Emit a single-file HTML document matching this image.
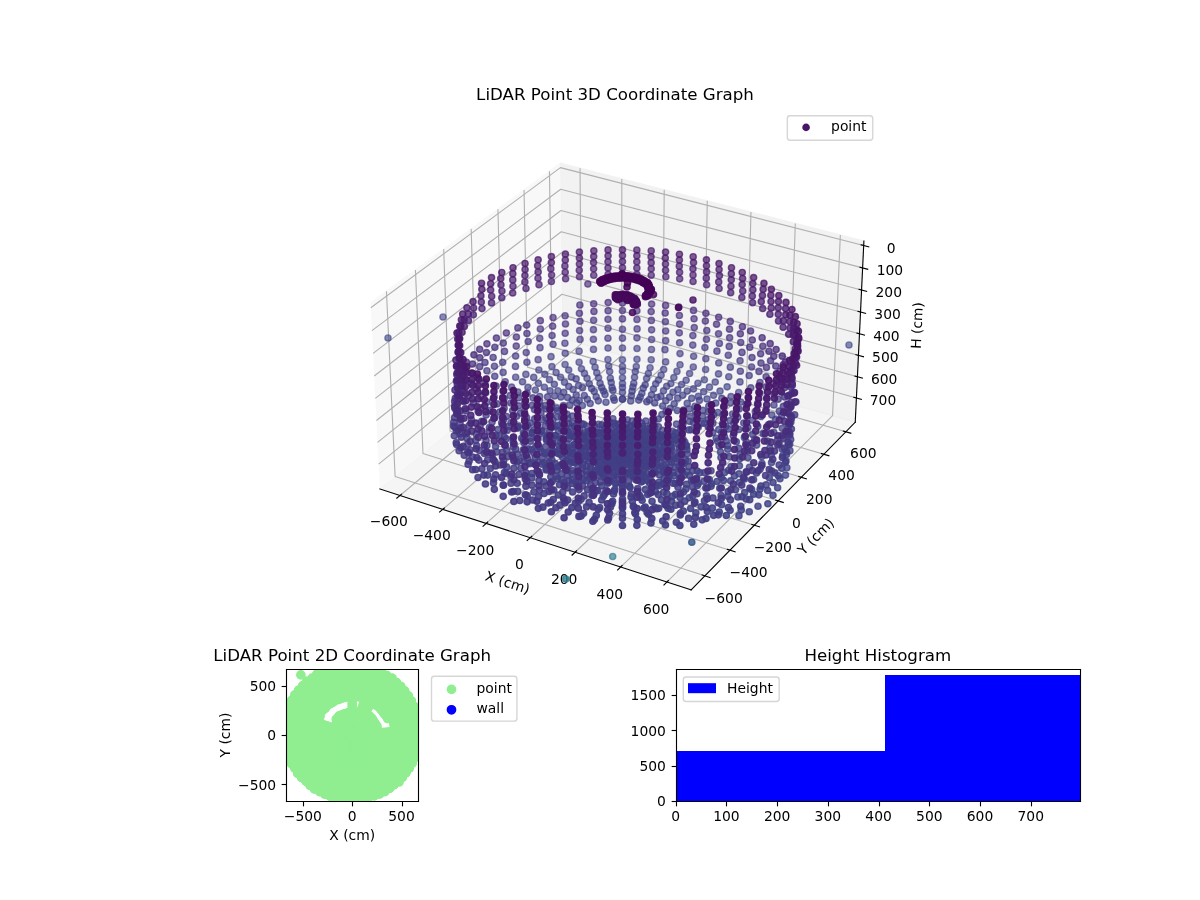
<!DOCTYPE html>
<html><head><meta charset="utf-8"><title>LiDAR Point Graph</title><style>html,body{margin:0;padding:0;background:#fff}svg{display:block}</style></head><body>
<svg width="1200" height="900" viewBox="0 0 864 648">
<defs>
<style type="text/css">#pts3d circle{fill:currentColor;stroke:currentColor;stroke-width:1;fill-opacity:var(--a);stroke-opacity:var(--a)}#pts2d circle{fill:#90ee90;stroke:#90ee90;stroke-width:1}*{stroke-linejoin: round; stroke-linecap: butt}</style>
</defs>
<g id="figure_1">
<g id="patch_1">
<path d="M 0 648 
L 864 648 
L 864 0 
L 0 0 
z
" style="fill: #ffffff"/>
</g>
<g id="patch_2">
<path d="M 252.72 457.92 
L 632.88 457.92 
L 632.88 77.76 
L 252.72 77.76 
z
" style="fill: #ffffff"/>
</g>
<g id="pane3d_1">
<g id="patch_3">
<path d="M 266.785385 218.138618 
L 403.460849 117.524691 
L 404.973247 243.490903 
L 273.518473 352.084876 
" style="fill: #f2f2f2; opacity: 0.5; stroke: #f2f2f2; stroke-linejoin: miter"/>
</g>
</g>
<g id="pane3d_2">
<g id="patch_4">
<path d="M 403.460849 117.524691 
L 622.007247 173.499312 
L 615.78127 303.992982 
L 404.973247 243.490903 
" style="fill: #e6e6e6; opacity: 0.5; stroke: #e6e6e6; stroke-linejoin: miter"/>
</g>
</g>
<g id="pane3d_3">
<g id="patch_5">
<path d="M 273.518473 352.084876 
L 497.572285 424.718985 
L 615.78127 303.992982 
L 404.973247 243.490903 
" style="fill: #ececec; opacity: 0.5; stroke: #ececec; stroke-linejoin: miter"/>
</g>
</g>
<g id="grid3d_1">
<g id="Line3DCollection_1">
<path d="M 287.986749 356.775224 
L 418.647866 247.41553 
L 417.613245 121.149437 
" style="fill: none; stroke: #b0b0b0; stroke-width: 0.8"/>
<path d="M 318.764075 366.752665 
L 447.708462 255.755945 
L 447.700319 128.855409 
" style="fill: none; stroke: #b0b0b0; stroke-width: 0.8"/>
<path d="M 350.024798 376.886814 
L 477.185952 264.21601 
L 478.234485 136.675892 
" style="fill: none; stroke: #b0b0b0; stroke-width: 0.8"/>
<path d="M 381.780398 387.181393 
L 507.08937 272.798316 
L 509.225782 144.613457 
" style="fill: none; stroke: #b0b0b0; stroke-width: 0.8"/>
<path d="M 414.042718 397.640242 
L 537.428016 281.505533 
L 540.684554 152.670752 
" style="fill: none; stroke: #b0b0b0; stroke-width: 0.8"/>
<path d="M 446.823986 408.267323 
L 568.21146 290.340407 
L 572.621458 160.850507 
" style="fill: none; stroke: #b0b0b0; stroke-width: 0.8"/>
<path d="M 480.136824 419.06673 
L 599.449557 299.305767 
L 605.047479 169.155536 
" style="fill: none; stroke: #b0b0b0; stroke-width: 0.8"/>
</g>
</g>
<g id="grid3d_2">
<g id="Line3DCollection_2">
<path d="M 278.232177 209.712038 
L 284.494977 343.017254 
L 507.486584 414.593581 
" style="fill: none; stroke: #b0b0b0; stroke-width: 0.8"/>
<path d="M 299.123406 194.332916 
L 304.543432 326.45535 
L 525.574246 396.12078 
" style="fill: none; stroke: #b0b0b0; stroke-width: 0.8"/>
<path d="M 319.455286 179.365561 
L 324.074401 310.320937 
L 543.169371 378.151002 
" style="fill: none; stroke: #b0b0b0; stroke-width: 0.8"/>
<path d="M 339.249985 164.793652 
L 343.107666 294.597676 
L 560.291808 360.663978 
" style="fill: none; stroke: #b0b0b0; stroke-width: 0.8"/>
<path d="M 358.528515 150.601722 
L 361.66201 279.270047 
L 576.960351 343.640512 
" style="fill: none; stroke: #b0b0b0; stroke-width: 0.8"/>
<path d="M 377.310805 136.775101 
L 379.755285 264.323304 
L 593.192814 327.062413 
" style="fill: none; stroke: #b0b0b0; stroke-width: 0.8"/>
<path d="M 395.615772 123.299861 
L 397.404468 249.743424 
L 609.006087 310.912429 
" style="fill: none; stroke: #b0b0b0; stroke-width: 0.8"/>
</g>
</g>
<g id="grid3d_3">
<g id="Line3DCollection_3">
<path d="M 621.849772 176.799922 
L 403.499034 120.70512 
L 266.955928 221.53136 
" style="fill: none; stroke: #b0b0b0; stroke-width: 0.8"/>
<path d="M 621.081938 192.893377 
L 403.685273 136.21679 
L 267.787301 238.070466 
" style="fill: none; stroke: #b0b0b0; stroke-width: 0.8"/>
<path d="M 620.320854 208.845349 
L 403.869958 151.598986 
L 268.61107 254.458316 
" style="fill: none; stroke: #b0b0b0; stroke-width: 0.8"/>
<path d="M 619.566432 224.657696 
L 404.053107 166.85332 
L 269.42734 270.696975 
" style="fill: none; stroke: #b0b0b0; stroke-width: 0.8"/>
<path d="M 618.818584 240.332243 
L 404.23474 181.981382 
L 270.236213 286.788471 
" style="fill: none; stroke: #b0b0b0; stroke-width: 0.8"/>
<path d="M 618.077226 255.870784 
L 404.414876 196.984732 
L 271.037788 302.734796 
" style="fill: none; stroke: #b0b0b0; stroke-width: 0.8"/>
<path d="M 617.342272 271.275082 
L 404.593533 211.864906 
L 271.832164 318.537906 
" style="fill: none; stroke: #b0b0b0; stroke-width: 0.8"/>
<path d="M 616.613641 286.546868 
L 404.770729 226.623415 
L 272.619438 334.199721 
" style="fill: none; stroke: #b0b0b0; stroke-width: 0.8"/>
</g>
</g>
<g id="axis3d_1">
<g id="line2d_1">
<path d="M 273.518473 352.084876 
L 497.572285 424.718985 
" style="fill: none; stroke: #000000; stroke-width: 0.8; stroke-linecap: square"/>
</g>
<g id="xtick_1">
<g id="line2d_2">
<path d="M 289.128794 355.819365 
L 285.697532 358.691235 
" style="fill: none; stroke: #000000; stroke-width: 0.8; stroke-linecap: square"/>
</g>
<g id="text_1">
<text style="font-size: 10px; font-family: 'DejaVu Sans', sans-serif; text-anchor: middle" x="280.009775" y="378.873636" transform="rotate(-0 280.009775 378.873636)">−600</text>
</g>
</g>
<g id="xtick_2">
<g id="line2d_3">
<path d="M 319.891859 365.781857 
L 316.503406 368.698674 
" style="fill: none; stroke: #000000; stroke-width: 0.8; stroke-linecap: square"/>
</g>
<g id="text_2">
<text style="font-size: 10px; font-family: 'DejaVu Sans', sans-serif; text-anchor: middle" x="310.826093" y="388.997288" transform="rotate(-0 310.826093 388.997288)">−400</text>
</g>
</g>
<g id="xtick_3">
<g id="line2d_4">
<path d="M 351.13773 375.900704 
L 347.793861 378.863531 
" style="fill: none; stroke: #000000; stroke-width: 0.8; stroke-linecap: square"/>
</g>
<g id="text_3">
<text style="font-size: 10px; font-family: 'DejaVu Sans', sans-serif; text-anchor: middle" x="342.128027" y="399.280474" transform="rotate(-0 342.128027 399.280474)">−200</text>
</g>
</g>
<g id="xtick_4">
<g id="line2d_5">
<path d="M 382.877864 386.179617 
L 379.580421 389.18955 
" style="fill: none; stroke: #000000; stroke-width: 0.8; stroke-linecap: square"/>
</g>
<g id="text_4">
<text style="font-size: 10px; font-family: 'DejaVu Sans', sans-serif; text-anchor: middle" x="373.927147" y="409.726992" transform="rotate(-0 373.927147 409.726992)">0</text>
</g>
</g>
<g id="xtick_5">
<g id="line2d_6">
<path d="M 415.124083 396.622422 
L 411.87498 399.680596 
" style="fill: none; stroke: #000000; stroke-width: 0.8; stroke-linecap: square"/>
</g>
<g id="text_5">
<text style="font-size: 10px; font-family: 'DejaVu Sans', sans-serif; text-anchor: middle" x="406.235394" y="420.340768" transform="rotate(-0 406.235394 420.340768)">200</text>
</g>
</g>
<g id="xtick_6">
<g id="line2d_7">
<path d="M 447.888587 407.233073 
L 444.689813 410.340655 
" style="fill: none; stroke: #000000; stroke-width: 0.8; stroke-linecap: square"/>
</g>
<g id="text_6">
<text style="font-size: 10px; font-family: 'DejaVu Sans', sans-serif; text-anchor: middle" x="439.065094" y="431.125848" transform="rotate(-0 439.065094 431.125848)">400</text>
</g>
</g>
<g id="xtick_7">
<g id="line2d_8">
<path d="M 481.183973 418.015647 
L 478.037596 421.173845 
" style="fill: none; stroke: #000000; stroke-width: 0.8; stroke-linecap: square"/>
</g>
<g id="text_7">
<text style="font-size: 10px; font-family: 'DejaVu Sans', sans-serif; text-anchor: middle" x="472.428973" y="442.086415" transform="rotate(-0 472.428973 442.086415)">600</text>
</g>
</g>
<g id="text_8">
<text style="font-size: 10px; font-family: 'DejaVu Sans', sans-serif; text-anchor: middle" x="364.45613" y="422.650536" transform="rotate(-342.038263 364.45613 422.650536)">X (cm)</text>
</g>
</g>
<g id="axis3d_2">
<g id="line2d_9">
<path d="M 615.78127 303.992982 
L 497.572285 424.718985 
" style="fill: none; stroke: #000000; stroke-width: 0.8; stroke-linecap: square"/>
</g>
<g id="xtick_8">
<g id="line2d_10">
<path d="M 505.602702 413.988888 
L 511.259464 415.804608 
" style="fill: none; stroke: #000000; stroke-width: 0.8; stroke-linecap: square"/>
</g>
<g id="text_9">
<text style="font-size: 10px; font-family: 'DejaVu Sans', sans-serif; text-anchor: middle" x="521.048891" y="434.312468" transform="rotate(-0 521.048891 434.312468)">−600</text>
</g>
</g>
<g id="xtick_9">
<g id="line2d_11">
<path d="M 523.708296 395.532661 
L 529.311143 397.29859 
" style="fill: none; stroke: #000000; stroke-width: 0.8; stroke-linecap: square"/>
</g>
<g id="text_10">
<text style="font-size: 10px; font-family: 'DejaVu Sans', sans-serif; text-anchor: middle" x="538.967327" y="415.653645" transform="rotate(-0 538.967327 415.653645)">−400</text>
</g>
</g>
<g id="xtick_10">
<g id="line2d_12">
<path d="M 541.321081 377.578786 
L 546.870832 379.296945 
" style="fill: none; stroke: #000000; stroke-width: 0.8; stroke-linecap: square"/>
</g>
<g id="text_11">
<text style="font-size: 10px; font-family: 'DejaVu Sans', sans-serif; text-anchor: middle" x="556.397352" y="397.503415" transform="rotate(-0 556.397352 397.503415)">−200</text>
</g>
</g>
<g id="xtick_11">
<g id="line2d_13">
<path d="M 558.460909 360.107028 
L 563.958375 361.779329 
" style="fill: none; stroke: #000000; stroke-width: 0.8; stroke-linecap: square"/>
</g>
<g id="text_12">
<text style="font-size: 10px; font-family: 'DejaVu Sans', sans-serif; text-anchor: middle" x="573.358665" y="379.841263" transform="rotate(-0 573.358665 379.841263)">0</text>
</g>
</g>
<g id="xtick_12">
<g id="line2d_14">
<path d="M 575.146577 343.098225 
L 580.592562 344.72648 
" style="fill: none; stroke: #000000; stroke-width: 0.8; stroke-linecap: square"/>
</g>
<g id="text_13">
<text style="font-size: 10px; font-family: 'DejaVu Sans', sans-serif; text-anchor: middle" x="589.869923" y="362.647763" transform="rotate(-0 589.869923 362.647763)">200</text>
</g>
</g>
<g id="xtick_13">
<g id="line2d_15">
<path d="M 591.3959 326.534218 
L 596.791199 328.120144 
" style="fill: none; stroke: #000000; stroke-width: 0.8; stroke-linecap: square"/>
</g>
<g id="text_14">
<text style="font-size: 10px; font-family: 'DejaVu Sans', sans-serif; text-anchor: middle" x="605.948803" y="345.904506" transform="rotate(-0 605.948803 345.904506)">400</text>
</g>
</g>
<g id="xtick_14">
<g id="line2d_16">
<path d="M 607.225774 310.397782 
L 612.571171 311.94301 
" style="fill: none; stroke: #000000; stroke-width: 0.8; stroke-linecap: square"/>
</g>
<g id="text_15">
<text style="font-size: 10px; font-family: 'DejaVu Sans', sans-serif; text-anchor: middle" x="621.612071" y="329.594035" transform="rotate(-0 621.612071 329.594035)">600</text>
</g>
</g>
<g id="text_16">
<text style="font-size: 10px; font-family: 'DejaVu Sans', sans-serif; text-anchor: middle" x="589.874428" y="388.676805" transform="rotate(-45.60355 589.874428 388.676805)">Y (cm)</text>
</g>
</g>
<g id="axis3d_3">
<g id="line2d_17">
<path d="M 615.78127 303.992982 
L 622.007247 173.499312 
" style="fill: none; stroke: #000000; stroke-width: 0.8; stroke-linecap: square"/>
</g>
<g id="xtick_15">
<g id="line2d_18">
<path d="M 620.009936 176.327264 
L 625.53419 177.746458 
" style="fill: none; stroke: #000000; stroke-width: 0.8; stroke-linecap: square"/>
</g>
<g id="text_17">
<text style="font-size: 10px; font-family: 'DejaVu Sans', sans-serif; text-anchor: middle" x="641.612363" y="181.907448" transform="rotate(-0 641.612363 181.907448)">0</text>
</g>
</g>
<g id="xtick_16">
<g id="line2d_19">
<path d="M 619.25055 192.415923 
L 624.749418 193.84951 
" style="fill: none; stroke: #000000; stroke-width: 0.8; stroke-linecap: square"/>
</g>
<g id="text_18">
<text style="font-size: 10px; font-family: 'DejaVu Sans', sans-serif; text-anchor: middle" x="640.759202" y="197.97561" transform="rotate(-0 640.759202 197.97561)">100</text>
</g>
</g>
<g id="xtick_17">
<g id="line2d_20">
<path d="M 618.497837 208.363202 
L 623.971551 209.810875 
" style="fill: none; stroke: #000000; stroke-width: 0.8; stroke-linecap: square"/>
</g>
<g id="text_19">
<text style="font-size: 10px; font-family: 'DejaVu Sans', sans-serif; text-anchor: middle" x="639.913526" y="213.902828" transform="rotate(-0 639.913526 213.902828)">200</text>
</g>
</g>
<g id="xtick_18">
<g id="line2d_21">
<path d="M 617.75171 224.170956 
L 623.200497 225.632415 
" style="fill: none; stroke: #000000; stroke-width: 0.8; stroke-linecap: square"/>
</g>
<g id="text_20">
<text style="font-size: 10px; font-family: 'DejaVu Sans', sans-serif; text-anchor: middle" x="639.075235" y="229.690949" transform="rotate(-0 639.075235 229.690949)">300</text>
</g>
</g>
<g id="xtick_19">
<g id="line2d_22">
<path d="M 617.012082 239.841009 
L 622.43617 241.315958 
" style="fill: none; stroke: #000000; stroke-width: 0.8; stroke-linecap: square"/>
</g>
<g id="text_21">
<text style="font-size: 10px; font-family: 'DejaVu Sans', sans-serif; text-anchor: middle" x="638.244233" y="245.341788" transform="rotate(-0 638.244233 245.341788)">400</text>
</g>
</g>
<g id="xtick_20">
<g id="line2d_23">
<path d="M 616.278869 255.375151 
L 621.678479 256.863302 
" style="fill: none; stroke: #000000; stroke-width: 0.8; stroke-linecap: square"/>
</g>
<g id="text_22">
<text style="font-size: 10px; font-family: 'DejaVu Sans', sans-serif; text-anchor: middle" x="637.420425" y="260.857127" transform="rotate(-0 637.420425 260.857127)">500</text>
</g>
</g>
<g id="xtick_21">
<g id="line2d_24">
<path d="M 615.551988 270.775144 
L 620.92734 272.276214 
" style="fill: none; stroke: #000000; stroke-width: 0.8; stroke-linecap: square"/>
</g>
<g id="text_23">
<text style="font-size: 10px; font-family: 'DejaVu Sans', sans-serif; text-anchor: middle" x="636.60372" y="276.238718" transform="rotate(-0 636.60372 276.238718)">600</text>
</g>
</g>
<g id="xtick_22">
<g id="line2d_25">
<path d="M 614.831357 286.042718 
L 620.182669 287.556429 
" style="fill: none; stroke: #000000; stroke-width: 0.8; stroke-linecap: square"/>
</g>
<g id="text_24">
<text style="font-size: 10px; font-family: 'DejaVu Sans', sans-serif; text-anchor: middle" x="635.794024" y="291.488284" transform="rotate(-0 635.794024 291.488284)">700</text>
</g>
</g>
<g id="text_25">
<text style="font-size: 10px; font-family: 'DejaVu Sans', sans-serif; text-anchor: middle" x="663.718082" y="234.453669" transform="rotate(-87.268435 663.718082 234.453669)">H (cm)</text>
</g>
</g>
<g id="axes_1">
<defs>
<path id="C0_0_0b128e3c6b" d="M 0 2.236068 
C 0.593012 2.236068 1.161816 2.000462 1.581139 1.581139 
C 2.000462 1.161816 2.236068 0.593012 2.236068 -0 
C 2.236068 -0.593012 2.000462 -1.161816 1.581139 -1.581139 
C 1.161816 -2.000462 0.593012 -2.236068 0 -2.236068 
C -0.593012 -2.236068 -1.161816 -2.000462 -1.581139 -1.581139 
C -2.000462 -1.161816 -2.236068 -0.593012 -2.236068 0 
C -2.236068 0.593012 -2.000462 1.161816 -1.581139 1.581139 
C -1.161816 2.000462 -0.593012 2.236068 0 2.236068 
z
"/>
</defs><g id="pts3d" clip-path="url(#p70e1b0653e)">
<circle cx="318.96" cy="228.24" r="2.236" color="#414487" style="--a:0.62"/>
<circle cx="611.28" cy="248.4" r="2.236" color="#3e4989" style="--a:0.62"/>
<circle cx="279.36" cy="243.36" r="2.236" color="#3f4788" style="--a:0.62"/>
<circle cx="407.38" cy="416.88" r="2.236" color="#26818e" style="--a:0.8"/>
<circle cx="441.14" cy="400.68" r="2.236" color="#297a8e" style="--a:0.65"/>
<circle cx="448.18" cy="259.07" r="2.236" color="#424186" style="--a:0.61"/>
<circle cx="427.07" cy="260.25" r="2.236" color="#424186" style="--a:0.61"/>
<circle cx="437.71" cy="258.86" r="2.236" color="#424086" style="--a:0.61"/>
<circle cx="458.62" cy="258.73" r="2.236" color="#424086" style="--a:0.61"/>
<circle cx="416.96" cy="260.84" r="2.236" color="#424086" style="--a:0.62"/>
<circle cx="468.87" cy="259.01" r="2.236" color="#424086" style="--a:0.62"/>
<circle cx="479.26" cy="260.57" r="2.236" color="#424086" style="--a:0.62"/>
<circle cx="448.18" cy="263.84" r="2.236" color="#424186" style="--a:0.62"/>
<circle cx="458.12" cy="263.95" r="2.236" color="#424186" style="--a:0.62"/>
<circle cx="458.65" cy="250.91" r="2.236" color="#433d84" style="--a:0.62"/>
<circle cx="489.6" cy="262.6" r="2.236" color="#424186" style="--a:0.62"/>
<circle cx="468.05" cy="264.78" r="2.236" color="#424186" style="--a:0.62"/>
<circle cx="448.18" cy="250.51" r="2.236" color="#433d84" style="--a:0.62"/>
<circle cx="438.29" cy="263.6" r="2.236" color="#424186" style="--a:0.62"/>
<circle cx="406.85" cy="262.44" r="2.236" color="#424086" style="--a:0.62"/>
<circle cx="437.77" cy="250.61" r="2.236" color="#443b84" style="--a:0.62"/>
<circle cx="469.06" cy="251.62" r="2.236" color="#433d84" style="--a:0.62"/>
<circle cx="428.42" cy="264.38" r="2.236" color="#424186" style="--a:0.62"/>
<circle cx="427.31" cy="251.58" r="2.236" color="#433d84" style="--a:0.62"/>
<circle cx="477.88" cy="265.99" r="2.236" color="#424186" style="--a:0.62"/>
<circle cx="418.66" cy="265.56" r="2.236" color="#424186" style="--a:0.62"/>
<circle cx="416.97" cy="252.84" r="2.236" color="#433d84" style="--a:0.62"/>
<circle cx="448.18" cy="243.46" r="2.236" color="#443983" style="--a:0.63"/>
<circle cx="487.41" cy="267.39" r="2.236" color="#424186" style="--a:0.63"/>
<circle cx="499.17" cy="264.26" r="2.236" color="#424086" style="--a:0.63"/>
<circle cx="437.71" cy="243.49" r="2.236" color="#453882" style="--a:0.63"/>
<circle cx="469.17" cy="244.46" r="2.236" color="#443983" style="--a:0.63"/>
<circle cx="489.6" cy="254.58" r="2.236" color="#433d84" style="--a:0.63"/>
<circle cx="397.39" cy="263.99" r="2.236" color="#424086" style="--a:0.63"/>
<circle cx="427.26" cy="244.3" r="2.236" color="#443983" style="--a:0.63"/>
<circle cx="448.18" cy="237.06" r="2.236" color="#453581" style="--a:0.63"/>
<circle cx="458.59" cy="243.27" r="2.236" color="#453882" style="--a:0.63"/>
<circle cx="406.95" cy="254.32" r="2.236" color="#433d84" style="--a:0.63"/>
<circle cx="466.81" cy="268.95" r="2.236" color="#424186" style="--a:0.63"/>
<circle cx="478.77" cy="251.75" r="2.236" color="#443b84" style="--a:0.63"/>
<circle cx="448.18" cy="267.33" r="2.236" color="#424186" style="--a:0.63"/>
<circle cx="409.44" cy="266.49" r="2.236" color="#424186" style="--a:0.63"/>
<circle cx="438.93" cy="267.56" r="2.236" color="#424186" style="--a:0.63"/>
<circle cx="457.42" cy="267.51" r="2.236" color="#424186" style="--a:0.63"/>
<circle cx="429.68" cy="268.42" r="2.236" color="#424186" style="--a:0.63"/>
<circle cx="476.01" cy="270.06" r="2.236" color="#414287" style="--a:0.63"/>
<circle cx="507.14" cy="273.43" r="2.236" color="#414487" style="--a:0.63"/>
<circle cx="479.29" cy="245.26" r="2.236" color="#453882" style="--a:0.63"/>
<circle cx="458.7" cy="236.81" r="2.236" color="#453581" style="--a:0.63"/>
<circle cx="396.74" cy="256.78" r="2.236" color="#433d84" style="--a:0.63"/>
<circle cx="499.41" cy="256.55" r="2.236" color="#433d84" style="--a:0.63"/>
<circle cx="496.51" cy="268.97" r="2.236" color="#424186" style="--a:0.63"/>
<circle cx="469.17" cy="237.49" r="2.236" color="#453581" style="--a:0.63"/>
<circle cx="485.19" cy="271.85" r="2.236" color="#414287" style="--a:0.63"/>
<circle cx="423.25" cy="204.51" r="2.236" color="#482878" style="--a:0.63"/>
<circle cx="387.99" cy="266.4" r="2.236" color="#424086" style="--a:0.63"/>
<circle cx="406.75" cy="247.12" r="2.236" color="#443983" style="--a:0.63"/>
<circle cx="427.27" cy="237.34" r="2.236" color="#463480" style="--a:0.63"/>
<circle cx="437.77" cy="236.36" r="2.236" color="#463480" style="--a:0.63"/>
<circle cx="508.05" cy="266.03" r="2.236" color="#424086" style="--a:0.63"/>
<circle cx="411.42" cy="271.35" r="2.236" color="#424186" style="--a:0.63"/>
<circle cx="420.81" cy="268.86" r="2.236" color="#424186" style="--a:0.63"/>
<circle cx="400.39" cy="268.17" r="2.236" color="#424086" style="--a:0.63"/>
<circle cx="489.3" cy="246.76" r="2.236" color="#453882" style="--a:0.64"/>
<circle cx="448.18" cy="271.99" r="2.236" color="#424186" style="--a:0.64"/>
<circle cx="439.44" cy="272.3" r="2.236" color="#414287" style="--a:0.64"/>
<circle cx="417.66" cy="244.35" r="2.236" color="#453781" style="--a:0.64"/>
<circle cx="479.29" cy="238.34" r="2.236" color="#463480" style="--a:0.64"/>
<circle cx="494.03" cy="273.76" r="2.236" color="#414287" style="--a:0.64"/>
<circle cx="456.85" cy="271.69" r="2.236" color="#424186" style="--a:0.64"/>
<circle cx="465.55" cy="272.61" r="2.236" color="#424186" style="--a:0.64"/>
<circle cx="387.47" cy="258.96" r="2.236" color="#433d84" style="--a:0.64"/>
<circle cx="458.61" cy="229.99" r="2.236" color="#46307e" style="--a:0.64"/>
<circle cx="417.3" cy="238.03" r="2.236" color="#463480" style="--a:0.64"/>
<circle cx="378.63" cy="269.58" r="2.236" color="#424086" style="--a:0.64"/>
<circle cx="437.76" cy="229.95" r="2.236" color="#46307e" style="--a:0.64"/>
<circle cx="448.18" cy="229.62" r="2.236" color="#46307e" style="--a:0.64"/>
<circle cx="483.01" cy="276.15" r="2.236" color="#414287" style="--a:0.64"/>
<circle cx="430.95" cy="272.01" r="2.236" color="#424186" style="--a:0.64"/>
<circle cx="474.11" cy="273.63" r="2.236" color="#424186" style="--a:0.64"/>
<circle cx="468.99" cy="230.68" r="2.236" color="#46307e" style="--a:0.64"/>
<circle cx="517.34" cy="269.19" r="2.236" color="#424086" style="--a:0.64"/>
<circle cx="406.94" cy="239.97" r="2.236" color="#463480" style="--a:0.64"/>
<circle cx="508.19" cy="258.25" r="2.236" color="#443b84" style="--a:0.64"/>
<circle cx="427.43" cy="230.57" r="2.236" color="#46307e" style="--a:0.64"/>
<circle cx="514.97" cy="275.07" r="2.236" color="#414287" style="--a:0.64"/>
<circle cx="498.8" cy="248.47" r="2.236" color="#453882" style="--a:0.64"/>
<circle cx="489.11" cy="239.64" r="2.236" color="#463480" style="--a:0.64"/>
<circle cx="502.52" cy="275.95" r="2.236" color="#414287" style="--a:0.64"/>
<circle cx="448.18" cy="276.18" r="2.236" color="#414287" style="--a:0.64"/>
<circle cx="392.26" cy="269.53" r="2.236" color="#424086" style="--a:0.64"/>
<circle cx="422.66" cy="272.43" r="2.236" color="#424186" style="--a:0.64"/>
<circle cx="403.63" cy="271.61" r="2.236" color="#424086" style="--a:0.64"/>
<circle cx="464.53" cy="277.07" r="2.236" color="#414287" style="--a:0.64"/>
<circle cx="479.09" cy="231.62" r="2.236" color="#46307e" style="--a:0.64"/>
<circle cx="398.19" cy="247.84" r="2.236" color="#453882" style="--a:0.64"/>
<circle cx="456.32" cy="275.95" r="2.236" color="#414287" style="--a:0.64"/>
<circle cx="448.18" cy="223.57" r="2.236" color="#472e7c" style="--a:0.64"/>
<circle cx="458.58" cy="223.81" r="2.236" color="#472e7c" style="--a:0.64"/>
<circle cx="448.18" cy="218.18" r="2.236" color="#472c7a" style="--a:0.65"/>
<circle cx="437.82" cy="223.7" r="2.236" color="#472d7b" style="--a:0.65"/>
<circle cx="440.09" cy="275.43" r="2.236" color="#424186" style="--a:0.65"/>
<circle cx="417.6" cy="231.26" r="2.236" color="#46307e" style="--a:0.65"/>
<circle cx="490.74" cy="276.86" r="2.236" color="#414287" style="--a:0.65"/>
<circle cx="489.31" cy="233.35" r="2.236" color="#46307e" style="--a:0.65"/>
<circle cx="517.49" cy="261.34" r="2.236" color="#433d84" style="--a:0.65"/>
<circle cx="498.88" cy="241.64" r="2.236" color="#463480" style="--a:0.65"/>
<circle cx="432.04" cy="276.01" r="2.236" color="#424186" style="--a:0.65"/>
<circle cx="397.51" cy="241.62" r="2.236" color="#463480" style="--a:0.65"/>
<circle cx="407.14" cy="233.27" r="2.236" color="#46307e" style="--a:0.65"/>
<circle cx="468.84" cy="224.37" r="2.236" color="#472e7c" style="--a:0.65"/>
<circle cx="523.55" cy="278.55" r="2.236" color="#414287" style="--a:0.65"/>
<circle cx="499.87" cy="235.89" r="2.236" color="#46327e" style="--a:0.65"/>
<circle cx="510.8" cy="278.73" r="2.236" color="#414287" style="--a:0.65"/>
<circle cx="379.39" cy="260.86" r="2.236" color="#443b84" style="--a:0.65"/>
<circle cx="427.64" cy="224.21" r="2.236" color="#472d7b" style="--a:0.65"/>
<circle cx="499.3" cy="280.01" r="2.236" color="#414287" style="--a:0.65"/>
<circle cx="417.17" cy="225.62" r="2.236" color="#472e7c" style="--a:0.65"/>
<circle cx="469.16" cy="218.95" r="2.236" color="#472c7a" style="--a:0.65"/>
<circle cx="414.83" cy="272.82" r="2.236" color="#424086" style="--a:0.65"/>
<circle cx="388.79" cy="250.3" r="2.236" color="#453882" style="--a:0.65"/>
<circle cx="507.55" cy="250.29" r="2.236" color="#453882" style="--a:0.65"/>
<circle cx="395.65" cy="273.35" r="2.236" color="#424086" style="--a:0.65"/>
<circle cx="458.56" cy="218" r="2.236" color="#472a7a" style="--a:0.65"/>
<circle cx="371.29" cy="271.62" r="2.236" color="#423f85" style="--a:0.65"/>
<circle cx="478.93" cy="225.39" r="2.236" color="#472d7b" style="--a:0.65"/>
<circle cx="472.09" cy="276.37" r="2.236" color="#424186" style="--a:0.65"/>
<circle cx="424.28" cy="276.34" r="2.236" color="#424186" style="--a:0.65"/>
<circle cx="406.88" cy="227.34" r="2.236" color="#472e7c" style="--a:0.65"/>
<circle cx="384.28" cy="271.72" r="2.236" color="#423f85" style="--a:0.65"/>
<circle cx="406.47" cy="275.29" r="2.236" color="#424086" style="--a:0.65"/>
<circle cx="524.72" cy="271.28" r="2.236" color="#423f85" style="--a:0.65"/>
<circle cx="427.46" cy="218.69" r="2.236" color="#472a7a" style="--a:0.65"/>
<circle cx="508.63" cy="244.29" r="2.236" color="#463480" style="--a:0.65"/>
<circle cx="437.87" cy="217.88" r="2.236" color="#472a7a" style="--a:0.65"/>
<circle cx="480.02" cy="278.14" r="2.236" color="#424186" style="--a:0.65"/>
<circle cx="489.17" cy="227.12" r="2.236" color="#472e7c" style="--a:0.65"/>
<circle cx="448.18" cy="279" r="2.236" color="#424186" style="--a:0.65"/>
<circle cx="378.89" cy="253.88" r="2.236" color="#453882" style="--a:0.65"/>
<circle cx="479.24" cy="219.88" r="2.236" color="#472a7a" style="--a:0.65"/>
<circle cx="416.55" cy="277.61" r="2.236" color="#424186" style="--a:0.65"/>
<circle cx="488" cy="280.6" r="2.236" color="#414287" style="--a:0.65"/>
<circle cx="440.65" cy="278.99" r="2.236" color="#424186" style="--a:0.65"/>
<circle cx="499.71" cy="229.55" r="2.236" color="#472e7c" style="--a:0.65"/>
<circle cx="397.9" cy="234.85" r="2.236" color="#46307e" style="--a:0.65"/>
<circle cx="455.68" cy="278.65" r="2.236" color="#424186" style="--a:0.65"/>
<circle cx="531.86" cy="282.6" r="2.236" color="#414287" style="--a:0.65"/>
<circle cx="388.61" cy="243.61" r="2.236" color="#463480" style="--a:0.65"/>
<circle cx="463.18" cy="279.48" r="2.236" color="#424186" style="--a:0.65"/>
<circle cx="525.83" cy="264.35" r="2.236" color="#443b84" style="--a:0.66"/>
<circle cx="506.65" cy="282.04" r="2.236" color="#414287" style="--a:0.66"/>
<circle cx="518.42" cy="281.55" r="2.236" color="#414287" style="--a:0.66"/>
<circle cx="387.65" cy="276.03" r="2.236" color="#424086" style="--a:0.66"/>
<circle cx="417.5" cy="219.61" r="2.236" color="#472a7a" style="--a:0.66"/>
<circle cx="433.24" cy="279.12" r="2.236" color="#424186" style="--a:0.66"/>
<circle cx="508.88" cy="237.91" r="2.236" color="#46327e" style="--a:0.66"/>
<circle cx="371.15" cy="263.82" r="2.236" color="#443b84" style="--a:0.66"/>
<circle cx="516.19" cy="252.84" r="2.236" color="#453781" style="--a:0.66"/>
<circle cx="470.51" cy="280.14" r="2.236" color="#424186" style="--a:0.66"/>
<circle cx="399.13" cy="276.69" r="2.236" color="#424086" style="--a:0.66"/>
<circle cx="517.93" cy="247.25" r="2.236" color="#453581" style="--a:0.66"/>
<circle cx="376.21" cy="274.91" r="2.236" color="#423f85" style="--a:0.66"/>
<circle cx="425.96" cy="279.74" r="2.236" color="#424186" style="--a:0.66"/>
<circle cx="409.5" cy="278.24" r="2.236" color="#424086" style="--a:0.66"/>
<circle cx="532.77" cy="274.96" r="2.236" color="#423f85" style="--a:0.66"/>
<circle cx="488.75" cy="221.09" r="2.236" color="#472a7a" style="--a:0.66"/>
<circle cx="477.73" cy="281.33" r="2.236" color="#424186" style="--a:0.66"/>
<circle cx="363.75" cy="274.81" r="2.236" color="#423f85" style="--a:0.66"/>
<circle cx="494.81" cy="281.53" r="2.236" color="#424186" style="--a:0.66"/>
<circle cx="398.18" cy="228.61" r="2.236" color="#472d7b" style="--a:0.66"/>
<circle cx="448.18" cy="282.42" r="2.236" color="#424186" style="--a:0.66"/>
<circle cx="499.32" cy="223.47" r="2.236" color="#472a7a" style="--a:0.66"/>
<circle cx="401.66" cy="281.33" r="2.236" color="#424186" style="--a:0.66"/>
<circle cx="526.31" cy="285.56" r="2.236" color="#414287" style="--a:0.66"/>
<circle cx="389.05" cy="236.88" r="2.236" color="#46307e" style="--a:0.66"/>
<circle cx="462.14" cy="283.14" r="2.236" color="#414287" style="--a:0.66"/>
<circle cx="502.8" cy="285.41" r="2.236" color="#414287" style="--a:0.66"/>
<circle cx="380.13" cy="278.94" r="2.236" color="#424086" style="--a:0.66"/>
<circle cx="513.74" cy="284.63" r="2.236" color="#414287" style="--a:0.66"/>
<circle cx="469.08" cy="284.26" r="2.236" color="#414287" style="--a:0.66"/>
<circle cx="362.24" cy="268.14" r="2.236" color="#433d84" style="--a:0.66"/>
<circle cx="380.29" cy="245.93" r="2.236" color="#46337f" style="--a:0.66"/>
<circle cx="455.1" cy="281.64" r="2.236" color="#424186" style="--a:0.66"/>
<circle cx="371.27" cy="256.35" r="2.236" color="#453882" style="--a:0.66"/>
<circle cx="391.95" cy="278.81" r="2.236" color="#424086" style="--a:0.66"/>
<circle cx="484.57" cy="282.41" r="2.236" color="#424186" style="--a:0.66"/>
<circle cx="368.34" cy="278.7" r="2.236" color="#424086" style="--a:0.66"/>
<circle cx="441.31" cy="281.07" r="2.236" color="#424086" style="--a:0.66"/>
<circle cx="448.18" cy="287.19" r="2.236" color="#414287" style="--a:0.66"/>
<circle cx="507.87" cy="231.16" r="2.236" color="#472d7b" style="--a:0.66"/>
<circle cx="517.36" cy="240.32" r="2.236" color="#46307e" style="--a:0.66"/>
<circle cx="538.66" cy="286.02" r="2.236" color="#414287" style="--a:0.67"/>
<circle cx="475.84" cy="285.37" r="2.236" color="#414287" style="--a:0.67"/>
<circle cx="524.36" cy="255.79" r="2.236" color="#453781" style="--a:0.67"/>
<circle cx="419.42" cy="279.11" r="2.236" color="#424086" style="--a:0.67"/>
<circle cx="533.05" cy="267.26" r="2.236" color="#443b84" style="--a:0.67"/>
<circle cx="434.49" cy="281.53" r="2.236" color="#424186" style="--a:0.67"/>
<circle cx="379.4" cy="240.08" r="2.236" color="#46307e" style="--a:0.67"/>
<circle cx="389.03" cy="230.86" r="2.236" color="#472d7b" style="--a:0.67"/>
<circle cx="420.71" cy="284.77" r="2.236" color="#424186" style="--a:0.67"/>
<circle cx="441.68" cy="286.35" r="2.236" color="#414287" style="--a:0.67"/>
<circle cx="491.5" cy="284.58" r="2.236" color="#424186" style="--a:0.67"/>
<circle cx="540.56" cy="279.24" r="2.236" color="#423f85" style="--a:0.67"/>
<circle cx="448.18" cy="197.33" r="2.236" color="#481f70" style="--a:0.67"/>
<circle cx="508.25" cy="225.57" r="2.236" color="#472a7a" style="--a:0.67"/>
<circle cx="427.85" cy="281.9" r="2.236" color="#424086" style="--a:0.67"/>
<circle cx="458.51" cy="197.54" r="2.236" color="#481f70" style="--a:0.67"/>
<circle cx="437.86" cy="197.54" r="2.236" color="#481f70" style="--a:0.67"/>
<circle cx="361.93" cy="260.88" r="2.236" color="#453882" style="--a:0.67"/>
<circle cx="468.89" cy="198.18" r="2.236" color="#481f70" style="--a:0.67"/>
<circle cx="412.63" cy="280.45" r="2.236" color="#424086" style="--a:0.67"/>
<circle cx="372.92" cy="282.34" r="2.236" color="#424086" style="--a:0.67"/>
<circle cx="427.49" cy="198.18" r="2.236" color="#481f70" style="--a:0.67"/>
<circle cx="525.03" cy="249.41" r="2.236" color="#463480" style="--a:0.67"/>
<circle cx="533.34" cy="289.48" r="2.236" color="#414487" style="--a:0.67"/>
<circle cx="467.55" cy="287.74" r="2.236" color="#414287" style="--a:0.67"/>
<circle cx="479.4" cy="199.27" r="2.236" color="#482071" style="--a:0.67"/>
<circle cx="509.02" cy="287.25" r="2.236" color="#414287" style="--a:0.67"/>
<circle cx="371.69" cy="249.18" r="2.236" color="#46337f" style="--a:0.67"/>
<circle cx="482.09" cy="285.95" r="2.236" color="#424186" style="--a:0.67"/>
<circle cx="454.58" cy="284.98" r="2.236" color="#424186" style="--a:0.67"/>
<circle cx="379.2" cy="234.07" r="2.236" color="#472e7c" style="--a:0.67"/>
<circle cx="460.99" cy="285.79" r="2.236" color="#424186" style="--a:0.67"/>
<circle cx="437.76" cy="192.91" r="2.236" color="#481c6e" style="--a:0.67"/>
<circle cx="357.2" cy="278.01" r="2.236" color="#423f85" style="--a:0.67"/>
<circle cx="385.5" cy="280.82" r="2.236" color="#424086" style="--a:0.67"/>
<circle cx="396.08" cy="281.36" r="2.236" color="#424086" style="--a:0.67"/>
<circle cx="417.25" cy="199.25" r="2.236" color="#481f70" style="--a:0.67"/>
<circle cx="448.18" cy="192.73" r="2.236" color="#481c6e" style="--a:0.67"/>
<circle cx="519.73" cy="286.77" r="2.236" color="#424186" style="--a:0.67"/>
<circle cx="458.53" cy="192.94" r="2.236" color="#481c6e" style="--a:0.67"/>
<circle cx="498.05" cy="286.81" r="2.236" color="#424186" style="--a:0.67"/>
<circle cx="427.41" cy="193.55" r="2.236" color="#481c6e" style="--a:0.67"/>
<circle cx="532.85" cy="259.72" r="2.236" color="#453882" style="--a:0.67"/>
<circle cx="405.9" cy="282.5" r="2.236" color="#424086" style="--a:0.67"/>
<circle cx="468.88" cy="193.56" r="2.236" color="#481c6e" style="--a:0.67"/>
<circle cx="388.56" cy="285.46" r="2.236" color="#424186" style="--a:0.67"/>
<circle cx="414.87" cy="284.41" r="2.236" color="#424086" style="--a:0.67"/>
<circle cx="489.37" cy="200.76" r="2.236" color="#481f70" style="--a:0.67"/>
<circle cx="525.32" cy="243.13" r="2.236" color="#46307e" style="--a:0.67"/>
<circle cx="437.75" cy="188.41" r="2.236" color="#481b6d" style="--a:0.67"/>
<circle cx="515.92" cy="233.42" r="2.236" color="#472d7b" style="--a:0.67"/>
<circle cx="417.06" cy="194.6" r="2.236" color="#481c6e" style="--a:0.67"/>
<circle cx="429.26" cy="285.64" r="2.236" color="#424186" style="--a:0.67"/>
<circle cx="545.46" cy="290.38" r="2.236" color="#414287" style="--a:0.67"/>
<circle cx="422.9" cy="287.53" r="2.236" color="#424186" style="--a:0.67"/>
<circle cx="435.63" cy="284.02" r="2.236" color="#424086" style="--a:0.67"/>
<circle cx="517.44" cy="228.39" r="2.236" color="#472a7a" style="--a:0.67"/>
<circle cx="479.19" cy="194.61" r="2.236" color="#481c6e" style="--a:0.68"/>
<circle cx="362.21" cy="281.62" r="2.236" color="#423f85" style="--a:0.68"/>
<circle cx="534.24" cy="253.74" r="2.236" color="#463480" style="--a:0.68"/>
<circle cx="407.24" cy="200.74" r="2.236" color="#481f70" style="--a:0.68"/>
<circle cx="356.22" cy="270.93" r="2.236" color="#443b84" style="--a:0.68"/>
<circle cx="427.36" cy="189.04" r="2.236" color="#481b6d" style="--a:0.68"/>
<circle cx="399.26" cy="285.13" r="2.236" color="#424086" style="--a:0.68"/>
<circle cx="458.52" cy="188.5" r="2.236" color="#481a6c" style="--a:0.68"/>
<circle cx="371.8" cy="242.68" r="2.236" color="#46307e" style="--a:0.68"/>
<circle cx="515.34" cy="290.2" r="2.236" color="#414287" style="--a:0.68"/>
<circle cx="436.3" cy="289.62" r="2.236" color="#414287" style="--a:0.68"/>
<circle cx="487.91" cy="286.62" r="2.236" color="#424186" style="--a:0.68"/>
<circle cx="454.11" cy="288.7" r="2.236" color="#424186" style="--a:0.68"/>
<circle cx="448.18" cy="188.34" r="2.236" color="#481a6c" style="--a:0.68"/>
<circle cx="494.81" cy="290.46" r="2.236" color="#414287" style="--a:0.68"/>
<circle cx="539.42" cy="270.35" r="2.236" color="#443a83" style="--a:0.68"/>
<circle cx="468.84" cy="189.11" r="2.236" color="#481a6c" style="--a:0.68"/>
<circle cx="408.66" cy="286.16" r="2.236" color="#424086" style="--a:0.68"/>
<circle cx="363.23" cy="253.02" r="2.236" color="#463480" style="--a:0.68"/>
<circle cx="473.07" cy="286.15" r="2.236" color="#424086" style="--a:0.68"/>
<circle cx="442.29" cy="288.13" r="2.236" color="#424186" style="--a:0.68"/>
<circle cx="406.96" cy="196.08" r="2.236" color="#481d6f" style="--a:0.68"/>
<circle cx="397.01" cy="202.68" r="2.236" color="#482071" style="--a:0.68"/>
<circle cx="479.35" cy="288.49" r="2.236" color="#424186" style="--a:0.68"/>
<circle cx="489.32" cy="196.09" r="2.236" color="#481c6e" style="--a:0.68"/>
<circle cx="417.04" cy="288.42" r="2.236" color="#424186" style="--a:0.68"/>
<circle cx="547.08" cy="283.29" r="2.236" color="#423f85" style="--a:0.68"/>
<circle cx="448.18" cy="287.44" r="2.236" color="#424186" style="--a:0.68"/>
<circle cx="417.18" cy="190.12" r="2.236" color="#481a6c" style="--a:0.68"/>
<circle cx="437.81" cy="184.14" r="2.236" color="#48186a" style="--a:0.68"/>
<circle cx="479.15" cy="190.13" r="2.236" color="#481a6c" style="--a:0.68"/>
<circle cx="458.53" cy="184.17" r="2.236" color="#481769" style="--a:0.68"/>
<circle cx="525.96" cy="290.16" r="2.236" color="#424186" style="--a:0.68"/>
<circle cx="349.78" cy="282.86" r="2.236" color="#423f85" style="--a:0.68"/>
<circle cx="525.25" cy="236.97" r="2.236" color="#472d7b" style="--a:0.68"/>
<circle cx="499.01" cy="202.65" r="2.236" color="#481f70" style="--a:0.68"/>
<circle cx="448.18" cy="184.01" r="2.236" color="#481769" style="--a:0.68"/>
<circle cx="492.11" cy="295.15" r="2.236" color="#414487" style="--a:0.68"/>
<circle cx="379.49" cy="283.22" r="2.236" color="#423f85" style="--a:0.68"/>
<circle cx="459.86" cy="288.09" r="2.236" color="#424186" style="--a:0.68"/>
<circle cx="367.35" cy="284.82" r="2.236" color="#424086" style="--a:0.68"/>
<circle cx="503.62" cy="288.27" r="2.236" color="#424186" style="--a:0.68"/>
<circle cx="541.12" cy="264.23" r="2.236" color="#453882" style="--a:0.68"/>
<circle cx="465.69" cy="289.21" r="2.236" color="#424186" style="--a:0.68"/>
<circle cx="485.42" cy="290.82" r="2.236" color="#414287" style="--a:0.68"/>
<circle cx="427.47" cy="184.75" r="2.236" color="#48186a" style="--a:0.68"/>
<circle cx="406.74" cy="191.53" r="2.236" color="#481b6d" style="--a:0.68"/>
<circle cx="362.36" cy="247.02" r="2.236" color="#46307e" style="--a:0.68"/>
<circle cx="430.79" cy="288.62" r="2.236" color="#424186" style="--a:0.68"/>
<circle cx="355.99" cy="263.7" r="2.236" color="#453882" style="--a:0.68"/>
<circle cx="424.93" cy="290.5" r="2.236" color="#424186" style="--a:0.68"/>
<circle cx="468.76" cy="184.84" r="2.236" color="#481769" style="--a:0.68"/>
<circle cx="471.35" cy="290.15" r="2.236" color="#424186" style="--a:0.68"/>
<circle cx="437.79" cy="179.91" r="2.236" color="#481668" style="--a:0.68"/>
<circle cx="417.17" cy="185.76" r="2.236" color="#48186a" style="--a:0.68"/>
<circle cx="500.43" cy="292.5" r="2.236" color="#414287" style="--a:0.68"/>
<circle cx="448.18" cy="179.79" r="2.236" color="#481668" style="--a:0.68"/>
<circle cx="533.31" cy="246.62" r="2.236" color="#46307e" style="--a:0.68"/>
<circle cx="397.15" cy="197.99" r="2.236" color="#481d6f" style="--a:0.68"/>
<circle cx="510.33" cy="292.43" r="2.236" color="#414287" style="--a:0.68"/>
<circle cx="477.14" cy="292.31" r="2.236" color="#414287" style="--a:0.68"/>
<circle cx="525.8" cy="231.42" r="2.236" color="#472a7a" style="--a:0.68"/>
<circle cx="489.09" cy="191.62" r="2.236" color="#481a6c" style="--a:0.68"/>
<circle cx="458.52" cy="180" r="2.236" color="#481668" style="--a:0.68"/>
<circle cx="537.39" cy="291.18" r="2.236" color="#424186" style="--a:0.68"/>
<circle cx="479.02" cy="185.83" r="2.236" color="#48186a" style="--a:0.68"/>
<circle cx="498.98" cy="197.99" r="2.236" color="#481c6e" style="--a:0.68"/>
<circle cx="419.33" cy="291.97" r="2.236" color="#424186" style="--a:0.68"/>
<circle cx="372.86" cy="236.08" r="2.236" color="#472d7b" style="--a:0.68"/>
<circle cx="468.88" cy="180.55" r="2.236" color="#481668" style="--a:0.68"/>
<circle cx="520.99" cy="293.15" r="2.236" color="#414287" style="--a:0.68"/>
<circle cx="383.76" cy="286.44" r="2.236" color="#424086" style="--a:0.68"/>
<circle cx="355.82" cy="285.7" r="2.236" color="#423f85" style="--a:0.68"/>
<circle cx="508.75" cy="204.99" r="2.236" color="#482071" style="--a:0.68"/>
<circle cx="396.6" cy="193.41" r="2.236" color="#481b6d" style="--a:0.68"/>
<circle cx="427.56" cy="180.62" r="2.236" color="#481668" style="--a:0.68"/>
<circle cx="551.6" cy="295.05" r="2.236" color="#414287" style="--a:0.68"/>
<circle cx="349.06" cy="275.47" r="2.236" color="#443b84" style="--a:0.69"/>
<circle cx="394.29" cy="285.75" r="2.236" color="#423f85" style="--a:0.69"/>
<circle cx="547.19" cy="275.38" r="2.236" color="#443b84" style="--a:0.69"/>
<circle cx="541.42" cy="257.44" r="2.236" color="#463480" style="--a:0.69"/>
<circle cx="355.07" cy="257.36" r="2.236" color="#463480" style="--a:0.69"/>
<circle cx="405.66" cy="292.03" r="2.236" color="#424186" style="--a:0.69"/>
<circle cx="407.01" cy="187.2" r="2.236" color="#48186a" style="--a:0.69"/>
<circle cx="388.07" cy="204.94" r="2.236" color="#481f70" style="--a:0.69"/>
<circle cx="482.58" cy="294" r="2.236" color="#414287" style="--a:0.69"/>
<circle cx="479.21" cy="181.52" r="2.236" color="#481668" style="--a:0.69"/>
<circle cx="412.07" cy="288" r="2.236" color="#424086" style="--a:0.69"/>
<circle cx="417.17" cy="181.53" r="2.236" color="#481668" style="--a:0.69"/>
<circle cx="489.18" cy="187.25" r="2.236" color="#48186a" style="--a:0.69"/>
<circle cx="403.86" cy="285.88" r="2.236" color="#423f85" style="--a:0.69"/>
<circle cx="397.02" cy="290.52" r="2.236" color="#424186" style="--a:0.69"/>
<circle cx="516.8" cy="296.97" r="2.236" color="#414487" style="--a:0.69"/>
<circle cx="532.16" cy="294.42" r="2.236" color="#414287" style="--a:0.69"/>
<circle cx="373.58" cy="286.4" r="2.236" color="#423f85" style="--a:0.69"/>
<circle cx="506.08" cy="295.47" r="2.236" color="#414287" style="--a:0.69"/>
<circle cx="498.94" cy="193.48" r="2.236" color="#481a6c" style="--a:0.69"/>
<circle cx="387.36" cy="200.3" r="2.236" color="#481d6f" style="--a:0.69"/>
<circle cx="533.04" cy="240.35" r="2.236" color="#472d7b" style="--a:0.69"/>
<circle cx="508.52" cy="200.28" r="2.236" color="#481c6e" style="--a:0.69"/>
<circle cx="527.48" cy="298.09" r="2.236" color="#414487" style="--a:0.69"/>
<circle cx="407.08" cy="182.98" r="2.236" color="#481668" style="--a:0.69"/>
<circle cx="496.14" cy="294.49" r="2.236" color="#424186" style="--a:0.69"/>
<circle cx="396.98" cy="189.04" r="2.236" color="#48186a" style="--a:0.69"/>
<circle cx="499.33" cy="189.05" r="2.236" color="#48186a" style="--a:0.69"/>
<circle cx="388.4" cy="288.83" r="2.236" color="#424086" style="--a:0.69"/>
<circle cx="487.66" cy="295.58" r="2.236" color="#414287" style="--a:0.69"/>
<circle cx="489.18" cy="183.01" r="2.236" color="#481668" style="--a:0.69"/>
<circle cx="377.82" cy="289.96" r="2.236" color="#424086" style="--a:0.69"/>
<circle cx="534.54" cy="235.21" r="2.236" color="#472a7a" style="--a:0.69"/>
<circle cx="400.55" cy="293.84" r="2.236" color="#424186" style="--a:0.69"/>
<circle cx="552.25" cy="287.07" r="2.236" color="#423f85" style="--a:0.69"/>
<circle cx="364.6" cy="239.71" r="2.236" color="#472d7b" style="--a:0.69"/>
<circle cx="543.78" cy="296.28" r="2.236" color="#414287" style="--a:0.69"/>
<circle cx="517.77" cy="207.69" r="2.236" color="#482071" style="--a:0.69"/>
<circle cx="363" cy="286.96" r="2.236" color="#423f85" style="--a:0.69"/>
<circle cx="378.72" cy="207.67" r="2.236" color="#481f70" style="--a:0.69"/>
<circle cx="387.48" cy="195.75" r="2.236" color="#481b6d" style="--a:0.69"/>
<circle cx="508.74" cy="195.75" r="2.236" color="#481b6d" style="--a:0.69"/>
<circle cx="546.47" cy="267.42" r="2.236" color="#453781" style="--a:0.69"/>
<circle cx="479.52" cy="296.27" r="2.236" color="#414287" style="--a:0.69"/>
<circle cx="396.98" cy="184.77" r="2.236" color="#481668" style="--a:0.69"/>
<circle cx="415.19" cy="290.07" r="2.236" color="#424086" style="--a:0.69"/>
<circle cx="356.28" cy="250.1" r="2.236" color="#46307e" style="--a:0.69"/>
<circle cx="392.3" cy="292.07" r="2.236" color="#424086" style="--a:0.69"/>
<circle cx="539.82" cy="249.95" r="2.236" color="#46307e" style="--a:0.69"/>
<circle cx="377.92" cy="203.04" r="2.236" color="#481d6f" style="--a:0.69"/>
<circle cx="350.58" cy="266.94" r="2.236" color="#453781" style="--a:0.69"/>
<circle cx="538.14" cy="299.3" r="2.236" color="#414287" style="--a:0.69"/>
<circle cx="499.08" cy="184.84" r="2.236" color="#481668" style="--a:0.69"/>
<circle cx="346.25" cy="285.24" r="2.236" color="#433e85" style="--a:0.69"/>
<circle cx="387.11" cy="191.3" r="2.236" color="#48186a" style="--a:0.69"/>
<circle cx="367.89" cy="290.18" r="2.236" color="#423f85" style="--a:0.7"/>
<circle cx="492.36" cy="297.16" r="2.236" color="#414287" style="--a:0.7"/>
<circle cx="350.72" cy="289.46" r="2.236" color="#423f85" style="--a:0.7"/>
<circle cx="541.64" cy="244.76" r="2.236" color="#472e7c" style="--a:0.7"/>
<circle cx="500.76" cy="296.24" r="2.236" color="#424186" style="--a:0.7"/>
<circle cx="343.05" cy="279.94" r="2.236" color="#443b84" style="--a:0.7"/>
<circle cx="383.1" cy="291.87" r="2.236" color="#424086" style="--a:0.7"/>
<circle cx="547.91" cy="261.44" r="2.236" color="#463480" style="--a:0.7"/>
<circle cx="517.48" cy="202.96" r="2.236" color="#481c6e" style="--a:0.7"/>
<circle cx="508.66" cy="191.36" r="2.236" color="#48186a" style="--a:0.7"/>
<circle cx="510.08" cy="296.64" r="2.236" color="#424186" style="--a:0.7"/>
<circle cx="410.24" cy="291.77" r="2.236" color="#424086" style="--a:0.7"/>
<circle cx="520.63" cy="298.61" r="2.236" color="#414287" style="--a:0.7"/>
<circle cx="349.19" cy="260.97" r="2.236" color="#463480" style="--a:0.7"/>
<circle cx="369.14" cy="210.91" r="2.236" color="#482071" style="--a:0.7"/>
<circle cx="377.95" cy="198.44" r="2.236" color="#481b6d" style="--a:0.7"/>
<circle cx="555.7" cy="298.75" r="2.236" color="#414287" style="--a:0.7"/>
<circle cx="404.91" cy="295.12" r="2.236" color="#424086" style="--a:0.7"/>
<circle cx="551.56" cy="278.57" r="2.236" color="#443a83" style="--a:0.7"/>
<circle cx="518.01" cy="198.44" r="2.236" color="#481b6d" style="--a:0.7"/>
<circle cx="497.09" cy="299.7" r="2.236" color="#414287" style="--a:0.7"/>
<circle cx="387.46" cy="187.05" r="2.236" color="#481668" style="--a:0.7"/>
<circle cx="373.5" cy="292.25" r="2.236" color="#423f85" style="--a:0.7"/>
<circle cx="476.57" cy="298.44" r="2.236" color="#424186" style="--a:0.7"/>
<circle cx="508.62" cy="187.1" r="2.236" color="#481668" style="--a:0.7"/>
<circle cx="526.09" cy="210.72" r="2.236" color="#481f70" style="--a:0.7"/>
<circle cx="505.79" cy="299.64" r="2.236" color="#414287" style="--a:0.7"/>
<circle cx="531.17" cy="300.41" r="2.236" color="#414287" style="--a:0.7"/>
<circle cx="357.43" cy="243.41" r="2.236" color="#472d7b" style="--a:0.7"/>
<circle cx="357.89" cy="290.81" r="2.236" color="#423f85" style="--a:0.7"/>
<circle cx="377.54" cy="296.1" r="2.236" color="#424086" style="--a:0.7"/>
<circle cx="397.31" cy="293.06" r="2.236" color="#423f85" style="--a:0.7"/>
<circle cx="378.05" cy="194" r="2.236" color="#48186a" style="--a:0.7"/>
<circle cx="547.69" cy="254.73" r="2.236" color="#46307e" style="--a:0.7"/>
<circle cx="369.33" cy="206.12" r="2.236" color="#481d6f" style="--a:0.7"/>
<circle cx="408.26" cy="298.31" r="2.236" color="#424186" style="--a:0.7"/>
<circle cx="557.24" cy="291.59" r="2.236" color="#423f85" style="--a:0.7"/>
<circle cx="540.4" cy="238.33" r="2.236" color="#472a7a" style="--a:0.7"/>
<circle cx="547.85" cy="299.93" r="2.236" color="#424186" style="--a:0.7"/>
<circle cx="517.75" cy="194.03" r="2.236" color="#48186a" style="--a:0.7"/>
<circle cx="343.84" cy="271.91" r="2.236" color="#453781" style="--a:0.7"/>
<circle cx="363" cy="293.92" r="2.236" color="#423f85" style="--a:0.7"/>
<circle cx="526.31" cy="206.05" r="2.236" color="#481c6e" style="--a:0.7"/>
<circle cx="525.62" cy="302.83" r="2.236" color="#414287" style="--a:0.7"/>
<circle cx="388.92" cy="292.44" r="2.236" color="#423f85" style="--a:0.7"/>
<circle cx="501.41" cy="302.3" r="2.236" color="#414287" style="--a:0.7"/>
<circle cx="473.99" cy="301.69" r="2.236" color="#414287" style="--a:0.7"/>
<circle cx="350.24" cy="253.83" r="2.236" color="#46307e" style="--a:0.71"/>
<circle cx="549.24" cy="249.32" r="2.236" color="#472e7c" style="--a:0.71"/>
<circle cx="513.97" cy="298.67" r="2.236" color="#424186" style="--a:0.71"/>
<circle cx="551.61" cy="271.25" r="2.236" color="#453781" style="--a:0.71"/>
<circle cx="340.83" cy="290.12" r="2.236" color="#433e85" style="--a:0.71"/>
<circle cx="378.05" cy="189.68" r="2.236" color="#481668" style="--a:0.71"/>
<circle cx="541.85" cy="302.57" r="2.236" color="#414287" style="--a:0.71"/>
<circle cx="369.19" cy="201.53" r="2.236" color="#481b6d" style="--a:0.71"/>
<circle cx="401.18" cy="295.75" r="2.236" color="#424086" style="--a:0.71"/>
<circle cx="346.15" cy="293.6" r="2.236" color="#423f85" style="--a:0.71"/>
<circle cx="509.83" cy="302.19" r="2.236" color="#414287" style="--a:0.71"/>
<circle cx="517.68" cy="189.76" r="2.236" color="#481668" style="--a:0.71"/>
<circle cx="520.19" cy="305.12" r="2.236" color="#414287" style="--a:0.71"/>
<circle cx="526.51" cy="201.5" r="2.236" color="#481b6d" style="--a:0.71"/>
<circle cx="361.29" cy="214.33" r="2.236" color="#482071" style="--a:0.71"/>
<circle cx="337.57" cy="284.85" r="2.236" color="#443b84" style="--a:0.71"/>
<circle cx="444.58" cy="305.5" r="2.236" color="#414487" style="--a:0.71"/>
<circle cx="404.29" cy="299.99" r="2.236" color="#424186" style="--a:0.71"/>
<circle cx="369.08" cy="295.61" r="2.236" color="#423f85" style="--a:0.71"/>
<circle cx="393.48" cy="294.51" r="2.236" color="#423f85" style="--a:0.71"/>
<circle cx="534.14" cy="214.15" r="2.236" color="#481f70" style="--a:0.71"/>
<circle cx="535.53" cy="304.52" r="2.236" color="#414287" style="--a:0.71"/>
<circle cx="396.68" cy="298.92" r="2.236" color="#424086" style="--a:0.71"/>
<circle cx="369.22" cy="197.07" r="2.236" color="#48186a" style="--a:0.71"/>
<circle cx="557.18" cy="283.58" r="2.236" color="#443a83" style="--a:0.71"/>
<circle cx="412.25" cy="299.55" r="2.236" color="#424086" style="--a:0.71"/>
<circle cx="505.2" cy="304.75" r="2.236" color="#414287" style="--a:0.71"/>
<circle cx="352.77" cy="295.58" r="2.236" color="#423f85" style="--a:0.71"/>
<circle cx="448.18" cy="303.31" r="2.236" color="#424186" style="--a:0.71"/>
<circle cx="496.43" cy="303.38" r="2.236" color="#424186" style="--a:0.71"/>
<circle cx="350.58" cy="247.57" r="2.236" color="#472d7b" style="--a:0.71"/>
<circle cx="551.83" cy="264.52" r="2.236" color="#46337f" style="--a:0.71"/>
<circle cx="548.74" cy="243.15" r="2.236" color="#472a7a" style="--a:0.71"/>
<circle cx="526.56" cy="197.07" r="2.236" color="#48186a" style="--a:0.71"/>
<circle cx="384.84" cy="294.92" r="2.236" color="#423f85" style="--a:0.71"/>
<circle cx="361.41" cy="209.54" r="2.236" color="#481d6f" style="--a:0.71"/>
<circle cx="554.78" cy="259.76" r="2.236" color="#46327e" style="--a:0.71"/>
<circle cx="534.78" cy="209.52" r="2.236" color="#481d6f" style="--a:0.71"/>
<circle cx="345.38" cy="263.98" r="2.236" color="#46337f" style="--a:0.71"/>
<circle cx="455.19" cy="303.09" r="2.236" color="#424186" style="--a:0.71"/>
<circle cx="553.24" cy="305.89" r="2.236" color="#414287" style="--a:0.71"/>
<circle cx="558.42" cy="302.1" r="2.236" color="#424186" style="--a:0.71"/>
<circle cx="451.68" cy="302.3" r="2.236" color="#424186" style="--a:0.71"/>
<circle cx="374.73" cy="297.43" r="2.236" color="#423f85" style="--a:0.71"/>
<circle cx="470.88" cy="302.37" r="2.236" color="#424186" style="--a:0.71"/>
<circle cx="462.07" cy="304.62" r="2.236" color="#414287" style="--a:0.71"/>
<circle cx="437.78" cy="303.01" r="2.236" color="#424186" style="--a:0.71"/>
<circle cx="369.37" cy="192.74" r="2.236" color="#481668" style="--a:0.71"/>
<circle cx="379.15" cy="300.69" r="2.236" color="#424086" style="--a:0.71"/>
<circle cx="408.62" cy="301.2" r="2.236" color="#424086" style="--a:0.71"/>
<circle cx="360.7" cy="205" r="2.236" color="#481b6d" style="--a:0.71"/>
<circle cx="513.28" cy="304.67" r="2.236" color="#424186" style="--a:0.71"/>
<circle cx="526.67" cy="192.76" r="2.236" color="#481668" style="--a:0.71"/>
<circle cx="458.54" cy="302.52" r="2.236" color="#424186" style="--a:0.71"/>
<circle cx="441.29" cy="301.47" r="2.236" color="#424086" style="--a:0.71"/>
<circle cx="528.33" cy="304.9" r="2.236" color="#424186" style="--a:0.71"/>
<circle cx="389.53" cy="297.12" r="2.236" color="#423f85" style="--a:0.72"/>
<circle cx="359.86" cy="296.6" r="2.236" color="#423f85" style="--a:0.72"/>
<circle cx="401.37" cy="300.25" r="2.236" color="#424086" style="--a:0.72"/>
<circle cx="393.06" cy="301.21" r="2.236" color="#424086" style="--a:0.72"/>
<circle cx="561.09" cy="296.02" r="2.236" color="#433e85" style="--a:0.72"/>
<circle cx="491.84" cy="304.85" r="2.236" color="#424186" style="--a:0.72"/>
<circle cx="335.48" cy="295.85" r="2.236" color="#433e85" style="--a:0.72"/>
<circle cx="545.61" cy="306.85" r="2.236" color="#414287" style="--a:0.72"/>
<circle cx="364.68" cy="299.83" r="2.236" color="#424086" style="--a:0.72"/>
<circle cx="557.08" cy="276.09" r="2.236" color="#453781" style="--a:0.72"/>
<circle cx="404.65" cy="304.56" r="2.236" color="#424186" style="--a:0.72"/>
<circle cx="339.47" cy="275.97" r="2.236" color="#453781" style="--a:0.72"/>
<circle cx="534.37" cy="204.9" r="2.236" color="#481b6d" style="--a:0.72"/>
<circle cx="560.97" cy="271.73" r="2.236" color="#453581" style="--a:0.72"/>
<circle cx="448.19" cy="306.12" r="2.236" color="#414287" style="--a:0.72"/>
<circle cx="412.06" cy="304.48" r="2.236" color="#424186" style="--a:0.72"/>
<circle cx="496.08" cy="309.54" r="2.236" color="#414487" style="--a:0.72"/>
<circle cx="522.76" cy="307.01" r="2.236" color="#414287" style="--a:0.72"/>
<circle cx="454.34" cy="306.57" r="2.236" color="#414287" style="--a:0.72"/>
<circle cx="353.91" cy="218.09" r="2.236" color="#482071" style="--a:0.72"/>
<circle cx="468.47" cy="305.96" r="2.236" color="#424186" style="--a:0.72"/>
<circle cx="345.42" cy="257.54" r="2.236" color="#472f7d" style="--a:0.72"/>
<circle cx="416.27" cy="300.09" r="2.236" color="#424086" style="--a:0.72"/>
<circle cx="360.53" cy="200.51" r="2.236" color="#48186a" style="--a:0.72"/>
<circle cx="451.25" cy="305.69" r="2.236" color="#424186" style="--a:0.72"/>
<circle cx="499.22" cy="304.28" r="2.236" color="#424186" style="--a:0.72"/>
<circle cx="445.12" cy="305.48" r="2.236" color="#424186" style="--a:0.72"/>
<circle cx="465.01" cy="303.17" r="2.236" color="#424086" style="--a:0.72"/>
<circle cx="418.83" cy="305.2" r="2.236" color="#424186" style="--a:0.72"/>
<circle cx="541.84" cy="217.96" r="2.236" color="#481f70" style="--a:0.72"/>
<circle cx="553.65" cy="252.9" r="2.236" color="#472d7b" style="--a:0.72"/>
<circle cx="384.95" cy="301.61" r="2.236" color="#424086" style="--a:0.72"/>
<circle cx="517.47" cy="309.28" r="2.236" color="#414287" style="--a:0.72"/>
<circle cx="538.52" cy="307.92" r="2.236" color="#414287" style="--a:0.72"/>
<circle cx="460.27" cy="307.09" r="2.236" color="#424186" style="--a:0.72"/>
<circle cx="534.66" cy="200.48" r="2.236" color="#48186a" style="--a:0.72"/>
<circle cx="442.14" cy="304.65" r="2.236" color="#424186" style="--a:0.72"/>
<circle cx="471.43" cy="306.71" r="2.236" color="#424186" style="--a:0.72"/>
<circle cx="457.23" cy="305.37" r="2.236" color="#424186" style="--a:0.72"/>
<circle cx="507.1" cy="304.69" r="2.236" color="#424186" style="--a:0.72"/>
<circle cx="398.04" cy="302.44" r="2.236" color="#424086" style="--a:0.72"/>
<circle cx="333.93" cy="289.15" r="2.236" color="#443b84" style="--a:0.72"/>
<circle cx="436.2" cy="306.17" r="2.236" color="#424186" style="--a:0.72"/>
<circle cx="344.21" cy="296.17" r="2.236" color="#433e85" style="--a:0.72"/>
<circle cx="401.7" cy="306.26" r="2.236" color="#424186" style="--a:0.72"/>
<circle cx="354.02" cy="213.3" r="2.236" color="#481d6f" style="--a:0.72"/>
<circle cx="439.23" cy="304.39" r="2.236" color="#424086" style="--a:0.72"/>
<circle cx="371.94" cy="299.7" r="2.236" color="#423f85" style="--a:0.72"/>
<circle cx="487.09" cy="305.4" r="2.236" color="#424186" style="--a:0.72"/>
<circle cx="502.74" cy="307.65" r="2.236" color="#424186" style="--a:0.72"/>
<circle cx="484.01" cy="310.5" r="2.236" color="#414287" style="--a:0.72"/>
<circle cx="463.01" cy="306.79" r="2.236" color="#424186" style="--a:0.72"/>
<circle cx="349.99" cy="298.83" r="2.236" color="#433e85" style="--a:0.72"/>
<circle cx="554.52" cy="247.43" r="2.236" color="#472a7a" style="--a:0.72"/>
<circle cx="531.98" cy="309.2" r="2.236" color="#414287" style="--a:0.72"/>
<circle cx="345.4" cy="251.5" r="2.236" color="#472d7b" style="--a:0.72"/>
<circle cx="465.92" cy="308.68" r="2.236" color="#414287" style="--a:0.72"/>
<circle cx="541.68" cy="213.19" r="2.236" color="#481c6e" style="--a:0.72"/>
<circle cx="409.42" cy="305.02" r="2.236" color="#424086" style="--a:0.72"/>
<circle cx="563.26" cy="308.4" r="2.236" color="#424186" style="--a:0.72"/>
<circle cx="361.27" cy="196.15" r="2.236" color="#481668" style="--a:0.72"/>
<circle cx="339.82" cy="268.83" r="2.236" color="#46337f" style="--a:0.72"/>
<circle cx="416.11" cy="305.73" r="2.236" color="#424186" style="--a:0.72"/>
<circle cx="557.16" cy="311.31" r="2.236" color="#414287" style="--a:0.72"/>
<circle cx="445.55" cy="309.06" r="2.236" color="#414287" style="--a:0.72"/>
<circle cx="474.11" cy="307.21" r="2.236" color="#424186" style="--a:0.72"/>
<circle cx="560.25" cy="287.4" r="2.236" color="#443a83" style="--a:0.72"/>
<circle cx="433.49" cy="305.9" r="2.236" color="#424186" style="--a:0.72"/>
<circle cx="448.19" cy="308.45" r="2.236" color="#424186" style="--a:0.72"/>
<circle cx="390.64" cy="302.21" r="2.236" color="#423f85" style="--a:0.72"/>
<circle cx="534.43" cy="196.16" r="2.236" color="#481668" style="--a:0.72"/>
<circle cx="456.05" cy="309.9" r="2.236" color="#414287" style="--a:0.72"/>
<circle cx="422.37" cy="306.75" r="2.236" color="#424186" style="--a:0.72"/>
<circle cx="450.81" cy="308.29" r="2.236" color="#424186" style="--a:0.72"/>
<circle cx="353.26" cy="208.78" r="2.236" color="#481b6d" style="--a:0.72"/>
<circle cx="477.11" cy="309.89" r="2.236" color="#414287" style="--a:0.72"/>
<circle cx="356.38" cy="300.56" r="2.236" color="#423f85" style="--a:0.73"/>
<circle cx="440.38" cy="309.07" r="2.236" color="#424186" style="--a:0.73"/>
<circle cx="497.84" cy="309.37" r="2.236" color="#424186" style="--a:0.73"/>
<circle cx="377.76" cy="300.94" r="2.236" color="#423f85" style="--a:0.73"/>
<circle cx="490.11" cy="307.89" r="2.236" color="#424186" style="--a:0.73"/>
<circle cx="381.78" cy="304.65" r="2.236" color="#424086" style="--a:0.73"/>
<circle cx="549.49" cy="312.24" r="2.236" color="#414287" style="--a:0.73"/>
<circle cx="558.56" cy="263.56" r="2.236" color="#46307e" style="--a:0.73"/>
<circle cx="453.36" cy="307.59" r="2.236" color="#424186" style="--a:0.73"/>
<circle cx="406.36" cy="307.63" r="2.236" color="#424186" style="--a:0.73"/>
<circle cx="542.06" cy="208.66" r="2.236" color="#481b6d" style="--a:0.73"/>
<circle cx="468.33" cy="308.39" r="2.236" color="#424186" style="--a:0.73"/>
<circle cx="395.12" cy="304.66" r="2.236" color="#424086" style="--a:0.73"/>
<circle cx="461.02" cy="310.77" r="2.236" color="#414287" style="--a:0.73"/>
<circle cx="333.39" cy="282.06" r="2.236" color="#453882" style="--a:0.73"/>
<circle cx="479.79" cy="312.12" r="2.236" color="#414287" style="--a:0.73"/>
<circle cx="413.5" cy="306.91" r="2.236" color="#424086" style="--a:0.73"/>
<circle cx="430.97" cy="305.47" r="2.236" color="#424086" style="--a:0.73"/>
<circle cx="443.05" cy="306.69" r="2.236" color="#424086" style="--a:0.73"/>
<circle cx="486.31" cy="311.46" r="2.236" color="#414287" style="--a:0.73"/>
<circle cx="509.9" cy="307.29" r="2.236" color="#424186" style="--a:0.73"/>
<circle cx="437.96" cy="308.58" r="2.236" color="#424186" style="--a:0.73"/>
<circle cx="524.66" cy="308.92" r="2.236" color="#424186" style="--a:0.73"/>
<circle cx="362.69" cy="302.02" r="2.236" color="#423f85" style="--a:0.73"/>
<circle cx="428.25" cy="307.25" r="2.236" color="#424086" style="--a:0.73"/>
<circle cx="561.83" cy="281.22" r="2.236" color="#453781" style="--a:0.73"/>
<circle cx="347.02" cy="222.2" r="2.236" color="#482071" style="--a:0.73"/>
<circle cx="425.54" cy="309.64" r="2.236" color="#424186" style="--a:0.73"/>
<circle cx="353.28" cy="204.28" r="2.236" color="#48186a" style="--a:0.73"/>
<circle cx="549.14" cy="222.15" r="2.236" color="#482071" style="--a:0.73"/>
<circle cx="331.87" cy="300.98" r="2.236" color="#433e85" style="--a:0.73"/>
<circle cx="519.49" cy="311.35" r="2.236" color="#414287" style="--a:0.73"/>
<circle cx="541.91" cy="312.76" r="2.236" color="#414287" style="--a:0.73"/>
<circle cx="435.57" cy="308.85" r="2.236" color="#424186" style="--a:0.73"/>
<circle cx="387.19" cy="306.02" r="2.236" color="#424086" style="--a:0.73"/>
<circle cx="367.95" cy="304.47" r="2.236" color="#423f85" style="--a:0.73"/>
<circle cx="399.66" cy="306.83" r="2.236" color="#424086" style="--a:0.73"/>
<circle cx="340.22" cy="262.13" r="2.236" color="#472f7d" style="--a:0.73"/>
<circle cx="473.45" cy="312.21" r="2.236" color="#414287" style="--a:0.73"/>
<circle cx="470.68" cy="308.86" r="2.236" color="#424186" style="--a:0.73"/>
<circle cx="448.19" cy="311.7" r="2.236" color="#414287" style="--a:0.73"/>
<circle cx="535.97" cy="314.91" r="2.236" color="#414487" style="--a:0.73"/>
<circle cx="541.98" cy="204.2" r="2.236" color="#48186a" style="--a:0.73"/>
<circle cx="458.21" cy="306.32" r="2.236" color="#424086" style="--a:0.73"/>
<circle cx="373.22" cy="306.74" r="2.236" color="#424086" style="--a:0.73"/>
<circle cx="420.38" cy="305.58" r="2.236" color="#424086" style="--a:0.73"/>
<circle cx="482.06" cy="313.72" r="2.236" color="#414287" style="--a:0.73"/>
<circle cx="423.17" cy="311.09" r="2.236" color="#424186" style="--a:0.73"/>
<circle cx="430.85" cy="311.49" r="2.236" color="#424186" style="--a:0.73"/>
<circle cx="562.83" cy="299.49" r="2.236" color="#433e85" style="--a:0.73"/>
<circle cx="433.29" cy="309.2" r="2.236" color="#424186" style="--a:0.73"/>
<circle cx="446.01" cy="310.91" r="2.236" color="#424186" style="--a:0.73"/>
<circle cx="339.43" cy="302.33" r="2.236" color="#423f85" style="--a:0.73"/>
<circle cx="456.84" cy="313.06" r="2.236" color="#414287" style="--a:0.73"/>
<circle cx="452.53" cy="311.27" r="2.236" color="#424186" style="--a:0.73"/>
<circle cx="417.46" cy="308.96" r="2.236" color="#424186" style="--a:0.73"/>
<circle cx="441.68" cy="311.95" r="2.236" color="#414287" style="--a:0.73"/>
<circle cx="492.32" cy="309.2" r="2.236" color="#424186" style="--a:0.73"/>
<circle cx="443.85" cy="310.96" r="2.236" color="#424186" style="--a:0.73"/>
<circle cx="463.02" cy="308.71" r="2.236" color="#424086" style="--a:0.73"/>
<circle cx="465.42" cy="310.8" r="2.236" color="#424186" style="--a:0.73"/>
<circle cx="454.67" cy="311.6" r="2.236" color="#424186" style="--a:0.73"/>
<circle cx="346.53" cy="217.51" r="2.236" color="#481d6f" style="--a:0.73"/>
<circle cx="404.18" cy="308.88" r="2.236" color="#424086" style="--a:0.73"/>
<circle cx="411.27" cy="307.87" r="2.236" color="#424086" style="--a:0.73"/>
<circle cx="475.51" cy="313.09" r="2.236" color="#414287" style="--a:0.73"/>
<circle cx="513.1" cy="311.51" r="2.236" color="#424186" style="--a:0.73"/>
<circle cx="392.72" cy="306.77" r="2.236" color="#424086" style="--a:0.73"/>
<circle cx="439.65" cy="311.57" r="2.236" color="#424186" style="--a:0.73"/>
<circle cx="562.87" cy="274.95" r="2.236" color="#463480" style="--a:0.73"/>
<circle cx="542.6" cy="199.89" r="2.236" color="#481668" style="--a:0.73"/>
<circle cx="488.15" cy="312.12" r="2.236" color="#424186" style="--a:0.73"/>
<circle cx="329.72" cy="294.77" r="2.236" color="#443b84" style="--a:0.73"/>
<circle cx="557.13" cy="256.58" r="2.236" color="#472d7b" style="--a:0.73"/>
<circle cx="353.89" cy="199.89" r="2.236" color="#481668" style="--a:0.73"/>
<circle cx="346.8" cy="303.41" r="2.236" color="#423f85" style="--a:0.73"/>
<circle cx="450.32" cy="308.82" r="2.236" color="#424086" style="--a:0.73"/>
<circle cx="467.48" cy="311.42" r="2.236" color="#424186" style="--a:0.73"/>
<circle cx="428.9" cy="311.4" r="2.236" color="#424186" style="--a:0.73"/>
<circle cx="548.12" cy="217.17" r="2.236" color="#481c6e" style="--a:0.73"/>
<circle cx="421.23" cy="311.55" r="2.236" color="#424186" style="--a:0.73"/>
<circle cx="415.24" cy="310.57" r="2.236" color="#424186" style="--a:0.73"/>
<circle cx="437.68" cy="311.48" r="2.236" color="#424186" style="--a:0.73"/>
<circle cx="527.92" cy="313.75" r="2.236" color="#414287" style="--a:0.73"/>
<circle cx="458.69" cy="311.39" r="2.236" color="#424186" style="--a:0.73"/>
<circle cx="379.97" cy="306.44" r="2.236" color="#423f85" style="--a:0.73"/>
<circle cx="335.21" cy="273.81" r="2.236" color="#46337f" style="--a:0.73"/>
<circle cx="384.38" cy="309.56" r="2.236" color="#424086" style="--a:0.73"/>
<circle cx="426.8" cy="313.17" r="2.236" color="#424186" style="--a:0.73"/>
<circle cx="559.9" cy="316.5" r="2.236" color="#414287" style="--a:0.73"/>
<circle cx="408.83" cy="310.38" r="2.236" color="#424086" style="--a:0.74"/>
<circle cx="435.7" cy="312.45" r="2.236" color="#424186" style="--a:0.74"/>
<circle cx="346.28" cy="212.89" r="2.236" color="#481b6d" style="--a:0.74"/>
<circle cx="412.65" cy="314.27" r="2.236" color="#414287" style="--a:0.74"/>
<circle cx="341.23" cy="255.51" r="2.236" color="#472c7a" style="--a:0.74"/>
<circle cx="483.71" cy="314.23" r="2.236" color="#414287" style="--a:0.74"/>
<circle cx="471.67" cy="315.63" r="2.236" color="#414287" style="--a:0.74"/>
<circle cx="477.38" cy="314.15" r="2.236" color="#414287" style="--a:0.74"/>
<circle cx="460.61" cy="311.89" r="2.236" color="#424186" style="--a:0.74"/>
<circle cx="451.69" cy="315.08" r="2.236" color="#414287" style="--a:0.74"/>
<circle cx="558.8" cy="251.59" r="2.236" color="#472a7a" style="--a:0.74"/>
<circle cx="564.03" cy="292.62" r="2.236" color="#443a83" style="--a:0.74"/>
<circle cx="552.62" cy="317.78" r="2.236" color="#414487" style="--a:0.74"/>
<circle cx="397.95" cy="307.68" r="2.236" color="#424086" style="--a:0.74"/>
<circle cx="469.36" cy="312" r="2.236" color="#424186" style="--a:0.74"/>
<circle cx="565.31" cy="313" r="2.236" color="#424186" style="--a:0.74"/>
<circle cx="354.29" cy="303.87" r="2.236" color="#433e85" style="--a:0.74"/>
<circle cx="453.41" cy="315.16" r="2.236" color="#414287" style="--a:0.74"/>
<circle cx="446.44" cy="314.14" r="2.236" color="#424186" style="--a:0.74"/>
<circle cx="521.69" cy="314.66" r="2.236" color="#414287" style="--a:0.74"/>
<circle cx="419.19" cy="313.38" r="2.236" color="#424186" style="--a:0.74"/>
<circle cx="548.97" cy="212.73" r="2.236" color="#481b6d" style="--a:0.74"/>
<circle cx="462.49" cy="312.85" r="2.236" color="#424186" style="--a:0.74"/>
<circle cx="402.23" cy="310.5" r="2.236" color="#424086" style="--a:0.74"/>
<circle cx="490.06" cy="313.94" r="2.236" color="#424186" style="--a:0.74"/>
<circle cx="444.72" cy="313.69" r="2.236" color="#424186" style="--a:0.74"/>
<circle cx="443.01" cy="314.05" r="2.236" color="#424186" style="--a:0.74"/>
<circle cx="425.11" cy="313.61" r="2.236" color="#424186" style="--a:0.74"/>
<circle cx="390.2" cy="310.03" r="2.236" color="#424086" style="--a:0.74"/>
<circle cx="441.34" cy="314.52" r="2.236" color="#424186" style="--a:0.74"/>
<circle cx="434.04" cy="311.54" r="2.236" color="#424086" style="--a:0.74"/>
<circle cx="515.67" cy="315.54" r="2.236" color="#414287" style="--a:0.74"/>
<circle cx="467.88" cy="318.56" r="2.236" color="#414487" style="--a:0.74"/>
<circle cx="464.2" cy="313.33" r="2.236" color="#424186" style="--a:0.74"/>
<circle cx="485.62" cy="316.54" r="2.236" color="#414287" style="--a:0.74"/>
<circle cx="361.21" cy="304.48" r="2.236" color="#433e85" style="--a:0.74"/>
<circle cx="366.42" cy="306.88" r="2.236" color="#423f85" style="--a:0.74"/>
<circle cx="340.8" cy="226.61" r="2.236" color="#482071" style="--a:0.74"/>
<circle cx="330.01" cy="287" r="2.236" color="#453882" style="--a:0.74"/>
<circle cx="448.19" cy="311.14" r="2.236" color="#424086" style="--a:0.74"/>
<circle cx="549.46" cy="208.31" r="2.236" color="#48186a" style="--a:0.74"/>
<circle cx="334.78" cy="267.57" r="2.236" color="#472f7d" style="--a:0.74"/>
<circle cx="346.94" cy="208.31" r="2.236" color="#48186a" style="--a:0.74"/>
<circle cx="543.43" cy="316.28" r="2.236" color="#414287" style="--a:0.74"/>
<circle cx="561.4" cy="267.45" r="2.236" color="#472f7d" style="--a:0.74"/>
<circle cx="478.8" cy="314.45" r="2.236" color="#424186" style="--a:0.74"/>
<circle cx="449.89" cy="310.94" r="2.236" color="#424086" style="--a:0.74"/>
<circle cx="459.77" cy="316.68" r="2.236" color="#414287" style="--a:0.74"/>
<circle cx="454.93" cy="312.69" r="2.236" color="#424186" style="--a:0.74"/>
<circle cx="432.38" cy="311.86" r="2.236" color="#424086" style="--a:0.74"/>
<circle cx="537.31" cy="318.06" r="2.236" color="#414287" style="--a:0.74"/>
<circle cx="395.52" cy="311.05" r="2.236" color="#424086" style="--a:0.74"/>
<circle cx="567.82" cy="306.78" r="2.236" color="#423f85" style="--a:0.74"/>
<circle cx="446.86" cy="318.57" r="2.236" color="#414287" style="--a:0.74"/>
<circle cx="438.24" cy="314.44" r="2.236" color="#424186" style="--a:0.74"/>
<circle cx="399.98" cy="313.76" r="2.236" color="#424186" style="--a:0.74"/>
<circle cx="554.33" cy="226.28" r="2.236" color="#481f70" style="--a:0.74"/>
<circle cx="564.89" cy="285.88" r="2.236" color="#453781" style="--a:0.74"/>
<circle cx="439.88" cy="312.67" r="2.236" color="#424086" style="--a:0.74"/>
<circle cx="491.86" cy="316.4" r="2.236" color="#414287" style="--a:0.74"/>
<circle cx="407.61" cy="310.34" r="2.236" color="#424086" style="--a:0.74"/>
<circle cx="462.62" cy="319.04" r="2.236" color="#414287" style="--a:0.74"/>
<circle cx="428.97" cy="315.6" r="2.236" color="#424186" style="--a:0.74"/>
<circle cx="372.85" cy="307.37" r="2.236" color="#423f85" style="--a:0.74"/>
<circle cx="465.62" cy="312.85" r="2.236" color="#424086" style="--a:0.74"/>
<circle cx="435.26" cy="316.72" r="2.236" color="#414287" style="--a:0.74"/>
<circle cx="461.12" cy="316.71" r="2.236" color="#414287" style="--a:0.74"/>
<circle cx="418.1" cy="312.45" r="2.236" color="#424086" style="--a:0.74"/>
<circle cx="472.54" cy="313.05" r="2.236" color="#424086" style="--a:0.74"/>
<circle cx="442.99" cy="318.48" r="2.236" color="#414287" style="--a:0.74"/>
<circle cx="530.13" cy="318.04" r="2.236" color="#414287" style="--a:0.74"/>
<circle cx="563.89" cy="262.7" r="2.236" color="#472e7c" style="--a:0.74"/>
<circle cx="436.83" cy="314.31" r="2.236" color="#424186" style="--a:0.74"/>
<circle cx="456.41" cy="311.46" r="2.236" color="#424086" style="--a:0.74"/>
<circle cx="550.03" cy="203.98" r="2.236" color="#481668" style="--a:0.74"/>
<circle cx="430.89" cy="311.93" r="2.236" color="#424086" style="--a:0.74"/>
<circle cx="457.97" cy="312.48" r="2.236" color="#424086" style="--a:0.74"/>
<circle cx="412.02" cy="312.53" r="2.236" color="#424086" style="--a:0.74"/>
<circle cx="383.13" cy="311.32" r="2.236" color="#424086" style="--a:0.74"/>
<circle cx="346.72" cy="203.95" r="2.236" color="#481668" style="--a:0.74"/>
<circle cx="378.63" cy="308.4" r="2.236" color="#423f85" style="--a:0.74"/>
<circle cx="445.59" cy="316.19" r="2.236" color="#424186" style="--a:0.74"/>
<circle cx="450.78" cy="316.17" r="2.236" color="#424186" style="--a:0.74"/>
<circle cx="331.28" cy="304.3" r="2.236" color="#433d84" style="--a:0.74"/>
<circle cx="341" cy="221.76" r="2.236" color="#481d6f" style="--a:0.74"/>
<circle cx="555.28" cy="221.74" r="2.236" color="#481d6f" style="--a:0.74"/>
<circle cx="449.49" cy="315.7" r="2.236" color="#424186" style="--a:0.74"/>
<circle cx="337.78" cy="306.39" r="2.236" color="#433e85" style="--a:0.74"/>
<circle cx="453.31" cy="316.84" r="2.236" color="#424186" style="--a:0.74"/>
<circle cx="448.19" cy="315.09" r="2.236" color="#424186" style="--a:0.74"/>
<circle cx="454.53" cy="317.34" r="2.236" color="#424186" style="--a:0.74"/>
<circle cx="424.29" cy="310.9" r="2.236" color="#423f85" style="--a:0.74"/>
<circle cx="444.34" cy="315.6" r="2.236" color="#424186" style="--a:0.74"/>
<circle cx="422.4" cy="314.27" r="2.236" color="#424086" style="--a:0.75"/>
<circle cx="486.39" cy="316.23" r="2.236" color="#424186" style="--a:0.75"/>
<circle cx="479.84" cy="314.33" r="2.236" color="#424086" style="--a:0.75"/>
<circle cx="468.55" cy="315.33" r="2.236" color="#424186" style="--a:0.75"/>
<circle cx="522.94" cy="317.44" r="2.236" color="#424186" style="--a:0.75"/>
<circle cx="473.9" cy="313.91" r="2.236" color="#424086" style="--a:0.75"/>
<circle cx="456.85" cy="318.67" r="2.236" color="#414287" style="--a:0.75"/>
<circle cx="416.63" cy="313.96" r="2.236" color="#424086" style="--a:0.75"/>
<circle cx="563.15" cy="323.27" r="2.236" color="#414487" style="--a:0.75"/>
<circle cx="441.89" cy="316.38" r="2.236" color="#424186" style="--a:0.75"/>
<circle cx="434.2" cy="315.25" r="2.236" color="#424186" style="--a:0.75"/>
<circle cx="345.63" cy="306.77" r="2.236" color="#433e85" style="--a:0.75"/>
<circle cx="451.99" cy="314.33" r="2.236" color="#424086" style="--a:0.75"/>
<circle cx="335.85" cy="260.82" r="2.236" color="#472d7b" style="--a:0.75"/>
<circle cx="428.01" cy="314.3" r="2.236" color="#424086" style="--a:0.75"/>
<circle cx="393.94" cy="313.48" r="2.236" color="#424086" style="--a:0.75"/>
<circle cx="569.1" cy="299.81" r="2.236" color="#443b84" style="--a:0.75"/>
<circle cx="493.09" cy="318.26" r="2.236" color="#424186" style="--a:0.75"/>
<circle cx="440.75" cy="316.49" r="2.236" color="#424186" style="--a:0.75"/>
<circle cx="471.38" cy="320.63" r="2.236" color="#414287" style="--a:0.75"/>
<circle cx="420.88" cy="316.76" r="2.236" color="#424186" style="--a:0.75"/>
<circle cx="481.6" cy="317.79" r="2.236" color="#424186" style="--a:0.75"/>
<circle cx="389.53" cy="310.63" r="2.236" color="#423f85" style="--a:0.75"/>
<circle cx="448.19" cy="321.55" r="2.236" color="#414287" style="--a:0.75"/>
<circle cx="516.62" cy="317.7" r="2.236" color="#424186" style="--a:0.75"/>
<circle cx="352.41" cy="307.84" r="2.236" color="#433e85" style="--a:0.75"/>
<circle cx="564.99" cy="279" r="2.236" color="#46337f" style="--a:0.75"/>
<circle cx="431.72" cy="318.5" r="2.236" color="#424186" style="--a:0.75"/>
<circle cx="340.59" cy="217.2" r="2.236" color="#481b6d" style="--a:0.75"/>
<circle cx="406.49" cy="311.04" r="2.236" color="#423f85" style="--a:0.75"/>
<circle cx="463.35" cy="315.92" r="2.236" color="#424186" style="--a:0.75"/>
<circle cx="455.58" cy="315.69" r="2.236" color="#424186" style="--a:0.75"/>
<circle cx="469.75" cy="316.38" r="2.236" color="#424186" style="--a:0.75"/>
<circle cx="554.29" cy="322.66" r="2.236" color="#414487" style="--a:0.75"/>
<circle cx="426.66" cy="316.21" r="2.236" color="#424186" style="--a:0.75"/>
<circle cx="438.55" cy="318.1" r="2.236" color="#424186" style="--a:0.75"/>
<circle cx="446.43" cy="320.95" r="2.236" color="#414287" style="--a:0.75"/>
<circle cx="358.55" cy="309.31" r="2.236" color="#423f85" style="--a:0.75"/>
<circle cx="498.1" cy="390.38" r="2.236" color="#375b8d" style="--a:0.85"/>
<circle cx="568.6" cy="319.82" r="2.236" color="#414287" style="--a:0.75"/>
<circle cx="475.23" cy="315.59" r="2.236" color="#424086" style="--a:0.75"/>
<circle cx="458.86" cy="319.32" r="2.236" color="#414287" style="--a:0.75"/>
<circle cx="332.16" cy="278.46" r="2.236" color="#46337f" style="--a:0.75"/>
<circle cx="555.13" cy="217.08" r="2.236" color="#481b6d" style="--a:0.75"/>
<circle cx="410.9" cy="313.41" r="2.236" color="#424086" style="--a:0.75"/>
<circle cx="437.55" cy="319.02" r="2.236" color="#424186" style="--a:0.75"/>
<circle cx="436.55" cy="320.66" r="2.236" color="#414287" style="--a:0.75"/>
<circle cx="563.23" cy="256.42" r="2.236" color="#472a7a" style="--a:0.75"/>
<circle cx="430.67" cy="319.89" r="2.236" color="#414287" style="--a:0.75"/>
<circle cx="329.34" cy="298.07" r="2.236" color="#443a83" style="--a:0.75"/>
<circle cx="399.57" cy="313.56" r="2.236" color="#424086" style="--a:0.75"/>
<circle cx="459.78" cy="320.13" r="2.236" color="#414287" style="--a:0.75"/>
<circle cx="425.43" cy="318.32" r="2.236" color="#424186" style="--a:0.75"/>
<circle cx="404.21" cy="315.77" r="2.236" color="#424086" style="--a:0.75"/>
<circle cx="445.59" cy="319.85" r="2.236" color="#414287" style="--a:0.75"/>
<circle cx="444.75" cy="320.14" r="2.236" color="#414287" style="--a:0.75"/>
<circle cx="464.37" cy="316.35" r="2.236" color="#424086" style="--a:0.75"/>
<circle cx="365.23" cy="309.73" r="2.236" color="#433e85" style="--a:0.75"/>
<circle cx="447.32" cy="318.93" r="2.236" color="#424186" style="--a:0.75"/>
<circle cx="433.31" cy="313.75" r="2.236" color="#424086" style="--a:0.75"/>
<circle cx="457.65" cy="315.93" r="2.236" color="#424086" style="--a:0.75"/>
<circle cx="476.46" cy="317.75" r="2.236" color="#424186" style="--a:0.75"/>
<circle cx="439.83" cy="314.34" r="2.236" color="#424086" style="--a:0.75"/>
<circle cx="487.26" cy="317.23" r="2.236" color="#424186" style="--a:0.75"/>
<circle cx="482.67" cy="319.67" r="2.236" color="#424186" style="--a:0.75"/>
<circle cx="443.95" cy="319.92" r="2.236" color="#414287" style="--a:0.75"/>
<circle cx="415.76" cy="314.25" r="2.236" color="#424086" style="--a:0.75"/>
<circle cx="424.42" cy="320.18" r="2.236" color="#414287" style="--a:0.75"/>
<circle cx="449.05" cy="317.77" r="2.236" color="#424186" style="--a:0.75"/>
<circle cx="531.99" cy="322.8" r="2.236" color="#414287" style="--a:0.75"/>
<circle cx="538.26" cy="321.64" r="2.236" color="#414287" style="--a:0.75"/>
<circle cx="544.74" cy="320.49" r="2.236" color="#414287" style="--a:0.75"/>
<circle cx="451.59" cy="318.7" r="2.236" color="#424186" style="--a:0.75"/>
<circle cx="442.41" cy="320.87" r="2.236" color="#414287" style="--a:0.75"/>
<circle cx="465.35" cy="317.43" r="2.236" color="#424186" style="--a:0.75"/>
<circle cx="452.4" cy="319.09" r="2.236" color="#424186" style="--a:0.75"/>
<circle cx="460.51" cy="319.87" r="2.236" color="#424186" style="--a:0.75"/>
<circle cx="376.92" cy="311.86" r="2.236" color="#423f85" style="--a:0.75"/>
<circle cx="454.68" cy="321.49" r="2.236" color="#414287" style="--a:0.75"/>
<circle cx="494.17" cy="320.66" r="2.236" color="#414287" style="--a:0.75"/>
<circle cx="477.74" cy="320.97" r="2.236" color="#414287" style="--a:0.75"/>
<circle cx="449.9" cy="317.35" r="2.236" color="#424186" style="--a:0.75"/>
<circle cx="471.81" cy="319.42" r="2.236" color="#424186" style="--a:0.75"/>
<circle cx="409.57" cy="315.85" r="2.236" color="#424086" style="--a:0.75"/>
<circle cx="430.03" cy="319.51" r="2.236" color="#424186" style="--a:0.75"/>
<circle cx="453.91" cy="319.71" r="2.236" color="#424186" style="--a:0.75"/>
<circle cx="555.02" cy="212.58" r="2.236" color="#48186a" style="--a:0.75"/>
<circle cx="560.53" cy="231.14" r="2.236" color="#482071" style="--a:0.75"/>
<circle cx="565.71" cy="272.92" r="2.236" color="#46307e" style="--a:0.75"/>
<circle cx="450.72" cy="316.85" r="2.236" color="#424086" style="--a:0.75"/>
<circle cx="420.47" cy="315.4" r="2.236" color="#424086" style="--a:0.75"/>
<circle cx="435.16" cy="320.49" r="2.236" color="#424186" style="--a:0.75"/>
<circle cx="467.23" cy="321.65" r="2.236" color="#414287" style="--a:0.75"/>
<circle cx="461.21" cy="320.42" r="2.236" color="#424186" style="--a:0.75"/>
<circle cx="455.94" cy="322.35" r="2.236" color="#414287" style="--a:0.75"/>
<circle cx="383.08" cy="311.88" r="2.236" color="#423f85" style="--a:0.75"/>
<circle cx="372.91" cy="308.25" r="2.236" color="#433d84" style="--a:0.75"/>
<circle cx="466.13" cy="318.05" r="2.236" color="#424186" style="--a:0.75"/>
<circle cx="441.13" cy="320.28" r="2.236" color="#424186" style="--a:0.75"/>
<circle cx="434.5" cy="321.51" r="2.236" color="#414287" style="--a:0.75"/>
<circle cx="455.23" cy="320.09" r="2.236" color="#424186" style="--a:0.75"/>
<circle cx="337.28" cy="230.71" r="2.236" color="#481f70" style="--a:0.75"/>
<circle cx="436.14" cy="317.24" r="2.236" color="#424086" style="--a:0.75"/>
<circle cx="453.08" cy="317.13" r="2.236" color="#424086" style="--a:0.75"/>
<circle cx="523.94" cy="320.75" r="2.236" color="#424186" style="--a:0.75"/>
<circle cx="443.3" cy="317.02" r="2.236" color="#424086" style="--a:0.75"/>
<circle cx="488.33" cy="319.78" r="2.236" color="#424186" style="--a:0.75"/>
<circle cx="393.46" cy="314.5" r="2.236" color="#423f85" style="--a:0.75"/>
<circle cx="414.8" cy="315.82" r="2.236" color="#424086" style="--a:0.75"/>
<circle cx="388.66" cy="312.54" r="2.236" color="#423f85" style="--a:0.75"/>
<circle cx="461.8" cy="320.8" r="2.236" color="#424186" style="--a:0.75"/>
<circle cx="328.58" cy="291.23" r="2.236" color="#453781" style="--a:0.75"/>
<circle cx="462.48" cy="322.95" r="2.236" color="#414287" style="--a:0.75"/>
<circle cx="517.72" cy="321.09" r="2.236" color="#424186" style="--a:0.75"/>
<circle cx="456.41" cy="321.66" r="2.236" color="#414287" style="--a:0.75"/>
<circle cx="441.87" cy="318.09" r="2.236" color="#424086" style="--a:0.75"/>
<circle cx="456.95" cy="322.99" r="2.236" color="#414287" style="--a:0.75"/>
<circle cx="567.47" cy="290.98" r="2.236" color="#453781" style="--a:0.75"/>
<circle cx="398.64" cy="315.54" r="2.236" color="#424086" style="--a:0.75"/>
<circle cx="333.28" cy="271.25" r="2.236" color="#472f7d" style="--a:0.75"/>
<circle cx="483.14" cy="320.4" r="2.236" color="#424186" style="--a:0.75"/>
<circle cx="413.26" cy="320.31" r="2.236" color="#424186" style="--a:0.75"/>
<circle cx="449.49" cy="322.43" r="2.236" color="#414287" style="--a:0.76"/>
<circle cx="448.19" cy="322.1" r="2.236" color="#414287" style="--a:0.76"/>
<circle cx="335.19" cy="312.31" r="2.236" color="#433e85" style="--a:0.76"/>
<circle cx="555.4" cy="208.26" r="2.236" color="#481668" style="--a:0.76"/>
<circle cx="429.63" cy="318.51" r="2.236" color="#424086" style="--a:0.76"/>
<circle cx="451.45" cy="324.11" r="2.236" color="#414287" style="--a:0.76"/>
<circle cx="449.91" cy="322.32" r="2.236" color="#414287" style="--a:0.76"/>
<circle cx="448.62" cy="321.69" r="2.236" color="#424186" style="--a:0.76"/>
<circle cx="472.13" cy="318.72" r="2.236" color="#424086" style="--a:0.76"/>
<circle cx="449.06" cy="321.66" r="2.236" color="#424186" style="--a:0.76"/>
<circle cx="567.93" cy="310.54" r="2.236" color="#433e85" style="--a:0.76"/>
<circle cx="404.01" cy="315.85" r="2.236" color="#423f85" style="--a:0.76"/>
<circle cx="434.1" cy="321.15" r="2.236" color="#424186" style="--a:0.76"/>
<circle cx="567.12" cy="267.55" r="2.236" color="#472d7b" style="--a:0.76"/>
<circle cx="328.69" cy="310.31" r="2.236" color="#433e85" style="--a:0.76"/>
<circle cx="342.88" cy="312.74" r="2.236" color="#433e85" style="--a:0.76"/>
<circle cx="424.33" cy="318.27" r="2.236" color="#424086" style="--a:0.76"/>
<circle cx="451.77" cy="323.8" r="2.236" color="#414287" style="--a:0.76"/>
<circle cx="560.37" cy="226.29" r="2.236" color="#481d6f" style="--a:0.76"/>
<circle cx="467.43" cy="320.35" r="2.236" color="#424186" style="--a:0.76"/>
<circle cx="419.94" cy="315.51" r="2.236" color="#423f85" style="--a:0.76"/>
<circle cx="447.76" cy="320.71" r="2.236" color="#424186" style="--a:0.76"/>
<circle cx="452.04" cy="323.34" r="2.236" color="#414287" style="--a:0.76"/>
<circle cx="451.05" cy="321.64" r="2.236" color="#424186" style="--a:0.76"/>
<circle cx="457.63" cy="322.89" r="2.236" color="#414287" style="--a:0.76"/>
<circle cx="444.64" cy="322.67" r="2.236" color="#424186" style="--a:0.76"/>
<circle cx="457.21" cy="321.3" r="2.236" color="#424186" style="--a:0.76"/>
<circle cx="363.13" cy="314.76" r="2.236" color="#423f85" style="--a:0.76"/>
<circle cx="494.31" cy="321.52" r="2.236" color="#424186" style="--a:0.76"/>
<circle cx="337.16" cy="226" r="2.236" color="#481c6e" style="--a:0.76"/>
<circle cx="489.1" cy="322.38" r="2.236" color="#424186" style="--a:0.76"/>
<circle cx="446.5" cy="320.22" r="2.236" color="#424186" style="--a:0.76"/>
<circle cx="357.16" cy="313.48" r="2.236" color="#423f85" style="--a:0.76"/>
<circle cx="369.28" cy="315.5" r="2.236" color="#423f85" style="--a:0.76"/>
<circle cx="463.15" cy="324.02" r="2.236" color="#414287" style="--a:0.76"/>
<circle cx="450.66" cy="320.51" r="2.236" color="#424186" style="--a:0.76"/>
<circle cx="443.12" cy="327.28" r="2.236" color="#414487" style="--a:0.76"/>
<circle cx="445.35" cy="320.94" r="2.236" color="#424186" style="--a:0.76"/>
<circle cx="446.11" cy="320.11" r="2.236" color="#424186" style="--a:0.76"/>
<circle cx="472.73" cy="320.34" r="2.236" color="#424186" style="--a:0.76"/>
<circle cx="444.08" cy="323.15" r="2.236" color="#424186" style="--a:0.76"/>
<circle cx="447.34" cy="319.22" r="2.236" color="#424086" style="--a:0.76"/>
<circle cx="428.45" cy="321.89" r="2.236" color="#424186" style="--a:0.76"/>
<circle cx="446.92" cy="319.3" r="2.236" color="#424086" style="--a:0.76"/>
<circle cx="548.38" cy="328.76" r="2.236" color="#414487" style="--a:0.76"/>
<circle cx="452.55" cy="323.68" r="2.236" color="#414287" style="--a:0.76"/>
<circle cx="423.73" cy="319.97" r="2.236" color="#424086" style="--a:0.76"/>
<circle cx="429.24" cy="318.44" r="2.236" color="#424086" style="--a:0.76"/>
<circle cx="433.82" cy="320.76" r="2.236" color="#424186" style="--a:0.76"/>
<circle cx="477.35" cy="318.17" r="2.236" color="#424086" style="--a:0.76"/>
<circle cx="375.61" cy="315.6" r="2.236" color="#423f85" style="--a:0.76"/>
<circle cx="450.26" cy="319.36" r="2.236" color="#424086" style="--a:0.76"/>
<circle cx="444.38" cy="321.82" r="2.236" color="#424186" style="--a:0.76"/>
<circle cx="417.86" cy="322.83" r="2.236" color="#424186" style="--a:0.76"/>
<circle cx="473.47" cy="323.67" r="2.236" color="#414287" style="--a:0.76"/>
<circle cx="483.56" cy="321.9" r="2.236" color="#424186" style="--a:0.76"/>
<circle cx="397.41" cy="319.17" r="2.236" color="#424086" style="--a:0.76"/>
<circle cx="563.58" cy="328.01" r="2.236" color="#414487" style="--a:0.76"/>
<circle cx="555.37" cy="327.86" r="2.236" color="#414487" style="--a:0.76"/>
<circle cx="445.03" cy="320.24" r="2.236" color="#424086" style="--a:0.76"/>
<circle cx="445.74" cy="319.28" r="2.236" color="#424086" style="--a:0.76"/>
<circle cx="457.84" cy="322.54" r="2.236" color="#424186" style="--a:0.76"/>
<circle cx="438.04" cy="325.85" r="2.236" color="#414287" style="--a:0.76"/>
<circle cx="478.38" cy="322.25" r="2.236" color="#424186" style="--a:0.76"/>
<circle cx="468.36" cy="323.96" r="2.236" color="#414287" style="--a:0.76"/>
<circle cx="409.98" cy="313.92" r="2.236" color="#433e85" style="--a:0.76"/>
<circle cx="352.4" cy="310.52" r="2.236" color="#433d84" style="--a:0.76"/>
<circle cx="532.96" cy="327.25" r="2.236" color="#414487" style="--a:0.76"/>
<circle cx="467.68" cy="320.31" r="2.236" color="#424086" style="--a:0.76"/>
<circle cx="381.83" cy="315.47" r="2.236" color="#423f85" style="--a:0.76"/>
<circle cx="438.6" cy="321.75" r="2.236" color="#424186" style="--a:0.76"/>
<circle cx="568.22" cy="284.55" r="2.236" color="#46337f" style="--a:0.76"/>
<circle cx="462.38" cy="319.26" r="2.236" color="#424086" style="--a:0.76"/>
<circle cx="463.27" cy="324.19" r="2.236" color="#414287" style="--a:0.76"/>
<circle cx="387.4" cy="316.12" r="2.236" color="#423f85" style="--a:0.76"/>
<circle cx="438.33" cy="323.2" r="2.236" color="#424186" style="--a:0.76"/>
<circle cx="490.07" cy="326.56" r="2.236" color="#414287" style="--a:0.76"/>
<circle cx="452.88" cy="323.07" r="2.236" color="#424186" style="--a:0.76"/>
<circle cx="452.69" cy="322.24" r="2.236" color="#424186" style="--a:0.76"/>
<circle cx="458.02" cy="322.9" r="2.236" color="#424186" style="--a:0.76"/>
<circle cx="408.27" cy="319.35" r="2.236" color="#424086" style="--a:0.76"/>
<circle cx="413.3" cy="320.22" r="2.236" color="#424086" style="--a:0.76"/>
<circle cx="452.22" cy="320.66" r="2.236" color="#424086" style="--a:0.76"/>
<circle cx="403.25" cy="318.36" r="2.236" color="#424086" style="--a:0.76"/>
<circle cx="560.32" cy="221.64" r="2.236" color="#481b6d" style="--a:0.76"/>
<circle cx="336.18" cy="221.61" r="2.236" color="#481b6d" style="--a:0.76"/>
<circle cx="419.59" cy="315.86" r="2.236" color="#423f85" style="--a:0.76"/>
<circle cx="443.37" cy="323.19" r="2.236" color="#424186" style="--a:0.76"/>
<circle cx="393.21" cy="315.96" r="2.236" color="#423f85" style="--a:0.76"/>
<circle cx="453.2" cy="324.7" r="2.236" color="#414287" style="--a:0.76"/>
<circle cx="334.38" cy="264.54" r="2.236" color="#472c7a" style="--a:0.76"/>
<circle cx="518.77" cy="325.39" r="2.236" color="#414287" style="--a:0.76"/>
<circle cx="326.7" cy="304.12" r="2.236" color="#443a83" style="--a:0.76"/>
<circle cx="443.94" cy="320.43" r="2.236" color="#424086" style="--a:0.76"/>
<circle cx="329.6" cy="283.51" r="2.236" color="#46337f" style="--a:0.76"/>
<circle cx="423.46" cy="320.89" r="2.236" color="#424086" style="--a:0.76"/>
<circle cx="452.99" cy="322.65" r="2.236" color="#424186" style="--a:0.76"/>
<circle cx="569.4" cy="303.87" r="2.236" color="#443a83" style="--a:0.76"/>
<circle cx="443.73" cy="320.91" r="2.236" color="#424086" style="--a:0.76"/>
<circle cx="473.6" cy="324.86" r="2.236" color="#414287" style="--a:0.76"/>
<circle cx="433.34" cy="322.22" r="2.236" color="#424186" style="--a:0.76"/>
<circle cx="538.04" cy="324.57" r="2.236" color="#424186" style="--a:0.76"/>
<circle cx="458.1" cy="322.82" r="2.236" color="#424186" style="--a:0.76"/>
<circle cx="484.03" cy="324.55" r="2.236" color="#424186" style="--a:0.76"/>
<circle cx="568.75" cy="324.48" r="2.236" color="#424186" style="--a:0.76"/>
<circle cx="443.22" cy="323.5" r="2.236" color="#424186" style="--a:0.76"/>
<circle cx="433.81" cy="319.08" r="2.236" color="#424086" style="--a:0.76"/>
<circle cx="428.56" cy="320.6" r="2.236" color="#424086" style="--a:0.76"/>
<circle cx="443.6" cy="320.41" r="2.236" color="#424086" style="--a:0.76"/>
<circle cx="494.61" cy="323.75" r="2.236" color="#424186" style="--a:0.76"/>
<circle cx="438.21" cy="323.68" r="2.236" color="#424186" style="--a:0.76"/>
<circle cx="453.05" cy="321.94" r="2.236" color="#424186" style="--a:0.76"/>
<circle cx="565.44" cy="260.7" r="2.236" color="#482979" style="--a:0.76"/>
<circle cx="453.17" cy="323.47" r="2.236" color="#424186" style="--a:0.76"/>
<circle cx="523.97" cy="323.46" r="2.236" color="#424186" style="--a:0.76"/>
<circle cx="463.16" cy="323.35" r="2.236" color="#424186" style="--a:0.76"/>
<circle cx="458.13" cy="323.1" r="2.236" color="#424186" style="--a:0.76"/>
<circle cx="443.22" cy="323.91" r="2.236" color="#424186" style="--a:0.76"/>
<circle cx="428.25" cy="322.87" r="2.236" color="#424186" style="--a:0.76"/>
<circle cx="443.24" cy="322.81" r="2.236" color="#424186" style="--a:0.76"/>
<circle cx="443.33" cy="325.37" r="2.236" color="#414287" style="--a:0.76"/>
<circle cx="407.59" cy="322.64" r="2.236" color="#424186" style="--a:0.76"/>
<circle cx="448.19" cy="322.56" r="2.236" color="#424186" style="--a:0.76"/>
<circle cx="452.93" cy="325.93" r="2.236" color="#414287" style="--a:0.76"/>
<circle cx="453.1" cy="324.12" r="2.236" color="#424186" style="--a:0.76"/>
<circle cx="468.02" cy="322.21" r="2.236" color="#424086" style="--a:0.76"/>
<circle cx="484.58" cy="328.49" r="2.236" color="#414287" style="--a:0.76"/>
<circle cx="443.29" cy="323.78" r="2.236" color="#424186" style="--a:0.76"/>
<circle cx="413.08" cy="321.96" r="2.236" color="#424086" style="--a:0.76"/>
<circle cx="560.49" cy="217.17" r="2.236" color="#48186a" style="--a:0.76"/>
<circle cx="433.41" cy="321.81" r="2.236" color="#424086" style="--a:0.76"/>
<circle cx="438.29" cy="323.44" r="2.236" color="#424186" style="--a:0.76"/>
<circle cx="478.06" cy="321.71" r="2.236" color="#424086" style="--a:0.76"/>
<circle cx="453.1" cy="322.41" r="2.236" color="#424086" style="--a:0.76"/>
<circle cx="569.37" cy="278.72" r="2.236" color="#46307e" style="--a:0.76"/>
<circle cx="458.06" cy="323.19" r="2.236" color="#424186" style="--a:0.76"/>
<circle cx="463.1" cy="323.96" r="2.236" color="#424186" style="--a:0.76"/>
<circle cx="385.8" cy="321.34" r="2.236" color="#424086" style="--a:0.76"/>
<circle cx="473.45" cy="325.66" r="2.236" color="#424186" style="--a:0.76"/>
<circle cx="452.55" cy="326.23" r="2.236" color="#414287" style="--a:0.76"/>
<circle cx="452.98" cy="323.6" r="2.236" color="#424186" style="--a:0.76"/>
<circle cx="402.79" cy="320.99" r="2.236" color="#424086" style="--a:0.76"/>
<circle cx="443.51" cy="324.23" r="2.236" color="#424186" style="--a:0.76"/>
<circle cx="428.27" cy="324.07" r="2.236" color="#424186" style="--a:0.77"/>
<circle cx="478.62" cy="325.77" r="2.236" color="#424186" style="--a:0.77"/>
<circle cx="452.71" cy="324.61" r="2.236" color="#424186" style="--a:0.77"/>
<circle cx="572.15" cy="298.61" r="2.236" color="#453882" style="--a:0.77"/>
<circle cx="418.7" cy="320.12" r="2.236" color="#424086" style="--a:0.77"/>
<circle cx="468.03" cy="323.57" r="2.236" color="#424186" style="--a:0.77"/>
<circle cx="423.75" cy="319.99" r="2.236" color="#424086" style="--a:0.77"/>
<circle cx="468.21" cy="327.01" r="2.236" color="#414287" style="--a:0.77"/>
<circle cx="444.33" cy="326.38" r="2.236" color="#424186" style="--a:0.77"/>
<circle cx="412.46" cy="326.09" r="2.236" color="#424186" style="--a:0.77"/>
<circle cx="563.86" cy="235.59" r="2.236" color="#481f70" style="--a:0.77"/>
<circle cx="462.96" cy="324.83" r="2.236" color="#424186" style="--a:0.77"/>
<circle cx="444.1" cy="325.31" r="2.236" color="#424186" style="--a:0.77"/>
<circle cx="452.03" cy="325.96" r="2.236" color="#424186" style="--a:0.77"/>
<circle cx="433.44" cy="324.66" r="2.236" color="#424186" style="--a:0.77"/>
<circle cx="329.23" cy="277.24" r="2.236" color="#472f7d" style="--a:0.77"/>
<circle cx="451.09" cy="327.42" r="2.236" color="#414287" style="--a:0.77"/>
<circle cx="450.34" cy="328.35" r="2.236" color="#414287" style="--a:0.77"/>
<circle cx="443.72" cy="323.2" r="2.236" color="#424086" style="--a:0.77"/>
<circle cx="449.51" cy="328.88" r="2.236" color="#414287" style="--a:0.77"/>
<circle cx="398.17" cy="318.97" r="2.236" color="#423f85" style="--a:0.77"/>
<circle cx="457.86" cy="322.35" r="2.236" color="#424086" style="--a:0.77"/>
<circle cx="423" cy="327.79" r="2.236" color="#414287" style="--a:0.77"/>
<circle cx="457.76" cy="323.88" r="2.236" color="#424186" style="--a:0.77"/>
<circle cx="438.55" cy="322.08" r="2.236" color="#424086" style="--a:0.77"/>
<circle cx="494.82" cy="326.74" r="2.236" color="#424186" style="--a:0.77"/>
<circle cx="451.72" cy="325.56" r="2.236" color="#424186" style="--a:0.77"/>
<circle cx="448.19" cy="328.58" r="2.236" color="#414287" style="--a:0.77"/>
<circle cx="444.66" cy="325.35" r="2.236" color="#424186" style="--a:0.77"/>
<circle cx="488.98" cy="325.4" r="2.236" color="#424186" style="--a:0.77"/>
<circle cx="433.66" cy="320.76" r="2.236" color="#424086" style="--a:0.77"/>
<circle cx="473.22" cy="326.98" r="2.236" color="#424186" style="--a:0.77"/>
<circle cx="369.43" cy="318.07" r="2.236" color="#423f85" style="--a:0.77"/>
<circle cx="438.68" cy="323.16" r="2.236" color="#424086" style="--a:0.77"/>
<circle cx="334.31" cy="235.01" r="2.236" color="#481f70" style="--a:0.77"/>
<circle cx="451.4" cy="325.54" r="2.236" color="#424186" style="--a:0.77"/>
<circle cx="423.62" cy="322.16" r="2.236" color="#424086" style="--a:0.77"/>
<circle cx="560.74" cy="212.83" r="2.236" color="#481668" style="--a:0.77"/>
<circle cx="381.83" cy="317.75" r="2.236" color="#423f85" style="--a:0.77"/>
<circle cx="446.88" cy="327.49" r="2.236" color="#414287" style="--a:0.77"/>
<circle cx="438.87" cy="324.49" r="2.236" color="#424186" style="--a:0.77"/>
<circle cx="418.45" cy="322.86" r="2.236" color="#424086" style="--a:0.77"/>
<circle cx="457.26" cy="325.99" r="2.236" color="#424186" style="--a:0.77"/>
<circle cx="439.12" cy="325.96" r="2.236" color="#424186" style="--a:0.77"/>
<circle cx="446.07" cy="326.49" r="2.236" color="#424186" style="--a:0.77"/>
<circle cx="457.49" cy="324.12" r="2.236" color="#424186" style="--a:0.77"/>
<circle cx="462.61" cy="324.85" r="2.236" color="#424186" style="--a:0.77"/>
<circle cx="443.97" cy="321.96" r="2.236" color="#424086" style="--a:0.77"/>
<circle cx="393.54" cy="317.05" r="2.236" color="#433e85" style="--a:0.77"/>
<circle cx="519.09" cy="329.39" r="2.236" color="#414287" style="--a:0.77"/>
<circle cx="342.58" cy="316.98" r="2.236" color="#433e85" style="--a:0.77"/>
<circle cx="467.77" cy="327.45" r="2.236" color="#414287" style="--a:0.77"/>
<circle cx="350.01" cy="316.95" r="2.236" color="#433e85" style="--a:0.77"/>
<circle cx="449.9" cy="326.29" r="2.236" color="#424186" style="--a:0.77"/>
<circle cx="428.69" cy="323.61" r="2.236" color="#424086" style="--a:0.77"/>
<circle cx="445.35" cy="324.82" r="2.236" color="#424186" style="--a:0.77"/>
<circle cx="433.84" cy="324.26" r="2.236" color="#424086" style="--a:0.77"/>
<circle cx="445.71" cy="325.1" r="2.236" color="#424186" style="--a:0.77"/>
<circle cx="445.02" cy="324.04" r="2.236" color="#424086" style="--a:0.77"/>
<circle cx="376.63" cy="316.46" r="2.236" color="#433e85" style="--a:0.77"/>
<circle cx="569.27" cy="316.36" r="2.236" color="#433e85" style="--a:0.77"/>
<circle cx="446.49" cy="325.68" r="2.236" color="#424186" style="--a:0.77"/>
<circle cx="439.53" cy="326.27" r="2.236" color="#424186" style="--a:0.77"/>
<circle cx="328.39" cy="295.23" r="2.236" color="#453581" style="--a:0.77"/>
<circle cx="548.6" cy="333.71" r="2.236" color="#414487" style="--a:0.77"/>
<circle cx="566.54" cy="336.77" r="2.236" color="#404588" style="--a:0.77"/>
<circle cx="364.45" cy="315.96" r="2.236" color="#433e85" style="--a:0.77"/>
<circle cx="447.33" cy="325.62" r="2.236" color="#424186" style="--a:0.77"/>
<circle cx="478.11" cy="326.31" r="2.236" color="#424186" style="--a:0.77"/>
<circle cx="532.46" cy="330.47" r="2.236" color="#414287" style="--a:0.77"/>
<circle cx="452.15" cy="321.25" r="2.236" color="#423f85" style="--a:0.77"/>
<circle cx="434.4" cy="328.45" r="2.236" color="#414287" style="--a:0.77"/>
<circle cx="456.8" cy="325.46" r="2.236" color="#424186" style="--a:0.77"/>
<circle cx="336.19" cy="315.47" r="2.236" color="#433e85" style="--a:0.77"/>
<circle cx="402.76" cy="323.41" r="2.236" color="#424086" style="--a:0.77"/>
<circle cx="524.98" cy="328.79" r="2.236" color="#414287" style="--a:0.77"/>
<circle cx="495.44" cy="331.93" r="2.236" color="#414487" style="--a:0.77"/>
<circle cx="408.42" cy="322.2" r="2.236" color="#424086" style="--a:0.77"/>
<circle cx="564.05" cy="230.87" r="2.236" color="#481c6e" style="--a:0.77"/>
<circle cx="447.76" cy="325.03" r="2.236" color="#424186" style="--a:0.77"/>
<circle cx="449.05" cy="324.85" r="2.236" color="#424086" style="--a:0.77"/>
<circle cx="461.89" cy="327.65" r="2.236" color="#424186" style="--a:0.77"/>
<circle cx="456.36" cy="326.27" r="2.236" color="#424186" style="--a:0.77"/>
<circle cx="462.16" cy="324.92" r="2.236" color="#424086" style="--a:0.77"/>
<circle cx="448.62" cy="324.56" r="2.236" color="#424086" style="--a:0.77"/>
<circle cx="568.87" cy="272.14" r="2.236" color="#472d7b" style="--a:0.77"/>
<circle cx="434.24" cy="324.71" r="2.236" color="#424086" style="--a:0.77"/>
<circle cx="397.39" cy="323.43" r="2.236" color="#424086" style="--a:0.77"/>
<circle cx="441.04" cy="328.62" r="2.236" color="#414287" style="--a:0.77"/>
<circle cx="413.12" cy="326.67" r="2.236" color="#424186" style="--a:0.77"/>
<circle cx="440.06" cy="325.62" r="2.236" color="#424186" style="--a:0.77"/>
<circle cx="555.51" cy="332.97" r="2.236" color="#414487" style="--a:0.77"/>
<circle cx="455.86" cy="327.04" r="2.236" color="#424186" style="--a:0.77"/>
<circle cx="488.94" cy="328.43" r="2.236" color="#424186" style="--a:0.77"/>
<circle cx="467.17" cy="327.75" r="2.236" color="#424186" style="--a:0.77"/>
<circle cx="441.67" cy="329.37" r="2.236" color="#414287" style="--a:0.77"/>
<circle cx="450.61" cy="322.22" r="2.236" color="#424086" style="--a:0.77"/>
<circle cx="359.43" cy="313.81" r="2.236" color="#433d84" style="--a:0.77"/>
<circle cx="472.52" cy="326.83" r="2.236" color="#424186" style="--a:0.77"/>
<circle cx="538.52" cy="329.47" r="2.236" color="#414287" style="--a:0.77"/>
<circle cx="440.57" cy="326.29" r="2.236" color="#424186" style="--a:0.77"/>
<circle cx="466.81" cy="330.76" r="2.236" color="#414287" style="--a:0.77"/>
<circle cx="334.15" cy="230.35" r="2.236" color="#481c6e" style="--a:0.77"/>
<circle cx="461.26" cy="327.98" r="2.236" color="#424186" style="--a:0.77"/>
<circle cx="455.24" cy="326.85" r="2.236" color="#424186" style="--a:0.77"/>
<circle cx="454.64" cy="327.94" r="2.236" color="#424186" style="--a:0.77"/>
<circle cx="429.45" cy="326.15" r="2.236" color="#424186" style="--a:0.77"/>
<circle cx="453.98" cy="328.92" r="2.236" color="#424186" style="--a:0.77"/>
<circle cx="460.68" cy="329.84" r="2.236" color="#414287" style="--a:0.77"/>
<circle cx="482.68" cy="324.51" r="2.236" color="#424086" style="--a:0.77"/>
<circle cx="331.28" cy="312.27" r="2.236" color="#443b84" style="--a:0.77"/>
<circle cx="565.74" cy="226.67" r="2.236" color="#481b6d" style="--a:0.77"/>
<circle cx="442.41" cy="328.73" r="2.236" color="#424186" style="--a:0.77"/>
<circle cx="419.19" cy="322.36" r="2.236" color="#423f85" style="--a:0.77"/>
<circle cx="424.24" cy="324.8" r="2.236" color="#424086" style="--a:0.77"/>
<circle cx="443.13" cy="329.46" r="2.236" color="#414287" style="--a:0.77"/>
<circle cx="392.72" cy="321.61" r="2.236" color="#423f85" style="--a:0.77"/>
<circle cx="472.13" cy="329.3" r="2.236" color="#414287" style="--a:0.77"/>
<circle cx="429.47" cy="321.78" r="2.236" color="#423f85" style="--a:0.77"/>
<circle cx="380.62" cy="323.2" r="2.236" color="#424086" style="--a:0.77"/>
<circle cx="444.72" cy="330.3" r="2.236" color="#414287" style="--a:0.77"/>
<circle cx="424.41" cy="328.44" r="2.236" color="#424186" style="--a:0.77"/>
<circle cx="443.93" cy="329.28" r="2.236" color="#424186" style="--a:0.77"/>
<circle cx="569.66" cy="289.57" r="2.236" color="#46337f" style="--a:0.77"/>
<circle cx="435.37" cy="325.44" r="2.236" color="#424086" style="--a:0.77"/>
<circle cx="477.21" cy="326.08" r="2.236" color="#424086" style="--a:0.77"/>
<circle cx="387.47" cy="321" r="2.236" color="#423f85" style="--a:0.77"/>
<circle cx="482.79" cy="328.83" r="2.236" color="#424186" style="--a:0.77"/>
<circle cx="327.31" cy="289.12" r="2.236" color="#46337f" style="--a:0.77"/>
<circle cx="453.17" cy="327.48" r="2.236" color="#424186" style="--a:0.77"/>
<circle cx="419.26" cy="325.7" r="2.236" color="#424086" style="--a:0.77"/>
<circle cx="408.86" cy="323.86" r="2.236" color="#424086" style="--a:0.77"/>
<circle cx="449.07" cy="330.04" r="2.236" color="#414287" style="--a:0.77"/>
<circle cx="333.15" cy="226.05" r="2.236" color="#481a6c" style="--a:0.77"/>
<circle cx="332.72" cy="268.94" r="2.236" color="#472c7a" style="--a:0.77"/>
<circle cx="569.77" cy="266.74" r="2.236" color="#472a7a" style="--a:0.77"/>
<circle cx="451.61" cy="328.34" r="2.236" color="#424186" style="--a:0.77"/>
<circle cx="450.77" cy="328.26" r="2.236" color="#424186" style="--a:0.77"/>
<circle cx="452.37" cy="326.86" r="2.236" color="#424086" style="--a:0.78"/>
<circle cx="569.81" cy="308.83" r="2.236" color="#443a83" style="--a:0.78"/>
<circle cx="448.19" cy="328.66" r="2.236" color="#424186" style="--a:0.78"/>
<circle cx="476.9" cy="329.44" r="2.236" color="#424186" style="--a:0.78"/>
<circle cx="447.32" cy="328.38" r="2.236" color="#424186" style="--a:0.78"/>
<circle cx="459.64" cy="327.7" r="2.236" color="#424186" style="--a:0.78"/>
<circle cx="465.58" cy="328.51" r="2.236" color="#424186" style="--a:0.78"/>
<circle cx="526.38" cy="335.97" r="2.236" color="#414487" style="--a:0.78"/>
<circle cx="430.41" cy="324.77" r="2.236" color="#424086" style="--a:0.78"/>
<circle cx="419.65" cy="328.69" r="2.236" color="#424186" style="--a:0.78"/>
<circle cx="327.62" cy="307.88" r="2.236" color="#443983" style="--a:0.78"/>
<circle cx="369.56" cy="321.59" r="2.236" color="#423f85" style="--a:0.78"/>
<circle cx="446.47" cy="327.22" r="2.236" color="#424086" style="--a:0.78"/>
<circle cx="487.78" cy="328.83" r="2.236" color="#424186" style="--a:0.78"/>
<circle cx="565.62" cy="222.1" r="2.236" color="#48186a" style="--a:0.78"/>
<circle cx="398.18" cy="324.97" r="2.236" color="#424086" style="--a:0.78"/>
<circle cx="437.59" cy="328.53" r="2.236" color="#424186" style="--a:0.78"/>
<circle cx="470.97" cy="328.51" r="2.236" color="#424186" style="--a:0.78"/>
<circle cx="436.28" cy="323.75" r="2.236" color="#423f85" style="--a:0.78"/>
<circle cx="445.65" cy="326.02" r="2.236" color="#424086" style="--a:0.78"/>
<circle cx="425.5" cy="328" r="2.236" color="#424186" style="--a:0.78"/>
<circle cx="493.62" cy="331.17" r="2.236" color="#414287" style="--a:0.78"/>
<circle cx="392.19" cy="326.56" r="2.236" color="#424086" style="--a:0.78"/>
<circle cx="458.73" cy="327.81" r="2.236" color="#424086" style="--a:0.78"/>
<circle cx="566.32" cy="327.28" r="2.236" color="#424086" style="--a:0.78"/>
<circle cx="377.23" cy="318.84" r="2.236" color="#433e85" style="--a:0.78"/>
<circle cx="414.81" cy="324.25" r="2.236" color="#423f85" style="--a:0.78"/>
<circle cx="449.89" cy="325.44" r="2.236" color="#424086" style="--a:0.78"/>
<circle cx="464.64" cy="329.23" r="2.236" color="#424186" style="--a:0.78"/>
<circle cx="481.94" cy="330.61" r="2.236" color="#424186" style="--a:0.78"/>
<circle cx="470.32" cy="331.59" r="2.236" color="#414287" style="--a:0.78"/>
<circle cx="363.82" cy="320.78" r="2.236" color="#433e85" style="--a:0.78"/>
<circle cx="457.81" cy="328.75" r="2.236" color="#424186" style="--a:0.78"/>
<circle cx="532.4" cy="335.39" r="2.236" color="#414487" style="--a:0.78"/>
<circle cx="356.81" cy="321.48" r="2.236" color="#433e85" style="--a:0.78"/>
<circle cx="437.06" cy="324.05" r="2.236" color="#423f85" style="--a:0.78"/>
<circle cx="431.31" cy="324.71" r="2.236" color="#423f85" style="--a:0.78"/>
<circle cx="438.63" cy="327.9" r="2.236" color="#424086" style="--a:0.78"/>
<circle cx="426.26" cy="330.41" r="2.236" color="#424186" style="--a:0.78"/>
<circle cx="431.94" cy="327.64" r="2.236" color="#424086" style="--a:0.78"/>
<circle cx="567.87" cy="240.71" r="2.236" color="#481f70" style="--a:0.78"/>
<circle cx="405.15" cy="319.98" r="2.236" color="#433e85" style="--a:0.78"/>
<circle cx="570.15" cy="283.32" r="2.236" color="#472f7d" style="--a:0.78"/>
<circle cx="409.69" cy="325.23" r="2.236" color="#423f85" style="--a:0.78"/>
<circle cx="539.62" cy="336.42" r="2.236" color="#414487" style="--a:0.78"/>
<circle cx="415.04" cy="328.27" r="2.236" color="#424086" style="--a:0.78"/>
<circle cx="475.7" cy="329.78" r="2.236" color="#424186" style="--a:0.78"/>
<circle cx="454.61" cy="331.64" r="2.236" color="#424186" style="--a:0.78"/>
<circle cx="455.7" cy="329.92" r="2.236" color="#424186" style="--a:0.78"/>
<circle cx="350.58" cy="320.73" r="2.236" color="#433e85" style="--a:0.78"/>
<circle cx="456.68" cy="327.75" r="2.236" color="#424086" style="--a:0.78"/>
<circle cx="565.91" cy="217.73" r="2.236" color="#481668" style="--a:0.78"/>
<circle cx="439.71" cy="327.52" r="2.236" color="#424086" style="--a:0.78"/>
<circle cx="432.96" cy="328.61" r="2.236" color="#424086" style="--a:0.78"/>
<circle cx="469.07" cy="332.13" r="2.236" color="#424186" style="--a:0.78"/>
<circle cx="463.4" cy="328.37" r="2.236" color="#424086" style="--a:0.78"/>
<circle cx="547.38" cy="337.72" r="2.236" color="#414487" style="--a:0.78"/>
<circle cx="343.22" cy="321.05" r="2.236" color="#433e85" style="--a:0.78"/>
<circle cx="486.61" cy="330.1" r="2.236" color="#424186" style="--a:0.78"/>
<circle cx="427.54" cy="330.72" r="2.236" color="#424186" style="--a:0.78"/>
<circle cx="388.53" cy="322.74" r="2.236" color="#433e85" style="--a:0.78"/>
<circle cx="569.79" cy="301.32" r="2.236" color="#453781" style="--a:0.78"/>
<circle cx="441.94" cy="328.11" r="2.236" color="#424086" style="--a:0.78"/>
<circle cx="555.65" cy="339.17" r="2.236" color="#414487" style="--a:0.78"/>
<circle cx="405.09" cy="324.35" r="2.236" color="#423f85" style="--a:0.78"/>
<circle cx="492.52" cy="333.43" r="2.236" color="#414287" style="--a:0.78"/>
<circle cx="450.8" cy="330.72" r="2.236" color="#424186" style="--a:0.78"/>
<circle cx="332.69" cy="239.22" r="2.236" color="#481d6f" style="--a:0.78"/>
<circle cx="461.19" cy="331.95" r="2.236" color="#424186" style="--a:0.78"/>
<circle cx="568.93" cy="236.25" r="2.236" color="#481d6f" style="--a:0.78"/>
<circle cx="444.33" cy="329.68" r="2.236" color="#424086" style="--a:0.78"/>
<circle cx="434.16" cy="328.92" r="2.236" color="#424086" style="--a:0.78"/>
<circle cx="327.3" cy="300.72" r="2.236" color="#453581" style="--a:0.78"/>
<circle cx="565.56" cy="342.08" r="2.236" color="#404588" style="--a:0.78"/>
<circle cx="440.91" cy="325.88" r="2.236" color="#423f85" style="--a:0.78"/>
<circle cx="382.56" cy="323.74" r="2.236" color="#423f85" style="--a:0.78"/>
<circle cx="421.59" cy="325.39" r="2.236" color="#423f85" style="--a:0.78"/>
<circle cx="462.17" cy="328.45" r="2.236" color="#424086" style="--a:0.78"/>
<circle cx="453.24" cy="328.2" r="2.236" color="#424086" style="--a:0.78"/>
<circle cx="336.82" cy="319.87" r="2.236" color="#433d84" style="--a:0.78"/>
<circle cx="331.18" cy="279.85" r="2.236" color="#472e7c" style="--a:0.78"/>
<circle cx="448.19" cy="330.17" r="2.236" color="#424186" style="--a:0.78"/>
<circle cx="443.15" cy="327.95" r="2.236" color="#424086" style="--a:0.78"/>
<circle cx="410.56" cy="327.39" r="2.236" color="#424086" style="--a:0.78"/>
<circle cx="435.33" cy="330.61" r="2.236" color="#424186" style="--a:0.78"/>
<circle cx="467.61" cy="332.28" r="2.236" color="#424186" style="--a:0.78"/>
<circle cx="445.62" cy="328.75" r="2.236" color="#424086" style="--a:0.78"/>
<circle cx="449.48" cy="329.09" r="2.236" color="#424086" style="--a:0.78"/>
<circle cx="399.74" cy="325.44" r="2.236" color="#423f85" style="--a:0.78"/>
<circle cx="446.9" cy="328.86" r="2.236" color="#424086" style="--a:0.78"/>
<circle cx="567.65" cy="320.16" r="2.236" color="#433d84" style="--a:0.78"/>
<circle cx="458.44" cy="334.75" r="2.236" color="#414287" style="--a:0.78"/>
<circle cx="328.79" cy="320.1" r="2.236" color="#433d84" style="--a:0.78"/>
<circle cx="422.36" cy="328.56" r="2.236" color="#424086" style="--a:0.78"/>
<circle cx="376.84" cy="323.88" r="2.236" color="#433e85" style="--a:0.78"/>
<circle cx="570.47" cy="277.29" r="2.236" color="#472d7b" style="--a:0.78"/>
<circle cx="473.96" cy="328.25" r="2.236" color="#424086" style="--a:0.78"/>
<circle cx="479.73" cy="327.82" r="2.236" color="#424086" style="--a:0.78"/>
<circle cx="405.19" cy="329.37" r="2.236" color="#424086" style="--a:0.78"/>
<circle cx="459.64" cy="330.7" r="2.236" color="#424086" style="--a:0.78"/>
<circle cx="485.57" cy="332.84" r="2.236" color="#424186" style="--a:0.78"/>
<circle cx="429.1" cy="329.97" r="2.236" color="#424086" style="--a:0.78"/>
<circle cx="416.8" cy="327.18" r="2.236" color="#423f85" style="--a:0.78"/>
<circle cx="479.44" cy="333.92" r="2.236" color="#424186" style="--a:0.78"/>
<circle cx="524.58" cy="338.61" r="2.236" color="#414487" style="--a:0.78"/>
<circle cx="466.16" cy="333.32" r="2.236" color="#424186" style="--a:0.78"/>
<circle cx="451.92" cy="325.1" r="2.236" color="#423f85" style="--a:0.78"/>
<circle cx="394.45" cy="326.02" r="2.236" color="#423f85" style="--a:0.79"/>
<circle cx="331.86" cy="234.84" r="2.236" color="#481c6e" style="--a:0.79"/>
<circle cx="438.18" cy="331.6" r="2.236" color="#424186" style="--a:0.79"/>
<circle cx="439.63" cy="333.61" r="2.236" color="#424186" style="--a:0.79"/>
<circle cx="472.89" cy="331.06" r="2.236" color="#424086" style="--a:0.79"/>
<circle cx="371.34" cy="323.38" r="2.236" color="#433e85" style="--a:0.79"/>
<circle cx="532.13" cy="341.14" r="2.236" color="#414487" style="--a:0.79"/>
<circle cx="455.14" cy="334.31" r="2.236" color="#424186" style="--a:0.79"/>
<circle cx="568.61" cy="231.47" r="2.236" color="#481b6d" style="--a:0.79"/>
<circle cx="417.6" cy="331.05" r="2.236" color="#424086" style="--a:0.79"/>
<circle cx="456.65" cy="331.95" r="2.236" color="#424186" style="--a:0.79"/>
<circle cx="437.03" cy="327.37" r="2.236" color="#423f85" style="--a:0.79"/>
<circle cx="453.45" cy="334.45" r="2.236" color="#424186" style="--a:0.79"/>
<circle cx="490.71" cy="334.48" r="2.236" color="#424186" style="--a:0.79"/>
<circle cx="364.83" cy="324.18" r="2.236" color="#433e85" style="--a:0.79"/>
<circle cx="423.94" cy="328.62" r="2.236" color="#423f85" style="--a:0.79"/>
<circle cx="431.94" cy="333.37" r="2.236" color="#424186" style="--a:0.79"/>
<circle cx="464.4" cy="333.05" r="2.236" color="#424186" style="--a:0.79"/>
<circle cx="441.39" cy="331.42" r="2.236" color="#424086" style="--a:0.79"/>
<circle cx="331.62" cy="273.57" r="2.236" color="#472a7a" style="--a:0.79"/>
<circle cx="389.6" cy="325.35" r="2.236" color="#433e85" style="--a:0.79"/>
<circle cx="430.85" cy="328.61" r="2.236" color="#423f85" style="--a:0.79"/>
<circle cx="446.43" cy="334.14" r="2.236" color="#424186" style="--a:0.79"/>
<circle cx="471.41" cy="332.72" r="2.236" color="#424186" style="--a:0.79"/>
<circle cx="327.41" cy="293.67" r="2.236" color="#46337f" style="--a:0.79"/>
<circle cx="412.43" cy="327" r="2.236" color="#423f85" style="--a:0.79"/>
<circle cx="568.82" cy="293.55" r="2.236" color="#46327e" style="--a:0.79"/>
<circle cx="357.69" cy="325.46" r="2.236" color="#433e85" style="--a:0.79"/>
<circle cx="477.62" cy="334.56" r="2.236" color="#424186" style="--a:0.79"/>
<circle cx="443.07" cy="331.1" r="2.236" color="#424086" style="--a:0.79"/>
<circle cx="444.74" cy="331.85" r="2.236" color="#424086" style="--a:0.79"/>
<circle cx="327.1" cy="313.78" r="2.236" color="#443a83" style="--a:0.79"/>
<circle cx="332.21" cy="230.23" r="2.236" color="#481a6c" style="--a:0.79"/>
<circle cx="569.97" cy="271.06" r="2.236" color="#482979" style="--a:0.79"/>
<circle cx="401.43" cy="326.4" r="2.236" color="#433e85" style="--a:0.79"/>
<circle cx="448.19" cy="332.12" r="2.236" color="#424086" style="--a:0.79"/>
<circle cx="568.63" cy="313.15" r="2.236" color="#443983" style="--a:0.79"/>
<circle cx="483.5" cy="332.78" r="2.236" color="#424086" style="--a:0.79"/>
<circle cx="433.8" cy="332.99" r="2.236" color="#424086" style="--a:0.79"/>
<circle cx="412.94" cy="332.58" r="2.236" color="#424086" style="--a:0.79"/>
<circle cx="537.63" cy="339.78" r="2.236" color="#414487" style="--a:0.79"/>
<circle cx="449.92" cy="331.24" r="2.236" color="#424086" style="--a:0.79"/>
<circle cx="568.71" cy="226.97" r="2.236" color="#48186a" style="--a:0.79"/>
<circle cx="350.86" cy="325.84" r="2.236" color="#433e85" style="--a:0.79"/>
<circle cx="384.11" cy="325.84" r="2.236" color="#433e85" style="--a:0.79"/>
<circle cx="469.78" cy="334.64" r="2.236" color="#424186" style="--a:0.79"/>
<circle cx="565.57" cy="332.82" r="2.236" color="#424086" style="--a:0.79"/>
<circle cx="495.91" cy="335.87" r="2.236" color="#424186" style="--a:0.79"/>
<circle cx="451.59" cy="329.85" r="2.236" color="#423f85" style="--a:0.79"/>
<circle cx="395.55" cy="329.11" r="2.236" color="#423f85" style="--a:0.79"/>
<circle cx="377.21" cy="328.64" r="2.236" color="#423f85" style="--a:0.79"/>
<circle cx="460.8" cy="334.17" r="2.236" color="#424186" style="--a:0.79"/>
<circle cx="328.88" cy="269.58" r="2.236" color="#482979" style="--a:0.79"/>
<circle cx="425.79" cy="327.99" r="2.236" color="#423f85" style="--a:0.79"/>
<circle cx="462.33" cy="330.56" r="2.236" color="#424086" style="--a:0.79"/>
<circle cx="435.67" cy="333.28" r="2.236" color="#424086" style="--a:0.79"/>
<circle cx="475.75" cy="335.93" r="2.236" color="#424186" style="--a:0.79"/>
<circle cx="572.23" cy="289.56" r="2.236" color="#46307e" style="--a:0.79"/>
<circle cx="408" cy="327" r="2.236" color="#433e85" style="--a:0.79"/>
<circle cx="571.2" cy="246.09" r="2.236" color="#481f70" style="--a:0.79"/>
<circle cx="488.85" cy="336.28" r="2.236" color="#424186" style="--a:0.79"/>
<circle cx="501.95" cy="339.09" r="2.236" color="#414287" style="--a:0.79"/>
<circle cx="544.69" cy="340.61" r="2.236" color="#414287" style="--a:0.79"/>
<circle cx="420.15" cy="328.14" r="2.236" color="#423f85" style="--a:0.79"/>
<circle cx="482.1" cy="336.32" r="2.236" color="#424186" style="--a:0.79"/>
<circle cx="437.56" cy="334.42" r="2.236" color="#424186" style="--a:0.79"/>
<circle cx="427.27" cy="330.44" r="2.236" color="#423f85" style="--a:0.79"/>
<circle cx="458.79" cy="333.99" r="2.236" color="#424086" style="--a:0.79"/>
<circle cx="467.74" cy="334.98" r="2.236" color="#424186" style="--a:0.79"/>
<circle cx="570.2" cy="222.87" r="2.236" color="#481668" style="--a:0.79"/>
<circle cx="345.25" cy="324.34" r="2.236" color="#433d84" style="--a:0.79"/>
<circle cx="456.85" cy="335.56" r="2.236" color="#424186" style="--a:0.79"/>
<circle cx="553.88" cy="343.96" r="2.236" color="#414487" style="--a:0.79"/>
<circle cx="390.49" cy="329.32" r="2.236" color="#423f85" style="--a:0.79"/>
<circle cx="428.96" cy="332.75" r="2.236" color="#424086" style="--a:0.79"/>
<circle cx="454.73" cy="335.7" r="2.236" color="#424186" style="--a:0.79"/>
<circle cx="327.82" cy="286.84" r="2.236" color="#472f7d" style="--a:0.79"/>
<circle cx="521.73" cy="340.22" r="2.236" color="#414287" style="--a:0.79"/>
<circle cx="372.53" cy="327" r="2.236" color="#433e85" style="--a:0.79"/>
<circle cx="408.83" cy="331.87" r="2.236" color="#424086" style="--a:0.79"/>
<circle cx="494.42" cy="339.73" r="2.236" color="#414287" style="--a:0.79"/>
<circle cx="421.67" cy="330.74" r="2.236" color="#423f85" style="--a:0.79"/>
<circle cx="439.74" cy="332.36" r="2.236" color="#424086" style="--a:0.79"/>
<circle cx="441.72" cy="334.17" r="2.236" color="#424086" style="--a:0.79"/>
<circle cx="430.78" cy="335.44" r="2.236" color="#424186" style="--a:0.79"/>
<circle cx="465.59" cy="335.35" r="2.236" color="#424086" style="--a:0.79"/>
<circle cx="403.43" cy="327.3" r="2.236" color="#433e85" style="--a:0.79"/>
<circle cx="326.57" cy="306.77" r="2.236" color="#453781" style="--a:0.8"/>
<circle cx="330.55" cy="243.98" r="2.236" color="#481d6f" style="--a:0.8"/>
<circle cx="415.55" cy="331.14" r="2.236" color="#423f85" style="--a:0.8"/>
<circle cx="338.46" cy="324.02" r="2.236" color="#433d84" style="--a:0.8"/>
<circle cx="443.86" cy="334.28" r="2.236" color="#424086" style="--a:0.8"/>
<circle cx="507.44" cy="340.31" r="2.236" color="#414287" style="--a:0.8"/>
<circle cx="480.01" cy="338.15" r="2.236" color="#424186" style="--a:0.8"/>
<circle cx="450.37" cy="334.52" r="2.236" color="#424086" style="--a:0.8"/>
<circle cx="571.13" cy="241.22" r="2.236" color="#481c6e" style="--a:0.8"/>
<circle cx="365.7" cy="328.74" r="2.236" color="#433e85" style="--a:0.8"/>
<circle cx="568.42" cy="305.52" r="2.236" color="#453581" style="--a:0.8"/>
<circle cx="473.13" cy="334.28" r="2.236" color="#424086" style="--a:0.8"/>
<circle cx="329.84" cy="263.55" r="2.236" color="#482576" style="--a:0.8"/>
<circle cx="528.79" cy="342.64" r="2.236" color="#414487" style="--a:0.8"/>
<circle cx="397.39" cy="331.31" r="2.236" color="#423f85" style="--a:0.8"/>
<circle cx="561.59" cy="344.64" r="2.236" color="#414487" style="--a:0.8"/>
<circle cx="385.32" cy="329.55" r="2.236" color="#423f85" style="--a:0.8"/>
<circle cx="433" cy="336.27" r="2.236" color="#424186" style="--a:0.8"/>
<circle cx="566.48" cy="325.27" r="2.236" color="#433d84" style="--a:0.8"/>
<circle cx="448.19" cy="332.8" r="2.236" color="#423f85" style="--a:0.8"/>
<circle cx="403.55" cy="334.86" r="2.236" color="#424086" style="--a:0.8"/>
<circle cx="446.05" cy="332.22" r="2.236" color="#423f85" style="--a:0.8"/>
<circle cx="452.43" cy="331.27" r="2.236" color="#423f85" style="--a:0.8"/>
<circle cx="486.24" cy="336.42" r="2.236" color="#424186" style="--a:0.8"/>
<circle cx="330.54" cy="324.58" r="2.236" color="#433d84" style="--a:0.8"/>
<circle cx="463.27" cy="335.24" r="2.236" color="#424086" style="--a:0.8"/>
<circle cx="423.69" cy="331.92" r="2.236" color="#423f85" style="--a:0.8"/>
<circle cx="571.75" cy="282.91" r="2.236" color="#472d7b" style="--a:0.8"/>
<circle cx="425.17" cy="337.4" r="2.236" color="#424186" style="--a:0.8"/>
<circle cx="461.08" cy="337.3" r="2.236" color="#424186" style="--a:0.8"/>
<circle cx="470.96" cy="335.89" r="2.236" color="#424086" style="--a:0.8"/>
<circle cx="417.64" cy="332.54" r="2.236" color="#423f85" style="--a:0.8"/>
<circle cx="330.39" cy="239.41" r="2.236" color="#481b6d" style="--a:0.8"/>
<circle cx="458.68" cy="338.56" r="2.236" color="#424186" style="--a:0.8"/>
<circle cx="536.08" cy="344.88" r="2.236" color="#414487" style="--a:0.8"/>
<circle cx="327.58" cy="280.88" r="2.236" color="#472c7a" style="--a:0.8"/>
<circle cx="477.6" cy="339.58" r="2.236" color="#424186" style="--a:0.8"/>
<circle cx="391.9" cy="333.19" r="2.236" color="#423f85" style="--a:0.8"/>
<circle cx="435.53" cy="334.95" r="2.236" color="#424086" style="--a:0.8"/>
<circle cx="411.27" cy="332.31" r="2.236" color="#423f85" style="--a:0.8"/>
<circle cx="498.71" cy="338.87" r="2.236" color="#424186" style="--a:0.8"/>
<circle cx="379.82" cy="330.22" r="2.236" color="#433e85" style="--a:0.8"/>
<circle cx="328.27" cy="259.15" r="2.236" color="#482374" style="--a:0.8"/>
<circle cx="571.39" cy="236.62" r="2.236" color="#481b6d" style="--a:0.8"/>
<circle cx="456.14" cy="339.13" r="2.236" color="#424186" style="--a:0.8"/>
<circle cx="484.4" cy="340.42" r="2.236" color="#424186" style="--a:0.8"/>
<circle cx="511.91" cy="338.93" r="2.236" color="#424186" style="--a:0.8"/>
<circle cx="361.76" cy="325.71" r="2.236" color="#433d84" style="--a:0.8"/>
<circle cx="491.4" cy="339.88" r="2.236" color="#424186" style="--a:0.8"/>
<circle cx="453.54" cy="339.99" r="2.236" color="#424186" style="--a:0.8"/>
<circle cx="419.31" cy="337.05" r="2.236" color="#424086" style="--a:0.8"/>
<circle cx="440.36" cy="337.06" r="2.236" color="#424086" style="--a:0.8"/>
<circle cx="569.73" cy="299.67" r="2.236" color="#46337f" style="--a:0.8"/>
<circle cx="468.42" cy="336.12" r="2.236" color="#424086" style="--a:0.8"/>
<circle cx="438.12" cy="332.97" r="2.236" color="#423f85" style="--a:0.8"/>
<circle cx="373.65" cy="331.77" r="2.236" color="#423f85" style="--a:0.8"/>
<circle cx="399.55" cy="333.65" r="2.236" color="#423f85" style="--a:0.8"/>
<circle cx="519.42" cy="343.82" r="2.236" color="#414287" style="--a:0.8"/>
<circle cx="442.98" cy="336.4" r="2.236" color="#424086" style="--a:0.8"/>
<circle cx="354.46" cy="327.42" r="2.236" color="#433d84" style="--a:0.8"/>
<circle cx="328.84" cy="297.84" r="2.236" color="#46327e" style="--a:0.8"/>
<circle cx="450.81" cy="336.7" r="2.236" color="#424086" style="--a:0.8"/>
<circle cx="445.57" cy="336.66" r="2.236" color="#424086" style="--a:0.8"/>
<circle cx="542.56" cy="345.3" r="2.236" color="#414487" style="--a:0.8"/>
<circle cx="328.49" cy="318.74" r="2.236" color="#443983" style="--a:0.8"/>
<circle cx="430.43" cy="337.95" r="2.236" color="#424086" style="--a:0.8"/>
<circle cx="428.48" cy="332.64" r="2.236" color="#423f85" style="--a:0.8"/>
<circle cx="567.5" cy="318.35" r="2.236" color="#443983" style="--a:0.8"/>
<circle cx="331" cy="234.73" r="2.236" color="#481a6c" style="--a:0.8"/>
<circle cx="570.38" cy="276.06" r="2.236" color="#482979" style="--a:0.8"/>
<circle cx="503.86" cy="340.29" r="2.236" color="#424186" style="--a:0.8"/>
<circle cx="387.21" cy="332.88" r="2.236" color="#423f85" style="--a:0.8"/>
<circle cx="448.19" cy="335.07" r="2.236" color="#423f85" style="--a:0.8"/>
<circle cx="562.9" cy="337.1" r="2.236" color="#424086" style="--a:0.8"/>
<circle cx="571.54" cy="232.12" r="2.236" color="#48186a" style="--a:0.8"/>
<circle cx="465.76" cy="336.39" r="2.236" color="#424086" style="--a:0.8"/>
<circle cx="474.43" cy="338.08" r="2.236" color="#424086" style="--a:0.8"/>
<circle cx="413.84" cy="333.11" r="2.236" color="#423f85" style="--a:0.8"/>
<circle cx="481.61" cy="341.83" r="2.236" color="#424186" style="--a:0.8"/>
<circle cx="496.45" cy="342.34" r="2.236" color="#424186" style="--a:0.8"/>
<circle cx="407.44" cy="331.8" r="2.236" color="#433e85" style="--a:0.8"/>
<circle cx="498.96" cy="216" r="2.236" color="#471164" style="--a:0.8"/>
<circle cx="463.25" cy="339.06" r="2.236" color="#424086" style="--a:0.8"/>
<circle cx="328.65" cy="274.37" r="2.236" color="#482979" style="--a:0.8"/>
<circle cx="422.38" cy="335.82" r="2.236" color="#423f85" style="--a:0.8"/>
<circle cx="433.17" cy="338.69" r="2.236" color="#424086" style="--a:0.8"/>
<circle cx="329.95" cy="253.32" r="2.236" color="#482071" style="--a:0.8"/>
<circle cx="551.61" cy="349.14" r="2.236" color="#414487" style="--a:0.8"/>
<circle cx="488.48" cy="341.18" r="2.236" color="#424186" style="--a:0.81"/>
<circle cx="526.07" cy="346.19" r="2.236" color="#414287" style="--a:0.81"/>
<circle cx="348.78" cy="326.53" r="2.236" color="#443b84" style="--a:0.81"/>
<circle cx="510.7" cy="345.34" r="2.236" color="#414287" style="--a:0.81"/>
<circle cx="572.66" cy="251.21" r="2.236" color="#481f70" style="--a:0.81"/>
<circle cx="471.75" cy="339.98" r="2.236" color="#424086" style="--a:0.81"/>
<circle cx="460.35" cy="339.26" r="2.236" color="#424086" style="--a:0.81"/>
<circle cx="369.49" cy="329.52" r="2.236" color="#433d84" style="--a:0.81"/>
<circle cx="395.44" cy="332.83" r="2.236" color="#433e85" style="--a:0.81"/>
<circle cx="572.66" cy="227.97" r="2.236" color="#481668" style="--a:0.81"/>
<circle cx="436.16" cy="337.89" r="2.236" color="#424086" style="--a:0.81"/>
<circle cx="416.19" cy="335.74" r="2.236" color="#423f85" style="--a:0.81"/>
<circle cx="382.18" cy="333.12" r="2.236" color="#433e85" style="--a:0.81"/>
<circle cx="401.99" cy="336.16" r="2.236" color="#423f85" style="--a:0.81"/>
<circle cx="569.09" cy="292.57" r="2.236" color="#472f7d" style="--a:0.81"/>
<circle cx="441.9" cy="342.76" r="2.236" color="#424186" style="--a:0.81"/>
<circle cx="327.39" cy="292.5" r="2.236" color="#472f7d" style="--a:0.81"/>
<circle cx="340.17" cy="328.99" r="2.236" color="#433d84" style="--a:0.81"/>
<circle cx="439" cy="339.57" r="2.236" color="#424086" style="--a:0.81"/>
<circle cx="425.25" cy="336.27" r="2.236" color="#423f85" style="--a:0.81"/>
<circle cx="454.39" cy="340.57" r="2.236" color="#424086" style="--a:0.81"/>
<circle cx="468.81" cy="341.48" r="2.236" color="#424186" style="--a:0.81"/>
<circle cx="451.32" cy="341.49" r="2.236" color="#424186" style="--a:0.81"/>
<circle cx="457.24" cy="337.41" r="2.236" color="#423f85" style="--a:0.81"/>
<circle cx="559.88" cy="351.14" r="2.236" color="#404588" style="--a:0.81"/>
<circle cx="501.58" cy="344.52" r="2.236" color="#414287" style="--a:0.81"/>
<circle cx="409.93" cy="333.98" r="2.236" color="#433e85" style="--a:0.81"/>
<circle cx="427.71" cy="340.5" r="2.236" color="#424086" style="--a:0.81"/>
<circle cx="568.55" cy="311.88" r="2.236" color="#453781" style="--a:0.81"/>
<circle cx="362.7" cy="331.43" r="2.236" color="#433d84" style="--a:0.81"/>
<circle cx="330.19" cy="248.44" r="2.236" color="#481d6f" style="--a:0.81"/>
<circle cx="477.87" cy="339.8" r="2.236" color="#424086" style="--a:0.81"/>
<circle cx="445.11" cy="339.45" r="2.236" color="#424086" style="--a:0.81"/>
<circle cx="565.84" cy="331.96" r="2.236" color="#433e85" style="--a:0.81"/>
<circle cx="532.39" cy="347.43" r="2.236" color="#414287" style="--a:0.81"/>
<circle cx="573.5" cy="246.7" r="2.236" color="#481c6e" style="--a:0.81"/>
<circle cx="448.19" cy="338.83" r="2.236" color="#424086" style="--a:0.81"/>
<circle cx="485.33" cy="342.58" r="2.236" color="#424186" style="--a:0.81"/>
<circle cx="329.97" cy="309.86" r="2.236" color="#453581" style="--a:0.81"/>
<circle cx="516.23" cy="346.63" r="2.236" color="#414287" style="--a:0.81"/>
<circle cx="492.7" cy="342.23" r="2.236" color="#424186" style="--a:0.81"/>
<circle cx="330.97" cy="267.5" r="2.236" color="#482576" style="--a:0.81"/>
<circle cx="390.4" cy="334.2" r="2.236" color="#433e85" style="--a:0.81"/>
<circle cx="573.03" cy="289.27" r="2.236" color="#472d7b" style="--a:0.81"/>
<circle cx="465.46" cy="340.9" r="2.236" color="#424086" style="--a:0.81"/>
<circle cx="334.25" cy="327.74" r="2.236" color="#443b84" style="--a:0.81"/>
<circle cx="377.51" cy="332.47" r="2.236" color="#433e85" style="--a:0.81"/>
<circle cx="419.57" cy="334.74" r="2.236" color="#433e85" style="--a:0.81"/>
<circle cx="412.03" cy="338.78" r="2.236" color="#423f85" style="--a:0.81"/>
<circle cx="431.14" cy="339.13" r="2.236" color="#424086" style="--a:0.81"/>
<circle cx="397.76" cy="336.42" r="2.236" color="#423f85" style="--a:0.81"/>
<circle cx="474.85" cy="341.91" r="2.236" color="#424086" style="--a:0.81"/>
<circle cx="541.19" cy="352.42" r="2.236" color="#404588" style="--a:0.81"/>
<circle cx="356.27" cy="332.32" r="2.236" color="#433d84" style="--a:0.81"/>
<circle cx="329.57" cy="244.09" r="2.236" color="#481b6d" style="--a:0.81"/>
<circle cx="462.17" cy="341.58" r="2.236" color="#424086" style="--a:0.81"/>
<circle cx="434.26" cy="341.11" r="2.236" color="#424086" style="--a:0.81"/>
<circle cx="422.03" cy="339.24" r="2.236" color="#423f85" style="--a:0.81"/>
<circle cx="506.82" cy="346.59" r="2.236" color="#414287" style="--a:0.81"/>
<circle cx="328.76" cy="263.59" r="2.236" color="#482374" style="--a:0.81"/>
<circle cx="406.23" cy="333.98" r="2.236" color="#433e85" style="--a:0.81"/>
<circle cx="572.62" cy="241.67" r="2.236" color="#481a6c" style="--a:0.81"/>
<circle cx="458.8" cy="342.57" r="2.236" color="#424086" style="--a:0.81"/>
<circle cx="481.78" cy="343.27" r="2.236" color="#424086" style="--a:0.81"/>
<circle cx="331.01" cy="283.67" r="2.236" color="#472a7a" style="--a:0.81"/>
<circle cx="497.86" cy="345.9" r="2.236" color="#424186" style="--a:0.81"/>
<circle cx="385.62" cy="334.69" r="2.236" color="#433e85" style="--a:0.81"/>
<circle cx="489.48" cy="344.72" r="2.236" color="#424186" style="--a:0.81"/>
<circle cx="568.02" cy="304.38" r="2.236" color="#46327e" style="--a:0.81"/>
<circle cx="437.82" cy="339.39" r="2.236" color="#423f85" style="--a:0.82"/>
<circle cx="520.93" cy="345.9" r="2.236" color="#424186" style="--a:0.82"/>
<circle cx="372.32" cy="332.64" r="2.236" color="#433d84" style="--a:0.82"/>
<circle cx="425.17" cy="341.6" r="2.236" color="#424086" style="--a:0.82"/>
<circle cx="455.27" cy="342.14" r="2.236" color="#424086" style="--a:0.82"/>
<circle cx="415.42" cy="339.75" r="2.236" color="#423f85" style="--a:0.82"/>
<circle cx="448.19" cy="343.72" r="2.236" color="#424086" style="--a:0.82"/>
<circle cx="470.95" cy="339.91" r="2.236" color="#423f85" style="--a:0.82"/>
<circle cx="560.39" cy="342.56" r="2.236" color="#424086" style="--a:0.82"/>
<circle cx="572.05" cy="282.55" r="2.236" color="#472a7a" style="--a:0.82"/>
<circle cx="444.66" cy="341.47" r="2.236" color="#424086" style="--a:0.82"/>
<circle cx="329.04" cy="239.81" r="2.236" color="#481a6c" style="--a:0.82"/>
<circle cx="451.71" cy="340.84" r="2.236" color="#423f85" style="--a:0.82"/>
<circle cx="331.56" cy="301.53" r="2.236" color="#46307e" style="--a:0.82"/>
<circle cx="351.14" cy="331.05" r="2.236" color="#443b84" style="--a:0.82"/>
<circle cx="393.19" cy="337.38" r="2.236" color="#433e85" style="--a:0.82"/>
<circle cx="564.71" cy="322.68" r="2.236" color="#443983" style="--a:0.82"/>
<circle cx="331.87" cy="322.47" r="2.236" color="#443983" style="--a:0.82"/>
<circle cx="441.32" cy="338.01" r="2.236" color="#423f85" style="--a:0.82"/>
<circle cx="547.26" cy="352.29" r="2.236" color="#414487" style="--a:0.82"/>
<circle cx="467.9" cy="344.33" r="2.236" color="#424086" style="--a:0.82"/>
<circle cx="408.62" cy="338.62" r="2.236" color="#423f85" style="--a:0.82"/>
<circle cx="573.61" cy="237.44" r="2.236" color="#48186a" style="--a:0.82"/>
<circle cx="400.96" cy="338.65" r="2.236" color="#423f85" style="--a:0.82"/>
<circle cx="478.16" cy="344.6" r="2.236" color="#424086" style="--a:0.82"/>
<circle cx="512.15" cy="348.44" r="2.236" color="#414287" style="--a:0.82"/>
<circle cx="364.86" cy="336.36" r="2.236" color="#433e85" style="--a:0.82"/>
<circle cx="529.57" cy="352.58" r="2.236" color="#414487" style="--a:0.82"/>
<circle cx="486.19" cy="348.19" r="2.236" color="#424186" style="--a:0.82"/>
<circle cx="330.83" cy="257.53" r="2.236" color="#482071" style="--a:0.82"/>
<circle cx="419" cy="340.78" r="2.236" color="#423f85" style="--a:0.82"/>
<circle cx="429.26" cy="338.54" r="2.236" color="#433e85" style="--a:0.82"/>
<circle cx="331.74" cy="277.48" r="2.236" color="#482878" style="--a:0.82"/>
<circle cx="381.38" cy="333.85" r="2.236" color="#433d84" style="--a:0.82"/>
<circle cx="502.75" cy="348.17" r="2.236" color="#424186" style="--a:0.82"/>
<circle cx="463.92" cy="342.98" r="2.236" color="#424086" style="--a:0.82"/>
<circle cx="494.3" cy="348.71" r="2.236" color="#424186" style="--a:0.82"/>
<circle cx="572.94" cy="256.27" r="2.236" color="#481f70" style="--a:0.82"/>
<circle cx="344.74" cy="331.28" r="2.236" color="#443b84" style="--a:0.82"/>
<circle cx="474.57" cy="347.17" r="2.236" color="#424186" style="--a:0.82"/>
<circle cx="432.73" cy="340.61" r="2.236" color="#423f85" style="--a:0.82"/>
<circle cx="556.57" cy="356.63" r="2.236" color="#404588" style="--a:0.82"/>
<circle cx="567.85" cy="297.65" r="2.236" color="#472f7d" style="--a:0.82"/>
<circle cx="387.94" cy="339.7" r="2.236" color="#423f85" style="--a:0.82"/>
<circle cx="329.2" cy="297.1" r="2.236" color="#472f7d" style="--a:0.82"/>
<circle cx="573.87" cy="233.07" r="2.236" color="#481668" style="--a:0.82"/>
<circle cx="436.23" cy="344.32" r="2.236" color="#424086" style="--a:0.82"/>
<circle cx="460.12" cy="343.9" r="2.236" color="#424086" style="--a:0.82"/>
<circle cx="411.98" cy="341.16" r="2.236" color="#423f85" style="--a:0.82"/>
<circle cx="470.52" cy="212.04" r="2.236" color="#460b5e" style="--a:0.82"/>
<circle cx="422.75" cy="341.87" r="2.236" color="#423f85" style="--a:0.82"/>
<circle cx="404.42" cy="341.08" r="2.236" color="#423f85" style="--a:0.82"/>
<circle cx="518.23" cy="351.53" r="2.236" color="#414287" style="--a:0.82"/>
<circle cx="396.75" cy="339.59" r="2.236" color="#433e85" style="--a:0.82"/>
<circle cx="440.23" cy="343.59" r="2.236" color="#423f85" style="--a:0.82"/>
<circle cx="456.15" cy="343.45" r="2.236" color="#423f85" style="--a:0.82"/>
<circle cx="330.39" cy="253.01" r="2.236" color="#481d6f" style="--a:0.82"/>
<circle cx="329.03" cy="273.85" r="2.236" color="#482576" style="--a:0.82"/>
<circle cx="536.15" cy="354.55" r="2.236" color="#414487" style="--a:0.82"/>
<circle cx="448.19" cy="346.03" r="2.236" color="#424086" style="--a:0.82"/>
<circle cx="360.31" cy="334.84" r="2.236" color="#433d84" style="--a:0.82"/>
<circle cx="561.01" cy="334.76" r="2.236" color="#433d84" style="--a:0.82"/>
<circle cx="332.14" cy="314.78" r="2.236" color="#453581" style="--a:0.82"/>
<circle cx="374.94" cy="337.14" r="2.236" color="#433d84" style="--a:0.82"/>
<circle cx="444.22" cy="342.93" r="2.236" color="#423f85" style="--a:0.82"/>
<circle cx="563.09" cy="313.62" r="2.236" color="#463480" style="--a:0.82"/>
<circle cx="574.29" cy="252.01" r="2.236" color="#481c6e" style="--a:0.82"/>
<circle cx="337.77" cy="331.86" r="2.236" color="#443b84" style="--a:0.82"/>
<circle cx="452.12" cy="341.2" r="2.236" color="#423f85" style="--a:0.82"/>
<circle cx="481.14" cy="345.39" r="2.236" color="#424086" style="--a:0.82"/>
<circle cx="508.17" cy="351.4" r="2.236" color="#414287" style="--a:0.82"/>
<circle cx="426.79" cy="342.21" r="2.236" color="#423f85" style="--a:0.82"/>
<circle cx="416" cy="342.02" r="2.236" color="#423f85" style="--a:0.83"/>
<circle cx="469.47" cy="341.31" r="2.236" color="#433e85" style="--a:0.83"/>
<circle cx="569.52" cy="292.76" r="2.236" color="#472d7b" style="--a:0.83"/>
<circle cx="498.59" cy="350.46" r="2.236" color="#424186" style="--a:0.83"/>
<circle cx="383.01" cy="340.89" r="2.236" color="#433e85" style="--a:0.83"/>
<circle cx="489.13" cy="346.97" r="2.236" color="#424086" style="--a:0.83"/>
<circle cx="329.44" cy="290.75" r="2.236" color="#472c7a" style="--a:0.83"/>
<circle cx="465.85" cy="345.76" r="2.236" color="#424086" style="--a:0.83"/>
<circle cx="329.93" cy="248.64" r="2.236" color="#481b6d" style="--a:0.83"/>
<circle cx="352.98" cy="337.35" r="2.236" color="#433d84" style="--a:0.83"/>
<circle cx="408.49" cy="342.49" r="2.236" color="#423f85" style="--a:0.83"/>
<circle cx="477.25" cy="348.37" r="2.236" color="#424086" style="--a:0.83"/>
<circle cx="329.26" cy="268.48" r="2.236" color="#482374" style="--a:0.83"/>
<circle cx="430.94" cy="342.4" r="2.236" color="#423f85" style="--a:0.83"/>
<circle cx="524.24" cy="353.96" r="2.236" color="#414287" style="--a:0.83"/>
<circle cx="574.19" cy="247.25" r="2.236" color="#481a6c" style="--a:0.83"/>
<circle cx="400.28" cy="342.95" r="2.236" color="#423f85" style="--a:0.83"/>
<circle cx="567.47" cy="310.93" r="2.236" color="#46337f" style="--a:0.83"/>
<circle cx="461.62" cy="347.09" r="2.236" color="#424086" style="--a:0.83"/>
<circle cx="369.97" cy="337.2" r="2.236" color="#433d84" style="--a:0.83"/>
<circle cx="542.59" cy="355.83" r="2.236" color="#414487" style="--a:0.83"/>
<circle cx="419.69" cy="345.52" r="2.236" color="#423f85" style="--a:0.83"/>
<circle cx="556.58" cy="347.35" r="2.236" color="#424086" style="--a:0.83"/>
<circle cx="393.31" cy="338.37" r="2.236" color="#433d84" style="--a:0.83"/>
<circle cx="331.85" cy="308.15" r="2.236" color="#46327e" style="--a:0.83"/>
<circle cx="435.09" cy="343.52" r="2.236" color="#423f85" style="--a:0.83"/>
<circle cx="563.31" cy="329.44" r="2.236" color="#443983" style="--a:0.83"/>
<circle cx="439.26" cy="346.33" r="2.236" color="#423f85" style="--a:0.83"/>
<circle cx="443.68" cy="347.61" r="2.236" color="#424086" style="--a:0.83"/>
<circle cx="448.2" cy="348.12" r="2.236" color="#424086" style="--a:0.83"/>
<circle cx="472.74" cy="349.43" r="2.236" color="#424086" style="--a:0.83"/>
<circle cx="336.77" cy="325.22" r="2.236" color="#453882" style="--a:0.83"/>
<circle cx="452.67" cy="346.33" r="2.236" color="#423f85" style="--a:0.83"/>
<circle cx="484.55" cy="347.86" r="2.236" color="#424086" style="--a:0.83"/>
<circle cx="456.91" cy="342.79" r="2.236" color="#433e85" style="--a:0.83"/>
<circle cx="330.95" cy="243.81" r="2.236" color="#48186a" style="--a:0.83"/>
<circle cx="412.37" cy="345.66" r="2.236" color="#423f85" style="--a:0.83"/>
<circle cx="511.95" cy="350.17" r="2.236" color="#424086" style="--a:0.83"/>
<circle cx="567.26" cy="285.16" r="2.236" color="#482979" style="--a:0.83"/>
<circle cx="378.73" cy="340.44" r="2.236" color="#433d84" style="--a:0.83"/>
<circle cx="493.88" cy="352" r="2.236" color="#424186" style="--a:0.83"/>
<circle cx="329.36" cy="284.99" r="2.236" color="#482979" style="--a:0.83"/>
<circle cx="346.95" cy="337.49" r="2.236" color="#433d84" style="--a:0.83"/>
<circle cx="575.01" cy="242.96" r="2.236" color="#48186a" style="--a:0.83"/>
<circle cx="328.73" cy="263.77" r="2.236" color="#482071" style="--a:0.83"/>
<circle cx="424.48" cy="344.28" r="2.236" color="#423f85" style="--a:0.83"/>
<circle cx="363.16" cy="340.16" r="2.236" color="#433d84" style="--a:0.83"/>
<circle cx="552.87" cy="362.75" r="2.236" color="#404588" style="--a:0.83"/>
<circle cx="502.04" cy="349.53" r="2.236" color="#424086" style="--a:0.83"/>
<circle cx="531.25" cy="357.82" r="2.236" color="#414487" style="--a:0.83"/>
<circle cx="404.46" cy="345.42" r="2.236" color="#423f85" style="--a:0.83"/>
<circle cx="388.1" cy="341.43" r="2.236" color="#433d84" style="--a:0.83"/>
<circle cx="467.76" cy="348" r="2.236" color="#423f85" style="--a:0.83"/>
<circle cx="567.87" cy="304.61" r="2.236" color="#472f7d" style="--a:0.83"/>
<circle cx="428.71" cy="347.46" r="2.236" color="#423f85" style="--a:0.83"/>
<circle cx="396.57" cy="343.25" r="2.236" color="#433e85" style="--a:0.83"/>
<circle cx="572.72" cy="261.54" r="2.236" color="#481f70" style="--a:0.83"/>
<circle cx="449.92" cy="200.24" r="2.236" color="#450457" style="--a:0.83"/>
<circle cx="446.48" cy="200.22" r="2.236" color="#450457" style="--a:0.83"/>
<circle cx="448.2" cy="199.35" r="2.236" color="#450457" style="--a:0.83"/>
<circle cx="331.73" cy="301.74" r="2.236" color="#472e7c" style="--a:0.83"/>
<circle cx="479.7" cy="348.35" r="2.236" color="#423f85" style="--a:0.83"/>
<circle cx="444.62" cy="198.68" r="2.236" color="#450457" style="--a:0.83"/>
<circle cx="451.6" cy="200.32" r="2.236" color="#450457" style="--a:0.83"/>
<circle cx="417.04" cy="346.68" r="2.236" color="#423f85" style="--a:0.83"/>
<circle cx="433.29" cy="349.76" r="2.236" color="#424086" style="--a:0.84"/>
<circle cx="448.2" cy="198.51" r="2.236" color="#450457" style="--a:0.84"/>
<circle cx="574.83" cy="238.42" r="2.236" color="#481668" style="--a:0.84"/>
<circle cx="557.95" cy="340.57" r="2.236" color="#433d84" style="--a:0.84"/>
<circle cx="333.4" cy="321.56" r="2.236" color="#453581" style="--a:0.84"/>
<circle cx="444.8" cy="199.45" r="2.236" color="#450457" style="--a:0.84"/>
<circle cx="442.95" cy="198.84" r="2.236" color="#450457" style="--a:0.84"/>
<circle cx="446.51" cy="199.33" r="2.236" color="#450457" style="--a:0.84"/>
<circle cx="451.65" cy="198.65" r="2.236" color="#450457" style="--a:0.84"/>
<circle cx="446.48" cy="198.53" r="2.236" color="#450457" style="--a:0.84"/>
<circle cx="448.2" cy="200.08" r="2.236" color="#450457" style="--a:0.84"/>
<circle cx="444.89" cy="200.24" r="2.236" color="#450457" style="--a:0.84"/>
<circle cx="449.91" cy="198.53" r="2.236" color="#450457" style="--a:0.84"/>
<circle cx="462.77" cy="346.39" r="2.236" color="#423f85" style="--a:0.84"/>
<circle cx="455.2" cy="199.11" r="2.236" color="#450457" style="--a:0.84"/>
<circle cx="519.22" cy="356.78" r="2.236" color="#414287" style="--a:0.84"/>
<circle cx="453.39" cy="198.83" r="2.236" color="#450457" style="--a:0.84"/>
<circle cx="340.28" cy="338.18" r="2.236" color="#443b84" style="--a:0.84"/>
<circle cx="329.48" cy="279.37" r="2.236" color="#482576" style="--a:0.84"/>
<circle cx="330.59" cy="257.99" r="2.236" color="#481d6f" style="--a:0.84"/>
<circle cx="449.86" cy="199.31" r="2.236" color="#450457" style="--a:0.84"/>
<circle cx="451.54" cy="199.42" r="2.236" color="#450457" style="--a:0.84"/>
<circle cx="560.92" cy="319.32" r="2.236" color="#463480" style="--a:0.84"/>
<circle cx="443.27" cy="200.41" r="2.236" color="#450457" style="--a:0.84"/>
<circle cx="373.56" cy="341.59" r="2.236" color="#433d84" style="--a:0.84"/>
<circle cx="453.11" cy="200.4" r="2.236" color="#450457" style="--a:0.84"/>
<circle cx="439.65" cy="200.26" r="2.236" color="#450457" style="--a:0.84"/>
<circle cx="456.86" cy="199.43" r="2.236" color="#450457" style="--a:0.84"/>
<circle cx="441.51" cy="199.87" r="2.236" color="#450457" style="--a:0.84"/>
<circle cx="488.18" cy="350.81" r="2.236" color="#424086" style="--a:0.84"/>
<circle cx="454.85" cy="199.86" r="2.236" color="#450457" style="--a:0.84"/>
<circle cx="441.69" cy="200.64" r="2.236" color="#450457" style="--a:0.84"/>
<circle cx="441.42" cy="199.06" r="2.236" color="#450457" style="--a:0.84"/>
<circle cx="356.79" cy="341.85" r="2.236" color="#433d84" style="--a:0.84"/>
<circle cx="498.81" cy="356.89" r="2.236" color="#414287" style="--a:0.84"/>
<circle cx="438.39" cy="347.24" r="2.236" color="#423f85" style="--a:0.84"/>
<circle cx="508.67" cy="356.99" r="2.236" color="#414287" style="--a:0.84"/>
<circle cx="454.6" cy="200.6" r="2.236" color="#450457" style="--a:0.84"/>
<circle cx="453.05" cy="199.55" r="2.236" color="#450457" style="--a:0.84"/>
<circle cx="443.35" cy="199.55" r="2.236" color="#450457" style="--a:0.84"/>
<circle cx="453.2" cy="350.07" r="2.236" color="#424086" style="--a:0.84"/>
<circle cx="457.88" cy="345.4" r="2.236" color="#433e85" style="--a:0.84"/>
<circle cx="409.4" cy="346.25" r="2.236" color="#433e85" style="--a:0.84"/>
<circle cx="440.15" cy="200.94" r="2.236" color="#450457" style="--a:0.84"/>
<circle cx="474.83" cy="349.62" r="2.236" color="#423f85" style="--a:0.84"/>
<circle cx="456.21" cy="200.94" r="2.236" color="#450457" style="--a:0.84"/>
<circle cx="456.39" cy="200.16" r="2.236" color="#450457" style="--a:0.84"/>
<circle cx="443.25" cy="348.27" r="2.236" color="#423f85" style="--a:0.84"/>
<circle cx="573.52" cy="257.07" r="2.236" color="#481c6e" style="--a:0.84"/>
<circle cx="439.86" cy="199.37" r="2.236" color="#450457" style="--a:0.84"/>
<circle cx="457.9" cy="201.38" r="2.236" color="#450457" style="--a:0.84"/>
<circle cx="448.2" cy="348.14" r="2.236" color="#423f85" style="--a:0.84"/>
<circle cx="438.14" cy="199.78" r="2.236" color="#450457" style="--a:0.84"/>
<circle cx="458.02" cy="200.56" r="2.236" color="#450457" style="--a:0.84"/>
<circle cx="438.39" cy="200.56" r="2.236" color="#450457" style="--a:0.84"/>
<circle cx="537.29" cy="359.27" r="2.236" color="#414287" style="--a:0.84"/>
<circle cx="422.19" cy="346.01" r="2.236" color="#433e85" style="--a:0.84"/>
<circle cx="458.19" cy="199.77" r="2.236" color="#450457" style="--a:0.84"/>
<circle cx="382.93" cy="343.9" r="2.236" color="#433e85" style="--a:0.84"/>
<circle cx="438.7" cy="201.3" r="2.236" color="#450457" style="--a:0.84"/>
<circle cx="436.76" cy="201.05" r="2.236" color="#450457" style="--a:0.84"/>
<circle cx="459.91" cy="200.27" r="2.236" color="#450457" style="--a:0.84"/>
<circle cx="436.49" cy="200.27" r="2.236" color="#450457" style="--a:0.84"/>
<circle cx="391.55" cy="346.92" r="2.236" color="#433e85" style="--a:0.84"/>
<circle cx="566.03" cy="296.75" r="2.236" color="#472c7a" style="--a:0.84"/>
<circle cx="331.25" cy="296" r="2.236" color="#472c7a" style="--a:0.84"/>
<circle cx="401.46" cy="344.69" r="2.236" color="#433e85" style="--a:0.84"/>
<circle cx="459.45" cy="200.99" r="2.236" color="#450457" style="--a:0.84"/>
<circle cx="329.94" cy="253.72" r="2.236" color="#481b6d" style="--a:0.84"/>
<circle cx="484.16" cy="357.25" r="2.236" color="#424186" style="--a:0.84"/>
<circle cx="447.33" cy="212.8" r="2.236" color="#460a5d" style="--a:0.84"/>
<circle cx="426.42" cy="352.13" r="2.236" color="#424086" style="--a:0.84"/>
<circle cx="552.71" cy="353.12" r="2.236" color="#424086" style="--a:0.84"/>
<circle cx="449.92" cy="212.85" r="2.236" color="#460a5d" style="--a:0.84"/>
<circle cx="437.44" cy="201.67" r="2.236" color="#450457" style="--a:0.84"/>
<circle cx="446.48" cy="212.77" r="2.236" color="#460a5d" style="--a:0.84"/>
<circle cx="469.72" cy="350.39" r="2.236" color="#423f85" style="--a:0.84"/>
<circle cx="449.81" cy="213.75" r="2.236" color="#460a5d" style="--a:0.84"/>
<circle cx="444.77" cy="213.19" r="2.236" color="#460a5d" style="--a:0.84"/>
<circle cx="330.26" cy="273.59" r="2.236" color="#482374" style="--a:0.84"/>
<circle cx="450.76" cy="212.87" r="2.236" color="#460a5d" style="--a:0.84"/>
<circle cx="460.97" cy="201.53" r="2.236" color="#450457" style="--a:0.84"/>
<circle cx="446.58" cy="213.71" r="2.236" color="#460a5d" style="--a:0.84"/>
<circle cx="452.49" cy="213.55" r="2.236" color="#460a5d" style="--a:0.84"/>
<circle cx="449.04" cy="212.46" r="2.236" color="#46085c" style="--a:0.84"/>
<circle cx="461.21" cy="200.75" r="2.236" color="#450457" style="--a:0.84"/>
<circle cx="435.3" cy="200.73" r="2.236" color="#450457" style="--a:0.84"/>
<circle cx="435.93" cy="202.22" r="2.236" color="#450457" style="--a:0.84"/>
<circle cx="445.68" cy="212.6" r="2.236" color="#46085c" style="--a:0.84"/>
<circle cx="451.17" cy="215" r="2.236" color="#460a5d" style="--a:0.84"/>
<circle cx="447.41" cy="213.26" r="2.236" color="#460a5d" style="--a:0.84"/>
<circle cx="564.06" cy="315.61" r="2.236" color="#46337f" style="--a:0.84"/>
<circle cx="443.42" cy="214.71" r="2.236" color="#460a5d" style="--a:0.84"/>
<circle cx="451.36" cy="213.85" r="2.236" color="#460a5d" style="--a:0.84"/>
<circle cx="435.73" cy="201.44" r="2.236" color="#450457" style="--a:0.84"/>
<circle cx="451.62" cy="216.29" r="2.236" color="#460a5d" style="--a:0.84"/>
<circle cx="450.54" cy="213.4" r="2.236" color="#460a5d" style="--a:0.84"/>
<circle cx="367.91" cy="343.31" r="2.236" color="#433d84" style="--a:0.84"/>
<circle cx="574.59" cy="252.82" r="2.236" color="#481b6d" style="--a:0.84"/>
<circle cx="448.97" cy="212.98" r="2.236" color="#46085c" style="--a:0.84"/>
<circle cx="337.02" cy="334.29" r="2.236" color="#443983" style="--a:0.84"/>
<circle cx="448.2" cy="211.85" r="2.236" color="#46085c" style="--a:0.84"/>
<circle cx="449.64" cy="214.07" r="2.236" color="#460a5d" style="--a:0.84"/>
<circle cx="460.09" cy="202.08" r="2.236" color="#450457" style="--a:0.84"/>
<circle cx="458.34" cy="201.45" r="2.236" color="#450457" style="--a:0.84"/>
<circle cx="414.59" cy="346.8" r="2.236" color="#433e85" style="--a:0.84"/>
<circle cx="445.31" cy="214.47" r="2.236" color="#460a5d" style="--a:0.84"/>
<circle cx="448.91" cy="213.87" r="2.236" color="#460a5d" style="--a:0.84"/>
<circle cx="446.76" cy="213.97" r="2.236" color="#460a5d" style="--a:0.84"/>
<circle cx="433.75" cy="201.35" r="2.236" color="#450457" style="--a:0.84"/>
<circle cx="454.8" cy="214.41" r="2.236" color="#460a5d" style="--a:0.84"/>
<circle cx="444.13" cy="212.69" r="2.236" color="#46085c" style="--a:0.84"/>
<circle cx="336.43" cy="311.44" r="2.236" color="#46307e" style="--a:0.84"/>
<circle cx="450.34" cy="214.05" r="2.236" color="#460a5d" style="--a:0.84"/>
<circle cx="524.07" cy="357.35" r="2.236" color="#424186" style="--a:0.84"/>
<circle cx="351.1" cy="342.09" r="2.236" color="#433d84" style="--a:0.84"/>
<circle cx="451.42" cy="212.24" r="2.236" color="#46085c" style="--a:0.84"/>
<circle cx="461.76" cy="202.77" r="2.236" color="#450457" style="--a:0.84"/>
<circle cx="464.62" cy="352.47" r="2.236" color="#424086" style="--a:0.84"/>
<circle cx="445.17" cy="213.18" r="2.236" color="#46085c" style="--a:0.84"/>
<circle cx="444.4" cy="213.53" r="2.236" color="#460a5d" style="--a:0.84"/>
<circle cx="556.42" cy="330.67" r="2.236" color="#453882" style="--a:0.84"/>
<circle cx="447.49" cy="213.58" r="2.236" color="#460a5d" style="--a:0.84"/>
<circle cx="448.2" cy="212.47" r="2.236" color="#46085c" style="--a:0.84"/>
<circle cx="461.95" cy="201.99" r="2.236" color="#450457" style="--a:0.84"/>
<circle cx="434.57" cy="201.96" r="2.236" color="#450457" style="--a:0.84"/>
<circle cx="447.55" cy="214.41" r="2.236" color="#460a5d" style="--a:0.84"/>
<circle cx="446.26" cy="214.69" r="2.236" color="#460a5d" style="--a:0.84"/>
<circle cx="450.78" cy="214.92" r="2.236" color="#460a5d" style="--a:0.84"/>
<circle cx="448.2" cy="213.22" r="2.236" color="#46085c" style="--a:0.84"/>
<circle cx="463.81" cy="202.82" r="2.236" color="#450457" style="--a:0.84"/>
<circle cx="444.73" cy="214.15" r="2.236" color="#460a5d" style="--a:0.84"/>
<circle cx="449.48" cy="214.41" r="2.236" color="#460a5d" style="--a:0.84"/>
<circle cx="435.03" cy="202.63" r="2.236" color="#450457" style="--a:0.84"/>
<circle cx="492.09" cy="354.31" r="2.236" color="#424086" style="--a:0.84"/>
<circle cx="453.71" cy="213.09" r="2.236" color="#46085c" style="--a:0.84"/>
<circle cx="443.02" cy="213.99" r="2.236" color="#460a5d" style="--a:0.84"/>
<circle cx="432.35" cy="347.02" r="2.236" color="#433e85" style="--a:0.84"/>
<circle cx="448.2" cy="214.12" r="2.236" color="#460a5d" style="--a:0.84"/>
<circle cx="446.14" cy="213.37" r="2.236" color="#46085c" style="--a:0.84"/>
<circle cx="461.92" cy="201.17" r="2.236" color="#450457" style="--a:0.84"/>
<circle cx="451.62" cy="213.93" r="2.236" color="#460a5d" style="--a:0.84"/>
<circle cx="446.02" cy="212.3" r="2.236" color="#46085c" style="--a:0.84"/>
<circle cx="444.09" cy="214.31" r="2.236" color="#460a5d" style="--a:0.84"/>
<circle cx="446.93" cy="214.13" r="2.236" color="#460a5d" style="--a:0.84"/>
<circle cx="432.87" cy="202.72" r="2.236" color="#450457" style="--a:0.84"/>
<circle cx="448.83" cy="214.02" r="2.236" color="#460a5d" style="--a:0.84"/>
<circle cx="443.56" cy="212.36" r="2.236" color="#46085c" style="--a:0.84"/>
<circle cx="330.94" cy="248.84" r="2.236" color="#48186a" style="--a:0.84"/>
<circle cx="433.37" cy="203.41" r="2.236" color="#450457" style="--a:0.84"/>
<circle cx="513.32" cy="358.52" r="2.236" color="#424186" style="--a:0.84"/>
<circle cx="445.05" cy="214.77" r="2.236" color="#460a5d" style="--a:0.84"/>
<circle cx="450.07" cy="214.16" r="2.236" color="#460a5d" style="--a:0.84"/>
<circle cx="455.21" cy="214.1" r="2.236" color="#460a5d" style="--a:0.84"/>
<circle cx="462.92" cy="203.37" r="2.236" color="#450457" style="--a:0.84"/>
<circle cx="453.25" cy="213.6" r="2.236" color="#46085c" style="--a:0.84"/>
<circle cx="545.76" cy="364.5" r="2.236" color="#414487" style="--a:0.84"/>
<circle cx="566.59" cy="291.3" r="2.236" color="#482979" style="--a:0.84"/>
<circle cx="443.51" cy="214.4" r="2.236" color="#460a5d" style="--a:0.84"/>
<circle cx="459.13" cy="351.78" r="2.236" color="#423f85" style="--a:0.84"/>
<circle cx="451.74" cy="212.49" r="2.236" color="#46085c" style="--a:0.84"/>
<circle cx="452.52" cy="215.31" r="2.236" color="#460a5d" style="--a:0.84"/>
<circle cx="444.81" cy="215.86" r="2.236" color="#460a5d" style="--a:0.84"/>
<circle cx="501.84" cy="355.47" r="2.236" color="#424086" style="--a:0.84"/>
<circle cx="406.23" cy="347.44" r="2.236" color="#433e85" style="--a:0.84"/>
<circle cx="378.23" cy="344.93" r="2.236" color="#433d84" style="--a:0.84"/>
<circle cx="453.74" cy="216.43" r="2.236" color="#460a5d" style="--a:0.84"/>
<circle cx="477.79" cy="354.4" r="2.236" color="#424086" style="--a:0.84"/>
<circle cx="452.83" cy="214.21" r="2.236" color="#460a5d" style="--a:0.84"/>
<circle cx="453.5" cy="214.78" r="2.236" color="#460a5d" style="--a:0.84"/>
<circle cx="445.95" cy="215.03" r="2.236" color="#460a5d" style="--a:0.84"/>
<circle cx="433.07" cy="201.83" r="2.236" color="#450457" style="--a:0.84"/>
<circle cx="463.29" cy="201.82" r="2.236" color="#450457" style="--a:0.84"/>
<circle cx="443" cy="212.22" r="2.236" color="#46085c" style="--a:0.84"/>
<circle cx="454.1" cy="215.23" r="2.236" color="#460a5d" style="--a:0.84"/>
<circle cx="437.54" cy="347.91" r="2.236" color="#433e85" style="--a:0.84"/>
<circle cx="333.24" cy="288.59" r="2.236" color="#482878" style="--a:0.84"/>
<circle cx="445.79" cy="213.74" r="2.236" color="#46085c" style="--a:0.84"/>
<circle cx="330.39" cy="268.5" r="2.236" color="#482071" style="--a:0.84"/>
<circle cx="453.78" cy="213.6" r="2.236" color="#46085c" style="--a:0.84"/>
<circle cx="444.59" cy="214.41" r="2.236" color="#460a5d" style="--a:0.84"/>
<circle cx="444" cy="214.82" r="2.236" color="#460a5d" style="--a:0.85"/>
<circle cx="442.7" cy="352.39" r="2.236" color="#423f85" style="--a:0.85"/>
<circle cx="454.46" cy="214.15" r="2.236" color="#46085c" style="--a:0.85"/>
<circle cx="419.48" cy="349.74" r="2.236" color="#433e85" style="--a:0.85"/>
<circle cx="452.95" cy="215.16" r="2.236" color="#460a5d" style="--a:0.85"/>
<circle cx="445.48" cy="214.81" r="2.236" color="#460a5d" style="--a:0.85"/>
<circle cx="453.64" cy="350.98" r="2.236" color="#423f85" style="--a:0.85"/>
<circle cx="448.2" cy="351.44" r="2.236" color="#423f85" style="--a:0.85"/>
<circle cx="573.92" cy="247.94" r="2.236" color="#48186a" style="--a:0.85"/>
<circle cx="397.54" cy="346.68" r="2.236" color="#433d84" style="--a:0.85"/>
<circle cx="388.1" cy="346.11" r="2.236" color="#433d84" style="--a:0.85"/>
<circle cx="431.76" cy="202.55" r="2.236" color="#450457" style="--a:0.85"/>
<circle cx="432.79" cy="203.87" r="2.236" color="#450457" style="--a:0.85"/>
<circle cx="432.33" cy="203.2" r="2.236" color="#450457" style="--a:0.85"/>
<circle cx="464.46" cy="202.5" r="2.236" color="#450457" style="--a:0.85"/>
<circle cx="444.55" cy="214.86" r="2.236" color="#460a5d" style="--a:0.85"/>
<circle cx="457.64" cy="216.33" r="2.236" color="#460a5d" style="--a:0.85"/>
<circle cx="463.37" cy="203.77" r="2.236" color="#450457" style="--a:0.85"/>
<circle cx="565.84" cy="310.65" r="2.236" color="#472f7d" style="--a:0.85"/>
<circle cx="463.79" cy="203.11" r="2.236" color="#450457" style="--a:0.85"/>
<circle cx="456.73" cy="216.44" r="2.236" color="#460a5d" style="--a:0.85"/>
<circle cx="333.54" cy="307.79" r="2.236" color="#472f7d" style="--a:0.85"/>
<circle cx="466.26" cy="203.47" r="2.236" color="#450457" style="--a:0.85"/>
<circle cx="464.82" cy="204.66" r="2.236" color="#450457" style="--a:0.85"/>
<circle cx="344.17" cy="343.81" r="2.236" color="#443b84" style="--a:0.85"/>
<circle cx="533.7" cy="367.17" r="2.236" color="#414487" style="--a:0.85"/>
<circle cx="471.91" cy="353.95" r="2.236" color="#423f85" style="--a:0.85"/>
<circle cx="364.48" cy="340.83" r="2.236" color="#443a83" style="--a:0.85"/>
<circle cx="486.44" cy="355.94" r="2.236" color="#424086" style="--a:0.85"/>
<circle cx="551.2" cy="342.37" r="2.236" color="#443b84" style="--a:0.85"/>
<circle cx="571.65" cy="266.84" r="2.236" color="#481f70" style="--a:0.85"/>
<circle cx="464.97" cy="203.87" r="2.236" color="#450457" style="--a:0.85"/>
<circle cx="456.95" cy="216.61" r="2.236" color="#460a5d" style="--a:0.85"/>
<circle cx="337.5" cy="326.18" r="2.236" color="#453581" style="--a:0.85"/>
<circle cx="425.24" cy="348.97" r="2.236" color="#433e85" style="--a:0.85"/>
<circle cx="557.66" cy="324.75" r="2.236" color="#453581" style="--a:0.85"/>
<circle cx="466.23" cy="205.64" r="2.236" color="#450457" style="--a:0.85"/>
<circle cx="466.84" cy="205" r="2.236" color="#450457" style="--a:0.85"/>
<circle cx="411.85" cy="348.09" r="2.236" color="#433e85" style="--a:0.85"/>
<circle cx="455.94" cy="216.4" r="2.236" color="#460a5d" style="--a:0.85"/>
<circle cx="330.88" cy="284.87" r="2.236" color="#482576" style="--a:0.85"/>
<circle cx="456.49" cy="217.52" r="2.236" color="#460a5d" style="--a:0.85"/>
<circle cx="331.32" cy="263.16" r="2.236" color="#481d6f" style="--a:0.85"/>
<circle cx="458.02" cy="216.67" r="2.236" color="#460a5d" style="--a:0.85"/>
<circle cx="574.98" cy="243.87" r="2.236" color="#481668" style="--a:0.85"/>
<circle cx="457.08" cy="214.97" r="2.236" color="#46085c" style="--a:0.85"/>
<circle cx="456.97" cy="216.48" r="2.236" color="#460a5d" style="--a:0.85"/>
<circle cx="466.29" cy="356.08" r="2.236" color="#424086" style="--a:0.85"/>
<circle cx="455.06" cy="214.61" r="2.236" color="#46085c" style="--a:0.85"/>
<circle cx="496.31" cy="358.38" r="2.236" color="#424086" style="--a:0.85"/>
<circle cx="372.41" cy="347.92" r="2.236" color="#433d84" style="--a:0.85"/>
<circle cx="519.56" cy="363.45" r="2.236" color="#414287" style="--a:0.85"/>
<circle cx="430.42" cy="353.31" r="2.236" color="#423f85" style="--a:0.85"/>
<circle cx="465.98" cy="203.85" r="2.236" color="#450457" style="--a:0.85"/>
<circle cx="458.04" cy="216.75" r="2.236" color="#460a5d" style="--a:0.85"/>
<circle cx="455.4" cy="225" r="2.236" color="#470d60" style="--a:0.85"/>
<circle cx="507.18" cy="360.49" r="2.236" color="#424186" style="--a:0.85"/>
<circle cx="402.89" cy="349.01" r="2.236" color="#433e85" style="--a:0.85"/>
<circle cx="456.15" cy="216.68" r="2.236" color="#460a5d" style="--a:0.85"/>
<circle cx="457.43" cy="217.62" r="2.236" color="#460a5d" style="--a:0.85"/>
<circle cx="466.96" cy="205.55" r="2.236" color="#450457" style="--a:0.85"/>
<circle cx="466.18" cy="206.07" r="2.236" color="#450457" style="--a:0.85"/>
<circle cx="460.32" cy="356.47" r="2.236" color="#424086" style="--a:0.85"/>
<circle cx="573.56" cy="262.98" r="2.236" color="#481c6e" style="--a:0.85"/>
<circle cx="382.92" cy="349.31" r="2.236" color="#433e85" style="--a:0.85"/>
<circle cx="546.43" cy="356.31" r="2.236" color="#424086" style="--a:0.85"/>
<circle cx="467.18" cy="204.8" r="2.236" color="#450457" style="--a:0.85"/>
<circle cx="436.34" cy="353.04" r="2.236" color="#423f85" style="--a:0.85"/>
<circle cx="457.97" cy="216.81" r="2.236" color="#46085c" style="--a:0.85"/>
<circle cx="480.16" cy="355.62" r="2.236" color="#423f85" style="--a:0.85"/>
<circle cx="393.03" cy="349.98" r="2.236" color="#433e85" style="--a:0.85"/>
<circle cx="564.88" cy="303.4" r="2.236" color="#472d7b" style="--a:0.85"/>
<circle cx="416.87" cy="352.46" r="2.236" color="#433e85" style="--a:0.85"/>
<circle cx="456.09" cy="216.64" r="2.236" color="#46085c" style="--a:0.85"/>
<circle cx="334.07" cy="301.09" r="2.236" color="#472c7a" style="--a:0.85"/>
<circle cx="454.32" cy="357.88" r="2.236" color="#424086" style="--a:0.85"/>
<circle cx="456.28" cy="215.01" r="2.236" color="#46085c" style="--a:0.85"/>
<circle cx="355.3" cy="347.7" r="2.236" color="#433d84" style="--a:0.85"/>
<circle cx="331.2" cy="258.62" r="2.236" color="#481b6d" style="--a:0.85"/>
<circle cx="442.24" cy="353.58" r="2.236" color="#423f85" style="--a:0.85"/>
<circle cx="456.27" cy="217.34" r="2.236" color="#46085c" style="--a:0.85"/>
<circle cx="457.89" cy="216.97" r="2.236" color="#46085c" style="--a:0.85"/>
<circle cx="456.96" cy="216.91" r="2.236" color="#46085c" style="--a:0.85"/>
<circle cx="456.47" cy="218.24" r="2.236" color="#460a5d" style="--a:0.85"/>
<circle cx="466.7" cy="206.83" r="2.236" color="#450457" style="--a:0.85"/>
<circle cx="448.2" cy="349.66" r="2.236" color="#433d84" style="--a:0.85"/>
<circle cx="333.28" cy="277.88" r="2.236" color="#482374" style="--a:0.85"/>
<circle cx="457.2" cy="217.87" r="2.236" color="#460a5d" style="--a:0.85"/>
<circle cx="466.98" cy="206.11" r="2.236" color="#450457" style="--a:0.85"/>
<circle cx="560.03" cy="320.39" r="2.236" color="#46327e" style="--a:0.85"/>
<circle cx="458.03" cy="217.74" r="2.236" color="#46085c" style="--a:0.85"/>
<circle cx="342.5" cy="338.07" r="2.236" color="#443983" style="--a:0.85"/>
<circle cx="553.88" cy="338.05" r="2.236" color="#443983" style="--a:0.85"/>
<circle cx="338.61" cy="317.94" r="2.236" color="#46327e" style="--a:0.85"/>
<circle cx="456.29" cy="218.36" r="2.236" color="#460a5d" style="--a:0.85"/>
<circle cx="467" cy="205.31" r="2.236" color="#450457" style="--a:0.85"/>
<circle cx="539.47" cy="368.46" r="2.236" color="#414487" style="--a:0.85"/>
<circle cx="457.06" cy="218.15" r="2.236" color="#460a5d" style="--a:0.86"/>
<circle cx="456.4" cy="219.4" r="2.236" color="#460a5d" style="--a:0.86"/>
<circle cx="489.6" cy="358.13" r="2.236" color="#424086" style="--a:0.86"/>
<circle cx="473.95" cy="356.11" r="2.236" color="#423f85" style="--a:0.86"/>
<circle cx="457.76" cy="217.81" r="2.236" color="#46085c" style="--a:0.86"/>
<circle cx="423.02" cy="352.57" r="2.236" color="#433e85" style="--a:0.86"/>
<circle cx="458.66" cy="217.86" r="2.236" color="#46085c" style="--a:0.86"/>
<circle cx="408.56" cy="351.32" r="2.236" color="#433e85" style="--a:0.86"/>
<circle cx="467.69" cy="207.06" r="2.236" color="#450457" style="--a:0.86"/>
<circle cx="572.42" cy="257.65" r="2.236" color="#481a6c" style="--a:0.86"/>
<circle cx="466.51" cy="207.31" r="2.236" color="#450457" style="--a:0.86"/>
<circle cx="447.84" cy="197.14" r="2.236" color="#440154" style="--a:0.86"/>
<circle cx="456.74" cy="218.16" r="2.236" color="#46085c" style="--a:0.86"/>
<circle cx="455.94" cy="219.08" r="2.236" color="#460a5d" style="--a:0.86"/>
<circle cx="458.88" cy="219.12" r="2.236" color="#460a5d" style="--a:0.86"/>
<circle cx="367.9" cy="347.92" r="2.236" color="#433d84" style="--a:0.86"/>
<circle cx="457.49" cy="218" r="2.236" color="#46085c" style="--a:0.86"/>
<circle cx="331.72" cy="253.92" r="2.236" color="#48186a" style="--a:0.86"/>
<circle cx="467.35" cy="206.08" r="2.236" color="#450457" style="--a:0.86"/>
<circle cx="457.73" cy="219.5" r="2.236" color="#460a5d" style="--a:0.86"/>
<circle cx="456.56" cy="218.65" r="2.236" color="#46085c" style="--a:0.86"/>
<circle cx="525.69" cy="367.41" r="2.236" color="#414287" style="--a:0.86"/>
<circle cx="564.12" cy="296.76" r="2.236" color="#482979" style="--a:0.86"/>
<circle cx="500.41" cy="361.49" r="2.236" color="#424186" style="--a:0.86"/>
<circle cx="335.07" cy="294.37" r="2.236" color="#482878" style="--a:0.86"/>
<circle cx="467.39" cy="208.44" r="2.236" color="#450457" style="--a:0.86"/>
<circle cx="512.92" cy="365.87" r="2.236" color="#414287" style="--a:0.86"/>
<circle cx="398.74" cy="352.83" r="2.236" color="#433e85" style="--a:0.86"/>
<circle cx="468.25" cy="208.04" r="2.236" color="#450457" style="--a:0.86"/>
<circle cx="467.46" cy="355.16" r="2.236" color="#433e85" style="--a:0.86"/>
<circle cx="332.68" cy="273.3" r="2.236" color="#482071" style="--a:0.86"/>
<circle cx="429.21" cy="352.95" r="2.236" color="#433e85" style="--a:0.86"/>
<circle cx="378.65" cy="350.02" r="2.236" color="#433d84" style="--a:0.86"/>
<circle cx="457.72" cy="217.74" r="2.236" color="#46085c" style="--a:0.86"/>
<circle cx="451.44" cy="206.64" r="2.236" color="#450457" style="--a:0.86"/>
<circle cx="388.42" cy="353.02" r="2.236" color="#433e85" style="--a:0.86"/>
<circle cx="547.84" cy="349.89" r="2.236" color="#433d84" style="--a:0.86"/>
<circle cx="349.5" cy="348.44" r="2.236" color="#443b84" style="--a:0.86"/>
<circle cx="467.49" cy="206.84" r="2.236" color="#450457" style="--a:0.86"/>
<circle cx="483.45" cy="360.93" r="2.236" color="#424086" style="--a:0.86"/>
<circle cx="451.8" cy="203.76" r="2.236" color="#440256" style="--a:0.86"/>
<circle cx="560.1" cy="313.8" r="2.236" color="#472f7d" style="--a:0.86"/>
<circle cx="461.3" cy="358.04" r="2.236" color="#423f85" style="--a:0.86"/>
<circle cx="572.8" cy="253.24" r="2.236" color="#48186a" style="--a:0.86"/>
<circle cx="435.28" cy="355.78" r="2.236" color="#433e85" style="--a:0.86"/>
<circle cx="468.78" cy="209.12" r="2.236" color="#450457" style="--a:0.86"/>
<circle cx="339.59" cy="310.38" r="2.236" color="#472e7c" style="--a:0.86"/>
<circle cx="467.16" cy="209.06" r="2.236" color="#450457" style="--a:0.86"/>
<circle cx="415.36" cy="349.73" r="2.236" color="#433d84" style="--a:0.86"/>
<circle cx="343.33" cy="329.51" r="2.236" color="#463480" style="--a:0.86"/>
<circle cx="469" cy="208.37" r="2.236" color="#450457" style="--a:0.86"/>
<circle cx="551.52" cy="327.56" r="2.236" color="#463480" style="--a:0.86"/>
<circle cx="454.66" cy="355.63" r="2.236" color="#433e85" style="--a:0.86"/>
<circle cx="441.74" cy="355.62" r="2.236" color="#433e85" style="--a:0.86"/>
<circle cx="448.2" cy="355.4" r="2.236" color="#433e85" style="--a:0.86"/>
<circle cx="570.27" cy="272.49" r="2.236" color="#481f70" style="--a:0.86"/>
<circle cx="333.41" cy="268.04" r="2.236" color="#481d6f" style="--a:0.86"/>
<circle cx="335.43" cy="288.55" r="2.236" color="#482576" style="--a:0.86"/>
<circle cx="466.93" cy="209.74" r="2.236" color="#450457" style="--a:0.86"/>
<circle cx="468.5" cy="209.84" r="2.236" color="#450457" style="--a:0.86"/>
<circle cx="539.79" cy="359.75" r="2.236" color="#423f85" style="--a:0.86"/>
<circle cx="492.98" cy="360.83" r="2.236" color="#424086" style="--a:0.86"/>
<circle cx="362.48" cy="349.36" r="2.236" color="#443b84" style="--a:0.86"/>
<circle cx="405.2" cy="354.32" r="2.236" color="#433e85" style="--a:0.86"/>
<circle cx="476.32" cy="359.9" r="2.236" color="#423f85" style="--a:0.86"/>
<circle cx="468.1" cy="208.77" r="2.236" color="#450457" style="--a:0.86"/>
<circle cx="420.57" cy="357.06" r="2.236" color="#433e85" style="--a:0.86"/>
<circle cx="574.28" cy="249.38" r="2.236" color="#481668" style="--a:0.86"/>
<circle cx="466.85" cy="210.6" r="2.236" color="#450457" style="--a:0.86"/>
<circle cx="532.05" cy="371.25" r="2.236" color="#414487" style="--a:0.86"/>
<circle cx="504.78" cy="364.94" r="2.236" color="#424186" style="--a:0.87"/>
<circle cx="467.24" cy="210.02" r="2.236" color="#450457" style="--a:0.87"/>
<circle cx="558.44" cy="305.87" r="2.236" color="#472c7a" style="--a:0.87"/>
<circle cx="339.09" cy="304.76" r="2.236" color="#472a7a" style="--a:0.87"/>
<circle cx="372.78" cy="353.81" r="2.236" color="#433d84" style="--a:0.87"/>
<circle cx="395.35" cy="353.91" r="2.236" color="#433d84" style="--a:0.87"/>
<circle cx="517.88" cy="368.59" r="2.236" color="#414287" style="--a:0.87"/>
<circle cx="466.88" cy="208.99" r="2.236" color="#450457" style="--a:0.87"/>
<circle cx="348.39" cy="342.07" r="2.236" color="#443983" style="--a:0.87"/>
<circle cx="545.82" cy="338.9" r="2.236" color="#453882" style="--a:0.87"/>
<circle cx="570.25" cy="267.58" r="2.236" color="#481c6e" style="--a:0.87"/>
<circle cx="384.37" cy="354.26" r="2.236" color="#433d84" style="--a:0.87"/>
<circle cx="469.48" cy="360.92" r="2.236" color="#423f85" style="--a:0.87"/>
<circle cx="427.63" cy="355.43" r="2.236" color="#433e85" style="--a:0.87"/>
<circle cx="333.58" cy="263.33" r="2.236" color="#481b6d" style="--a:0.87"/>
<circle cx="466.89" cy="211.65" r="2.236" color="#450457" style="--a:0.87"/>
<circle cx="554.88" cy="324.69" r="2.236" color="#46327e" style="--a:0.87"/>
<circle cx="342.86" cy="323.1" r="2.236" color="#46327e" style="--a:0.87"/>
<circle cx="335.39" cy="283.33" r="2.236" color="#482374" style="--a:0.87"/>
<circle cx="467.55" cy="211.27" r="2.236" color="#450457" style="--a:0.87"/>
<circle cx="486.34" cy="363.78" r="2.236" color="#424086" style="--a:0.87"/>
<circle cx="412.26" cy="354.23" r="2.236" color="#433d84" style="--a:0.87"/>
<circle cx="467.59" cy="210.45" r="2.236" color="#450457" style="--a:0.87"/>
<circle cx="462.35" cy="360.21" r="2.236" color="#423f85" style="--a:0.87"/>
<circle cx="434.3" cy="357.25" r="2.236" color="#433e85" style="--a:0.87"/>
<circle cx="465.91" cy="212.03" r="2.236" color="#450457" style="--a:0.87"/>
<circle cx="466.23" cy="211.45" r="2.236" color="#450457" style="--a:0.87"/>
<circle cx="455.32" cy="360.95" r="2.236" color="#423f85" style="--a:0.87"/>
<circle cx="441.08" cy="360.87" r="2.236" color="#423f85" style="--a:0.87"/>
<circle cx="448.2" cy="359.25" r="2.236" color="#433e85" style="--a:0.87"/>
<circle cx="466.77" cy="211.04" r="2.236" color="#450457" style="--a:0.87"/>
<circle cx="539.94" cy="351.45" r="2.236" color="#443b84" style="--a:0.87"/>
<circle cx="355.92" cy="352.34" r="2.236" color="#443b84" style="--a:0.87"/>
<circle cx="333.43" cy="258.96" r="2.236" color="#48186a" style="--a:0.87"/>
<circle cx="571.16" cy="263.33" r="2.236" color="#481a6c" style="--a:0.87"/>
<circle cx="338.96" cy="299.08" r="2.236" color="#482878" style="--a:0.87"/>
<circle cx="561.14" cy="302.5" r="2.236" color="#482979" style="--a:0.87"/>
<circle cx="465.36" cy="212.82" r="2.236" color="#450457" style="--a:0.87"/>
<circle cx="401.98" cy="356.45" r="2.236" color="#433d84" style="--a:0.87"/>
<circle cx="497.24" cy="366.14" r="2.236" color="#424086" style="--a:0.87"/>
<circle cx="335.51" cy="278.22" r="2.236" color="#482071" style="--a:0.87"/>
<circle cx="466.59" cy="213.02" r="2.236" color="#450457" style="--a:0.87"/>
<circle cx="418.38" cy="359.53" r="2.236" color="#433e85" style="--a:0.87"/>
<circle cx="478.7" cy="363.25" r="2.236" color="#423f85" style="--a:0.87"/>
<circle cx="466.14" cy="211.81" r="2.236" color="#450457" style="--a:0.87"/>
<circle cx="344.41" cy="314.77" r="2.236" color="#472e7c" style="--a:0.87"/>
<circle cx="555.27" cy="318.47" r="2.236" color="#472f7d" style="--a:0.87"/>
<circle cx="348.96" cy="333.78" r="2.236" color="#463480" style="--a:0.87"/>
<circle cx="548.48" cy="335.22" r="2.236" color="#453581" style="--a:0.87"/>
<circle cx="464.73" cy="213.64" r="2.236" color="#450457" style="--a:0.87"/>
<circle cx="368.31" cy="354.27" r="2.236" color="#443b84" style="--a:0.87"/>
<circle cx="533.31" cy="364.49" r="2.236" color="#423f85" style="--a:0.87"/>
<circle cx="391.73" cy="355.37" r="2.236" color="#433d84" style="--a:0.87"/>
<circle cx="509.32" cy="368.37" r="2.236" color="#424186" style="--a:0.87"/>
<circle cx="464.73" cy="212.8" r="2.236" color="#450457" style="--a:0.87"/>
<circle cx="379.61" cy="356.85" r="2.236" color="#433d84" style="--a:0.87"/>
<circle cx="522.94" cy="371.12" r="2.236" color="#424186" style="--a:0.87"/>
<circle cx="570.62" cy="258.44" r="2.236" color="#48186a" style="--a:0.87"/>
<circle cx="465.71" cy="212.85" r="2.236" color="#450457" style="--a:0.87"/>
<circle cx="426.19" cy="356.58" r="2.236" color="#433d84" style="--a:0.87"/>
<circle cx="471.41" cy="365.29" r="2.236" color="#423f85" style="--a:0.87"/>
<circle cx="339.44" cy="293.12" r="2.236" color="#482576" style="--a:0.88"/>
<circle cx="335.63" cy="273.31" r="2.236" color="#481d6f" style="--a:0.88"/>
<circle cx="566.26" cy="276.99" r="2.236" color="#481f70" style="--a:0.88"/>
<circle cx="408.71" cy="359.96" r="2.236" color="#433e85" style="--a:0.88"/>
<circle cx="490.02" cy="369.55" r="2.236" color="#424186" style="--a:0.88"/>
<circle cx="433.19" cy="359.96" r="2.236" color="#433e85" style="--a:0.88"/>
<circle cx="355.57" cy="344.93" r="2.236" color="#453882" style="--a:0.88"/>
<circle cx="463.75" cy="365.82" r="2.236" color="#423f85" style="--a:0.88"/>
<circle cx="541.18" cy="345.48" r="2.236" color="#453882" style="--a:0.88"/>
<circle cx="344.18" cy="308.91" r="2.236" color="#472a7a" style="--a:0.88"/>
<circle cx="555.07" cy="311.96" r="2.236" color="#472c7a" style="--a:0.88"/>
<circle cx="571.83" cy="254.51" r="2.236" color="#481668" style="--a:0.88"/>
<circle cx="440.56" cy="362.73" r="2.236" color="#433e85" style="--a:0.88"/>
<circle cx="455.92" cy="364.56" r="2.236" color="#423f85" style="--a:0.88"/>
<circle cx="350.14" cy="325.28" r="2.236" color="#46307e" style="--a:0.88"/>
<circle cx="547.75" cy="327.21" r="2.236" color="#46327e" style="--a:0.88"/>
<circle cx="448.2" cy="360.92" r="2.236" color="#433e85" style="--a:0.88"/>
<circle cx="398.34" cy="359.62" r="2.236" color="#433d84" style="--a:0.88"/>
<circle cx="336.25" cy="268.27" r="2.236" color="#481b6d" style="--a:0.88"/>
<circle cx="340.15" cy="287.29" r="2.236" color="#482374" style="--a:0.88"/>
<circle cx="501.01" cy="369.2" r="2.236" color="#424086" style="--a:0.88"/>
<circle cx="567.17" cy="272.69" r="2.236" color="#481c6e" style="--a:0.88"/>
<circle cx="416.28" cy="361.21" r="2.236" color="#433e85" style="--a:0.88"/>
<circle cx="362.3" cy="357.36" r="2.236" color="#443b84" style="--a:0.88"/>
<circle cx="534.27" cy="357.67" r="2.236" color="#433d84" style="--a:0.88"/>
<circle cx="481.04" cy="365.96" r="2.236" color="#423f85" style="--a:0.88"/>
<circle cx="387.69" cy="357.68" r="2.236" color="#443b84" style="--a:0.88"/>
<circle cx="374.23" cy="360.37" r="2.236" color="#433d84" style="--a:0.88"/>
<circle cx="488.52" cy="221.4" r="2.236" color="#46075a" style="--a:0.88"/>
<circle cx="513.76" cy="371.05" r="2.236" color="#424086" style="--a:0.88"/>
<circle cx="524.44" cy="365.38" r="2.236" color="#423f85" style="--a:0.88"/>
<circle cx="342.64" cy="304.67" r="2.236" color="#482878" style="--a:0.88"/>
<circle cx="554.35" cy="305.27" r="2.236" color="#482979" style="--a:0.88"/>
<circle cx="335.97" cy="263.97" r="2.236" color="#48186a" style="--a:0.88"/>
<circle cx="356.88" cy="335.5" r="2.236" color="#463480" style="--a:0.88"/>
<circle cx="424.14" cy="361.74" r="2.236" color="#433d84" style="--a:0.88"/>
<circle cx="541.67" cy="338.75" r="2.236" color="#463480" style="--a:0.88"/>
<circle cx="472.93" cy="366.31" r="2.236" color="#423f85" style="--a:0.88"/>
<circle cx="339.8" cy="282.56" r="2.236" color="#482071" style="--a:0.88"/>
<circle cx="348.73" cy="320.54" r="2.236" color="#472e7c" style="--a:0.88"/>
<circle cx="568.37" cy="268.66" r="2.236" color="#481a6c" style="--a:0.88"/>
<circle cx="406.32" cy="360.51" r="2.236" color="#433d84" style="--a:0.88"/>
<circle cx="550.73" cy="324.33" r="2.236" color="#472f7d" style="--a:0.88"/>
<circle cx="491.98" cy="367.9" r="2.236" color="#423f85" style="--a:0.88"/>
<circle cx="464.59" cy="365.06" r="2.236" color="#433e85" style="--a:0.89"/>
<circle cx="431.78" cy="365.41" r="2.236" color="#433e85" style="--a:0.89"/>
<circle cx="440.15" cy="361.93" r="2.236" color="#433d84" style="--a:0.89"/>
<circle cx="456.39" cy="364.88" r="2.236" color="#433e85" style="--a:0.89"/>
<circle cx="344.88" cy="296.94" r="2.236" color="#482576" style="--a:0.89"/>
<circle cx="362.36" cy="349.2" r="2.236" color="#453882" style="--a:0.89"/>
<circle cx="534.07" cy="349.26" r="2.236" color="#453882" style="--a:0.89"/>
<circle cx="448.2" cy="365.29" r="2.236" color="#433e85" style="--a:0.89"/>
<circle cx="394.75" cy="362.2" r="2.236" color="#433d84" style="--a:0.89"/>
<circle cx="340.34" cy="277.35" r="2.236" color="#481d6f" style="--a:0.89"/>
<circle cx="568.4" cy="264.03" r="2.236" color="#48186a" style="--a:0.89"/>
<circle cx="414.26" cy="362.29" r="2.236" color="#433d84" style="--a:0.89"/>
<circle cx="505.58" cy="374.28" r="2.236" color="#424086" style="--a:0.89"/>
<circle cx="562.7" cy="282.25" r="2.236" color="#481f70" style="--a:0.89"/>
<circle cx="483.03" cy="366.58" r="2.236" color="#433e85" style="--a:0.89"/>
<circle cx="383.49" cy="360.02" r="2.236" color="#443b84" style="--a:0.89"/>
<circle cx="348.94" cy="314.11" r="2.236" color="#472a7a" style="--a:0.89"/>
<circle cx="355.25" cy="330.98" r="2.236" color="#46307e" style="--a:0.89"/>
<circle cx="525.88" cy="359.88" r="2.236" color="#443b84" style="--a:0.89"/>
<circle cx="542.69" cy="333.19" r="2.236" color="#46327e" style="--a:0.89"/>
<circle cx="369.96" cy="361.05" r="2.236" color="#443b84" style="--a:0.89"/>
<circle cx="550.42" cy="317.57" r="2.236" color="#472c7a" style="--a:0.89"/>
<circle cx="517.17" cy="370.71" r="2.236" color="#423f85" style="--a:0.89"/>
<circle cx="343.65" cy="292.83" r="2.236" color="#482374" style="--a:0.89"/>
<circle cx="568.41" cy="259.52" r="2.236" color="#481668" style="--a:0.89"/>
<circle cx="339.67" cy="273.2" r="2.236" color="#481b6d" style="--a:0.89"/>
<circle cx="422.31" cy="364.85" r="2.236" color="#433d84" style="--a:0.89"/>
<circle cx="474.27" cy="366.03" r="2.236" color="#433e85" style="--a:0.89"/>
<circle cx="562.76" cy="277.39" r="2.236" color="#481c6e" style="--a:0.89"/>
<circle cx="403.16" cy="363.72" r="2.236" color="#433d84" style="--a:0.89"/>
<circle cx="361.14" cy="343.77" r="2.236" color="#453581" style="--a:0.89"/>
<circle cx="535.37" cy="343.95" r="2.236" color="#453581" style="--a:0.89"/>
<circle cx="495.83" cy="373.25" r="2.236" color="#423f85" style="--a:0.89"/>
<circle cx="347.02" cy="310.4" r="2.236" color="#482979" style="--a:0.89"/>
<circle cx="430.73" cy="366.72" r="2.236" color="#433d84" style="--a:0.89"/>
<circle cx="541.23" cy="324.52" r="2.236" color="#472e7c" style="--a:0.89"/>
<circle cx="550.89" cy="312.08" r="2.236" color="#482979" style="--a:0.9"/>
<circle cx="465.91" cy="369.04" r="2.236" color="#433e85" style="--a:0.9"/>
<circle cx="353.94" cy="326.21" r="2.236" color="#472e7c" style="--a:0.9"/>
<circle cx="339.84" cy="268.6" r="2.236" color="#48186a" style="--a:0.9"/>
<circle cx="439.55" cy="364.96" r="2.236" color="#433d84" style="--a:0.9"/>
<circle cx="344.23" cy="287.27" r="2.236" color="#482071" style="--a:0.9"/>
<circle cx="390.89" cy="365.14" r="2.236" color="#433d84" style="--a:0.9"/>
<circle cx="526.25" cy="352.63" r="2.236" color="#453882" style="--a:0.9"/>
<circle cx="448.2" cy="365.65" r="2.236" color="#433d84" style="--a:0.9"/>
<circle cx="457.06" cy="369.05" r="2.236" color="#433e85" style="--a:0.9"/>
<circle cx="369.54" cy="353.83" r="2.236" color="#453882" style="--a:0.9"/>
<circle cx="562.93" cy="272.76" r="2.236" color="#481a6c" style="--a:0.9"/>
<circle cx="379.56" cy="361.32" r="2.236" color="#443a83" style="--a:0.9"/>
<circle cx="517.13" cy="361.99" r="2.236" color="#443b84" style="--a:0.9"/>
<circle cx="508.31" cy="373.34" r="2.236" color="#423f85" style="--a:0.9"/>
<circle cx="411.73" cy="365.48" r="2.236" color="#433d84" style="--a:0.9"/>
<circle cx="348.13" cy="303.56" r="2.236" color="#482576" style="--a:0.9"/>
<circle cx="362.49" cy="334.54" r="2.236" color="#46307e" style="--a:0.9"/>
<circle cx="486.96" cy="376.02" r="2.236" color="#424086" style="--a:0.9"/>
<circle cx="355.89" cy="317.4" r="2.236" color="#472a7a" style="--a:0.9"/>
<circle cx="344.29" cy="282.39" r="2.236" color="#481d6f" style="--a:0.9"/>
<circle cx="552.03" cy="307.52" r="2.236" color="#482677" style="--a:0.9"/>
<circle cx="541.86" cy="319.15" r="2.236" color="#472c7a" style="--a:0.9"/>
<circle cx="537.25" cy="339.86" r="2.236" color="#46337f" style="--a:0.9"/>
<circle cx="563.6" cy="268.57" r="2.236" color="#481769" style="--a:0.9"/>
<circle cx="557.56" cy="286.83" r="2.236" color="#481f70" style="--a:0.9"/>
<circle cx="420.16" cy="369.51" r="2.236" color="#433d84" style="--a:0.9"/>
<circle cx="400.26" cy="365.59" r="2.236" color="#443b84" style="--a:0.9"/>
<circle cx="370.02" cy="345.39" r="2.236" color="#463480" style="--a:0.9"/>
<circle cx="477.15" cy="375.07" r="2.236" color="#423f85" style="--a:0.9"/>
<circle cx="349.88" cy="296.46" r="2.236" color="#482374" style="--a:0.9"/>
<circle cx="528.02" cy="348.47" r="2.236" color="#453581" style="--a:0.9"/>
<circle cx="548.81" cy="298.75" r="2.236" color="#482374" style="--a:0.9"/>
<circle cx="344.44" cy="277.62" r="2.236" color="#481b6d" style="--a:0.9"/>
<circle cx="499.53" cy="377.43" r="2.236" color="#423f85" style="--a:0.9"/>
<circle cx="466.99" cy="370.29" r="2.236" color="#433d84" style="--a:0.9"/>
<circle cx="429.32" cy="371.1" r="2.236" color="#433e85" style="--a:0.9"/>
<circle cx="378.28" cy="356.29" r="2.236" color="#453882" style="--a:0.9"/>
<circle cx="563.87" cy="264.23" r="2.236" color="#481668" style="--a:0.91"/>
<circle cx="508.54" cy="365.36" r="2.236" color="#443b84" style="--a:0.91"/>
<circle cx="534.58" cy="329" r="2.236" color="#472e7c" style="--a:0.91"/>
<circle cx="361.76" cy="329.09" r="2.236" color="#472e7c" style="--a:0.91"/>
<circle cx="387.62" cy="366.03" r="2.236" color="#443b84" style="--a:0.91"/>
<circle cx="354.39" cy="313.45" r="2.236" color="#482878" style="--a:0.91"/>
<circle cx="519.29" cy="358.93" r="2.236" color="#443983" style="--a:0.91"/>
<circle cx="438.84" cy="369.61" r="2.236" color="#433d84" style="--a:0.91"/>
<circle cx="457.59" cy="369.99" r="2.236" color="#433d84" style="--a:0.91"/>
<circle cx="558.06" cy="282.31" r="2.236" color="#481c6e" style="--a:0.91"/>
<circle cx="448.2" cy="369.88" r="2.236" color="#433d84" style="--a:0.91"/>
<circle cx="544.83" cy="316.92" r="2.236" color="#482979" style="--a:0.91"/>
<circle cx="409.12" cy="368.62" r="2.236" color="#443b84" style="--a:0.91"/>
<circle cx="344.76" cy="272.9" r="2.236" color="#48186a" style="--a:0.91"/>
<circle cx="348.99" cy="292.27" r="2.236" color="#482071" style="--a:0.91"/>
<circle cx="526.84" cy="339.2" r="2.236" color="#46307e" style="--a:0.91"/>
<circle cx="551.43" cy="296.1" r="2.236" color="#482173" style="--a:0.91"/>
<circle cx="489.52" cy="378.39" r="2.236" color="#423f85" style="--a:0.91"/>
<circle cx="368.36" cy="341.37" r="2.236" color="#46327e" style="--a:0.91"/>
<circle cx="363.5" cy="320.34" r="2.236" color="#472a7a" style="--a:0.91"/>
<circle cx="558.49" cy="277.87" r="2.236" color="#481a6c" style="--a:0.91"/>
<circle cx="353.96" cy="308.32" r="2.236" color="#482576" style="--a:0.91"/>
<circle cx="379.31" cy="346.56" r="2.236" color="#46337f" style="--a:0.91"/>
<circle cx="544.14" cy="310.31" r="2.236" color="#482677" style="--a:0.91"/>
<circle cx="536.06" cy="324.9" r="2.236" color="#472c7a" style="--a:0.91"/>
<circle cx="418.37" cy="371.54" r="2.236" color="#433d84" style="--a:0.91"/>
<circle cx="396.97" cy="368.42" r="2.236" color="#443b84" style="--a:0.91"/>
<circle cx="343.75" cy="269.25" r="2.236" color="#481668" style="--a:0.91"/>
<circle cx="348.71" cy="287.65" r="2.236" color="#481d6f" style="--a:0.91"/>
<circle cx="519.3" cy="351.33" r="2.236" color="#453581" style="--a:0.91"/>
<circle cx="509.18" cy="359.06" r="2.236" color="#453882" style="--a:0.91"/>
<circle cx="500.66" cy="372.51" r="2.236" color="#433d84" style="--a:0.91"/>
<circle cx="386.55" cy="360.85" r="2.236" color="#453882" style="--a:0.91"/>
<circle cx="479.14" cy="377.99" r="2.236" color="#423f85" style="--a:0.91"/>
<circle cx="552.01" cy="291.55" r="2.236" color="#481f70" style="--a:0.91"/>
<circle cx="355.64" cy="301.07" r="2.236" color="#482374" style="--a:0.91"/>
<circle cx="558.95" cy="273.56" r="2.236" color="#481769" style="--a:0.91"/>
<circle cx="370.03" cy="331.8" r="2.236" color="#472e7c" style="--a:0.91"/>
<circle cx="428.03" cy="373.92" r="2.236" color="#433d84" style="--a:0.91"/>
<circle cx="468.68" cy="376.6" r="2.236" color="#433e85" style="--a:0.92"/>
<circle cx="349.41" cy="282.34" r="2.236" color="#481b6d" style="--a:0.92"/>
<circle cx="528.76" cy="335.89" r="2.236" color="#472f7d" style="--a:0.92"/>
<circle cx="361.14" cy="317.81" r="2.236" color="#482878" style="--a:0.92"/>
<circle cx="438.17" cy="372.99" r="2.236" color="#433d84" style="--a:0.92"/>
<circle cx="544.63" cy="305.38" r="2.236" color="#482475" style="--a:0.92"/>
<circle cx="448.2" cy="373.18" r="2.236" color="#433d84" style="--a:0.92"/>
<circle cx="537" cy="320.21" r="2.236" color="#482979" style="--a:0.92"/>
<circle cx="489.79" cy="370.85" r="2.236" color="#443b84" style="--a:0.92"/>
<circle cx="517.92" cy="341.35" r="2.236" color="#46307e" style="--a:0.92"/>
<circle cx="458.54" cy="378.24" r="2.236" color="#433e85" style="--a:0.92"/>
<circle cx="377.94" cy="342.48" r="2.236" color="#46307e" style="--a:0.92"/>
<circle cx="406.14" cy="372.82" r="2.236" color="#443b84" style="--a:0.92"/>
<circle cx="552.1" cy="286.71" r="2.236" color="#481c6e" style="--a:0.92"/>
<circle cx="559.05" cy="269.11" r="2.236" color="#481668" style="--a:0.92"/>
<circle cx="387.92" cy="349.81" r="2.236" color="#463480" style="--a:0.92"/>
<circle cx="509.1" cy="351.35" r="2.236" color="#463480" style="--a:0.92"/>
<circle cx="355.03" cy="296.65" r="2.236" color="#482071" style="--a:0.92"/>
<circle cx="396.6" cy="361.58" r="2.236" color="#453882" style="--a:0.92"/>
<circle cx="500.03" cy="362.3" r="2.236" color="#453882" style="--a:0.92"/>
<circle cx="349.5" cy="277.75" r="2.236" color="#48186a" style="--a:0.92"/>
<circle cx="362.82" cy="309.95" r="2.236" color="#482576" style="--a:0.92"/>
<circle cx="544.12" cy="299.57" r="2.236" color="#482071" style="--a:0.92"/>
<circle cx="368.83" cy="327.55" r="2.236" color="#472c7a" style="--a:0.92"/>
<circle cx="416.84" cy="371.79" r="2.236" color="#443b84" style="--a:0.92"/>
<circle cx="479.61" cy="372.02" r="2.236" color="#443b84" style="--a:0.92"/>
<circle cx="528.95" cy="329.81" r="2.236" color="#472c7a" style="--a:0.92"/>
<circle cx="536.66" cy="313.99" r="2.236" color="#482677" style="--a:0.92"/>
<circle cx="552.54" cy="282.31" r="2.236" color="#481a6c" style="--a:0.92"/>
<circle cx="355.59" cy="291.19" r="2.236" color="#481d6f" style="--a:0.92"/>
<circle cx="350.13" cy="272.89" r="2.236" color="#481668" style="--a:0.92"/>
<circle cx="377.96" cy="335.81" r="2.236" color="#472e7c" style="--a:0.92"/>
<circle cx="518.85" cy="336.61" r="2.236" color="#472e7c" style="--a:0.92"/>
<circle cx="406.82" cy="362.02" r="2.236" color="#453781" style="--a:0.92"/>
<circle cx="388.39" cy="341.73" r="2.236" color="#472f7d" style="--a:0.92"/>
<circle cx="489.91" cy="363.29" r="2.236" color="#453882" style="--a:0.92"/>
<circle cx="469.31" cy="373.39" r="2.236" color="#443b84" style="--a:0.92"/>
<circle cx="370.13" cy="319.57" r="2.236" color="#482878" style="--a:0.92"/>
<circle cx="397.09" cy="352.58" r="2.236" color="#463480" style="--a:0.92"/>
<circle cx="362.07" cy="305.61" r="2.236" color="#482374" style="--a:0.92"/>
<circle cx="426.86" cy="375.33" r="2.236" color="#443b84" style="--a:0.92"/>
<circle cx="509.31" cy="344.83" r="2.236" color="#46307e" style="--a:0.92"/>
<circle cx="544.98" cy="295.39" r="2.236" color="#481f70" style="--a:0.93"/>
<circle cx="499.89" cy="354.32" r="2.236" color="#463480" style="--a:0.93"/>
<circle cx="458.8" cy="374.03" r="2.236" color="#443b84" style="--a:0.93"/>
<circle cx="437.59" cy="374.4" r="2.236" color="#443b84" style="--a:0.93"/>
<circle cx="536.96" cy="308.89" r="2.236" color="#482374" style="--a:0.93"/>
<circle cx="528.86" cy="323.61" r="2.236" color="#482979" style="--a:0.93"/>
<circle cx="553.56" cy="278.47" r="2.236" color="#481769" style="--a:0.93"/>
<circle cx="355.28" cy="286.8" r="2.236" color="#481b6d" style="--a:0.93"/>
<circle cx="378.92" cy="327.76" r="2.236" color="#472a7a" style="--a:0.93"/>
<circle cx="479.58" cy="363.82" r="2.236" color="#453882" style="--a:0.93"/>
<circle cx="448.2" cy="378.36" r="2.236" color="#433d84" style="--a:0.93"/>
<circle cx="416.43" cy="365.92" r="2.236" color="#453882" style="--a:0.93"/>
<circle cx="361.91" cy="300.69" r="2.236" color="#482071" style="--a:0.93"/>
<circle cx="545.68" cy="291.17" r="2.236" color="#481c6e" style="--a:0.93"/>
<circle cx="369.73" cy="314.59" r="2.236" color="#482576" style="--a:0.93"/>
<circle cx="520.32" cy="333.08" r="2.236" color="#472c7a" style="--a:0.93"/>
<circle cx="489.84" cy="355.51" r="2.236" color="#463480" style="--a:0.93"/>
<circle cx="355.63" cy="281.94" r="2.236" color="#48186a" style="--a:0.93"/>
<circle cx="553.51" cy="273.89" r="2.236" color="#481668" style="--a:0.93"/>
<circle cx="499.34" cy="345.68" r="2.236" color="#46307e" style="--a:0.93"/>
<circle cx="386.78" cy="338.97" r="2.236" color="#472e7c" style="--a:0.93"/>
<circle cx="427.14" cy="364.97" r="2.236" color="#453781" style="--a:0.93"/>
<circle cx="509.73" cy="339.21" r="2.236" color="#472e7c" style="--a:0.93"/>
<circle cx="528.46" cy="317.24" r="2.236" color="#482576" style="--a:0.93"/>
<circle cx="537.6" cy="304.4" r="2.236" color="#482173" style="--a:0.93"/>
<circle cx="396.32" cy="347.83" r="2.236" color="#46307e" style="--a:0.93"/>
<circle cx="469.51" cy="366.95" r="2.236" color="#453882" style="--a:0.93"/>
<circle cx="405.7" cy="358.81" r="2.236" color="#453581" style="--a:0.93"/>
<circle cx="448.2" cy="363.89" r="2.236" color="#453781" style="--a:0.93"/>
<circle cx="458.8" cy="366.11" r="2.236" color="#453882" style="--a:0.93"/>
<circle cx="437.54" cy="367.06" r="2.236" color="#453882" style="--a:0.93"/>
<circle cx="361.98" cy="295.7" r="2.236" color="#481d6f" style="--a:0.93"/>
<circle cx="377.86" cy="323.83" r="2.236" color="#482878" style="--a:0.93"/>
<circle cx="370.15" cy="308.65" r="2.236" color="#482374" style="--a:0.93"/>
<circle cx="546.24" cy="286.9" r="2.236" color="#481a6c" style="--a:0.93"/>
<circle cx="355.61" cy="277.56" r="2.236" color="#481668" style="--a:0.93"/>
<circle cx="416.35" cy="358.8" r="2.236" color="#463480" style="--a:0.94"/>
<circle cx="480.22" cy="359.59" r="2.236" color="#463480" style="--a:0.94"/>
<circle cx="528.41" cy="311.71" r="2.236" color="#482374" style="--a:0.94"/>
<circle cx="537.69" cy="299.4" r="2.236" color="#481f70" style="--a:0.94"/>
<circle cx="489.56" cy="347.47" r="2.236" color="#46307e" style="--a:0.94"/>
<circle cx="521.18" cy="328.56" r="2.236" color="#482979" style="--a:0.94"/>
<circle cx="468.89" cy="354.68" r="2.236" color="#46337f" style="--a:0.94"/>
<circle cx="397.16" cy="338.89" r="2.236" color="#472d7b" style="--a:0.94"/>
<circle cx="509.88" cy="333.26" r="2.236" color="#472a7a" style="--a:0.94"/>
<circle cx="362.72" cy="290.18" r="2.236" color="#481b6d" style="--a:0.94"/>
<circle cx="427.26" cy="356.64" r="2.236" color="#46337f" style="--a:0.94"/>
<circle cx="406.19" cy="349.88" r="2.236" color="#46307e" style="--a:0.94"/>
<circle cx="385.85" cy="334.75" r="2.236" color="#472c7a" style="--a:0.94"/>
<circle cx="378.13" cy="317.75" r="2.236" color="#482576" style="--a:0.94"/>
<circle cx="546.45" cy="282.43" r="2.236" color="#481769" style="--a:0.94"/>
<circle cx="369.86" cy="303.96" r="2.236" color="#482071" style="--a:0.94"/>
<circle cx="501.4" cy="344.83" r="2.236" color="#472f7d" style="--a:0.94"/>
<circle cx="458.76" cy="357.94" r="2.236" color="#46337f" style="--a:0.94"/>
<circle cx="519.76" cy="320.28" r="2.236" color="#482576" style="--a:0.94"/>
<circle cx="537.3" cy="294.08" r="2.236" color="#481c6e" style="--a:0.94"/>
<circle cx="407.55" cy="338.52" r="2.236" color="#472d7b" style="--a:0.94"/>
<circle cx="416.58" cy="350.56" r="2.236" color="#46307e" style="--a:0.94"/>
<circle cx="529.4" cy="307.82" r="2.236" color="#482071" style="--a:0.94"/>
<circle cx="479.93" cy="351.06" r="2.236" color="#46307e" style="--a:0.94"/>
<circle cx="437.34" cy="362.67" r="2.236" color="#453581" style="--a:0.94"/>
<circle cx="448.2" cy="362.1" r="2.236" color="#463480" style="--a:0.94"/>
<circle cx="361.9" cy="286.49" r="2.236" color="#48186a" style="--a:0.94"/>
<circle cx="386.54" cy="327.27" r="2.236" color="#482878" style="--a:0.94"/>
<circle cx="510.09" cy="327.74" r="2.236" color="#482878" style="--a:0.94"/>
<circle cx="546.57" cy="278" r="2.236" color="#481668" style="--a:0.94"/>
<circle cx="500.2" cy="335.24" r="2.236" color="#472a7a" style="--a:0.94"/>
<circle cx="396.14" cy="335.41" r="2.236" color="#472a7a" style="--a:0.94"/>
<circle cx="369.57" cy="299.43" r="2.236" color="#481d6f" style="--a:0.94"/>
<circle cx="377.82" cy="312.9" r="2.236" color="#482374" style="--a:0.94"/>
<circle cx="490.47" cy="344.1" r="2.236" color="#472e7c" style="--a:0.94"/>
<circle cx="469.31" cy="350.88" r="2.236" color="#46307e" style="--a:0.94"/>
<circle cx="427.01" cy="351.5" r="2.236" color="#46307e" style="--a:0.94"/>
<circle cx="519.66" cy="314.65" r="2.236" color="#482374" style="--a:0.94"/>
<circle cx="362.56" cy="281.41" r="2.236" color="#481668" style="--a:0.94"/>
<circle cx="538.44" cy="290.53" r="2.236" color="#481a6c" style="--a:0.94"/>
<circle cx="529.4" cy="302.74" r="2.236" color="#481f70" style="--a:0.95"/>
<circle cx="387.34" cy="320.01" r="2.236" color="#482576" style="--a:0.95"/>
<circle cx="416.78" cy="343.06" r="2.236" color="#472d7b" style="--a:0.95"/>
<circle cx="370.48" cy="293.57" r="2.236" color="#481b6d" style="--a:0.95"/>
<circle cx="397.2" cy="326.8" r="2.236" color="#482677" style="--a:0.95"/>
<circle cx="458.96" cy="353.82" r="2.236" color="#46307e" style="--a:0.95"/>
<circle cx="437.45" cy="353.88" r="2.236" color="#46307e" style="--a:0.95"/>
<circle cx="378.36" cy="306.92" r="2.236" color="#482071" style="--a:0.95"/>
<circle cx="499.72" cy="328.08" r="2.236" color="#482878" style="--a:0.95"/>
<circle cx="448.2" cy="354.32" r="2.236" color="#46307e" style="--a:0.95"/>
<circle cx="480.21" cy="345.75" r="2.236" color="#472e7c" style="--a:0.95"/>
<circle cx="510.68" cy="323.25" r="2.236" color="#482576" style="--a:0.95"/>
<circle cx="406.45" cy="336.09" r="2.236" color="#472a7a" style="--a:0.95"/>
<circle cx="362.82" cy="276.89" r="2.236" color="#481467" style="--a:0.95"/>
<circle cx="427.2" cy="343.57" r="2.236" color="#472d7b" style="--a:0.95"/>
<circle cx="490.62" cy="338.29" r="2.236" color="#472c7a" style="--a:0.95"/>
<circle cx="538.93" cy="286.37" r="2.236" color="#481769" style="--a:0.95"/>
<circle cx="529.85" cy="298.4" r="2.236" color="#481c6e" style="--a:0.95"/>
<circle cx="521.04" cy="311.6" r="2.236" color="#482173" style="--a:0.95"/>
<circle cx="369.98" cy="289.62" r="2.236" color="#48186a" style="--a:0.95"/>
<circle cx="397.56" cy="320.4" r="2.236" color="#482475" style="--a:0.95"/>
<circle cx="469.75" cy="347.3" r="2.236" color="#472e7c" style="--a:0.95"/>
<circle cx="386.76" cy="315.79" r="2.236" color="#482374" style="--a:0.95"/>
<circle cx="458.86" cy="345.72" r="2.236" color="#472d7b" style="--a:0.95"/>
<circle cx="437.54" cy="345.89" r="2.236" color="#472d7b" style="--a:0.95"/>
<circle cx="448.21" cy="345.25" r="2.236" color="#472d7b" style="--a:0.95"/>
<circle cx="377.74" cy="302.95" r="2.236" color="#481d6f" style="--a:0.95"/>
<circle cx="416.24" cy="339.27" r="2.236" color="#472a7a" style="--a:0.95"/>
<circle cx="511.28" cy="318.92" r="2.236" color="#482374" style="--a:0.95"/>
<circle cx="538.92" cy="281.83" r="2.236" color="#481668" style="--a:0.95"/>
<circle cx="480.41" cy="340.32" r="2.236" color="#472c7a" style="--a:0.95"/>
<circle cx="500.71" cy="324.88" r="2.236" color="#482576" style="--a:0.95"/>
<circle cx="370.24" cy="284.91" r="2.236" color="#481668" style="--a:0.95"/>
<circle cx="520.62" cy="305.86" r="2.236" color="#481d6f" style="--a:0.95"/>
<circle cx="490.81" cy="332.91" r="2.236" color="#482878" style="--a:0.95"/>
<circle cx="530.35" cy="294.22" r="2.236" color="#481a6c" style="--a:0.95"/>
<circle cx="387.02" cy="310.16" r="2.236" color="#482071" style="--a:0.95"/>
<circle cx="405.26" cy="333.99" r="2.236" color="#482979" style="--a:0.95"/>
<circle cx="377.83" cy="298.04" r="2.236" color="#481b6d" style="--a:0.96"/>
<circle cx="437.63" cy="338.56" r="2.236" color="#472a7a" style="--a:0.96"/>
<circle cx="469.74" cy="340.92" r="2.236" color="#472a7a" style="--a:0.96"/>
<circle cx="510.54" cy="312.27" r="2.236" color="#482071" style="--a:0.96"/>
<circle cx="458.85" cy="339.47" r="2.236" color="#472a7a" style="--a:0.96"/>
<circle cx="426.53" cy="341.88" r="2.236" color="#472c7a" style="--a:0.96"/>
<circle cx="416.59" cy="331.82" r="2.236" color="#482878" style="--a:0.96"/>
<circle cx="448.21" cy="339.71" r="2.236" color="#472a7a" style="--a:0.96"/>
<circle cx="396.16" cy="318.39" r="2.236" color="#482374" style="--a:0.96"/>
<circle cx="406.28" cy="325.14" r="2.236" color="#482576" style="--a:0.96"/>
<circle cx="369.67" cy="281.23" r="2.236" color="#481467" style="--a:0.96"/>
<circle cx="530.31" cy="289.53" r="2.236" color="#481769" style="--a:0.96"/>
<circle cx="521.01" cy="301.51" r="2.236" color="#481c6e" style="--a:0.96"/>
<circle cx="378.46" cy="292.59" r="2.236" color="#48186a" style="--a:0.96"/>
<circle cx="490.8" cy="327.15" r="2.236" color="#482576" style="--a:0.96"/>
<circle cx="386.72" cy="305.77" r="2.236" color="#481d6f" style="--a:0.96"/>
<circle cx="427.08" cy="332.35" r="2.236" color="#482878" style="--a:0.96"/>
<circle cx="501.5" cy="321.29" r="2.236" color="#482374" style="--a:0.96"/>
<circle cx="469.62" cy="334.2" r="2.236" color="#482878" style="--a:0.96"/>
<circle cx="481.45" cy="338.69" r="2.236" color="#482979" style="--a:0.96"/>
<circle cx="511.24" cy="308.48" r="2.236" color="#481d6f" style="--a:0.96"/>
<circle cx="395.91" cy="313.78" r="2.236" color="#482071" style="--a:0.96"/>
<circle cx="458.93" cy="334.54" r="2.236" color="#482878" style="--a:0.96"/>
<circle cx="378.33" cy="288.35" r="2.236" color="#481668" style="--a:0.96"/>
<circle cx="416.11" cy="328.14" r="2.236" color="#482576" style="--a:0.96"/>
<circle cx="530.91" cy="285.66" r="2.236" color="#481668" style="--a:0.96"/>
<circle cx="386.89" cy="300.71" r="2.236" color="#481b6d" style="--a:0.96"/>
<circle cx="480.49" cy="328.92" r="2.236" color="#482576" style="--a:0.96"/>
<circle cx="521.67" cy="297.65" r="2.236" color="#481a6c" style="--a:0.96"/>
<circle cx="490.75" cy="321.57" r="2.236" color="#482374" style="--a:0.96"/>
<circle cx="405.65" cy="321.59" r="2.236" color="#482374" style="--a:0.96"/>
<circle cx="501.44" cy="315.86" r="2.236" color="#482071" style="--a:0.96"/>
<circle cx="437.25" cy="337.56" r="2.236" color="#482979" style="--a:0.96"/>
<circle cx="427.04" cy="327.04" r="2.236" color="#482475" style="--a:0.96"/>
<circle cx="396.55" cy="307.45" r="2.236" color="#481d6f" style="--a:0.97"/>
<circle cx="448.21" cy="326.19" r="2.236" color="#482475" style="--a:0.97"/>
<circle cx="448.21" cy="338.74" r="2.236" color="#482979" style="--a:0.97"/>
<circle cx="416.62" cy="320.76" r="2.236" color="#482173" style="--a:0.97"/>
<circle cx="511.58" cy="304.17" r="2.236" color="#481c6e" style="--a:0.97"/>
<circle cx="378.29" cy="284.09" r="2.236" color="#481467" style="--a:0.97"/>
<circle cx="387.1" cy="295.79" r="2.236" color="#48186a" style="--a:0.97"/>
<circle cx="469.93" cy="330.41" r="2.236" color="#482576" style="--a:0.97"/>
<circle cx="437.5" cy="328.72" r="2.236" color="#482576" style="--a:0.97"/>
<circle cx="521.26" cy="292.46" r="2.236" color="#481769" style="--a:0.97"/>
<circle cx="501.32" cy="310.54" r="2.236" color="#481d6f" style="--a:0.97"/>
<circle cx="405.67" cy="316.34" r="2.236" color="#482071" style="--a:0.97"/>
<circle cx="491.04" cy="317.17" r="2.236" color="#482071" style="--a:0.97"/>
<circle cx="480.79" cy="324.6" r="2.236" color="#482374" style="--a:0.97"/>
<circle cx="426.98" cy="322.05" r="2.236" color="#482173" style="--a:0.97"/>
<circle cx="459.17" cy="331.84" r="2.236" color="#482576" style="--a:0.97"/>
<circle cx="396.06" cy="303.71" r="2.236" color="#481b6d" style="--a:0.97"/>
<circle cx="386.8" cy="291.8" r="2.236" color="#481668" style="--a:0.97"/>
<circle cx="512.19" cy="300.39" r="2.236" color="#481a6c" style="--a:0.97"/>
<circle cx="406.05" cy="310.32" r="2.236" color="#481d6f" style="--a:0.97"/>
<circle cx="416.27" cy="316.93" r="2.236" color="#482071" style="--a:0.97"/>
<circle cx="521.77" cy="288.59" r="2.236" color="#481467" style="--a:0.97"/>
<circle cx="470.02" cy="325.45" r="2.236" color="#482374" style="--a:0.97"/>
<circle cx="480.6" cy="318.63" r="2.236" color="#482071" style="--a:0.97"/>
<circle cx="437.34" cy="325.2" r="2.236" color="#482374" style="--a:0.97"/>
<circle cx="501.95" cy="306.94" r="2.236" color="#481c6e" style="--a:0.97"/>
<circle cx="491.18" cy="312.48" r="2.236" color="#481d6f" style="--a:0.97"/>
<circle cx="448.21" cy="326.03" r="2.236" color="#482374" style="--a:0.97"/>
<circle cx="395.87" cy="299.44" r="2.236" color="#48186a" style="--a:0.97"/>
<circle cx="459.24" cy="327.13" r="2.236" color="#482374" style="--a:0.97"/>
<circle cx="386.81" cy="287.45" r="2.236" color="#481467" style="--a:0.97"/>
<circle cx="426.74" cy="318.27" r="2.236" color="#482071" style="--a:0.97"/>
<circle cx="406.16" cy="305.25" r="2.236" color="#481b6d" style="--a:0.98"/>
<circle cx="469.77" cy="318.82" r="2.236" color="#482071" style="--a:0.98"/>
<circle cx="512.18" cy="295.73" r="2.236" color="#481769" style="--a:0.98"/>
<circle cx="416.22" cy="312.16" r="2.236" color="#481d6f" style="--a:0.98"/>
<circle cx="501.83" cy="301.95" r="2.236" color="#481a6c" style="--a:0.98"/>
<circle cx="491.26" cy="307.83" r="2.236" color="#481b6d" style="--a:0.98"/>
<circle cx="480.76" cy="314.16" r="2.236" color="#481d6f" style="--a:0.98"/>
<circle cx="437.29" cy="320.56" r="2.236" color="#482071" style="--a:0.98"/>
<circle cx="396" cy="294.71" r="2.236" color="#481668" style="--a:0.98"/>
<circle cx="459.14" cy="320.74" r="2.236" color="#482071" style="--a:0.98"/>
<circle cx="448.21" cy="320.7" r="2.236" color="#482071" style="--a:0.98"/>
<circle cx="426.79" cy="313.02" r="2.236" color="#481d6f" style="--a:0.98"/>
<circle cx="512.29" cy="291.38" r="2.236" color="#481467" style="--a:0.98"/>
<circle cx="406" cy="301.04" r="2.236" color="#48186a" style="--a:0.98"/>
<circle cx="470.03" cy="315.17" r="2.236" color="#481d6f" style="--a:0.98"/>
<circle cx="415.92" cy="308.38" r="2.236" color="#481b6d" style="--a:0.98"/>
<circle cx="437.37" cy="314.6" r="2.236" color="#481d6f" style="--a:0.98"/>
<circle cx="459.04" cy="314.6" r="2.236" color="#481d6f" style="--a:0.98"/>
<circle cx="396.18" cy="290.03" r="2.236" color="#481467" style="--a:0.98"/>
<circle cx="502.08" cy="297.79" r="2.236" color="#481769" style="--a:0.98"/>
<circle cx="448.21" cy="314.74" r="2.236" color="#481d6f" style="--a:0.98"/>
<circle cx="480.82" cy="309.5" r="2.236" color="#481b6d" style="--a:0.98"/>
<circle cx="491.45" cy="303.56" r="2.236" color="#481a6c" style="--a:0.98"/>
<circle cx="416.33" cy="302.36" r="2.236" color="#48186a" style="--a:0.98"/>
<circle cx="405.93" cy="296.72" r="2.236" color="#481668" style="--a:0.98"/>
<circle cx="426.55" cy="309.47" r="2.236" color="#481b6d" style="--a:0.98"/>
<circle cx="470.05" cy="310.41" r="2.236" color="#481b6d" style="--a:0.99"/>
<circle cx="502.16" cy="293.44" r="2.236" color="#481467" style="--a:0.99"/>
<circle cx="437.34" cy="310.16" r="2.236" color="#481b6d" style="--a:0.99"/>
<circle cx="459.15" cy="310.91" r="2.236" color="#481b6d" style="--a:0.99"/>
<circle cx="448.21" cy="310.63" r="2.236" color="#481b6d" style="--a:0.99"/>
<circle cx="481.03" cy="305.47" r="2.236" color="#481a6c" style="--a:0.99"/>
<circle cx="491.8" cy="299.79" r="2.236" color="#481769" style="--a:0.99"/>
<circle cx="426.62" cy="304.45" r="2.236" color="#48186a" style="--a:0.99"/>
<circle cx="405.55" cy="293.21" r="2.236" color="#481467" style="--a:0.99"/>
<circle cx="416.02" cy="298.88" r="2.236" color="#481769" style="--a:0.99"/>
<circle cx="470.17" cy="306.28" r="2.236" color="#481a6c" style="--a:0.99"/>
<circle cx="437.31" cy="305.72" r="2.236" color="#48186a" style="--a:0.99"/>
<circle cx="459.13" cy="306" r="2.236" color="#48186a" style="--a:0.99"/>
<circle cx="492.06" cy="295.88" r="2.236" color="#481467" style="--a:0.99"/>
<circle cx="481.26" cy="301.58" r="2.236" color="#481769" style="--a:0.99"/>
<circle cx="448.21" cy="306.77" r="2.236" color="#48186a" style="--a:0.99"/>
<circle cx="426.47" cy="300.64" r="2.236" color="#481769" style="--a:0.99"/>
<circle cx="415.89" cy="294.85" r="2.236" color="#481467" style="--a:0.99"/>
<circle cx="470.22" cy="301.93" r="2.236" color="#481769" style="--a:0.99"/>
<circle cx="437.28" cy="301.54" r="2.236" color="#481769" style="--a:0.99"/>
<circle cx="481.14" cy="296.7" r="2.236" color="#481467" style="--a:1"/>
<circle cx="459.22" cy="302.3" r="2.236" color="#481769" style="--a:1"/>
<circle cx="448.21" cy="302.34" r="2.236" color="#481769" style="--a:1"/>
<circle cx="426.29" cy="297.06" r="2.236" color="#481467" style="--a:1"/>
<circle cx="470.2" cy="297.35" r="2.236" color="#481467" style="--a:1"/>
<circle cx="437.24" cy="297.46" r="2.236" color="#481467" style="--a:1"/>
<circle cx="459.27" cy="298.25" r="2.236" color="#481467" style="--a:1"/>
<circle cx="448.21" cy="298.14" r="2.236" color="#481467" style="--a:1"/>
</g>
<g id="text_26">
<text style="font-size: 12px; font-family: 'DejaVu Sans', sans-serif; text-anchor: middle" x="442.8" y="71.76" transform="rotate(-0 442.8 71.76)">LiDAR Point 3D Coordinate Graph</text>
</g>
<g id="legend_1" transform="translate(0,0)">
<g id="patch_6" transform="translate(0.5,0.58)">
<path d="M 568.376875 100.438125 
L 625.88 100.438125 
Q 627.88 100.438125 627.88 98.438125 
L 627.88 84.76 
Q 627.88 82.76 625.88 82.76 
L 568.376875 82.76 
Q 566.376875 82.76 566.376875 84.76 
L 566.376875 98.438125 
Q 566.376875 100.438125 568.376875 100.438125 
z
" style="fill: #ffffff; opacity: 0.8; stroke: #cccccc; stroke-linejoin: miter"/>
</g>
<g id="Path3DCollection_2">
<path d="M 580.376875 93.969505 
C 580.969887 93.969505 581.538691 93.733899 581.958014 93.314576 
C 582.377337 92.895253 582.612943 92.32645 582.612943 91.733438 
C 582.612943 91.140425 582.377337 90.571622 581.958014 90.152299 
C 581.538691 89.732976 580.969887 89.49737 580.376875 89.49737 
C 579.783863 89.49737 579.215059 89.732976 578.795736 90.152299 
C 578.376413 90.571622 578.140807 91.140425 578.140807 91.733438 
C 578.140807 92.32645 578.376413 92.895253 578.795736 93.314576 
C 579.215059 93.733899 579.783863 93.969505 580.376875 93.969505 
z
" style="fill: #481668; stroke: #481668"/>
</g>
<g id="text_27">
<text style="font-size: 10px; font-family: 'DejaVu Sans', sans-serif; text-anchor: start" x="598.376875" y="94.358438" transform="rotate(-0 598.376875 94.358438)">point</text>
</g>
</g>
</g>
<g id="axes_2">
<g id="patch_7">
<path d="M 205.9200 576.7200 
L 300.9600 576.7200 
L 300.9600 481.6800 
L 205.9200 481.6800 
z
" style="fill: #ffffff"/>
</g>
<defs>
<path id="mc5a0bc1600" d="M 0 3 
C 0.795609 3 1.55874 2.683901 2.12132 2.12132 
C 2.683901 1.55874 3 0.795609 3 0 
C 3 -0.795609 2.683901 -1.55874 2.12132 -2.12132 
C 1.55874 -2.683901 0.795609 -3 0 -3 
C -0.795609 -3 -1.55874 -2.683901 -2.12132 -2.12132 
C -2.683901 -1.55874 -3 -0.795609 -3 0 
C -3 0.795609 -2.683901 1.55874 -2.12132 2.12132 
C -1.55874 2.683901 -0.795609 3 0 3 
z
" style="stroke: #90ee90"/>
</defs><g id="pts2d" clip-path="url(#p9150f11f40)">
<circle cx="301.76" cy="529.27" r="3"/>
<circle cx="301.64" cy="525.06" r="3"/>
<circle cx="301.41" cy="520.84" r="3"/>
<circle cx="300.72" cy="516.64" r="3"/>
<circle cx="299.67" cy="512.49" r="3"/>
<circle cx="297.97" cy="508.56" r="3"/>
<circle cx="295.98" cy="504.78" r="3"/>
<circle cx="293.72" cy="501.15" r="3"/>
<circle cx="291.36" cy="497.55" r="3"/>
<circle cx="288.6" cy="494.24" r="3"/>
<circle cx="285.29" cy="491.47" r="3"/>
<circle cx="281.74" cy="489.04" r="3"/>
<circle cx="278.15" cy="486.69" r="3"/>
<circle cx="274.52" cy="484.33" r="3"/>
<circle cx="270.43" cy="482.93" r="3"/>
<circle cx="266.23" cy="481.99" r="3"/>
<circle cx="262.1" cy="480.85" r="3"/>
<circle cx="257.83" cy="480.55" r="3"/>
<circle cx="253.57" cy="480.36" r="3"/>
<circle cx="249.31" cy="480.63" r="3"/>
<circle cx="245.11" cy="481.34" r="3"/>
<circle cx="240.95" cy="482.18" r="3"/>
<circle cx="236.98" cy="483.69" r="3"/>
<circle cx="233.17" cy="485.53" r="3"/>
<circle cx="229.43" cy="487.47" r="3"/>
<circle cx="225.73" cy="489.52" r="3"/>
<circle cx="222.52" cy="492.27" r="3"/>
<circle cx="219.12" cy="494.82" r="3"/>
<circle cx="216.18" cy="497.9" r="3"/>
<circle cx="213.32" cy="501.09" r="3"/>
<circle cx="211" cy="504.69" r="3"/>
<circle cx="208.81" cy="508.4" r="3"/>
<circle cx="207.16" cy="512.38" r="3"/>
<circle cx="205.89" cy="516.5" r="3"/>
<circle cx="205.06" cy="520.72" r="3"/>
<circle cx="204.36" cy="524.97" r="3"/>
<circle cx="241.91" cy="572.78" r="3"/>
<circle cx="245.68" cy="574.01" r="3"/>
<circle cx="249.63" cy="574.3" r="3"/>
<circle cx="253.57" cy="574.69" r="3"/>
<circle cx="257.53" cy="574.54" r="3"/>
<circle cx="261.54" cy="574.51" r="3"/>
<circle cx="265.45" cy="573.63" r="3"/>
<circle cx="269.43" cy="572.85" r="3"/>
<circle cx="273.1" cy="571.16" r="3"/>
<circle cx="276.77" cy="569.46" r="3"/>
<circle cx="280.28" cy="567.42" r="3"/>
<circle cx="283.46" cy="564.89" r="3"/>
<circle cx="286.63" cy="562.34" r="3"/>
<circle cx="289.7" cy="559.6" r="3"/>
<circle cx="292.12" cy="556.27" r="3"/>
<circle cx="294.56" cy="552.94" r="3"/>
<circle cx="296.6" cy="549.34" r="3"/>
<circle cx="298.45" cy="545.61" r="3"/>
<circle cx="299.72" cy="541.64" r="3"/>
<circle cx="300.82" cy="537.6" r="3"/>
<circle cx="301.6" cy="533.47" r="3"/>
<circle cx="301.78" cy="529.27" r="3"/>
<circle cx="301.59" cy="525.07" r="3"/>
<circle cx="301.46" cy="520.83" r="3"/>
<circle cx="300.32" cy="516.74" r="3"/>
<circle cx="299.18" cy="512.67" r="3"/>
<circle cx="297.65" cy="508.71" r="3"/>
<circle cx="296.1" cy="504.72" r="3"/>
<circle cx="293.69" cy="501.18" r="3"/>
<circle cx="291.06" cy="497.81" r="3"/>
<circle cx="288.2" cy="494.63" r="3"/>
<circle cx="285.24" cy="491.52" r="3"/>
<circle cx="281.71" cy="489.08" r="3"/>
<circle cx="278.09" cy="486.79" r="3"/>
<circle cx="274.42" cy="484.54" r="3"/>
<circle cx="270.34" cy="483.19" r="3"/>
<circle cx="266.29" cy="481.79" r="3"/>
<circle cx="262.1" cy="480.86" r="3"/>
<circle cx="257.84" cy="480.44" r="3"/>
<circle cx="253.57" cy="480.27" r="3"/>
<circle cx="249.28" cy="480.32" r="3"/>
<circle cx="245.1" cy="481.28" r="3"/>
<circle cx="241.02" cy="482.44" r="3"/>
<circle cx="237.06" cy="483.92" r="3"/>
<circle cx="233.12" cy="485.42" r="3"/>
<circle cx="229.46" cy="487.52" r="3"/>
<circle cx="225.74" cy="489.53" r="3"/>
<circle cx="222.33" cy="492.05" r="3"/>
<circle cx="219.07" cy="494.78" r="3"/>
<circle cx="216.06" cy="497.8" r="3"/>
<circle cx="213.26" cy="501.05" r="3"/>
<circle cx="210.68" cy="504.51" r="3"/>
<circle cx="208.75" cy="508.37" r="3"/>
<circle cx="207.01" cy="512.33" r="3"/>
<circle cx="205.4" cy="516.37" r="3"/>
<circle cx="204.67" cy="520.65" r="3"/>
<circle cx="204.41" cy="524.97" r="3"/>
<circle cx="230.81" cy="568.69" r="3"/>
<circle cx="234.54" cy="570.07" r="3"/>
<circle cx="238.08" cy="571.82" r="3"/>
<circle cx="241.86" cy="572.96" r="3"/>
<circle cx="245.72" cy="573.74" r="3"/>
<circle cx="249.62" cy="574.33" r="3"/>
<circle cx="253.57" cy="574.75" r="3"/>
<circle cx="257.54" cy="574.75" r="3"/>
<circle cx="261.48" cy="574.17" r="3"/>
<circle cx="265.42" cy="573.52" r="3"/>
<circle cx="269.31" cy="572.54" r="3"/>
<circle cx="273.05" cy="571.07" r="3"/>
<circle cx="276.74" cy="569.42" r="3"/>
<circle cx="280.2" cy="567.31" r="3"/>
<circle cx="283.52" cy="564.97" r="3"/>
<circle cx="286.79" cy="562.5" r="3"/>
<circle cx="289.54" cy="559.46" r="3"/>
<circle cx="292.11" cy="556.26" r="3"/>
<circle cx="294.54" cy="552.93" r="3"/>
<circle cx="296.36" cy="549.23" r="3"/>
<circle cx="298.19" cy="545.51" r="3"/>
<circle cx="299.78" cy="541.65" r="3"/>
<circle cx="300.82" cy="537.6" r="3"/>
<circle cx="301.68" cy="533.48" r="3"/>
<circle cx="301.64" cy="529.27" r="3"/>
<circle cx="301.37" cy="525.09" r="3"/>
<circle cx="301.51" cy="520.82" r="3"/>
<circle cx="300.59" cy="516.67" r="3"/>
<circle cx="299.1" cy="512.7" r="3"/>
<circle cx="297.94" cy="508.58" r="3"/>
<circle cx="295.87" cy="504.84" r="3"/>
<circle cx="293.42" cy="501.37" r="3"/>
<circle cx="291.07" cy="497.8" r="3"/>
<circle cx="288.22" cy="494.62" r="3"/>
<circle cx="285.32" cy="491.43" r="3"/>
<circle cx="281.7" cy="489.09" r="3"/>
<circle cx="278.15" cy="486.69" r="3"/>
<circle cx="274.35" cy="484.71" r="3"/>
<circle cx="270.37" cy="483.09" r="3"/>
<circle cx="266.26" cy="481.9" r="3"/>
<circle cx="262.11" cy="480.83" r="3"/>
<circle cx="257.86" cy="480.18" r="3"/>
<circle cx="253.57" cy="480.14" r="3"/>
<circle cx="249.31" cy="480.65" r="3"/>
<circle cx="245.11" cy="481.34" r="3"/>
<circle cx="240.94" cy="482.16" r="3"/>
<circle cx="236.97" cy="483.68" r="3"/>
<circle cx="233.11" cy="485.41" r="3"/>
<circle cx="229.52" cy="487.63" r="3"/>
<circle cx="225.52" cy="489.22" r="3"/>
<circle cx="222.11" cy="491.79" r="3"/>
<circle cx="219.04" cy="494.74" r="3"/>
<circle cx="215.76" cy="497.54" r="3"/>
<circle cx="212.9" cy="500.79" r="3"/>
<circle cx="210.9" cy="504.64" r="3"/>
<circle cx="208.63" cy="508.32" r="3"/>
<circle cx="206.93" cy="512.3" r="3"/>
<circle cx="205.44" cy="516.38" r="3"/>
<circle cx="204.59" cy="520.64" r="3"/>
<circle cx="204.01" cy="524.94" r="3"/>
<circle cx="204.09" cy="529.27" r="3"/>
<circle cx="204.75" cy="533.54" r="3"/>
<circle cx="205.99" cy="537.66" r="3"/>
<circle cx="208.02" cy="541.47" r="3"/>
<circle cx="209.85" cy="545.18" r="3"/>
<circle cx="211.38" cy="548.94" r="3"/>
<circle cx="214.23" cy="551.98" r="3"/>
<circle cx="216.38" cy="555.31" r="3"/>
<circle cx="218.77" cy="558.47" r="3"/>
<circle cx="221.44" cy="561.4" r="3"/>
<circle cx="224.33" cy="564.11" r="3"/>
<circle cx="227.55" cy="566.42" r="3"/>
<circle cx="231" cy="568.35" r="3"/>
<circle cx="234.4" cy="570.38" r="3"/>
<circle cx="238.06" cy="571.87" r="3"/>
<circle cx="241.76" cy="573.34" r="3"/>
<circle cx="245.69" cy="573.94" r="3"/>
<circle cx="249.63" cy="574.3" r="3"/>
<circle cx="253.57" cy="574.59" r="3"/>
<circle cx="257.56" cy="574.9" r="3"/>
<circle cx="261.48" cy="574.16" r="3"/>
<circle cx="265.32" cy="573.16" r="3"/>
<circle cx="269.23" cy="572.31" r="3"/>
<circle cx="273.01" cy="570.98" r="3"/>
<circle cx="276.74" cy="569.41" r="3"/>
<circle cx="280.03" cy="567.06" r="3"/>
<circle cx="283.49" cy="564.93" r="3"/>
<circle cx="286.61" cy="562.32" r="3"/>
<circle cx="289.3" cy="559.26" r="3"/>
<circle cx="291.98" cy="556.17" r="3"/>
<circle cx="294.6" cy="552.96" r="3"/>
<circle cx="296.65" cy="549.36" r="3"/>
<circle cx="298.27" cy="545.54" r="3"/>
<circle cx="299.59" cy="541.6" r="3"/>
<circle cx="300.78" cy="537.6" r="3"/>
<circle cx="301.28" cy="533.45" r="3"/>
<circle cx="301.52" cy="529.27" r="3"/>
<circle cx="301.36" cy="525.09" r="3"/>
<circle cx="301.09" cy="520.89" r="3"/>
<circle cx="300.3" cy="516.75" r="3"/>
<circle cx="299.58" cy="512.52" r="3"/>
<circle cx="297.63" cy="508.73" r="3"/>
<circle cx="295.96" cy="504.79" r="3"/>
<circle cx="293.76" cy="501.13" r="3"/>
<circle cx="291.03" cy="497.83" r="3"/>
<circle cx="288.36" cy="494.48" r="3"/>
<circle cx="284.89" cy="491.94" r="3"/>
<circle cx="281.75" cy="489.01" r="3"/>
<circle cx="278.22" cy="486.57" r="3"/>
<circle cx="274.19" cy="485.04" r="3"/>
<circle cx="270.33" cy="483.22" r="3"/>
<circle cx="266.34" cy="481.6" r="3"/>
<circle cx="262.09" cy="480.9" r="3"/>
<circle cx="257.83" cy="480.51" r="3"/>
<circle cx="253.57" cy="480.26" r="3"/>
<circle cx="249.3" cy="480.54" r="3"/>
<circle cx="245.05" cy="480.98" r="3"/>
<circle cx="240.91" cy="482.04" r="3"/>
<circle cx="236.92" cy="483.53" r="3"/>
<circle cx="233.07" cy="485.32" r="3"/>
<circle cx="229.33" cy="487.3" r="3"/>
<circle cx="225.54" cy="489.25" r="3"/>
<circle cx="222.15" cy="491.83" r="3"/>
<circle cx="218.86" cy="494.56" r="3"/>
<circle cx="215.92" cy="497.68" r="3"/>
<circle cx="213.3" cy="501.08" r="3"/>
<circle cx="210.75" cy="504.55" r="3"/>
<circle cx="208.55" cy="508.28" r="3"/>
<circle cx="206.96" cy="512.31" r="3"/>
<circle cx="205.79" cy="516.47" r="3"/>
<circle cx="204.94" cy="520.7" r="3"/>
<circle cx="204.07" cy="524.94" r="3"/>
<circle cx="204.22" cy="529.27" r="3"/>
<circle cx="205.13" cy="533.51" r="3"/>
<circle cx="206.35" cy="537.6" r="3"/>
<circle cx="207.82" cy="541.53" r="3"/>
<circle cx="209.57" cy="545.29" r="3"/>
<circle cx="211.51" cy="548.88" r="3"/>
<circle cx="213.84" cy="552.21" r="3"/>
<circle cx="216.01" cy="555.57" r="3"/>
<circle cx="218.57" cy="558.63" r="3"/>
<circle cx="221.44" cy="561.4" r="3"/>
<circle cx="224.37" cy="564.07" r="3"/>
<circle cx="227.48" cy="566.52" r="3"/>
<circle cx="230.91" cy="568.52" r="3"/>
<circle cx="234.36" cy="570.46" r="3"/>
<circle cx="237.99" cy="572.07" r="3"/>
<circle cx="241.85" cy="572.98" r="3"/>
<circle cx="245.73" cy="573.72" r="3"/>
<circle cx="249.59" cy="574.75" r="3"/>
<circle cx="253.57" cy="574.8" r="3"/>
<circle cx="257.55" cy="574.8" r="3"/>
<circle cx="261.46" cy="574.05" r="3"/>
<circle cx="265.48" cy="573.75" r="3"/>
<circle cx="269.3" cy="572.5" r="3"/>
<circle cx="273" cy="570.94" r="3"/>
<circle cx="276.6" cy="569.17" r="3"/>
<circle cx="280.11" cy="567.18" r="3"/>
<circle cx="283.37" cy="564.79" r="3"/>
<circle cx="286.45" cy="562.15" r="3"/>
<circle cx="289.2" cy="559.17" r="3"/>
<circle cx="292.11" cy="556.26" r="3"/>
<circle cx="294.27" cy="552.77" r="3"/>
<circle cx="296.33" cy="549.21" r="3"/>
<circle cx="298.06" cy="545.47" r="3"/>
<circle cx="299.08" cy="541.47" r="3"/>
<circle cx="300.58" cy="537.56" r="3"/>
<circle cx="301.15" cy="533.43" r="3"/>
<circle cx="301.37" cy="529.27" r="3"/>
<circle cx="301.4" cy="525.09" r="3"/>
<circle cx="300.8" cy="520.94" r="3"/>
<circle cx="300.37" cy="516.73" r="3"/>
<circle cx="298.94" cy="512.76" r="3"/>
<circle cx="297.4" cy="508.83" r="3"/>
<circle cx="295.56" cy="505.03" r="3"/>
<circle cx="293.54" cy="501.28" r="3"/>
<circle cx="291.11" cy="497.77" r="3"/>
<circle cx="288.09" cy="494.75" r="3"/>
<circle cx="284.88" cy="491.95" r="3"/>
<circle cx="281.83" cy="488.9" r="3"/>
<circle cx="278.02" cy="486.91" r="3"/>
<circle cx="274.44" cy="484.51" r="3"/>
<circle cx="270.38" cy="483.07" r="3"/>
<circle cx="266.26" cy="481.9" r="3"/>
<circle cx="262.08" cy="480.98" r="3"/>
<circle cx="257.86" cy="480.22" r="3"/>
<circle cx="253.57" cy="479.99" r="3"/>
<circle cx="249.29" cy="480.45" r="3"/>
<circle cx="245.03" cy="480.85" r="3"/>
<circle cx="240.8" cy="481.64" r="3"/>
<circle cx="236.89" cy="483.44" r="3"/>
<circle cx="233.08" cy="485.34" r="3"/>
<circle cx="229.38" cy="487.37" r="3"/>
<circle cx="225.78" cy="489.59" r="3"/>
<circle cx="222.25" cy="491.95" r="3"/>
<circle cx="219.03" cy="494.74" r="3"/>
<circle cx="216.14" cy="497.87" r="3"/>
<circle cx="213.13" cy="500.96" r="3"/>
<circle cx="211.23" cy="504.83" r="3"/>
<circle cx="209.03" cy="508.5" r="3"/>
<circle cx="206.77" cy="512.24" r="3"/>
<circle cx="205.65" cy="516.43" r="3"/>
<circle cx="204.81" cy="520.67" r="3"/>
<circle cx="204.25" cy="524.96" r="3"/>
<circle cx="204.05" cy="529.27" r="3"/>
<circle cx="205.12" cy="533.51" r="3"/>
<circle cx="206.36" cy="537.59" r="3"/>
<circle cx="208.1" cy="541.45" r="3"/>
<circle cx="209.57" cy="545.28" r="3"/>
<circle cx="211.68" cy="548.8" r="3"/>
<circle cx="213.94" cy="552.15" r="3"/>
<circle cx="216.17" cy="555.45" r="3"/>
<circle cx="218.56" cy="558.64" r="3"/>
<circle cx="221.35" cy="561.49" r="3"/>
<circle cx="224.17" cy="564.31" r="3"/>
<circle cx="227.61" cy="566.34" r="3"/>
<circle cx="230.84" cy="568.63" r="3"/>
<circle cx="234.2" cy="570.8" r="3"/>
<circle cx="238.02" cy="571.99" r="3"/>
<circle cx="241.74" cy="573.41" r="3"/>
<circle cx="245.63" cy="574.28" r="3"/>
<circle cx="249.58" cy="574.87" r="3"/>
<circle cx="253.57" cy="574.98" r="3"/>
<circle cx="257.52" cy="574.45" r="3"/>
<circle cx="261.49" cy="574.22" r="3"/>
<circle cx="265.39" cy="573.42" r="3"/>
<circle cx="269.15" cy="572.09" r="3"/>
<circle cx="272.96" cy="570.86" r="3"/>
<circle cx="276.49" cy="568.97" r="3"/>
<circle cx="279.88" cy="566.86" r="3"/>
<circle cx="283.38" cy="564.81" r="3"/>
<circle cx="286.43" cy="562.13" r="3"/>
<circle cx="289.18" cy="559.16" r="3"/>
<circle cx="291.73" cy="555.99" r="3"/>
<circle cx="294.11" cy="552.68" r="3"/>
<circle cx="296.17" cy="549.14" r="3"/>
<circle cx="297.88" cy="545.4" r="3"/>
<circle cx="299.34" cy="541.54" r="3"/>
<circle cx="300.31" cy="537.51" r="3"/>
<circle cx="301.17" cy="533.44" r="3"/>
<circle cx="261.29" cy="529.27" r="3"/>
<circle cx="261.1" cy="528.61" r="3"/>
<circle cx="261.01" cy="527.96" r="3"/>
<circle cx="260.99" cy="527.28" r="3"/>
<circle cx="260.39" cy="526.79" r="3"/>
<circle cx="260.51" cy="526.03" r="3"/>
<circle cx="260.47" cy="525.28" r="3"/>
<circle cx="259.65" cy="525.01" r="3"/>
<circle cx="259.29" cy="524.47" r="3"/>
<circle cx="258.85" cy="523.98" r="3"/>
<circle cx="258.56" cy="523.32" r="3"/>
<circle cx="257.9" cy="523.09" r="3"/>
<circle cx="257.58" cy="522.31" r="3"/>
<circle cx="256.8" cy="522.34" r="3"/>
<circle cx="256.16" cy="522.13" r="3"/>
<circle cx="255.5" cy="522.04" r="3"/>
<circle cx="254.92" cy="521.57" r="3"/>
<circle cx="254.25" cy="521.41" r="3"/>
<circle cx="253.57" cy="521.55" r="3"/>
<circle cx="252.87" cy="521.37" r="3"/>
<circle cx="252.19" cy="521.47" r="3"/>
<circle cx="251.56" cy="521.78" r="3"/>
<circle cx="250.93" cy="522.03" r="3"/>
<circle cx="250.36" cy="522.39" r="3"/>
<circle cx="249.7" cy="522.58" r="3"/>
<circle cx="249.19" cy="523.02" r="3"/>
<circle cx="248.45" cy="523.17" r="3"/>
<circle cx="248.03" cy="523.73" r="3"/>
<circle cx="247.7" cy="524.35" r="3"/>
<circle cx="247.32" cy="524.9" r="3"/>
<circle cx="246.84" cy="525.39" r="3"/>
<circle cx="246.42" cy="525.94" r="3"/>
<circle cx="246.29" cy="526.62" r="3"/>
<circle cx="245.95" cy="527.23" r="3"/>
<circle cx="246.07" cy="527.95" r="3"/>
<circle cx="245.86" cy="528.6" r="3"/>
<circle cx="211.54" cy="548.87" r="3"/>
<circle cx="214.04" cy="552.09" r="3"/>
<circle cx="215.52" cy="555.91" r="3"/>
<circle cx="218.24" cy="558.92" r="3"/>
<circle cx="221.1" cy="561.73" r="3"/>
<circle cx="224.1" cy="564.39" r="3"/>
<circle cx="227.45" cy="566.57" r="3"/>
<circle cx="230.8" cy="568.7" r="3"/>
<circle cx="234.23" cy="570.74" r="3"/>
<circle cx="237.9" cy="572.3" r="3"/>
<circle cx="241.71" cy="573.5" r="3"/>
<circle cx="245.65" cy="574.18" r="3"/>
<circle cx="249.61" cy="574.54" r="3"/>
<circle cx="253.57" cy="574.82" r="3"/>
<circle cx="257.57" cy="575.05" r="3"/>
<circle cx="261.57" cy="574.67" r="3"/>
<circle cx="265.39" cy="573.4" r="3"/>
<circle cx="269.21" cy="572.25" r="3"/>
<circle cx="273.13" cy="571.23" r="3"/>
<circle cx="276.69" cy="569.33" r="3"/>
<circle cx="280.16" cy="567.25" r="3"/>
<circle cx="283.09" cy="564.46" r="3"/>
<circle cx="286.32" cy="562.02" r="3"/>
<circle cx="289.12" cy="559.11" r="3"/>
<circle cx="291.86" cy="556.09" r="3"/>
<circle cx="293.73" cy="552.46" r="3"/>
<circle cx="296.47" cy="549.28" r="3"/>
<circle cx="297.94" cy="545.42" r="3"/>
<circle cx="299.36" cy="541.54" r="3"/>
<circle cx="299.97" cy="537.45" r="3"/>
<circle cx="300.97" cy="533.42" r="3"/>
<circle cx="260.86" cy="529.27" r="3"/>
<circle cx="261.29" cy="528.59" r="3"/>
<circle cx="260.79" cy="528" r="3"/>
<circle cx="260.97" cy="527.29" r="3"/>
<circle cx="260.52" cy="526.74" r="3"/>
<circle cx="260.64" cy="525.97" r="3"/>
<circle cx="260.4" cy="525.32" r="3"/>
<circle cx="259.9" cy="524.84" r="3"/>
<circle cx="259.39" cy="524.38" r="3"/>
<circle cx="258.85" cy="523.99" r="3"/>
<circle cx="258.5" cy="523.39" r="3"/>
<circle cx="258.11" cy="522.78" r="3"/>
<circle cx="257.3" cy="522.81" r="3"/>
<circle cx="256.67" cy="522.62" r="3"/>
<circle cx="256.26" cy="521.88" r="3"/>
<circle cx="255.51" cy="522.02" r="3"/>
<circle cx="254.9" cy="521.71" r="3"/>
<circle cx="254.23" cy="521.72" r="3"/>
<circle cx="253.57" cy="521.68" r="3"/>
<circle cx="252.91" cy="521.81" r="3"/>
<circle cx="252.26" cy="521.87" r="3"/>
<circle cx="251.69" cy="522.28" r="3"/>
<circle cx="251.02" cy="522.28" r="3"/>
<circle cx="250.44" cy="522.57" r="3"/>
<circle cx="249.69" cy="522.55" r="3"/>
<circle cx="249.27" cy="523.14" r="3"/>
<circle cx="248.7" cy="523.48" r="3"/>
<circle cx="248.44" cy="524.15" r="3"/>
<circle cx="247.77" cy="524.41" r="3"/>
<circle cx="247.16" cy="524.79" r="3"/>
<circle cx="247" cy="525.48" r="3"/>
<circle cx="246.58" cy="526.02" r="3"/>
<circle cx="246.53" cy="526.71" r="3"/>
<circle cx="246.38" cy="527.35" r="3"/>
<circle cx="245.96" cy="527.93" r="3"/>
<circle cx="246.13" cy="528.62" r="3"/>
<circle cx="210.87" cy="549.18" r="3"/>
<circle cx="213.28" cy="552.53" r="3"/>
<circle cx="215.64" cy="555.83" r="3"/>
<circle cx="218.15" cy="558.99" r="3"/>
<circle cx="221.23" cy="561.61" r="3"/>
<circle cx="224.03" cy="564.47" r="3"/>
<circle cx="227.49" cy="566.51" r="3"/>
<circle cx="230.64" cy="568.97" r="3"/>
<circle cx="234.37" cy="570.43" r="3"/>
<circle cx="237.98" cy="572.08" r="3"/>
<circle cx="241.72" cy="573.48" r="3"/>
<circle cx="245.66" cy="574.08" r="3"/>
<circle cx="249.57" cy="574.94" r="3"/>
<circle cx="253.57" cy="575.07" r="3"/>
<circle cx="257.56" cy="574.9" r="3"/>
<circle cx="261.58" cy="574.75" r="3"/>
<circle cx="265.28" cy="573" r="3"/>
<circle cx="269.06" cy="571.84" r="3"/>
<circle cx="273.07" cy="571.09" r="3"/>
<circle cx="276.74" cy="569.41" r="3"/>
<circle cx="280.42" cy="567.63" r="3"/>
<circle cx="283.45" cy="564.89" r="3"/>
<circle cx="286.55" cy="562.25" r="3"/>
<circle cx="288.94" cy="558.95" r="3"/>
<circle cx="291.96" cy="556.16" r="3"/>
<circle cx="294.25" cy="552.76" r="3"/>
<circle cx="295.73" cy="548.93" r="3"/>
<circle cx="297.47" cy="545.25" r="3"/>
<circle cx="299.1" cy="541.47" r="3"/>
<circle cx="300.27" cy="537.51" r="3"/>
<circle cx="299.85" cy="533.32" r="3"/>
<circle cx="260.86" cy="529.27" r="3"/>
<circle cx="260.78" cy="528.64" r="3"/>
<circle cx="260.67" cy="528.02" r="3"/>
<circle cx="260.72" cy="527.35" r="3"/>
<circle cx="260.38" cy="526.79" r="3"/>
<circle cx="260.1" cy="526.22" r="3"/>
<circle cx="259.87" cy="525.63" r="3"/>
<circle cx="259.62" cy="525.03" r="3"/>
<circle cx="259.04" cy="524.68" r="3"/>
<circle cx="258.77" cy="524.06" r="3"/>
<circle cx="258.3" cy="523.63" r="3"/>
<circle cx="257.96" cy="522.99" r="3"/>
<circle cx="257.26" cy="522.87" r="3"/>
<circle cx="256.58" cy="522.8" r="3"/>
<circle cx="256.1" cy="522.31" r="3"/>
<circle cx="255.48" cy="522.12" r="3"/>
<circle cx="254.81" cy="522.24" r="3"/>
<circle cx="254.16" cy="522.47" r="3"/>
<circle cx="253.57" cy="521.77" r="3"/>
<circle cx="252.93" cy="521.97" r="3"/>
<circle cx="252.31" cy="522.14" r="3"/>
<circle cx="251.67" cy="522.19" r="3"/>
<circle cx="250.97" cy="522.14" r="3"/>
<circle cx="250.32" cy="522.32" r="3"/>
<circle cx="249.92" cy="522.96" r="3"/>
<circle cx="249.19" cy="523.02" r="3"/>
<circle cx="248.84" cy="523.64" r="3"/>
<circle cx="248.36" cy="524.06" r="3"/>
<circle cx="247.94" cy="524.55" r="3"/>
<circle cx="247.54" cy="525.05" r="3"/>
<circle cx="247.21" cy="525.6" r="3"/>
<circle cx="247" cy="526.21" r="3"/>
<circle cx="246.64" cy="526.75" r="3"/>
<circle cx="246.63" cy="527.41" r="3"/>
<circle cx="246.22" cy="527.98" r="3"/>
<circle cx="246.34" cy="528.64" r="3"/>
<circle cx="211.38" cy="548.94" r="3"/>
<circle cx="213.98" cy="552.13" r="3"/>
<circle cx="215.51" cy="555.92" r="3"/>
<circle cx="217.86" cy="559.23" r="3"/>
<circle cx="220.5" cy="562.34" r="3"/>
<circle cx="223.99" cy="564.51" r="3"/>
<circle cx="227.29" cy="566.8" r="3"/>
<circle cx="230.88" cy="568.57" r="3"/>
<circle cx="234.01" cy="571.22" r="3"/>
<circle cx="237.68" cy="572.91" r="3"/>
<circle cx="241.8" cy="573.17" r="3"/>
<circle cx="245.61" cy="574.38" r="3"/>
<circle cx="249.58" cy="574.81" r="3"/>
<circle cx="253.57" cy="574.72" r="3"/>
<circle cx="257.46" cy="573.77" r="3"/>
<circle cx="261.48" cy="574.16" r="3"/>
<circle cx="265.48" cy="573.74" r="3"/>
<circle cx="269.04" cy="571.78" r="3"/>
<circle cx="272.82" cy="570.56" r="3"/>
<circle cx="275.88" cy="567.92" r="3"/>
<circle cx="280.3" cy="567.45" r="3"/>
<circle cx="283.38" cy="564.8" r="3"/>
<circle cx="286.31" cy="562.01" r="3"/>
<circle cx="289.02" cy="559.02" r="3"/>
<circle cx="291.46" cy="555.8" r="3"/>
<circle cx="293.94" cy="552.58" r="3"/>
<circle cx="295.85" cy="548.99" r="3"/>
<circle cx="297.56" cy="545.28" r="3"/>
<circle cx="299.01" cy="541.45" r="3"/>
<circle cx="300.11" cy="537.48" r="3"/>
<circle cx="301.38" cy="533.45" r="3"/>
<circle cx="300.25" cy="529.27" r="3"/>
<circle cx="301.03" cy="525.12" r="3"/>
<circle cx="300.22" cy="521.05" r="3"/>
<circle cx="299.22" cy="517.04" r="3"/>
<circle cx="297.56" cy="513.26" r="3"/>
<circle cx="297.42" cy="508.82" r="3"/>
<circle cx="294.93" cy="505.39" r="3"/>
<circle cx="292.89" cy="501.74" r="3"/>
<circle cx="290.88" cy="497.96" r="3"/>
<circle cx="287.57" cy="495.27" r="3"/>
<circle cx="284.89" cy="491.94" r="3"/>
<circle cx="281.55" cy="489.3" r="3"/>
<circle cx="278.22" cy="486.57" r="3"/>
<circle cx="274.48" cy="484.42" r="3"/>
<circle cx="270.21" cy="483.54" r="3"/>
<circle cx="266.4" cy="481.38" r="3"/>
<circle cx="262.1" cy="480.87" r="3"/>
<circle cx="257.86" cy="480.17" r="3"/>
<circle cx="253.57" cy="480.12" r="3"/>
<circle cx="249.24" cy="479.83" r="3"/>
<circle cx="245.11" cy="481.34" r="3"/>
<circle cx="240.79" cy="481.59" r="3"/>
<circle cx="236.54" cy="482.51" r="3"/>
<circle cx="232.85" cy="484.84" r="3"/>
<circle cx="228.53" cy="485.91" r="3"/>
<circle cx="225.63" cy="489.38" r="3"/>
<circle cx="222" cy="491.66" r="3"/>
<circle cx="219.13" cy="494.83" r="3"/>
<circle cx="210.96" cy="549.14" r="3"/>
<circle cx="213.12" cy="552.62" r="3"/>
<circle cx="216.34" cy="555.34" r="3"/>
<circle cx="217.77" cy="559.31" r="3"/>
<circle cx="221.12" cy="561.72" r="3"/>
<circle cx="223.85" cy="564.68" r="3"/>
<circle cx="227.13" cy="567.03" r="3"/>
<circle cx="230.35" cy="569.47" r="3"/>
<circle cx="233.76" cy="571.74" r="3"/>
<circle cx="237.73" cy="572.78" r="3"/>
<circle cx="241.56" cy="574.09" r="3"/>
<circle cx="245.64" cy="574.22" r="3"/>
<circle cx="249.56" cy="575.05" r="3"/>
<circle cx="253.57" cy="575.37" r="3"/>
<circle cx="257.49" cy="574.14" r="3"/>
<circle cx="261.68" cy="575.29" r="3"/>
<circle cx="265.33" cy="573.16" r="3"/>
<circle cx="269.03" cy="571.76" r="3"/>
<circle cx="273.29" cy="571.57" r="3"/>
<circle cx="277.05" cy="569.95" r="3"/>
<circle cx="279.77" cy="566.7" r="3"/>
<circle cx="283.02" cy="564.37" r="3"/>
<circle cx="287.3" cy="563" r="3"/>
<circle cx="289.09" cy="559.08" r="3"/>
<circle cx="290.82" cy="555.36" r="3"/>
<circle cx="293.63" cy="552.4" r="3"/>
<circle cx="296.74" cy="549.4" r="3"/>
<circle cx="297.85" cy="545.39" r="3"/>
<circle cx="299.26" cy="541.52" r="3"/>
<circle cx="300.52" cy="537.55" r="3"/>
<circle cx="300.94" cy="533.42" r="3"/>
<circle cx="300.64" cy="529.27" r="3"/>
<circle cx="299.97" cy="525.21" r="3"/>
<circle cx="300.6" cy="520.98" r="3"/>
<circle cx="299.08" cy="517.08" r="3"/>
<circle cx="298.49" cy="512.92" r="3"/>
<circle cx="297.85" cy="508.62" r="3"/>
<circle cx="295.47" cy="505.08" r="3"/>
<circle cx="293.12" cy="501.57" r="3"/>
<circle cx="290.66" cy="498.14" r="3"/>
<circle cx="288.14" cy="494.7" r="3"/>
<circle cx="285.13" cy="491.65" r="3"/>
<circle cx="281.15" cy="489.87" r="3"/>
<circle cx="278.05" cy="486.87" r="3"/>
<circle cx="274.63" cy="484.11" r="3"/>
<circle cx="270.47" cy="482.82" r="3"/>
<circle cx="266.18" cy="482.18" r="3"/>
<circle cx="262.05" cy="481.15" r="3"/>
<circle cx="257.77" cy="481.24" r="3"/>
<circle cx="253.57" cy="480.38" r="3"/>
<circle cx="249.2" cy="479.33" r="3"/>
<circle cx="245" cy="480.72" r="3"/>
<circle cx="240.91" cy="482.03" r="3"/>
<circle cx="236.8" cy="483.2" r="3"/>
<circle cx="232.76" cy="484.65" r="3"/>
<circle cx="228.97" cy="486.67" r="3"/>
<circle cx="225.46" cy="489.13" r="3"/>
<circle cx="222.25" cy="491.95" r="3"/>
<circle cx="218.67" cy="494.38" r="3"/>
<circle cx="215.49" cy="497.32" r="3"/>
<circle cx="213.81" cy="501.44" r="3"/>
<circle cx="211.63" cy="505.06" r="3"/>
<circle cx="209.01" cy="508.49" r="3"/>
<circle cx="208.76" cy="512.96" r="3"/>
<circle cx="207.22" cy="516.85" r="3"/>
<circle cx="206.37" cy="520.95" r="3"/>
<circle cx="205.7" cy="525.08" r="3"/>
<circle cx="205.91" cy="529.27" r="3"/>
<circle cx="206.56" cy="533.38" r="3"/>
<circle cx="206.66" cy="537.54" r="3"/>
<circle cx="208.45" cy="541.36" r="3"/>
<circle cx="210.08" cy="545.1" r="3"/>
<circle cx="211.9" cy="548.7" r="3"/>
<circle cx="212.68" cy="552.88" r="3"/>
<circle cx="216.04" cy="555.55" r="3"/>
<circle cx="217.73" cy="559.34" r="3"/>
<circle cx="220.5" cy="562.34" r="3"/>
<circle cx="223.54" cy="565.05" r="3"/>
<circle cx="227.12" cy="567.04" r="3"/>
<circle cx="230.65" cy="568.95" r="3"/>
<circle cx="234.1" cy="571.01" r="3"/>
<circle cx="237.96" cy="572.16" r="3"/>
<circle cx="241.86" cy="572.96" r="3"/>
<circle cx="245.5" cy="575.03" r="3"/>
<circle cx="249.61" cy="574.44" r="3"/>
<circle cx="253.57" cy="575.95" r="3"/>
<circle cx="257.58" cy="575.12" r="3"/>
<circle cx="261.47" cy="574.12" r="3"/>
<circle cx="265.47" cy="573.71" r="3"/>
<circle cx="269.45" cy="572.91" r="3"/>
<circle cx="272.65" cy="570.2" r="3"/>
<circle cx="276.29" cy="568.63" r="3"/>
<circle cx="279.63" cy="566.5" r="3"/>
<circle cx="283.22" cy="564.61" r="3"/>
<circle cx="286.33" cy="562.04" r="3"/>
<circle cx="288.99" cy="559" r="3"/>
<circle cx="291.22" cy="555.64" r="3"/>
<circle cx="293.56" cy="552.36" r="3"/>
<circle cx="296.31" cy="549.2" r="3"/>
<circle cx="297.97" cy="545.43" r="3"/>
<circle cx="298.86" cy="541.41" r="3"/>
<circle cx="299.16" cy="537.31" r="3"/>
<circle cx="300.8" cy="533.4" r="3"/>
<circle cx="300.81" cy="529.27" r="3"/>
<circle cx="300.76" cy="525.14" r="3"/>
<circle cx="301.08" cy="520.89" r="3"/>
<circle cx="299.88" cy="516.86" r="3"/>
<circle cx="297.94" cy="513.12" r="3"/>
<circle cx="296.5" cy="509.25" r="3"/>
<circle cx="295.72" cy="504.94" r="3"/>
<circle cx="293.08" cy="501.6" r="3"/>
<circle cx="290.89" cy="497.95" r="3"/>
<circle cx="287.77" cy="495.07" r="3"/>
<circle cx="284.48" cy="492.43" r="3"/>
<circle cx="281.58" cy="489.26" r="3"/>
<circle cx="278.37" cy="486.31" r="3"/>
<circle cx="274.32" cy="484.75" r="3"/>
<circle cx="270.16" cy="483.69" r="3"/>
<circle cx="266.25" cy="481.94" r="3"/>
<circle cx="262.07" cy="481.02" r="3"/>
<circle cx="257.87" cy="480.06" r="3"/>
<circle cx="253.57" cy="479.4" r="3"/>
<circle cx="249.17" cy="479.07" r="3"/>
<circle cx="244.96" cy="480.46" r="3"/>
<circle cx="240.81" cy="481.68" r="3"/>
<circle cx="236.63" cy="482.74" r="3"/>
<circle cx="232.66" cy="484.43" r="3"/>
<circle cx="228.95" cy="486.63" r="3"/>
<circle cx="225.22" cy="488.79" r="3"/>
<circle cx="221.85" cy="491.47" r="3"/>
<circle cx="219.13" cy="494.84" r="3"/>
<circle cx="215.68" cy="497.48" r="3"/>
<circle cx="213.5" cy="501.22" r="3"/>
<circle cx="211.57" cy="505.02" r="3"/>
<circle cx="209.07" cy="508.52" r="3"/>
<circle cx="208.01" cy="512.69" r="3"/>
<circle cx="205.82" cy="516.48" r="3"/>
<circle cx="205.65" cy="520.82" r="3"/>
<circle cx="205.45" cy="525.06" r="3"/>
<circle cx="205.83" cy="529.27" r="3"/>
<circle cx="206.01" cy="533.43" r="3"/>
<circle cx="206.12" cy="537.64" r="3"/>
<circle cx="207.92" cy="541.5" r="3"/>
<circle cx="208.65" cy="545.62" r="3"/>
<circle cx="211.67" cy="548.81" r="3"/>
<circle cx="212.69" cy="552.87" r="3"/>
<circle cx="214.79" cy="556.42" r="3"/>
<circle cx="217.6" cy="559.45" r="3"/>
<circle cx="220.58" cy="562.25" r="3"/>
<circle cx="223.35" cy="565.28" r="3"/>
<circle cx="227.2" cy="566.93" r="3"/>
<circle cx="230.67" cy="568.93" r="3"/>
<circle cx="234.03" cy="571.17" r="3"/>
<circle cx="237.6" cy="573.13" r="3"/>
<circle cx="241.6" cy="573.92" r="3"/>
<circle cx="245.6" cy="574.43" r="3"/>
<circle cx="249.55" cy="575.14" r="3"/>
<circle cx="253.57" cy="575.34" r="3"/>
<circle cx="257.51" cy="574.32" r="3"/>
<circle cx="261.28" cy="573.04" r="3"/>
<circle cx="265.3" cy="573.05" r="3"/>
<circle cx="268.99" cy="571.66" r="3"/>
<circle cx="272.83" cy="570.58" r="3"/>
<circle cx="276.22" cy="568.52" r="3"/>
<circle cx="279.68" cy="566.57" r="3"/>
<circle cx="283.28" cy="564.69" r="3"/>
<circle cx="286.19" cy="561.9" r="3"/>
<circle cx="288.93" cy="558.95" r="3"/>
<circle cx="292.14" cy="556.28" r="3"/>
<circle cx="293.53" cy="552.35" r="3"/>
<circle cx="295.53" cy="548.84" r="3"/>
<circle cx="297.95" cy="545.42" r="3"/>
<circle cx="298.18" cy="541.23" r="3"/>
<circle cx="298.93" cy="537.27" r="3"/>
<circle cx="301.03" cy="533.42" r="3"/>
<circle cx="300.72" cy="529.27" r="3"/>
<circle cx="300.81" cy="525.14" r="3"/>
<circle cx="300.44" cy="521.01" r="3"/>
<circle cx="299.81" cy="516.88" r="3"/>
<circle cx="298.08" cy="513.07" r="3"/>
<circle cx="296.82" cy="509.1" r="3"/>
<circle cx="294.6" cy="505.58" r="3"/>
<circle cx="293" cy="501.66" r="3"/>
<circle cx="290.59" cy="498.2" r="3"/>
<circle cx="287.62" cy="495.22" r="3"/>
<circle cx="284.96" cy="491.86" r="3"/>
<circle cx="282.28" cy="488.26" r="3"/>
<circle cx="277.69" cy="487.48" r="3"/>
<circle cx="274.41" cy="484.57" r="3"/>
<circle cx="270.5" cy="482.75" r="3"/>
<circle cx="266.42" cy="481.29" r="3"/>
<circle cx="262.05" cy="481.13" r="3"/>
<circle cx="257.92" cy="479.53" r="3"/>
<circle cx="253.57" cy="479.52" r="3"/>
<circle cx="249.26" cy="480.01" r="3"/>
<circle cx="244.99" cy="480.62" r="3"/>
<circle cx="240.7" cy="481.25" r="3"/>
<circle cx="236.44" cy="482.22" r="3"/>
<circle cx="232.41" cy="483.91" r="3"/>
<circle cx="228.21" cy="485.35" r="3"/>
<circle cx="225.21" cy="488.78" r="3"/>
<circle cx="221.52" cy="491.08" r="3"/>
<circle cx="218.7" cy="494.41" r="3"/>
<circle cx="215.41" cy="497.25" r="3"/>
<circle cx="213.09" cy="500.93" r="3"/>
<circle cx="211.16" cy="504.79" r="3"/>
<circle cx="209.6" cy="508.77" r="3"/>
<circle cx="207.85" cy="512.63" r="3"/>
<circle cx="206.24" cy="516.59" r="3"/>
<circle cx="204.89" cy="520.69" r="3"/>
<circle cx="204.81" cy="525.01" r="3"/>
<circle cx="205.72" cy="529.27" r="3"/>
<circle cx="205.74" cy="533.46" r="3"/>
<circle cx="206.21" cy="537.62" r="3"/>
<circle cx="207.37" cy="541.65" r="3"/>
<circle cx="208.71" cy="545.6" r="3"/>
<circle cx="210.16" cy="549.51" r="3"/>
<circle cx="212.48" cy="552.99" r="3"/>
<circle cx="215.19" cy="556.14" r="3"/>
<circle cx="218.26" cy="558.9" r="3"/>
<circle cx="220.55" cy="562.28" r="3"/>
<circle cx="224.06" cy="564.43" r="3"/>
<circle cx="226.91" cy="567.34" r="3"/>
<circle cx="230.28" cy="569.6" r="3"/>
<circle cx="234.27" cy="570.65" r="3"/>
<circle cx="237.79" cy="572.6" r="3"/>
<circle cx="241.68" cy="573.63" r="3"/>
<circle cx="245.42" cy="575.46" r="3"/>
<circle cx="249.54" cy="575.23" r="3"/>
<circle cx="253.57" cy="574.24" r="3"/>
<circle cx="257.58" cy="575.12" r="3"/>
<circle cx="261.55" cy="574.56" r="3"/>
<circle cx="265.39" cy="573.39" r="3"/>
<circle cx="269.16" cy="572.11" r="3"/>
<circle cx="273.03" cy="571.02" r="3"/>
<circle cx="276.62" cy="569.21" r="3"/>
<circle cx="279.97" cy="566.99" r="3"/>
<circle cx="282.75" cy="564.06" r="3"/>
<circle cx="285.97" cy="561.67" r="3"/>
<circle cx="288.24" cy="558.37" r="3"/>
<circle cx="290.74" cy="555.3" r="3"/>
<circle cx="293.33" cy="552.23" r="3"/>
<circle cx="295.06" cy="548.62" r="3"/>
<circle cx="296.98" cy="545.07" r="3"/>
<circle cx="299.63" cy="541.61" r="3"/>
<circle cx="299.73" cy="537.41" r="3"/>
<circle cx="299.74" cy="533.31" r="3"/>
<circle cx="299.32" cy="529.27" r="3"/>
<circle cx="299.9" cy="525.22" r="3"/>
<circle cx="299.24" cy="521.22" r="3"/>
<circle cx="298.17" cy="517.32" r="3"/>
<circle cx="298.37" cy="512.96" r="3"/>
<circle cx="296.42" cy="509.29" r="3"/>
<circle cx="295.02" cy="505.34" r="3"/>
<circle cx="293.91" cy="501.02" r="3"/>
<circle cx="290.43" cy="498.34" r="3"/>
<circle cx="287.66" cy="495.18" r="3"/>
<circle cx="284.73" cy="492.14" r="3"/>
<circle cx="281.3" cy="489.67" r="3"/>
<circle cx="277.69" cy="487.49" r="3"/>
<circle cx="274.13" cy="485.16" r="3"/>
<circle cx="270.47" cy="482.82" r="3"/>
<circle cx="266.22" cy="482.02" r="3"/>
<circle cx="261.99" cy="481.48" r="3"/>
<circle cx="257.81" cy="480.76" r="3"/>
<circle cx="253.57" cy="480.37" r="3"/>
<circle cx="249.25" cy="480" r="3"/>
<circle cx="244.93" cy="480.27" r="3"/>
<circle cx="240.67" cy="481.15" r="3"/>
<circle cx="236.4" cy="482.11" r="3"/>
<circle cx="232.61" cy="484.34" r="3"/>
<circle cx="228.53" cy="485.91" r="3"/>
<circle cx="224.98" cy="488.45" r="3"/>
<circle cx="221.43" cy="490.97" r="3"/>
<circle cx="219.07" cy="494.77" r="3"/>
<circle cx="215.15" cy="497.03" r="3"/>
<circle cx="213.59" cy="501.28" r="3"/>
<circle cx="211.21" cy="504.82" r="3"/>
<circle cx="208.54" cy="508.27" r="3"/>
<circle cx="207.49" cy="512.5" r="3"/>
<circle cx="205.37" cy="516.36" r="3"/>
<circle cx="205.3" cy="520.76" r="3"/>
<circle cx="205.44" cy="525.06" r="3"/>
<circle cx="204.87" cy="529.27" r="3"/>
<circle cx="205.48" cy="533.48" r="3"/>
<circle cx="205.32" cy="537.78" r="3"/>
<circle cx="206.38" cy="541.91" r="3"/>
<circle cx="208.22" cy="545.77" r="3"/>
<circle cx="210.48" cy="549.36" r="3"/>
<circle cx="212.35" cy="553.06" r="3"/>
<circle cx="214.37" cy="556.72" r="3"/>
<circle cx="217.7" cy="559.37" r="3"/>
<circle cx="220.58" cy="562.26" r="3"/>
<circle cx="223.2" cy="565.46" r="3"/>
<circle cx="226.59" cy="567.8" r="3"/>
<circle cx="230.34" cy="569.49" r="3"/>
<circle cx="234" cy="571.23" r="3"/>
<circle cx="238.04" cy="571.93" r="3"/>
<circle cx="241.47" cy="574.4" r="3"/>
<circle cx="245.57" cy="574.6" r="3"/>
<circle cx="249.61" cy="574.43" r="3"/>
<circle cx="253.57" cy="574.67" r="3"/>
<circle cx="257.53" cy="574.55" r="3"/>
<circle cx="261.66" cy="575.16" r="3"/>
<circle cx="265.5" cy="573.8" r="3"/>
<circle cx="269.01" cy="571.7" r="3"/>
<circle cx="273.26" cy="571.52" r="3"/>
<circle cx="276.76" cy="569.44" r="3"/>
<circle cx="279.55" cy="566.38" r="3"/>
<circle cx="282.24" cy="563.44" r="3"/>
<circle cx="286.32" cy="562.02" r="3"/>
<circle cx="288.54" cy="558.62" r="3"/>
<circle cx="291.2" cy="555.63" r="3"/>
<circle cx="293.28" cy="552.2" r="3"/>
<circle cx="295.95" cy="549.04" r="3"/>
<circle cx="297.71" cy="545.34" r="3"/>
<circle cx="298.75" cy="541.38" r="3"/>
<circle cx="299.32" cy="537.34" r="3"/>
<circle cx="300.17" cy="533.35" r="3"/>
<circle cx="300.47" cy="529.27" r="3"/>
<circle cx="299.47" cy="525.26" r="3"/>
<circle cx="300.32" cy="521.03" r="3"/>
<circle cx="298.91" cy="517.12" r="3"/>
<circle cx="298.07" cy="513.07" r="3"/>
<circle cx="296.59" cy="509.21" r="3"/>
<circle cx="295.12" cy="505.28" r="3"/>
<circle cx="293.07" cy="501.61" r="3"/>
<circle cx="291.03" cy="497.83" r="3"/>
<circle cx="287.47" cy="495.37" r="3"/>
<circle cx="284.34" cy="492.6" r="3"/>
<circle cx="281.39" cy="489.54" r="3"/>
<circle cx="277.73" cy="487.42" r="3"/>
<circle cx="274.34" cy="484.72" r="3"/>
<circle cx="270.18" cy="483.62" r="3"/>
<circle cx="266.28" cy="481.8" r="3"/>
<circle cx="262.19" cy="480.38" r="3"/>
<circle cx="257.91" cy="479.65" r="3"/>
<circle cx="253.57" cy="479.7" r="3"/>
<circle cx="249.19" cy="479.24" r="3"/>
<circle cx="244.84" cy="479.77" r="3"/>
<circle cx="240.88" cy="481.92" r="3"/>
<circle cx="236.46" cy="482.28" r="3"/>
<circle cx="232.45" cy="483.98" r="3"/>
<circle cx="228.67" cy="486.15" r="3"/>
<circle cx="225.08" cy="488.59" r="3"/>
<circle cx="221.45" cy="491" r="3"/>
<circle cx="218.14" cy="493.85" r="3"/>
<circle cx="215.25" cy="497.12" r="3"/>
<circle cx="212.25" cy="500.34" r="3"/>
<circle cx="210.09" cy="504.17" r="3"/>
<circle cx="208.79" cy="508.39" r="3"/>
<circle cx="207.31" cy="512.44" r="3"/>
<circle cx="205.45" cy="516.38" r="3"/>
<circle cx="205.32" cy="520.76" r="3"/>
<circle cx="204.54" cy="524.98" r="3"/>
<circle cx="204.37" cy="529.27" r="3"/>
<circle cx="204.49" cy="533.56" r="3"/>
<circle cx="205.45" cy="537.75" r="3"/>
<circle cx="206.16" cy="541.97" r="3"/>
<circle cx="208.42" cy="545.7" r="3"/>
<circle cx="209.75" cy="549.7" r="3"/>
<circle cx="212.38" cy="553.05" r="3"/>
<circle cx="214.46" cy="556.65" r="3"/>
<circle cx="217.16" cy="559.81" r="3"/>
<circle cx="220.43" cy="562.41" r="3"/>
<circle cx="224.04" cy="564.46" r="3"/>
<circle cx="226.41" cy="568.05" r="3"/>
<circle cx="230.11" cy="569.9" r="3"/>
<circle cx="233.85" cy="571.56" r="3"/>
<circle cx="237.78" cy="572.63" r="3"/>
<circle cx="241.62" cy="573.87" r="3"/>
<circle cx="245.51" cy="574.97" r="3"/>
<circle cx="249.55" cy="575.19" r="3"/>
<circle cx="253.57" cy="575.78" r="3"/>
<circle cx="257.57" cy="575.06" r="3"/>
<circle cx="261.46" cy="574.07" r="3"/>
<circle cx="265.49" cy="573.77" r="3"/>
<circle cx="269.12" cy="572.01" r="3"/>
<circle cx="272.94" cy="570.81" r="3"/>
<circle cx="276.03" cy="568.18" r="3"/>
<circle cx="279.71" cy="566.61" r="3"/>
<circle cx="283.14" cy="564.52" r="3"/>
<circle cx="285.74" cy="561.45" r="3"/>
<circle cx="288.67" cy="558.73" r="3"/>
<circle cx="291.38" cy="555.75" r="3"/>
<circle cx="293.41" cy="552.27" r="3"/>
<circle cx="296.03" cy="549.07" r="3"/>
<circle cx="296.83" cy="545.02" r="3"/>
<circle cx="298.18" cy="541.22" r="3"/>
<circle cx="299.17" cy="537.31" r="3"/>
<circle cx="299.02" cy="533.25" r="3"/>
<circle cx="299.38" cy="529.27" r="3"/>
<circle cx="300.22" cy="525.19" r="3"/>
<circle cx="299.48" cy="521.18" r="3"/>
<circle cx="299.46" cy="516.97" r="3"/>
<circle cx="297.78" cy="513.18" r="3"/>
<circle cx="296.33" cy="509.33" r="3"/>
<circle cx="295.02" cy="505.34" r="3"/>
<circle cx="292.66" cy="501.89" r="3"/>
<circle cx="290.7" cy="498.11" r="3"/>
<circle cx="287.17" cy="495.66" r="3"/>
<circle cx="284.65" cy="492.23" r="3"/>
<circle cx="281.47" cy="489.42" r="3"/>
<circle cx="277.95" cy="487.03" r="3"/>
<circle cx="274.36" cy="484.67" r="3"/>
<circle cx="270.44" cy="482.91" r="3"/>
<circle cx="266.27" cy="481.86" r="3"/>
<circle cx="262.07" cy="481.02" r="3"/>
<circle cx="257.91" cy="479.65" r="3"/>
<circle cx="253.57" cy="479.71" r="3"/>
<circle cx="249.2" cy="479.37" r="3"/>
<circle cx="244.82" cy="479.66" r="3"/>
<circle cx="240.62" cy="480.98" r="3"/>
<circle cx="236.59" cy="482.64" r="3"/>
<circle cx="232.44" cy="483.98" r="3"/>
<circle cx="228.32" cy="485.55" r="3"/>
<circle cx="224.84" cy="488.24" r="3"/>
<circle cx="220.97" cy="490.42" r="3"/>
<circle cx="218.05" cy="493.75" r="3"/>
<circle cx="215.07" cy="496.97" r="3"/>
<circle cx="212.72" cy="500.67" r="3"/>
<circle cx="210.4" cy="504.35" r="3"/>
<circle cx="208.15" cy="508.09" r="3"/>
<circle cx="207.29" cy="512.43" r="3"/>
<circle cx="206.24" cy="516.59" r="3"/>
<circle cx="205.76" cy="520.84" r="3"/>
<circle cx="204.8" cy="525" r="3"/>
<circle cx="205.85" cy="529.27" r="3"/>
<circle cx="205.91" cy="533.44" r="3"/>
<circle cx="206.03" cy="537.65" r="3"/>
<circle cx="206.95" cy="541.76" r="3"/>
<circle cx="209.09" cy="545.46" r="3"/>
<circle cx="210.4" cy="549.4" r="3"/>
<circle cx="213.58" cy="552.36" r="3"/>
<circle cx="214.94" cy="556.32" r="3"/>
<circle cx="217.72" cy="559.35" r="3"/>
<circle cx="221.05" cy="561.79" r="3"/>
<circle cx="224.24" cy="564.22" r="3"/>
<circle cx="227.16" cy="566.99" r="3"/>
<circle cx="230.43" cy="569.34" r="3"/>
<circle cx="234.02" cy="571.18" r="3"/>
<circle cx="237.81" cy="572.56" r="3"/>
<circle cx="241.58" cy="574" r="3"/>
<circle cx="245.53" cy="574.82" r="3"/>
<circle cx="249.61" cy="574.46" r="3"/>
<circle cx="253.57" cy="575.08" r="3"/>
<circle cx="257.55" cy="574.84" r="3"/>
<circle cx="261.61" cy="574.88" r="3"/>
<circle cx="265.37" cy="573.31" r="3"/>
<circle cx="269.36" cy="572.66" r="3"/>
<circle cx="272.9" cy="570.73" r="3"/>
<circle cx="276.91" cy="569.7" r="3"/>
<circle cx="279.75" cy="566.67" r="3"/>
<circle cx="282.93" cy="564.26" r="3"/>
<circle cx="285.85" cy="561.55" r="3"/>
<circle cx="288.65" cy="558.71" r="3"/>
<circle cx="291.92" cy="556.13" r="3"/>
<circle cx="293.08" cy="552.09" r="3"/>
<circle cx="294.85" cy="548.52" r="3"/>
<circle cx="296.72" cy="544.98" r="3"/>
<circle cx="298.38" cy="541.28" r="3"/>
<circle cx="298.67" cy="537.22" r="3"/>
<circle cx="300.07" cy="533.34" r="3"/>
<circle cx="300.16" cy="529.27" r="3"/>
<circle cx="299.75" cy="525.23" r="3"/>
<circle cx="299.33" cy="521.2" r="3"/>
<circle cx="298.4" cy="517.26" r="3"/>
<circle cx="297.54" cy="513.27" r="3"/>
<circle cx="295.94" cy="509.51" r="3"/>
<circle cx="294.94" cy="505.38" r="3"/>
<circle cx="292.99" cy="501.67" r="3"/>
<circle cx="289.98" cy="498.72" r="3"/>
<circle cx="287.39" cy="495.45" r="3"/>
<circle cx="283.95" cy="493.06" r="3"/>
<circle cx="281.12" cy="489.92" r="3"/>
<circle cx="277.85" cy="487.21" r="3"/>
<circle cx="274.05" cy="485.34" r="3"/>
<circle cx="270.11" cy="483.81" r="3"/>
<circle cx="266.16" cy="482.28" r="3"/>
<circle cx="261.95" cy="481.69" r="3"/>
<circle cx="257.76" cy="481.36" r="3"/>
<circle cx="253.57" cy="480.4" r="3"/>
<circle cx="249.44" cy="482.08" r="3"/>
<circle cx="245.3" cy="482.37" r="3"/>
<circle cx="241.22" cy="483.19" r="3"/>
<circle cx="237.28" cy="484.53" r="3"/>
<circle cx="233.5" cy="486.25" r="3"/>
<circle cx="229.79" cy="488.09" r="3"/>
<circle cx="226.49" cy="490.61" r="3"/>
<circle cx="223.16" cy="493.04" r="3"/>
<circle cx="220.06" cy="495.77" r="3"/>
<circle cx="217.59" cy="499.09" r="3"/>
<circle cx="215.23" cy="502.43" r="3"/>
<circle cx="213.6" cy="506.2" r="3"/>
<circle cx="212.01" cy="509.89" r="3"/>
<circle cx="210.36" cy="513.55" r="3"/>
<circle cx="208.89" cy="517.3" r="3"/>
<circle cx="208.46" cy="521.32" r="3"/>
<circle cx="207.87" cy="525.27" r="3"/>
<circle cx="207.95" cy="529.27" r="3"/>
<circle cx="208.29" cy="533.23" r="3"/>
<circle cx="209.79" cy="536.99" r="3"/>
<circle cx="210.02" cy="540.94" r="3"/>
<circle cx="211.57" cy="544.56" r="3"/>
<circle cx="212.74" cy="548.31" r="3"/>
<circle cx="215.23" cy="551.41" r="3"/>
<circle cx="217.52" cy="554.51" r="3"/>
<circle cx="220.11" cy="557.34" r="3"/>
<circle cx="222.7" cy="560.14" r="3"/>
<circle cx="226.06" cy="562.05" r="3"/>
<circle cx="228.75" cy="564.71" r="3"/>
<circle cx="231.93" cy="566.74" r="3"/>
<circle cx="235.13" cy="568.8" r="3"/>
<circle cx="238.9" cy="569.57" r="3"/>
<circle cx="242.39" cy="570.97" r="3"/>
<circle cx="245.95" cy="572.45" r="3"/>
<circle cx="249.83" cy="571.99" r="3"/>
<circle cx="253.57" cy="572.73" r="3"/>
<circle cx="257.31" cy="572.05" r="3"/>
<circle cx="261.06" cy="571.79" r="3"/>
<circle cx="264.82" cy="571.29" r="3"/>
<circle cx="268.54" cy="570.42" r="3"/>
<circle cx="271.9" cy="568.59" r="3"/>
<circle cx="275.25" cy="566.83" r="3"/>
<circle cx="279.18" cy="565.86" r="3"/>
<circle cx="282.13" cy="563.32" r="3"/>
<circle cx="285.45" cy="561.15" r="3"/>
<circle cx="288.51" cy="558.59" r="3"/>
<circle cx="291.19" cy="555.62" r="3"/>
<circle cx="293.03" cy="552.06" r="3"/>
<circle cx="294.97" cy="548.58" r="3"/>
<circle cx="296.03" cy="544.73" r="3"/>
<circle cx="297.99" cy="541.17" r="3"/>
<circle cx="298.7" cy="537.23" r="3"/>
<circle cx="299.52" cy="533.29" r="3"/>
<circle cx="300.36" cy="529.27" r="3"/>
<circle cx="299.86" cy="525.22" r="3"/>
<circle cx="299.24" cy="521.22" r="3"/>
<circle cx="297.99" cy="517.37" r="3"/>
<circle cx="297.65" cy="513.23" r="3"/>
<circle cx="296.13" cy="509.42" r="3"/>
<circle cx="293.21" cy="506.38" r="3"/>
<circle cx="291.23" cy="502.9" r="3"/>
<circle cx="288.31" cy="500.11" r="3"/>
<circle cx="285.59" cy="497.24" r="3"/>
<circle cx="282.52" cy="494.76" r="3"/>
<circle cx="279.06" cy="492.86" r="3"/>
<circle cx="275.96" cy="490.47" r="3"/>
<circle cx="272.3" cy="489.1" r="3"/>
<circle cx="269.11" cy="486.55" r="3"/>
<circle cx="265.29" cy="485.51" r="3"/>
<circle cx="261.36" cy="485.05" r="3"/>
<circle cx="257.49" cy="484.47" r="3"/>
<circle cx="253.57" cy="484.41" r="3"/>
<circle cx="249.65" cy="484.57" r="3"/>
<circle cx="245.78" cy="485.14" r="3"/>
<circle cx="242.03" cy="486.22" r="3"/>
<circle cx="238.34" cy="487.45" r="3"/>
<circle cx="234.99" cy="489.44" r="3"/>
<circle cx="231.58" cy="491.2" r="3"/>
<circle cx="228.34" cy="493.24" r="3"/>
<circle cx="225.19" cy="495.45" r="3"/>
<circle cx="222.62" cy="498.32" r="3"/>
<circle cx="219.49" cy="500.68" r="3"/>
<circle cx="217.93" cy="504.32" r="3"/>
<circle cx="216.11" cy="507.65" r="3"/>
<circle cx="214.26" cy="510.94" r="3"/>
<circle cx="212.78" cy="514.43" r="3"/>
<circle cx="211.52" cy="518" r="3"/>
<circle cx="211.22" cy="521.8" r="3"/>
<circle cx="211.53" cy="525.59" r="3"/>
<circle cx="211.4" cy="529.27" r="3"/>
<circle cx="211.27" cy="532.97" r="3"/>
<circle cx="212.24" cy="536.56" r="3"/>
<circle cx="213" cy="540.14" r="3"/>
<circle cx="214.58" cy="543.46" r="3"/>
<circle cx="215.52" cy="547.01" r="3"/>
<circle cx="217.4" cy="550.15" r="3"/>
<circle cx="219.57" cy="553.07" r="3"/>
<circle cx="222.16" cy="555.62" r="3"/>
<circle cx="225.14" cy="557.7" r="3"/>
<circle cx="227.73" cy="560.06" r="3"/>
<circle cx="230.19" cy="562.65" r="3"/>
<circle cx="233.16" cy="564.61" r="3"/>
<circle cx="236.93" cy="564.95" r="3"/>
<circle cx="239.8" cy="567.1" r="3"/>
<circle cx="242.99" cy="568.73" r="3"/>
<circle cx="246.49" cy="569.41" r="3"/>
<circle cx="250.06" cy="569.32" r="3"/>
<circle cx="253.57" cy="569.92" r="3"/>
<circle cx="257.09" cy="569.57" r="3"/>
<circle cx="260.58" cy="569.07" r="3"/>
<circle cx="264.18" cy="568.88" r="3"/>
<circle cx="267.63" cy="567.91" r="3"/>
<circle cx="270.73" cy="566.08" r="3"/>
<circle cx="273.88" cy="564.45" r="3"/>
<circle cx="276.91" cy="562.61" r="3"/>
<circle cx="279.87" cy="560.62" r="3"/>
<circle cx="283.49" cy="559.2" r="3"/>
<circle cx="286.45" cy="556.87" r="3"/>
<circle cx="288.59" cy="553.8" r="3"/>
<circle cx="291.34" cy="551.08" r="3"/>
<circle cx="293.03" cy="547.67" r="3"/>
<circle cx="295.3" cy="544.46" r="3"/>
<circle cx="297.44" cy="541.03" r="3"/>
<circle cx="298.66" cy="537.22" r="3"/>
<circle cx="299.32" cy="533.27" r="3"/>
<circle cx="295.82" cy="529.27" r="3"/>
<circle cx="295.94" cy="525.56" r="3"/>
<circle cx="295.9" cy="521.81" r="3"/>
<circle cx="295.01" cy="518.17" r="3"/>
<circle cx="293.93" cy="514.58" r="3"/>
<circle cx="292.15" cy="511.28" r="3"/>
<circle cx="290.38" cy="508.01" r="3"/>
<circle cx="288.31" cy="504.95" r="3"/>
<circle cx="286.04" cy="502.02" r="3"/>
<circle cx="283.31" cy="499.52" r="3"/>
<circle cx="280.38" cy="497.31" r="3"/>
<circle cx="277.5" cy="495.08" r="3"/>
<circle cx="274.62" cy="492.8" r="3"/>
<circle cx="271.18" cy="491.5" r="3"/>
<circle cx="267.72" cy="490.39" r="3"/>
<circle cx="264.27" cy="489.33" r="3"/>
<circle cx="260.83" cy="488.1" r="3"/>
<circle cx="257.22" cy="487.54" r="3"/>
<circle cx="253.57" cy="487.16" r="3"/>
<circle cx="249.95" cy="487.92" r="3"/>
<circle cx="246.26" cy="487.83" r="3"/>
<circle cx="242.85" cy="489.3" r="3"/>
<circle cx="239.42" cy="490.41" r="3"/>
<circle cx="236.18" cy="491.99" r="3"/>
<circle cx="232.85" cy="493.39" r="3"/>
<circle cx="229.76" cy="495.27" r="3"/>
<circle cx="227.22" cy="497.87" r="3"/>
<circle cx="224.8" cy="500.51" r="3"/>
<circle cx="222.8" cy="503.46" r="3"/>
<circle cx="220.29" cy="505.97" r="3"/>
<circle cx="218.68" cy="509.13" r="3"/>
<circle cx="217.16" cy="512.29" r="3"/>
<circle cx="216.12" cy="515.64" r="3"/>
<circle cx="215.33" cy="519.02" r="3"/>
<circle cx="214.58" cy="522.4" r="3"/>
<circle cx="213.98" cy="525.81" r="3"/>
<circle cx="213.81" cy="529.27" r="3"/>
<circle cx="214.48" cy="532.69" r="3"/>
<circle cx="214.96" cy="536.08" r="3"/>
<circle cx="216.04" cy="539.33" r="3"/>
<circle cx="217.17" cy="542.52" r="3"/>
<circle cx="219" cy="545.39" r="3"/>
<circle cx="219.94" cy="548.68" r="3"/>
<circle cx="221.95" cy="551.41" r="3"/>
<circle cx="223.84" cy="554.21" r="3"/>
<circle cx="226.74" cy="556.1" r="3"/>
<circle cx="229.06" cy="558.47" r="3"/>
<circle cx="231.96" cy="560.12" r="3"/>
<circle cx="234.56" cy="562.19" r="3"/>
<circle cx="237.58" cy="563.56" r="3"/>
<circle cx="240.54" cy="565.05" r="3"/>
<circle cx="243.79" cy="565.74" r="3"/>
<circle cx="246.96" cy="566.72" r="3"/>
<circle cx="250.29" cy="566.74" r="3"/>
<circle cx="253.57" cy="567.29" r="3"/>
<circle cx="256.85" cy="566.85" r="3"/>
<circle cx="260.12" cy="566.42" r="3"/>
<circle cx="263.4" cy="565.96" r="3"/>
<circle cx="266.62" cy="565.14" r="3"/>
<circle cx="269.47" cy="563.38" r="3"/>
<circle cx="272.44" cy="561.96" r="3"/>
<circle cx="275.68" cy="560.85" r="3"/>
<circle cx="278.43" cy="558.91" r="3"/>
<circle cx="280.61" cy="556.32" r="3"/>
<circle cx="283.21" cy="554.15" r="3"/>
<circle cx="285.86" cy="551.89" r="3"/>
<circle cx="288.44" cy="549.4" r="3"/>
<circle cx="290.46" cy="546.47" r="3"/>
<circle cx="292.57" cy="543.47" r="3"/>
<circle cx="294.21" cy="540.16" r="3"/>
<circle cx="295.91" cy="536.74" r="3"/>
<circle cx="295.43" cy="532.93" r="3"/>
<circle cx="293.01" cy="529.27" r="3"/>
<circle cx="293.41" cy="525.79" r="3"/>
<circle cx="292.23" cy="522.45" r="3"/>
<circle cx="291.42" cy="519.13" r="3"/>
<circle cx="290.84" cy="515.7" r="3"/>
<circle cx="289.68" cy="512.43" r="3"/>
<circle cx="287.99" cy="509.39" r="3"/>
<circle cx="285.14" cy="507.16" r="3"/>
<circle cx="283.14" cy="504.45" r="3"/>
<circle cx="281.06" cy="501.78" r="3"/>
<circle cx="278.4" cy="499.67" r="3"/>
<circle cx="275.86" cy="497.43" r="3"/>
<circle cx="272.95" cy="495.69" r="3"/>
<circle cx="270.18" cy="493.64" r="3"/>
<circle cx="266.79" cy="492.93" r="3"/>
<circle cx="263.59" cy="491.85" r="3"/>
<circle cx="260.29" cy="491.16" r="3"/>
<circle cx="256.97" cy="490.37" r="3"/>
<circle cx="253.57" cy="491.02" r="3"/>
<circle cx="250.19" cy="490.67" r="3"/>
<circle cx="246.91" cy="491.55" r="3"/>
<circle cx="243.72" cy="492.54" r="3"/>
<circle cx="240.27" cy="492.76" r="3"/>
<circle cx="237.27" cy="494.33" r="3"/>
<circle cx="234.18" cy="495.7" r="3"/>
<circle cx="231.61" cy="497.92" r="3"/>
<circle cx="228.95" cy="499.93" r="3"/>
<circle cx="226.69" cy="502.4" r="3"/>
<circle cx="224.43" cy="504.82" r="3"/>
<circle cx="222.8" cy="507.73" r="3"/>
<circle cx="220.52" cy="510.19" r="3"/>
<circle cx="219.92" cy="513.58" r="3"/>
<circle cx="217.97" cy="516.32" r="3"/>
<circle cx="217.76" cy="519.68" r="3"/>
<circle cx="216.84" cy="522.8" r="3"/>
<circle cx="216.81" cy="526.06" r="3"/>
<circle cx="216.71" cy="529.27" r="3"/>
<circle cx="216.63" cy="532.5" r="3"/>
<circle cx="217.65" cy="535.6" r="3"/>
<circle cx="218.83" cy="538.58" r="3"/>
<circle cx="219.51" cy="541.67" r="3"/>
<circle cx="220.7" cy="544.6" r="3"/>
<circle cx="223.2" cy="546.8" r="3"/>
<circle cx="223.95" cy="550.01" r="3"/>
<circle cx="225.91" cy="552.48" r="3"/>
<circle cx="228.81" cy="554.03" r="3"/>
<circle cx="230.75" cy="556.46" r="3"/>
<circle cx="233.05" cy="558.57" r="3"/>
<circle cx="236.06" cy="559.6" r="3"/>
<circle cx="238.68" cy="561.2" r="3"/>
<circle cx="241.52" cy="562.37" r="3"/>
<circle cx="244.37" cy="563.57" r="3"/>
<circle cx="247.37" cy="564.42" r="3"/>
<circle cx="250.49" cy="564.43" r="3"/>
<circle cx="253.57" cy="564.61" r="3"/>
<circle cx="256.67" cy="564.8" r="3"/>
<circle cx="259.74" cy="564.3" r="3"/>
<circle cx="262.73" cy="563.46" r="3"/>
<circle cx="265.87" cy="563.08" r="3"/>
<circle cx="268.4" cy="561.09" r="3"/>
<circle cx="271.46" cy="560.26" r="3"/>
<circle cx="274.07" cy="558.55" r="3"/>
<circle cx="276.64" cy="556.77" r="3"/>
<circle cx="279.29" cy="555" r="3"/>
<circle cx="281.6" cy="552.8" r="3"/>
<circle cx="284.5" cy="550.93" r="3"/>
<circle cx="286.04" cy="548.02" r="3"/>
<circle cx="287.81" cy="545.24" r="3"/>
<circle cx="289.89" cy="542.49" r="3"/>
<circle cx="291.09" cy="539.32" r="3"/>
<circle cx="291.2" cy="535.91" r="3"/>
<circle cx="292.67" cy="532.69" r="3"/>
<circle cx="290.11" cy="529.27" r="3"/>
<circle cx="289.67" cy="526.11" r="3"/>
<circle cx="289.62" cy="522.91" r="3"/>
<circle cx="288.68" cy="519.86" r="3"/>
<circle cx="287.94" cy="516.76" r="3"/>
<circle cx="286.03" cy="514.13" r="3"/>
<circle cx="284.4" cy="511.47" r="3"/>
<circle cx="283.02" cy="508.64" r="3"/>
<circle cx="281.24" cy="506.05" r="3"/>
<circle cx="279.31" cy="503.53" r="3"/>
<circle cx="276.58" cy="501.84" r="3"/>
<circle cx="273.99" cy="500.11" r="3"/>
<circle cx="271.63" cy="497.98" r="3"/>
<circle cx="268.71" cy="496.8" r="3"/>
<circle cx="266.02" cy="495.06" r="3"/>
<circle cx="262.82" cy="494.72" r="3"/>
<circle cx="259.67" cy="494.66" r="3"/>
<circle cx="256.66" cy="493.89" r="3"/>
<circle cx="253.57" cy="493.82" r="3"/>
<circle cx="250.49" cy="494.13" r="3"/>
<circle cx="247.41" cy="494.36" r="3"/>
<circle cx="244.4" cy="495.05" r="3"/>
<circle cx="241.42" cy="495.91" r="3"/>
<circle cx="238.62" cy="497.23" r="3"/>
<circle cx="235.77" cy="498.44" r="3"/>
<circle cx="233.2" cy="500.18" r="3"/>
<circle cx="230.85" cy="502.2" r="3"/>
<circle cx="228.64" cy="504.35" r="3"/>
<circle cx="227.18" cy="507.13" r="3"/>
<circle cx="225.39" cy="509.54" r="3"/>
<circle cx="223.65" cy="512" r="3"/>
<circle cx="222.02" cy="514.56" r="3"/>
<circle cx="221.52" cy="517.61" r="3"/>
<circle cx="220.41" cy="520.39" r="3"/>
<circle cx="219.66" cy="523.29" r="3"/>
<circle cx="218.82" cy="526.23" r="3"/>
<circle cx="219.39" cy="529.27" r="3"/>
<circle cx="219.91" cy="532.22" r="3"/>
<circle cx="219.87" cy="535.21" r="3"/>
<circle cx="220.92" cy="538.02" r="3"/>
<circle cx="222.07" cy="540.74" r="3"/>
<circle cx="222.85" cy="543.59" r="3"/>
<circle cx="224.89" cy="545.82" r="3"/>
<circle cx="226.22" cy="548.42" r="3"/>
<circle cx="228.08" cy="550.65" r="3"/>
<circle cx="229.9" cy="552.93" r="3"/>
<circle cx="232.54" cy="554.32" r="3"/>
<circle cx="234.87" cy="555.97" r="3"/>
<circle cx="237.14" cy="557.72" r="3"/>
<circle cx="239.69" cy="559.04" r="3"/>
<circle cx="242.31" cy="560.2" r="3"/>
<circle cx="245.09" cy="560.91" r="3"/>
<circle cx="247.83" cy="561.78" r="3"/>
<circle cx="250.68" cy="562.25" r="3"/>
<circle cx="253.57" cy="562.23" r="3"/>
<circle cx="256.4" cy="561.69" r="3"/>
<circle cx="259.35" cy="562.09" r="3"/>
<circle cx="261.97" cy="560.63" r="3"/>
<circle cx="264.84" cy="560.26" r="3"/>
<circle cx="267.69" cy="559.57" r="3"/>
<circle cx="270.08" cy="557.87" r="3"/>
<circle cx="272.95" cy="556.96" r="3"/>
<circle cx="275.53" cy="555.44" r="3"/>
<circle cx="277.78" cy="553.49" r="3"/>
<circle cx="279.68" cy="551.18" r="3"/>
<circle cx="281.85" cy="549.08" r="3"/>
<circle cx="283.29" cy="546.43" r="3"/>
<circle cx="285.25" cy="544.04" r="3"/>
<circle cx="286.74" cy="541.35" r="3"/>
<circle cx="287.87" cy="538.46" r="3"/>
<circle cx="288.87" cy="535.5" r="3"/>
<circle cx="289.43" cy="532.41" r="3"/>
<circle cx="286.26" cy="529.27" r="3"/>
<circle cx="287" cy="526.35" r="3"/>
<circle cx="286.65" cy="523.44" r="3"/>
<circle cx="286.56" cy="520.43" r="3"/>
<circle cx="285.24" cy="517.74" r="3"/>
<circle cx="283.87" cy="515.14" r="3"/>
<circle cx="282.68" cy="512.46" r="3"/>
<circle cx="280.98" cy="510.08" r="3"/>
<circle cx="278.99" cy="507.94" r="3"/>
<circle cx="276.91" cy="505.93" r="3"/>
<circle cx="274.54" cy="504.28" r="3"/>
<circle cx="272.55" cy="502.16" r="3"/>
<circle cx="270.35" cy="500.21" r="3"/>
<circle cx="267.28" cy="499.87" r="3"/>
<circle cx="264.76" cy="498.51" r="3"/>
<circle cx="262.18" cy="497.13" r="3"/>
<circle cx="259.31" cy="496.68" r="3"/>
<circle cx="256.45" cy="496.24" r="3"/>
<circle cx="253.57" cy="496.86" r="3"/>
<circle cx="250.71" cy="496.6" r="3"/>
<circle cx="247.81" cy="496.66" r="3"/>
<circle cx="245" cy="497.3" r="3"/>
<circle cx="242.29" cy="498.3" r="3"/>
<circle cx="239.82" cy="499.79" r="3"/>
<circle cx="237.11" cy="500.76" r="3"/>
<circle cx="235.04" cy="502.82" r="3"/>
<circle cx="232.81" cy="504.53" r="3"/>
<circle cx="230.84" cy="506.55" r="3"/>
<circle cx="228.38" cy="508.14" r="3"/>
<circle cx="227.2" cy="510.81" r="3"/>
<circle cx="225.65" cy="513.15" r="3"/>
<circle cx="225.09" cy="516" r="3"/>
<circle cx="223.16" cy="518.2" r="3"/>
<circle cx="222.61" cy="520.98" r="3"/>
<circle cx="222.78" cy="523.84" r="3"/>
<circle cx="222.51" cy="526.55" r="3"/>
<circle cx="221.46" cy="529.27" r="3"/>
<circle cx="222.51" cy="531.99" r="3"/>
<circle cx="222.1" cy="534.82" r="3"/>
<circle cx="223.51" cy="537.33" r="3"/>
<circle cx="225.02" cy="539.66" r="3"/>
<circle cx="225.08" cy="542.56" r="3"/>
<circle cx="226.58" cy="544.85" r="3"/>
<circle cx="228.06" cy="547.13" r="3"/>
<circle cx="230.06" cy="548.99" r="3"/>
<circle cx="231.85" cy="550.98" r="3"/>
<circle cx="233.62" cy="553.03" r="3"/>
<circle cx="236.13" cy="554.18" r="3"/>
<circle cx="238.57" cy="555.25" r="3"/>
<circle cx="240.52" cy="557.25" r="3"/>
<circle cx="243.18" cy="557.8" r="3"/>
<circle cx="245.56" cy="559.16" r="3"/>
<circle cx="248.29" cy="559.19" r="3"/>
<circle cx="250.92" cy="559.55" r="3"/>
<circle cx="253.57" cy="559.73" r="3"/>
<circle cx="256.16" cy="558.96" r="3"/>
<circle cx="258.94" cy="559.76" r="3"/>
<circle cx="261.44" cy="558.66" r="3"/>
<circle cx="264.04" cy="558.04" r="3"/>
<circle cx="266.76" cy="557.57" r="3"/>
<circle cx="269" cy="556.01" r="3"/>
<circle cx="271.48" cy="554.86" r="3"/>
<circle cx="273.61" cy="553.16" r="3"/>
<circle cx="275.83" cy="551.54" r="3"/>
<circle cx="277.71" cy="549.53" r="3"/>
<circle cx="279.79" cy="547.63" r="3"/>
<circle cx="281.12" cy="545.18" r="3"/>
<circle cx="282.83" cy="542.92" r="3"/>
<circle cx="283.81" cy="540.28" r="3"/>
<circle cx="285.5" cy="537.83" r="3"/>
<circle cx="285.31" cy="534.87" r="3"/>
<circle cx="286.64" cy="532.17" r="3"/>
<circle cx="284.2" cy="529.27" r="3"/>
<circle cx="284.18" cy="526.59" r="3"/>
<circle cx="283.78" cy="523.94" r="3"/>
<circle cx="283.61" cy="521.22" r="3"/>
<circle cx="283" cy="518.56" r="3"/>
<circle cx="281.18" cy="516.39" r="3"/>
<circle cx="279.57" cy="514.26" r="3"/>
<circle cx="278.32" cy="511.94" r="3"/>
<circle cx="276.74" cy="509.83" r="3"/>
<circle cx="275.07" cy="507.77" r="3"/>
<circle cx="273.11" cy="505.98" r="3"/>
<circle cx="271.19" cy="504.1" r="3"/>
<circle cx="268.7" cy="503.06" r="3"/>
<circle cx="266.4" cy="501.74" r="3"/>
<circle cx="263.97" cy="500.68" r="3"/>
<circle cx="261.36" cy="500.17" r="3"/>
<circle cx="258.83" cy="499.44" r="3"/>
<circle cx="256.29" cy="498.18" r="3"/>
<circle cx="253.57" cy="498.93" r="3"/>
<circle cx="250.94" cy="499.32" r="3"/>
<circle cx="248.41" cy="500.05" r="3"/>
<circle cx="245.64" cy="499.71" r="3"/>
<circle cx="243.25" cy="500.93" r="3"/>
<circle cx="240.88" cy="502.07" r="3"/>
<circle cx="238.12" cy="502.52" r="3"/>
<circle cx="236.06" cy="504.27" r="3"/>
<circle cx="234.6" cy="506.67" r="3"/>
<circle cx="232.46" cy="508.17" r="3"/>
<circle cx="230.45" cy="509.88" r="3"/>
<circle cx="228.96" cy="512.04" r="3"/>
<circle cx="228.13" cy="514.59" r="3"/>
<circle cx="226.24" cy="516.53" r="3"/>
<circle cx="225.3" cy="518.98" r="3"/>
<circle cx="225.46" cy="521.74" r="3"/>
<circle cx="225.19" cy="524.27" r="3"/>
<circle cx="224.85" cy="526.76" r="3"/>
<circle cx="224.21" cy="529.27" r="3"/>
<circle cx="224.29" cy="531.83" r="3"/>
<circle cx="224.97" cy="534.31" r="3"/>
<circle cx="225.83" cy="536.7" r="3"/>
<circle cx="226.52" cy="539.12" r="3"/>
<circle cx="227.37" cy="541.49" r="3"/>
<circle cx="229.06" cy="543.42" r="3"/>
<circle cx="230.56" cy="545.38" r="3"/>
<circle cx="231.73" cy="547.59" r="3"/>
<circle cx="233.17" cy="549.67" r="3"/>
<circle cx="235.26" cy="551.09" r="3"/>
<circle cx="237.26" cy="552.56" r="3"/>
<circle cx="239.5" cy="553.64" r="3"/>
<circle cx="241.49" cy="555.18" r="3"/>
<circle cx="244.07" cy="555.37" r="3"/>
<circle cx="246.25" cy="556.56" r="3"/>
<circle cx="248.69" cy="556.93" r="3"/>
<circle cx="251.11" cy="557.38" r="3"/>
<circle cx="253.57" cy="557.26" r="3"/>
<circle cx="256.05" cy="557.67" r="3"/>
<circle cx="258.48" cy="557.13" r="3"/>
<circle cx="260.85" cy="556.47" r="3"/>
<circle cx="263.33" cy="556.09" r="3"/>
<circle cx="265.58" cy="555.04" r="3"/>
<circle cx="267.75" cy="553.83" r="3"/>
<circle cx="269.87" cy="552.56" r="3"/>
<circle cx="272.17" cy="551.45" r="3"/>
<circle cx="273.76" cy="549.47" r="3"/>
<circle cx="275.73" cy="547.87" r="3"/>
<circle cx="277.4" cy="545.96" r="3"/>
<circle cx="279.08" cy="544" r="3"/>
<circle cx="280.32" cy="541.75" r="3"/>
<circle cx="282.17" cy="539.68" r="3"/>
<circle cx="282.04" cy="536.9" r="3"/>
<circle cx="283.49" cy="534.55" r="3"/>
<circle cx="283.82" cy="531.92" r="3"/>
<circle cx="281.76" cy="529.27" r="3"/>
<circle cx="280.97" cy="526.87" r="3"/>
<circle cx="257.4" cy="528.6" r="3"/>
<circle cx="257.67" cy="528.17" r="3"/>
<circle cx="257.4" cy="527.87" r="3"/>
<circle cx="279.07" cy="517.38" r="3"/>
<circle cx="277.8" cy="515.28" r="3"/>
<circle cx="276.28" cy="513.37" r="3"/>
<circle cx="274.76" cy="511.48" r="3"/>
<circle cx="273.3" cy="509.54" r="3"/>
<circle cx="271.34" cy="508.09" r="3"/>
<circle cx="269.22" cy="506.91" r="3"/>
<circle cx="267.23" cy="505.6" r="3"/>
<circle cx="265.43" cy="503.83" r="3"/>
<circle cx="263.17" cy="502.89" r="3"/>
<circle cx="260.81" cy="502.23" r="3"/>
<circle cx="258.4" cy="501.83" r="3"/>
<circle cx="256" cy="501.43" r="3"/>
<circle cx="253.57" cy="501.3" r="3"/>
<circle cx="251.13" cy="501.49" r="3"/>
<circle cx="248.78" cy="502.12" r="3"/>
<circle cx="246.43" cy="502.65" r="3"/>
<circle cx="244.19" cy="503.51" r="3"/>
<circle cx="241.84" cy="504.13" r="3"/>
<circle cx="239.88" cy="505.57" r="3"/>
<circle cx="237.76" cy="506.7" r="3"/>
<circle cx="235.63" cy="507.89" r="3"/>
<circle cx="234.21" cy="509.91" r="3"/>
<circle cx="232.36" cy="511.47" r="3"/>
<circle cx="230.81" cy="513.34" r="3"/>
<circle cx="230.39" cy="515.89" r="3"/>
<circle cx="229.28" cy="517.95" r="3"/>
<circle cx="227.95" cy="519.95" r="3"/>
<circle cx="227.63" cy="522.32" r="3"/>
<circle cx="226.86" cy="524.56" r="3"/>
<circle cx="226.58" cy="526.91" r="3"/>
<circle cx="226.9" cy="529.27" r="3"/>
<circle cx="226.7" cy="531.62" r="3"/>
<circle cx="226.83" cy="533.99" r="3"/>
<circle cx="227.62" cy="536.22" r="3"/>
<circle cx="228.87" cy="538.26" r="3"/>
<circle cx="229.62" cy="540.44" r="3"/>
<circle cx="230.84" cy="542.39" r="3"/>
<circle cx="231.63" cy="544.63" r="3"/>
<circle cx="233.47" cy="546.13" r="3"/>
<circle cx="235.15" cy="547.69" r="3"/>
<circle cx="236.72" cy="549.35" r="3"/>
<circle cx="238.48" cy="550.82" r="3"/>
<circle cx="240.55" cy="551.81" r="3"/>
<circle cx="242.52" cy="552.95" r="3"/>
<circle cx="244.64" cy="553.78" r="3"/>
<circle cx="246.76" cy="554.65" r="3"/>
<circle cx="248.99" cy="555.21" r="3"/>
<circle cx="251.29" cy="555.31" r="3"/>
<circle cx="253.57" cy="555.21" r="3"/>
<circle cx="255.85" cy="555.37" r="3"/>
<circle cx="258.05" cy="554.73" r="3"/>
<circle cx="260.41" cy="554.8" r="3"/>
<circle cx="262.55" cy="553.96" r="3"/>
<circle cx="264.68" cy="553.1" r="3"/>
<circle cx="266.37" cy="551.44" r="3"/>
<circle cx="269.06" cy="551.4" r="3"/>
<circle cx="270.83" cy="549.84" r="3"/>
<circle cx="272.59" cy="548.3" r="3"/>
<circle cx="274.03" cy="546.44" r="3"/>
<circle cx="275.69" cy="544.76" r="3"/>
<circle cx="277.62" cy="543.16" r="3"/>
<circle cx="277.99" cy="540.66" r="3"/>
<circle cx="279.43" cy="538.68" r="3"/>
<circle cx="280.28" cy="536.43" r="3"/>
<circle cx="280.83" cy="534.08" r="3"/>
<circle cx="281.35" cy="531.7" r="3"/>
<circle cx="278.69" cy="529.27" r="3"/>
<circle cx="279.09" cy="527.04" r="3"/>
<circle cx="257.4" cy="528.59" r="3"/>
<circle cx="257.13" cy="528.32" r="3"/>
<circle cx="257.07" cy="527.99" r="3"/>
<circle cx="257.01" cy="527.67" r="3"/>
<circle cx="256.79" cy="527.41" r="3"/>
<circle cx="256.66" cy="527.11" r="3"/>
<circle cx="256.51" cy="526.8" r="3"/>
<circle cx="256.33" cy="526.5" r="3"/>
<circle cx="255.9" cy="526.48" r="3"/>
<circle cx="255.87" cy="525.98" r="3"/>
<circle cx="266.21" cy="507.36" r="3"/>
<circle cx="264.16" cy="506.56" r="3"/>
<circle cx="262.25" cy="505.41" r="3"/>
<circle cx="254.55" cy="525.58" r="3"/>
<circle cx="254.25" cy="525.37" r="3"/>
<circle cx="253.89" cy="525.58" r="3"/>
<circle cx="253.57" cy="503.85" r="3"/>
<circle cx="253.22" cy="525.36" r="3"/>
<circle cx="252.93" cy="525.69" r="3"/>
<circle cx="252.58" cy="525.58" r="3"/>
<circle cx="252.25" cy="525.66" r="3"/>
<circle cx="251.98" cy="525.87" r="3"/>
<circle cx="251.76" cy="526.15" r="3"/>
<circle cx="251.36" cy="526.12" r="3"/>
<circle cx="251.11" cy="526.34" r="3"/>
<circle cx="250.91" cy="526.62" r="3"/>
<circle cx="250.6" cy="526.78" r="3"/>
<circle cx="250.53" cy="527.14" r="3"/>
<circle cx="250.47" cy="527.48" r="3"/>
<circle cx="250.4" cy="527.79" r="3"/>
<circle cx="229.97" cy="520.68" r="3"/>
<circle cx="229.36" cy="522.79" r="3"/>
<circle cx="229.34" cy="525" r="3"/>
<circle cx="229.06" cy="527.13" r="3"/>
<circle cx="228.99" cy="529.27" r="3"/>
<circle cx="229.17" cy="531.41" r="3"/>
<circle cx="229.29" cy="533.55" r="3"/>
<circle cx="230.2" cy="535.53" r="3"/>
<circle cx="231" cy="537.49" r="3"/>
<circle cx="231.64" cy="539.5" r="3"/>
<circle cx="232.17" cy="541.62" r="3"/>
<circle cx="233.86" cy="543.07" r="3"/>
<circle cx="235.29" cy="544.6" r="3"/>
<circle cx="236.71" cy="546.12" r="3"/>
<circle cx="238.09" cy="547.72" r="3"/>
<circle cx="239.62" cy="549.18" r="3"/>
<circle cx="241.67" cy="549.87" r="3"/>
<circle cx="243.42" cy="551.02" r="3"/>
<circle cx="245.36" cy="551.82" r="3"/>
<circle cx="247.34" cy="552.5" r="3"/>
<circle cx="249.41" cy="552.86" r="3"/>
<circle cx="251.46" cy="553.37" r="3"/>
<circle cx="253.57" cy="553.37" r="3"/>
<circle cx="255.64" cy="552.95" r="3"/>
<circle cx="257.83" cy="553.48" r="3"/>
<circle cx="259.68" cy="552.09" r="3"/>
<circle cx="261.66" cy="551.51" r="3"/>
<circle cx="263.84" cy="551.31" r="3"/>
<circle cx="265.64" cy="550.18" r="3"/>
<circle cx="267.38" cy="549.01" r="3"/>
<circle cx="269.17" cy="547.87" r="3"/>
<circle cx="270.88" cy="546.59" r="3"/>
<circle cx="272.18" cy="544.89" r="3"/>
<circle cx="273.52" cy="543.24" r="3"/>
<circle cx="274.67" cy="541.46" r="3"/>
<circle cx="275.82" cy="539.65" r="3"/>
<circle cx="276.78" cy="537.72" r="3"/>
<circle cx="278.05" cy="535.83" r="3"/>
<circle cx="278.43" cy="533.66" r="3"/>
<circle cx="278.9" cy="531.49" r="3"/>
<circle cx="276.39" cy="529.27" r="3"/>
<circle cx="276.75" cy="527.24" r="3"/>
<circle cx="256.93" cy="528.68" r="3"/>
<circle cx="256.85" cy="528.39" r="3"/>
<circle cx="256.81" cy="528.09" r="3"/>
<circle cx="256.71" cy="527.8" r="3"/>
<circle cx="256.48" cy="527.59" r="3"/>
<circle cx="256.49" cy="527.23" r="3"/>
<circle cx="255.98" cy="527.24" r="3"/>
<circle cx="256.04" cy="526.8" r="3"/>
<circle cx="255.87" cy="526.52" r="3"/>
<circle cx="255.65" cy="526.3" r="3"/>
<circle cx="265.07" cy="509.35" r="3"/>
<circle cx="263.51" cy="507.95" r="3"/>
<circle cx="261.41" cy="507.72" r="3"/>
<circle cx="254.45" cy="525.97" r="3"/>
<circle cx="254.15" cy="525.97" r="3"/>
<circle cx="253.86" cy="525.89" r="3"/>
<circle cx="253.57" cy="506.3" r="3"/>
<circle cx="253.28" cy="526.05" r="3"/>
<circle cx="252.95" cy="525.76" r="3"/>
<circle cx="252.66" cy="525.9" r="3"/>
<circle cx="252.34" cy="525.9" r="3"/>
<circle cx="252.12" cy="526.17" r="3"/>
<circle cx="251.91" cy="526.4" r="3"/>
<circle cx="251.56" cy="526.41" r="3"/>
<circle cx="251.26" cy="526.53" r="3"/>
<circle cx="251.27" cy="526.98" r="3"/>
<circle cx="250.95" cy="527.07" r="3"/>
<circle cx="250.73" cy="527.28" r="3"/>
<circle cx="250.37" cy="527.43" r="3"/>
<circle cx="250.41" cy="527.8" r="3"/>
<circle cx="232.38" cy="521.56" r="3"/>
<circle cx="231.8" cy="523.44" r="3"/>
<circle cx="231.04" cy="525.3" r="3"/>
<circle cx="230.86" cy="527.28" r="3"/>
<circle cx="231.11" cy="529.27" r="3"/>
<circle cx="231.49" cy="531.2" r="3"/>
<circle cx="231.53" cy="533.16" r="3"/>
<circle cx="231.96" cy="535.06" r="3"/>
<circle cx="232.82" cy="536.82" r="3"/>
<circle cx="233.74" cy="538.52" r="3"/>
<circle cx="234.85" cy="540.08" r="3"/>
<circle cx="235.55" cy="541.88" r="3"/>
<circle cx="236.39" cy="543.68" r="3"/>
<circle cx="238.09" cy="544.74" r="3"/>
<circle cx="239.43" cy="546.12" r="3"/>
<circle cx="240.97" cy="547.26" r="3"/>
<circle cx="242.58" cy="548.29" r="3"/>
<circle cx="244.26" cy="549.22" r="3"/>
<circle cx="246.27" cy="549.32" r="3"/>
<circle cx="247.93" cy="550.3" r="3"/>
<circle cx="249.76" cy="550.83" r="3"/>
<circle cx="251.67" cy="550.97" r="3"/>
<circle cx="253.57" cy="551.37" r="3"/>
<circle cx="255.46" cy="550.92" r="3"/>
<circle cx="257.39" cy="550.99" r="3"/>
<circle cx="259.33" cy="550.79" r="3"/>
<circle cx="261.03" cy="549.77" r="3"/>
<circle cx="262.83" cy="549.14" r="3"/>
<circle cx="264.51" cy="548.22" r="3"/>
<circle cx="266.29" cy="547.44" r="3"/>
<circle cx="267.41" cy="545.78" r="3"/>
<circle cx="268.96" cy="544.67" r="3"/>
<circle cx="270.52" cy="543.5" r="3"/>
<circle cx="272" cy="542.18" r="3"/>
<circle cx="273.08" cy="540.54" r="3"/>
<circle cx="273.77" cy="538.69" r="3"/>
<circle cx="275.16" cy="537.13" r="3"/>
<circle cx="275.52" cy="535.15" r="3"/>
<circle cx="275.88" cy="533.21" r="3"/>
<circle cx="276.5" cy="531.28" r="3"/>
<circle cx="274.49" cy="529.27" r="3"/>
<circle cx="274.16" cy="527.47" r="3"/>
<circle cx="256.68" cy="528.72" r="3"/>
<circle cx="256.72" cy="528.43" r="3"/>
<circle cx="256.53" cy="528.19" r="3"/>
<circle cx="256.46" cy="527.92" r="3"/>
<circle cx="256.25" cy="527.72" r="3"/>
<circle cx="256.06" cy="527.52" r="3"/>
<circle cx="255.95" cy="527.27" r="3"/>
<circle cx="255.9" cy="526.93" r="3"/>
<circle cx="255.6" cy="526.84" r="3"/>
<circle cx="255.24" cy="526.88" r="3"/>
<circle cx="263.77" cy="511.6" r="3"/>
<circle cx="262.24" cy="510.67" r="3"/>
<circle cx="260.54" cy="510.1" r="3"/>
<circle cx="254.4" cy="526.16" r="3"/>
<circle cx="254.12" cy="526.14" r="3"/>
<circle cx="253.84" cy="526.17" r="3"/>
<circle cx="253.57" cy="508.42" r="3"/>
<circle cx="253.29" cy="526.16" r="3"/>
<circle cx="252.98" cy="525.96" r="3"/>
<circle cx="252.74" cy="526.19" r="3"/>
<circle cx="252.47" cy="526.25" r="3"/>
<circle cx="252.22" cy="526.39" r="3"/>
<circle cx="252.04" cy="526.63" r="3"/>
<circle cx="251.77" cy="526.71" r="3"/>
<circle cx="251.51" cy="526.83" r="3"/>
<circle cx="251.4" cy="527.11" r="3"/>
<circle cx="251.07" cy="527.18" r="3"/>
<circle cx="250.97" cy="527.45" r="3"/>
<circle cx="250.82" cy="527.69" r="3"/>
<circle cx="250.71" cy="527.94" r="3"/>
<circle cx="234.8" cy="522.44" r="3"/>
<circle cx="233.71" cy="523.95" r="3"/>
<circle cx="233.55" cy="525.74" r="3"/>
<circle cx="233.17" cy="527.49" r="3"/>
<circle cx="233.22" cy="529.27" r="3"/>
<circle cx="233.38" cy="531.04" r="3"/>
<circle cx="233.4" cy="532.83" r="3"/>
<circle cx="234.22" cy="534.46" r="3"/>
<circle cx="234.78" cy="536.11" r="3"/>
<circle cx="235.24" cy="537.82" r="3"/>
<circle cx="236.42" cy="539.17" r="3"/>
<circle cx="237.06" cy="540.83" r="3"/>
<circle cx="238.22" cy="542.14" r="3"/>
<circle cx="239.61" cy="543.23" r="3"/>
<circle cx="241" cy="544.24" r="3"/>
<circle cx="242.46" cy="545.13" r="3"/>
<circle cx="243.47" cy="546.76" r="3"/>
<circle cx="245.35" cy="546.89" r="3"/>
<circle cx="246.9" cy="547.59" r="3"/>
<circle cx="248.41" cy="548.53" r="3"/>
<circle cx="250.12" cy="548.82" r="3"/>
<circle cx="251.84" cy="548.98" r="3"/>
<circle cx="253.57" cy="549.03" r="3"/>
<circle cx="255.28" cy="548.86" r="3"/>
<circle cx="256.96" cy="548.54" r="3"/>
<circle cx="258.64" cy="548.22" r="3"/>
<circle cx="260.38" cy="548" r="3"/>
<circle cx="262.04" cy="547.45" r="3"/>
<circle cx="263.62" cy="546.69" r="3"/>
<circle cx="264.97" cy="545.56" r="3"/>
<circle cx="266.07" cy="544.17" r="3"/>
<circle cx="267.78" cy="543.49" r="3"/>
<circle cx="268.9" cy="542.14" r="3"/>
<circle cx="269.57" cy="540.48" r="3"/>
<circle cx="271.32" cy="539.52" r="3"/>
<circle cx="271.99" cy="537.86" r="3"/>
<circle cx="272.69" cy="536.23" r="3"/>
<circle cx="273.35" cy="534.57" r="3"/>
<circle cx="273.8" cy="532.84" r="3"/>
<circle cx="274.13" cy="531.07" r="3"/>
<circle cx="271.98" cy="529.27" r="3"/>
<circle cx="271.93" cy="527.66" r="3"/>
<circle cx="271.85" cy="526.05" r="3"/>
<circle cx="271.48" cy="524.47" r="3"/>
<circle cx="271.39" cy="522.78" r="3"/>
<circle cx="270.35" cy="521.44" r="3"/>
<circle cx="269.49" cy="520.08" r="3"/>
<circle cx="268.62" cy="518.73" r="3"/>
<circle cx="267.79" cy="517.34" r="3"/>
<circle cx="266.66" cy="516.18" r="3"/>
<circle cx="265.49" cy="515.06" r="3"/>
<circle cx="264.15" cy="514.15" r="3"/>
<circle cx="262.8" cy="513.28" r="3"/>
<circle cx="261.45" cy="512.36" r="3"/>
<circle cx="259.99" cy="511.62" r="3"/>
<circle cx="254.35" cy="526.35" r="3"/>
<circle cx="254.06" cy="526.47" r="3"/>
<circle cx="253.82" cy="526.38" r="3"/>
<circle cx="253.57" cy="510.99" r="3"/>
<circle cx="253.29" cy="526.16" r="3"/>
<circle cx="253.06" cy="526.4" r="3"/>
<circle cx="252.84" cy="526.57" r="3"/>
<circle cx="252.59" cy="526.59" r="3"/>
<circle cx="252.38" cy="526.74" r="3"/>
<circle cx="252.16" cy="526.83" r="3"/>
<circle cx="251.92" cy="526.93" r="3"/>
<circle cx="251.76" cy="527.12" r="3"/>
<circle cx="251.52" cy="527.23" r="3"/>
<circle cx="251.49" cy="527.53" r="3"/>
<circle cx="251.22" cy="527.63" r="3"/>
<circle cx="251.16" cy="527.88" r="3"/>
<circle cx="251.01" cy="528.08" r="3"/>
<circle cx="236.31" cy="522.99" r="3"/>
<circle cx="235.97" cy="524.56" r="3"/>
<circle cx="235.68" cy="526.12" r="3"/>
<circle cx="235.59" cy="527.7" r="3"/>
<circle cx="235.39" cy="529.27" r="3"/>
<circle cx="235.77" cy="530.83" r="3"/>
<circle cx="236.16" cy="532.34" r="3"/>
<circle cx="236.06" cy="533.96" r="3"/>
<circle cx="236.82" cy="535.36" r="3"/>
<circle cx="237.35" cy="536.83" r="3"/>
<circle cx="238" cy="538.26" r="3"/>
<circle cx="238.8" cy="539.61" r="3"/>
<circle cx="240.37" cy="540.34" r="3"/>
<circle cx="241.14" cy="541.69" r="3"/>
<circle cx="242" cy="543.06" r="3"/>
<circle cx="243.58" cy="543.53" r="3"/>
<circle cx="244.66" cy="544.7" r="3"/>
<circle cx="246.11" cy="545.26" r="3"/>
<circle cx="247.57" cy="545.74" r="3"/>
<circle cx="248.99" cy="546.34" r="3"/>
<circle cx="250.55" cy="546.36" r="3"/>
<circle cx="252.02" cy="546.98" r="3"/>
<circle cx="253.57" cy="547.2" r="3"/>
<circle cx="255.08" cy="546.62" r="3"/>
<circle cx="256.62" cy="546.58" r="3"/>
<circle cx="258.21" cy="546.62" r="3"/>
<circle cx="259.66" cy="546.01" r="3"/>
<circle cx="261.04" cy="545.31" r="3"/>
<circle cx="262.6" cy="544.92" r="3"/>
<circle cx="263.59" cy="543.59" r="3"/>
<circle cx="265" cy="542.9" r="3"/>
<circle cx="266.23" cy="541.93" r="3"/>
<circle cx="267.26" cy="540.76" r="3"/>
<circle cx="268.43" cy="539.68" r="3"/>
<circle cx="268.91" cy="538.13" r="3"/>
<circle cx="269.98" cy="536.93" r="3"/>
<circle cx="270.49" cy="535.43" r="3"/>
<circle cx="271.4" cy="534.05" r="3"/>
<circle cx="271.78" cy="532.48" r="3"/>
<circle cx="271.69" cy="530.86" r="3"/>
<circle cx="269.57" cy="529.27" r="3"/>
<circle cx="269.72" cy="527.86" r="3"/>
<circle cx="269.42" cy="526.48" r="3"/>
<circle cx="269.18" cy="525.09" r="3"/>
<circle cx="268.93" cy="523.68" r="3"/>
<circle cx="268.25" cy="522.42" r="3"/>
<circle cx="267.95" cy="520.97" r="3"/>
<circle cx="266.92" cy="519.92" r="3"/>
<circle cx="265.97" cy="518.86" r="3"/>
<circle cx="264.95" cy="517.89" r="3"/>
<circle cx="263.98" cy="516.86" r="3"/>
<circle cx="263.03" cy="515.76" r="3"/>
<circle cx="261.77" cy="515.07" r="3"/>
<circle cx="260.56" cy="514.26" r="3"/>
<circle cx="259.22" cy="513.73" r="3"/>
<circle cx="257.81" cy="513.42" r="3"/>
<circle cx="256.38" cy="513.33" r="3"/>
<circle cx="254.98" cy="513.05" r="3"/>
<circle cx="253.57" cy="512.95" r="3"/>
<circle cx="252.17" cy="513.32" r="3"/>
<circle cx="250.72" cy="513.16" r="3"/>
<circle cx="249.4" cy="513.71" r="3"/>
<circle cx="248" cy="513.99" r="3"/>
<circle cx="246.73" cy="514.61" r="3"/>
<circle cx="245.39" cy="515.11" r="3"/>
<circle cx="243.99" cy="515.6" r="3"/>
<circle cx="243.28" cy="517.02" r="3"/>
<circle cx="242.12" cy="517.83" r="3"/>
<circle cx="251.63" cy="527.65" r="3"/>
<circle cx="251.53" cy="527.85" r="3"/>
<circle cx="251.3" cy="527.96" r="3"/>
<circle cx="251.35" cy="528.24" r="3"/>
<circle cx="238.42" cy="523.76" r="3"/>
<circle cx="238.35" cy="525.19" r="3"/>
<circle cx="237.75" cy="526.48" r="3"/>
<circle cx="237.54" cy="527.87" r="3"/>
<circle cx="237.16" cy="529.27" r="3"/>
<circle cx="237.71" cy="530.66" r="3"/>
<circle cx="238.01" cy="532.01" r="3"/>
<circle cx="238.21" cy="533.39" r="3"/>
<circle cx="239.1" cy="534.53" r="3"/>
<circle cx="239.17" cy="535.99" r="3"/>
<circle cx="239.64" cy="537.31" r="3"/>
<circle cx="240.64" cy="538.32" r="3"/>
<circle cx="241.49" cy="539.4" r="3"/>
<circle cx="242.46" cy="540.38" r="3"/>
<circle cx="243.44" cy="541.34" r="3"/>
<circle cx="244.67" cy="541.97" r="3"/>
<circle cx="245.57" cy="543.11" r="3"/>
<circle cx="246.96" cy="543.43" r="3"/>
<circle cx="248.23" cy="543.94" r="3"/>
<circle cx="249.43" cy="544.71" r="3"/>
<circle cx="250.84" cy="544.72" r="3"/>
<circle cx="252.2" cy="544.82" r="3"/>
<circle cx="253.57" cy="545.25" r="3"/>
<circle cx="254.94" cy="544.94" r="3"/>
<circle cx="256.32" cy="544.9" r="3"/>
<circle cx="257.61" cy="544.35" r="3"/>
<circle cx="258.84" cy="543.75" r="3"/>
<circle cx="260.23" cy="543.56" r="3"/>
<circle cx="261.57" cy="543.14" r="3"/>
<circle cx="262.57" cy="542.13" r="3"/>
<circle cx="263.77" cy="541.43" r="3"/>
<circle cx="264.86" cy="540.56" r="3"/>
<circle cx="265.76" cy="539.51" r="3"/>
<circle cx="266.61" cy="538.41" r="3"/>
<circle cx="267.5" cy="537.32" r="3"/>
<circle cx="268.1" cy="536.05" r="3"/>
<circle cx="268.56" cy="534.73" r="3"/>
<circle cx="269.29" cy="533.48" r="3"/>
<circle cx="269.6" cy="532.1" r="3"/>
<circle cx="269.74" cy="530.69" r="3"/>
<circle cx="267.76" cy="529.27" r="3"/>
<circle cx="267.2" cy="528.08" r="3"/>
<circle cx="267.51" cy="526.81" r="3"/>
<circle cx="267.22" cy="525.61" r="3"/>
<circle cx="266.56" cy="524.54" r="3"/>
<circle cx="266.68" cy="523.16" r="3"/>
<circle cx="265.87" cy="522.17" r="3"/>
<circle cx="265.1" cy="521.19" r="3"/>
<circle cx="264.37" cy="520.21" r="3"/>
<circle cx="263.61" cy="519.23" r="3"/>
<circle cx="262.67" cy="518.42" r="3"/>
<circle cx="261.55" cy="517.87" r="3"/>
<circle cx="260.62" cy="517.05" r="3"/>
<circle cx="259.59" cy="516.36" r="3"/>
<circle cx="258.45" cy="515.86" r="3"/>
<circle cx="257.27" cy="515.44" r="3"/>
<circle cx="256" cy="515.47" r="3"/>
<circle cx="254.79" cy="515.24" r="3"/>
<circle cx="253.57" cy="515.03" r="3"/>
<circle cx="252.34" cy="515.24" r="3"/>
<circle cx="251.1" cy="515.28" r="3"/>
<circle cx="249.93" cy="515.71" r="3"/>
<circle cx="248.69" cy="515.88" r="3"/>
<circle cx="247.58" cy="516.44" r="3"/>
<circle cx="246.45" cy="516.95" r="3"/>
<circle cx="245.46" cy="517.7" r="3"/>
<circle cx="244.58" cy="518.56" r="3"/>
<circle cx="243.74" cy="519.44" r="3"/>
<circle cx="242.78" cy="520.22" r="3"/>
<circle cx="242.13" cy="521.26" r="3"/>
<circle cx="241.61" cy="522.37" r="3"/>
<circle cx="240.94" cy="523.38" r="3"/>
<circle cx="240.3" cy="524.44" r="3"/>
<circle cx="239.88" cy="525.6" r="3"/>
<circle cx="239.7" cy="526.83" r="3"/>
<circle cx="239.47" cy="528.04" r="3"/>
<circle cx="239.71" cy="529.27" r="3"/>
<circle cx="239.75" cy="530.48" r="3"/>
<circle cx="240.05" cy="531.65" r="3"/>
<circle cx="240.3" cy="532.83" r="3"/>
<circle cx="240.33" cy="534.09" r="3"/>
<circle cx="240.98" cy="535.14" r="3"/>
<circle cx="241.52" cy="536.22" r="3"/>
<circle cx="241.94" cy="537.41" r="3"/>
<circle cx="242.78" cy="538.32" r="3"/>
<circle cx="243.93" cy="538.91" r="3"/>
<circle cx="244.63" cy="539.92" r="3"/>
<circle cx="245.75" cy="540.43" r="3"/>
<circle cx="246.62" cy="541.3" r="3"/>
<circle cx="247.89" cy="541.44" r="3"/>
<circle cx="248.92" cy="542.02" r="3"/>
<circle cx="250.05" cy="542.38" r="3"/>
<circle cx="251.13" cy="543.08" r="3"/>
<circle cx="252.39" cy="542.66" r="3"/>
<circle cx="253.57" cy="543.16" r="3"/>
<circle cx="254.78" cy="543.1" r="3"/>
<circle cx="255.95" cy="542.8" r="3"/>
<circle cx="257.15" cy="542.66" r="3"/>
<circle cx="258.4" cy="542.56" r="3"/>
<circle cx="259.39" cy="541.77" r="3"/>
<circle cx="260.43" cy="541.15" r="3"/>
<circle cx="261.59" cy="540.73" r="3"/>
<circle cx="262.52" cy="539.94" r="3"/>
<circle cx="263.21" cy="538.92" r="3"/>
<circle cx="264.2" cy="538.19" r="3"/>
<circle cx="264.97" cy="537.26" r="3"/>
<circle cx="265.45" cy="536.14" r="3"/>
<circle cx="266.06" cy="535.1" r="3"/>
<circle cx="266.6" cy="534.01" r="3"/>
<circle cx="266.91" cy="532.85" r="3"/>
<circle cx="267.47" cy="531.72" r="3"/>
<circle cx="267.62" cy="530.5" r="3"/>
<circle cx="265.27" cy="529.27" r="3"/>
<circle cx="265.48" cy="528.23" r="3"/>
<circle cx="265.43" cy="527.18" r="3"/>
<circle cx="265.02" cy="526.2" r="3"/>
<circle cx="264.85" cy="525.16" r="3"/>
<circle cx="264.52" cy="524.16" r="3"/>
<circle cx="263.81" cy="523.36" r="3"/>
<circle cx="263.41" cy="522.38" r="3"/>
<circle cx="262.56" cy="521.72" r="3"/>
<circle cx="262.17" cy="520.67" r="3"/>
<circle cx="261.26" cy="520.1" r="3"/>
<circle cx="260.38" cy="519.54" r="3"/>
<circle cx="259.48" cy="519.03" r="3"/>
<circle cx="258.58" cy="518.52" r="3"/>
<circle cx="257.76" cy="517.76" r="3"/>
<circle cx="256.66" cy="517.71" r="3"/>
<circle cx="255.65" cy="517.45" r="3"/>
<circle cx="254.61" cy="517.29" r="3"/>
<circle cx="253.57" cy="517.39" r="3"/>
<circle cx="252.5" cy="517.14" r="3"/>
<circle cx="251.53" cy="517.71" r="3"/>
<circle cx="250.41" cy="517.5" r="3"/>
<circle cx="249.48" cy="518.03" r="3"/>
<circle cx="248.47" cy="518.34" r="3"/>
<circle cx="247.52" cy="518.81" r="3"/>
<circle cx="246.6" cy="519.32" r="3"/>
<circle cx="245.94" cy="520.19" r="3"/>
<circle cx="245.01" cy="520.72" r="3"/>
<circle cx="244.38" cy="521.56" r="3"/>
<circle cx="243.77" cy="522.41" r="3"/>
<circle cx="243.23" cy="523.3" r="3"/>
<circle cx="242.59" cy="524.15" r="3"/>
<circle cx="242.28" cy="525.17" r="3"/>
<circle cx="241.88" cy="526.14" r="3"/>
<circle cx="241.71" cy="527.18" r="3"/>
<circle cx="241.98" cy="528.26" r="3"/>
<circle cx="241.7" cy="529.27" r="3"/>
<circle cx="241.61" cy="530.32" r="3"/>
<circle cx="242.01" cy="531.31" r="3"/>
<circle cx="242.35" cy="532.28" r="3"/>
<circle cx="242.75" cy="533.21" r="3"/>
<circle cx="242.62" cy="534.38" r="3"/>
<circle cx="243.46" cy="535.11" r="3"/>
<circle cx="243.89" cy="536.04" r="3"/>
<circle cx="244.66" cy="536.75" r="3"/>
<circle cx="245.21" cy="537.63" r="3"/>
<circle cx="245.86" cy="538.45" r="3"/>
<circle cx="246.94" cy="538.73" r="3"/>
<circle cx="247.7" cy="539.43" r="3"/>
<circle cx="248.65" cy="539.81" r="3"/>
<circle cx="249.64" cy="540.06" r="3"/>
<circle cx="250.56" cy="540.48" r="3"/>
<circle cx="251.53" cy="540.82" r="3"/>
<circle cx="252.53" cy="541.12" r="3"/>
<circle cx="253.57" cy="541.17" r="3"/>
<circle cx="254.59" cy="540.96" r="3"/>
<circle cx="255.56" cy="540.61" r="3"/>
<circle cx="256.63" cy="540.7" r="3"/>
<circle cx="257.58" cy="540.31" r="3"/>
<circle cx="258.53" cy="539.92" r="3"/>
<circle cx="259.37" cy="539.33" r="3"/>
<circle cx="260.31" cy="538.9" r="3"/>
<circle cx="261.32" cy="538.51" r="3"/>
<circle cx="262.06" cy="537.76" r="3"/>
<circle cx="262.76" cy="536.98" r="3"/>
<circle cx="263.34" cy="536.12" r="3"/>
<circle cx="263.79" cy="535.18" r="3"/>
<circle cx="264.34" cy="534.3" r="3"/>
<circle cx="264.78" cy="533.35" r="3"/>
<circle cx="265.14" cy="532.37" r="3"/>
<circle cx="265.29" cy="531.34" r="3"/>
<circle cx="265.38" cy="530.3" r="3"/>
<circle cx="263.64" cy="529.27" r="3"/>
<circle cx="263.44" cy="528.41" r="3"/>
<circle cx="263.47" cy="527.52" r="3"/>
<circle cx="263.18" cy="526.7" r="3"/>
<circle cx="263.01" cy="525.83" r="3"/>
<circle cx="262.67" cy="525.03" r="3"/>
<circle cx="262.29" cy="524.24" r="3"/>
<circle cx="261.81" cy="523.5" r="3"/>
<circle cx="261.14" cy="522.92" r="3"/>
<circle cx="260.53" cy="522.31" r="3"/>
<circle cx="259.99" cy="521.61" r="3"/>
<circle cx="259.41" cy="520.92" r="3"/>
<circle cx="258.52" cy="520.69" r="3"/>
<circle cx="257.75" cy="520.29" r="3"/>
<circle cx="257.08" cy="519.62" r="3"/>
<circle cx="256.11" cy="519.77" r="3"/>
<circle cx="255.29" cy="519.47" r="3"/>
<circle cx="254.43" cy="519.34" r="3"/>
<circle cx="253.57" cy="519.34" r="3"/>
<circle cx="252.7" cy="519.37" r="3"/>
<circle cx="251.81" cy="519.3" r="3"/>
<circle cx="250.97" cy="519.59" r="3"/>
<circle cx="250.14" cy="519.86" r="3"/>
<circle cx="249.42" cy="520.38" r="3"/>
<circle cx="248.53" cy="520.54" r="3"/>
<circle cx="247.83" cy="521.08" r="3"/>
<circle cx="247.14" cy="521.62" r="3"/>
<circle cx="246.45" cy="522.16" r="3"/>
<circle cx="245.91" cy="522.85" r="3"/>
<circle cx="245.42" cy="523.57" r="3"/>
<circle cx="244.92" cy="524.28" r="3"/>
<circle cx="244.64" cy="525.11" r="3"/>
<circle cx="244.34" cy="525.91" r="3"/>
<circle cx="244.14" cy="526.75" r="3"/>
<circle cx="243.71" cy="527.53" r="3"/>
<circle cx="243.79" cy="528.42" r="3"/>
<circle cx="243.67" cy="529.27" r="3"/>
<circle cx="243.61" cy="530.14" r="3"/>
<circle cx="243.66" cy="531.02" r="3"/>
<circle cx="244.09" cy="531.81" r="3"/>
<circle cx="244.3" cy="532.64" r="3"/>
<circle cx="244.65" cy="533.43" r="3"/>
<circle cx="245.19" cy="534.11" r="3"/>
<circle cx="245.57" cy="534.87" r="3"/>
<circle cx="245.81" cy="535.78" r="3"/>
<circle cx="246.64" cy="536.19" r="3"/>
<circle cx="247.14" cy="536.93" r="3"/>
<circle cx="247.9" cy="537.36" r="3"/>
<circle cx="248.57" cy="537.91" r="3"/>
<circle cx="249.37" cy="538.27" r="3"/>
<circle cx="250.21" cy="538.48" r="3"/>
<circle cx="251.07" cy="538.58" r="3"/>
<circle cx="251.84" cy="539.05" r="3"/>
<circle cx="252.71" cy="539.09" r="3"/>
<circle cx="253.57" cy="539.1" r="3"/>
<circle cx="254.43" cy="539.11" r="3"/>
<circle cx="255.25" cy="538.81" r="3"/>
<circle cx="256.1" cy="538.73" r="3"/>
<circle cx="256.91" cy="538.47" r="3"/>
<circle cx="257.63" cy="537.99" r="3"/>
<circle cx="258.4" cy="537.64" r="3"/>
<circle cx="259.18" cy="537.29" r="3"/>
<circle cx="259.71" cy="536.6" r="3"/>
<circle cx="260.57" cy="536.28" r="3"/>
<circle cx="261.17" cy="535.65" r="3"/>
<circle cx="261.63" cy="534.92" r="3"/>
<circle cx="262.13" cy="534.22" r="3"/>
<circle cx="262.33" cy="533.36" r="3"/>
<circle cx="262.88" cy="532.66" r="3"/>
<circle cx="263.22" cy="531.86" r="3"/>
<circle cx="263.39" cy="531" r="3"/>
<circle cx="263.56" cy="530.15" r="3"/>
<circle cx="261.49" cy="529.27" r="3"/>
<circle cx="261.65" cy="528.56" r="3"/>
<circle cx="261.42" cy="527.89" r="3"/>
<circle cx="261.31" cy="527.2" r="3"/>
<circle cx="261.13" cy="526.52" r="3"/>
<circle cx="260.71" cy="525.94" r="3"/>
<circle cx="260.37" cy="525.34" r="3"/>
<circle cx="260.14" cy="524.67" r="3"/>
<circle cx="259.58" cy="524.23" r="3"/>
<circle cx="259.16" cy="523.68" r="3"/>
<circle cx="258.74" cy="523.1" r="3"/>
<circle cx="258.08" cy="522.82" r="3"/>
<circle cx="257.51" cy="522.45" r="3"/>
<circle cx="256.89" cy="522.15" r="3"/>
<circle cx="256.26" cy="521.87" r="3"/>
<circle cx="255.67" cy="521.4" r="3"/>
<circle cx="254.96" cy="521.37" r="3"/>
<circle cx="254.27" cy="521.24" r="3"/>
<circle cx="253.57" cy="521.47" r="3"/>
<circle cx="252.89" cy="521.55" r="3"/>
<circle cx="252.2" cy="521.52" r="3"/>
<circle cx="251.48" cy="521.48" r="3"/>
<circle cx="250.8" cy="521.69" r="3"/>
<circle cx="250.28" cy="522.22" r="3"/>
<circle cx="249.66" cy="522.52" r="3"/>
<circle cx="248.97" cy="522.71" r="3"/>
<circle cx="248.44" cy="523.16" r="3"/>
<circle cx="247.92" cy="523.63" r="3"/>
<circle cx="247.44" cy="524.13" r="3"/>
<circle cx="247.14" cy="524.77" r="3"/>
<circle cx="246.69" cy="525.3" r="3"/>
<circle cx="246.41" cy="525.93" r="3"/>
<circle cx="246.02" cy="526.53" r="3"/>
<circle cx="245.95" cy="527.23" r="3"/>
<circle cx="245.95" cy="527.93" r="3"/>
<circle cx="245.59" cy="528.57" r="3"/>
<circle cx="245.51" cy="529.27" r="3"/>
<circle cx="245.63" cy="529.97" r="3"/>
<circle cx="245.84" cy="530.63" r="3"/>
<circle cx="246.05" cy="531.29" r="3"/>
<circle cx="246.09" cy="531.99" r="3"/>
<circle cx="246.49" cy="532.57" r="3"/>
<circle cx="246.73" cy="533.22" r="3"/>
<circle cx="247.08" cy="533.81" r="3"/>
<circle cx="247.57" cy="534.3" r="3"/>
<circle cx="248.15" cy="534.68" r="3"/>
<circle cx="248.5" cy="535.31" r="3"/>
<circle cx="249.13" cy="535.61" r="3"/>
<circle cx="249.72" cy="535.93" r="3"/>
<circle cx="250.26" cy="536.36" r="3"/>
<circle cx="250.89" cy="536.63" r="3"/>
<circle cx="251.54" cy="536.82" r="3"/>
<circle cx="252.2" cy="537.03" r="3"/>
<circle cx="252.9" cy="536.89" r="3"/>
<circle cx="253.57" cy="537.14" r="3"/>
<circle cx="254.26" cy="537.21" r="3"/>
<circle cx="254.92" cy="536.97" r="3"/>
<circle cx="255.58" cy="536.79" r="3"/>
<circle cx="256.24" cy="536.61" r="3"/>
<circle cx="256.92" cy="536.47" r="3"/>
<circle cx="257.47" cy="536.04" r="3"/>
<circle cx="258.02" cy="535.63" r="3"/>
<circle cx="258.51" cy="535.16" r="3"/>
<circle cx="259.21" cy="534.91" r="3"/>
<circle cx="259.69" cy="534.41" r="3"/>
<circle cx="260.01" cy="533.78" r="3"/>
<circle cx="260.55" cy="533.3" r="3"/>
<circle cx="260.68" cy="532.59" r="3"/>
<circle cx="261.04" cy="531.99" r="3"/>
<circle cx="261.08" cy="531.29" r="3"/>
<circle cx="261.27" cy="530.63" r="3"/>
<circle cx="261.45" cy="529.96" r="3"/>
<circle cx="259.53" cy="529.27" r="3"/>
<circle cx="259.52" cy="528.75" r="3"/>
<circle cx="259.35" cy="528.25" r="3"/>
<circle cx="259.27" cy="527.74" r="3"/>
<circle cx="259.14" cy="527.24" r="3"/>
<circle cx="258.94" cy="526.77" r="3"/>
<circle cx="258.7" cy="526.31" r="3"/>
<circle cx="258.48" cy="525.83" r="3"/>
<circle cx="258.18" cy="525.39" r="3"/>
<circle cx="257.69" cy="525.15" r="3"/>
<circle cx="257.45" cy="524.64" r="3"/>
<circle cx="256.99" cy="524.38" r="3"/>
<circle cx="256.55" cy="524.09" r="3"/>
<circle cx="256.09" cy="523.85" r="3"/>
<circle cx="255.63" cy="523.61" r="3"/>
<circle cx="255.12" cy="523.47" r="3"/>
<circle cx="254.58" cy="523.5" r="3"/>
<circle cx="254.09" cy="523.27" r="3"/>
<circle cx="253.57" cy="523.39" r="3"/>
<circle cx="253.04" cy="523.31" r="3"/>
<circle cx="252.53" cy="523.39" r="3"/>
<circle cx="252.05" cy="523.62" r="3"/>
<circle cx="251.53" cy="523.67" r="3"/>
<circle cx="251.06" cy="523.89" r="3"/>
<circle cx="250.61" cy="524.16" r="3"/>
<circle cx="250.07" cy="524.28" r="3"/>
<circle cx="249.74" cy="524.71" r="3"/>
<circle cx="249.38" cy="525.09" r="3"/>
<circle cx="248.92" cy="525.38" r="3"/>
<circle cx="248.7" cy="525.87" r="3"/>
<circle cx="248.43" cy="526.31" r="3"/>
<circle cx="248.31" cy="526.82" r="3"/>
<circle cx="247.96" cy="527.23" r="3"/>
<circle cx="247.78" cy="527.72" r="3"/>
<circle cx="247.61" cy="528.22" r="3"/>
<circle cx="247.74" cy="528.76" r="3"/>
<circle cx="247.58" cy="529.27" r="3"/>
<circle cx="247.58" cy="529.79" r="3"/>
<circle cx="247.7" cy="530.3" r="3"/>
<circle cx="247.86" cy="530.8" r="3"/>
<circle cx="248.13" cy="531.25" r="3"/>
<circle cx="248.21" cy="531.77" r="3"/>
<circle cx="248.5" cy="532.2" r="3"/>
<circle cx="248.84" cy="532.58" r="3"/>
<circle cx="249.02" cy="533.08" r="3"/>
<circle cx="249.41" cy="533.43" r="3"/>
<circle cx="249.79" cy="533.76" r="3"/>
<circle cx="250.12" cy="534.2" r="3"/>
<circle cx="250.64" cy="534.33" r="3"/>
<circle cx="251.14" cy="534.47" r="3"/>
<circle cx="251.61" cy="534.65" r="3"/>
<circle cx="252.04" cy="534.98" r="3"/>
<circle cx="252.55" cy="535.04" r="3"/>
<circle cx="253.06" cy="535.07" r="3"/>
<circle cx="253.57" cy="535" r="3"/>
<circle cx="254.07" cy="535.07" r="3"/>
<circle cx="254.57" cy="534.98" r="3"/>
<circle cx="255.08" cy="534.94" r="3"/>
<circle cx="255.56" cy="534.74" r="3"/>
<circle cx="256.03" cy="534.55" r="3"/>
<circle cx="256.5" cy="534.36" r="3"/>
<circle cx="256.91" cy="534.05" r="3"/>
<circle cx="257.36" cy="533.8" r="3"/>
<circle cx="257.57" cy="533.27" r="3"/>
<circle cx="258.02" cy="533.01" r="3"/>
<circle cx="258.46" cy="532.7" r="3"/>
<circle cx="258.69" cy="532.23" r="3"/>
<circle cx="258.85" cy="531.74" r="3"/>
<circle cx="259.11" cy="531.29" r="3"/>
<circle cx="259.24" cy="530.79" r="3"/>
<circle cx="259.37" cy="530.29" r="3"/>
<circle cx="259.56" cy="529.8" r="3"/>
<circle cx="257.49" cy="529.27" r="3"/>
<circle cx="257.51" cy="528.93" r="3"/>
<circle cx="257.42" cy="528.59" r="3"/>
<circle cx="257.35" cy="528.26" r="3"/>
<circle cx="257.21" cy="527.94" r="3"/>
<circle cx="257.12" cy="527.61" r="3"/>
<circle cx="256.97" cy="527.3" r="3"/>
<circle cx="256.79" cy="527.01" r="3"/>
<circle cx="256.6" cy="526.73" r="3"/>
<circle cx="256.37" cy="526.47" r="3"/>
<circle cx="256.13" cy="526.22" r="3"/>
<circle cx="255.83" cy="526.04" r="3"/>
<circle cx="255.58" cy="525.79" r="3"/>
<circle cx="255.25" cy="525.66" r="3"/>
<circle cx="254.94" cy="525.49" r="3"/>
<circle cx="254.59" cy="525.45" r="3"/>
<circle cx="254.26" cy="525.32" r="3"/>
<circle cx="253.91" cy="525.32" r="3"/>
<circle cx="253.57" cy="525.38" r="3"/>
<circle cx="253.22" cy="525.33" r="3"/>
<circle cx="252.88" cy="525.38" r="3"/>
<circle cx="252.56" cy="525.51" r="3"/>
<circle cx="252.23" cy="525.59" r="3"/>
<circle cx="251.9" cy="525.71" r="3"/>
<circle cx="251.53" cy="525.75" r="3"/>
<circle cx="251.29" cy="526.02" r="3"/>
<circle cx="250.97" cy="526.18" r="3"/>
<circle cx="250.74" cy="526.44" r="3"/>
<circle cx="250.5" cy="526.7" r="3"/>
<circle cx="250.3" cy="526.98" r="3"/>
<circle cx="250.2" cy="527.33" r="3"/>
<circle cx="249.93" cy="527.58" r="3"/>
<circle cx="249.9" cy="527.94" r="3"/>
<circle cx="249.73" cy="528.24" r="3"/>
<circle cx="1426.33" cy="736.06" r="3"/>
<circle cx="650.58" cy="564.01" r="3"/>
<circle cx="495.87" cy="529.27" r="3"/>
<circle cx="534.45" cy="504.7" r="3"/>
<circle cx="811.8" cy="430.84" r="3"/>
<circle cx="249.76" cy="530.29" r="3"/>
<circle cx="249.83" cy="530.63" r="3"/>
<circle cx="249.9" cy="530.98" r="3"/>
<circle cx="250.14" cy="531.25" r="3"/>
<circle cx="250.34" cy="531.53" r="3"/>
<circle cx="250.6" cy="531.76" r="3"/>
<circle cx="250.81" cy="532.03" r="3"/>
<circle cx="251.04" cy="532.28" r="3"/>
<circle cx="251.3" cy="532.51" r="3"/>
<circle cx="251.59" cy="532.7" r="3"/>
<circle cx="251.91" cy="532.83" r="3"/>
<circle cx="252.22" cy="532.97" r="3"/>
<circle cx="252.53" cy="533.13" r="3"/>
<circle cx="252.87" cy="533.22" r="3"/>
<circle cx="253.22" cy="533.23" r="3"/>
<circle cx="253.57" cy="533.26" r="3"/>
<circle cx="253.91" cy="533.24" r="3"/>
<circle cx="254.26" cy="533.22" r="3"/>
<circle cx="254.57" cy="533.01" r="3"/>
<circle cx="254.9" cy="532.94" r="3"/>
<circle cx="255.23" cy="532.84" r="3"/>
<circle cx="255.54" cy="532.69" r="3"/>
<circle cx="255.85" cy="532.54" r="3"/>
<circle cx="256.04" cy="532.22" r="3"/>
<circle cx="256.35" cy="532.06" r="3"/>
<circle cx="256.59" cy="531.81" r="3"/>
<circle cx="256.76" cy="531.51" r="3"/>
<circle cx="256.97" cy="531.24" r="3"/>
<circle cx="257.18" cy="530.96" r="3"/>
<circle cx="257.29" cy="530.63" r="3"/>
<circle cx="257.37" cy="530.29" r="3"/>
<circle cx="257.46" cy="529.96" r="3"/>
<circle cx="257.49" cy="529.61" r="3"/>
<circle cx="255.56" cy="529.27" r="3"/>
<circle cx="255.53" cy="529.1" r="3"/>
<circle cx="255.53" cy="528.92" r="3"/>
<circle cx="255.46" cy="528.76" r="3"/>
<circle cx="255.42" cy="528.6" r="3"/>
<circle cx="255.33" cy="528.45" r="3"/>
<circle cx="255.27" cy="528.29" r="3"/>
<circle cx="255.2" cy="528.13" r="3"/>
<circle cx="255.06" cy="528.01" r="3"/>
<circle cx="254.96" cy="527.88" r="3"/>
<circle cx="254.84" cy="527.75" r="3"/>
<circle cx="254.7" cy="527.66" r="3"/>
<circle cx="254.56" cy="527.54" r="3"/>
<circle cx="254.39" cy="527.5" r="3"/>
<circle cx="254.25" cy="527.39" r="3"/>
<circle cx="254.08" cy="527.33" r="3"/>
<circle cx="253.92" cy="527.29" r="3"/>
<circle cx="253.74" cy="527.3" r="3"/>
<circle cx="253.57" cy="527.31" r="3"/>
<circle cx="253.4" cy="527.34" r="3"/>
<circle cx="253.22" cy="527.31" r="3"/>
<circle cx="253.05" cy="527.34" r="3"/>
<circle cx="252.89" cy="527.41" r="3"/>
<circle cx="252.73" cy="527.47" r="3"/>
<circle cx="252.57" cy="527.55" r="3"/>
<circle cx="252.44" cy="527.66" r="3"/>
<circle cx="252.32" cy="527.78" r="3"/>
<circle cx="252.19" cy="527.9" r="3"/>
<circle cx="252.06" cy="528.01" r="3"/>
<circle cx="251.96" cy="528.15" r="3"/>
<circle cx="251.89" cy="528.3" r="3"/>
<circle cx="251.78" cy="528.44" r="3"/>
<circle cx="251.73" cy="528.6" r="3"/>
<circle cx="251.64" cy="528.76" r="3"/>
<circle cx="251.62" cy="528.93" r="3"/>
<circle cx="251.58" cy="529.1" r="3"/>
<circle cx="251.62" cy="529.27" r="3"/>
<circle cx="251.62" cy="529.44" r="3"/>
<circle cx="251.66" cy="529.61" r="3"/>
<circle cx="251.65" cy="529.78" r="3"/>
<circle cx="251.65" cy="529.97" r="3"/>
<circle cx="251.77" cy="530.11" r="3"/>
<circle cx="251.87" cy="530.25" r="3"/>
<circle cx="251.95" cy="530.4" r="3"/>
<circle cx="252.06" cy="530.54" r="3"/>
<circle cx="252.16" cy="530.68" r="3"/>
<circle cx="252.3" cy="530.78" r="3"/>
<circle cx="252.45" cy="530.87" r="3"/>
<circle cx="252.6" cy="530.94" r="3"/>
<circle cx="252.73" cy="531.06" r="3"/>
<circle cx="252.88" cy="531.14" r="3"/>
<circle cx="253.05" cy="531.18" r="3"/>
<circle cx="253.23" cy="531.19" r="3"/>
<circle cx="253.39" cy="531.22" r="3"/>
<circle cx="253.57" cy="531.23" r="3"/>
<circle cx="253.74" cy="531.25" r="3"/>
<circle cx="253.91" cy="531.21" r="3"/>
<circle cx="254.08" cy="531.2" r="3"/>
<circle cx="254.24" cy="531.12" r="3"/>
<circle cx="254.39" cy="531.04" r="3"/>
<circle cx="254.57" cy="531.01" r="3"/>
<circle cx="254.68" cy="530.87" r="3"/>
<circle cx="254.82" cy="530.77" r="3"/>
<circle cx="254.99" cy="530.7" r="3"/>
<circle cx="255.08" cy="530.54" r="3"/>
<circle cx="255.21" cy="530.42" r="3"/>
<circle cx="255.22" cy="530.23" r="3"/>
<circle cx="255.38" cy="530.12" r="3"/>
<circle cx="255.42" cy="529.95" r="3"/>
<circle cx="255.47" cy="529.78" r="3"/>
<circle cx="255.52" cy="529.62" r="3"/>
<circle cx="255.47" cy="529.44" r="3"/>
<circle cx="253.57" cy="529.27" r="3"/>
<circle cx="257" cy="517.87" r="3"/>
<circle cx="270.43" cy="527.75" r="3"/>
<circle cx="265.02" cy="509.45" r="3"/>
<circle cx="256.45" cy="528.72" r="3"/>
<circle cx="251.86" cy="526.59" r="3"/>
<circle cx="254.27" cy="528" r="3"/>
<circle cx="254.21" cy="527.62" r="3"/>
<circle cx="153.92" cy="501.4" r="3"/>
<circle cx="164.19" cy="485.96" r="3"/>
<circle cx="277.48" cy="430.78" r="3"/>
<circle cx="233.09" cy="499.79" r="3"/>
<circle cx="221.49" cy="508.56" r="3"/>
<circle cx="275.7" cy="527.87" r="3"/>
<circle cx="216.63" cy="485.94" r="3"/>
<circle cx="253.57" cy="529.27" r="3"/>
</g>
<g id="PathCollection_2"/>
<g id="matplotlib.axis_1">
<g id="xtick_23">
<g id="line2d_26">
<defs>
<path id="mce7d612013" d="M 0 0 
L 0 3.5 
" style="stroke: #000000; stroke-width: 0.8"/>
</defs>
<g>
<use href="#mce7d612013" x="218.5200" y="577.0800" style="stroke: #000000; stroke-width: 0.8"/>
</g>
</g>
<g id="text_28">
<text style="font-size: 10px; font-family: 'DejaVu Sans', sans-serif; text-anchor: middle" x="218.049522" y="591.318438" transform="rotate(-0 218.049522 591.318438)">−500</text>
</g>
</g>
<g id="xtick_24">
<g id="line2d_27">
<g>
<use href="#mce7d612013" x="253.8000" y="577.0800" style="stroke: #000000; stroke-width: 0.8"/>
</g>
</g>
<g id="text_29">
<text style="font-size: 10px; font-family: 'DejaVu Sans', sans-serif; text-anchor: middle" x="253.565217" y="591.318438" transform="rotate(-0 253.565217 591.318438)">0</text>
</g>
</g>
<g id="xtick_25">
<g id="line2d_28">
<g>
<use href="#mce7d612013" x="289.8000" y="577.0800" style="stroke: #000000; stroke-width: 0.8"/>
</g>
</g>
<g id="text_30">
<text style="font-size: 10px; font-family: 'DejaVu Sans', sans-serif; text-anchor: middle" x="289.080912" y="591.318438" transform="rotate(-0 289.080912 591.318438)">500</text>
</g>
</g>
<g id="text_31">
<text style="font-size: 10px; font-family: 'DejaVu Sans', sans-serif; text-anchor: middle" x="253.565217" y="604.996562" transform="rotate(-0 253.565217 604.996562)">X (cm)</text>
</g>
</g>
<g id="matplotlib.axis_2">
<g id="ytick_1">
<g id="line2d_29">
<defs>
<path id="m246406a397" d="M 0 0 
L -3.5 0 
" style="stroke: #000000; stroke-width: 0.8"/>
</defs>
<g>
<use href="#m246406a397" x="206.2800" y="564.8400" style="stroke: #000000; stroke-width: 0.8"/>
</g>
</g>
<g id="text_32">
<text style="font-size: 10px; font-family: 'DejaVu Sans', sans-serif; text-anchor: end" x="198.832123" y="568.585945" transform="rotate(-0 198.832123 568.585945)">−500</text>
</g>
</g>
<g id="ytick_2">
<g id="line2d_30">
<g>
<use href="#m246406a397" x="206.2800" y="529.5600" style="stroke: #000000; stroke-width: 0.8"/>
</g>
</g>
<g id="text_33">
<text style="font-size: 10px; font-family: 'DejaVu Sans', sans-serif; text-anchor: end" x="198.832123" y="533.07025" transform="rotate(-0 198.832123 533.07025)">0</text>
</g>
</g>
<g id="ytick_3">
<g id="line2d_31">
<g>
<use href="#m246406a397" x="206.2800" y="494.2800" style="stroke: #000000; stroke-width: 0.8"/>
</g>
</g>
<g id="text_34">
<text style="font-size: 10px; font-family: 'DejaVu Sans', sans-serif; text-anchor: end" x="198.832123" y="497.554555" transform="rotate(-0 198.832123 497.554555)">500</text>
</g>
</g>
<g id="text_35">
<text style="font-size: 10px; font-family: 'DejaVu Sans', sans-serif; text-anchor: middle" x="165.285248" y="529.2" transform="rotate(-90 165.285248 529.2)">Y (cm)</text>
</g>
</g>
<g id="patch_8">
<path d="M 206.2800 577.0800 
L 206.2800 482.0400 
" style="fill: none; stroke: #000000; stroke-width: 0.8; stroke-linejoin: miter; stroke-linecap: square"/>
</g>
<g id="patch_9">
<path d="M 301.3200 577.0800 
L 301.3200 482.0400 
" style="fill: none; stroke: #000000; stroke-width: 0.8; stroke-linejoin: miter; stroke-linecap: square"/>
</g>
<g id="patch_10">
<path d="M 206.2800 577.0800 
L 301.3200 577.0800 
" style="fill: none; stroke: #000000; stroke-width: 0.8; stroke-linejoin: miter; stroke-linecap: square"/>
</g>
<g id="patch_11">
<path d="M 206.2800 482.0400 
L 301.3200 482.0400 
" style="fill: none; stroke: #000000; stroke-width: 0.8; stroke-linejoin: miter; stroke-linecap: square"/>
</g>
<g id="text_36">
<text style="font-size: 12px; font-family: 'DejaVu Sans', sans-serif; text-anchor: middle" x="253.565217" y="475.68" transform="rotate(-0 253.565217 475.68)">LiDAR Point 2D Coordinate Graph</text>
</g>
<g id="legend_2" transform="translate(0,0.7)">
<g id="patch_12" transform="translate(-0.4,-0.5)">
<path d="M 313.071621 519.03625 
L 370.574746 519.03625 
Q 372.574746 519.03625 372.574746 517.03625 
L 372.574746 488.68 
Q 372.574746 486.68 370.574746 486.68 
L 313.071621 486.68 
Q 311.071621 486.68 311.071621 488.68 
L 311.071621 517.03625 
Q 311.071621 519.03625 313.071621 519.03625 
z
" style="fill: #ffffff; opacity: 0.8; stroke: #cccccc; stroke-linejoin: miter"/>
</g>
<g id="PathCollection_3">
<g>
<use href="#mc5a0bc1600" x="325.071621" y="495.653437" style="fill: #90ee90; stroke: #90ee90"/>
</g>
</g>
<g id="text_37">
<text style="font-size: 10px; font-family: 'DejaVu Sans', sans-serif; text-anchor: start" x="343.071621" y="498.278437" transform="rotate(-0 343.071621 498.278437)">point</text>
</g>
<g id="PathCollection_4">
<defs>
<path id="mbdc3f9c54c" d="M 0 3 
C 0.795609 3 1.55874 2.683901 2.12132 2.12132 
C 2.683901 1.55874 3 0.795609 3 0 
C 3 -0.795609 2.683901 -1.55874 2.12132 -2.12132 
C 1.55874 -2.683901 0.795609 -3 0 -3 
C -0.795609 -3 -1.55874 -2.683901 -2.12132 -2.12132 
C -2.683901 -1.55874 -3 -0.795609 -3 0 
C -3 0.795609 -2.683901 1.55874 -2.12132 2.12132 
C -1.55874 2.683901 -0.795609 3 0 3 
z
" style="stroke: #0000ff"/>
</defs>
<g>
<use href="#mbdc3f9c54c" x="325.071621" y="510.331563" style="fill: #0000ff; stroke: #0000ff"/>
</g>
</g>
<g id="text_38">
<text style="font-size: 10px; font-family: 'DejaVu Sans', sans-serif; text-anchor: start" x="343.071621" y="512.956563" transform="rotate(-0 343.071621 512.956563)">wall</text>
</g>
</g>
</g>
<g id="axes_3">
<g id="patch_13">
<path d="M 486.7200 576.7200 
L 777.6000 576.7200 
L 777.6000 481.6800 
L 486.7200 481.6800 
z
" style="fill: #ffffff"/>
</g>
<g id="patch_14">
<path d="M 486.7200 576.7200 
L 637.9200 576.7200 
L 637.9200 540.7200 
L 486.7200 540.7200 
z
" clip-path="url(#pe5ddb68075)" style="fill: #0000ff"/>
</g>
<g id="patch_15">
<path d="M 637.2000 576.7200 
L 777.6000 576.7200 
L 777.6000 486.0000 
L 637.2000 486.0000 
z
" clip-path="url(#pe5ddb68075)" style="fill: #0000ff"/>
</g>
<g id="matplotlib.axis_3">
<g id="xtick_26">
<g id="line2d_32">
<g>
<use href="#mce7d612013" x="487.0800" y="577.0800" style="stroke: #000000; stroke-width: 0.8"/>
</g>
</g>
<g id="text_39">
<text style="font-size: 10px; font-family: 'DejaVu Sans', sans-serif; text-anchor: middle" x="486.469565" y="591.318438" transform="rotate(-0 486.469565 591.318438)">0</text>
</g>
</g>
<g id="xtick_27">
<g id="line2d_33">
<g>
<use href="#mce7d612013" x="523.0800" y="577.0800" style="stroke: #000000; stroke-width: 0.8"/>
</g>
</g>
<g id="text_40">
<text style="font-size: 10px; font-family: 'DejaVu Sans', sans-serif; text-anchor: middle" x="522.997851" y="591.318438" transform="rotate(-0 522.997851 591.318438)">100</text>
</g>
</g>
<g id="xtick_28">
<g id="line2d_34">
<g>
<use href="#mce7d612013" x="559.8000" y="577.0800" style="stroke: #000000; stroke-width: 0.8"/>
</g>
</g>
<g id="text_41">
<text style="font-size: 10px; font-family: 'DejaVu Sans', sans-serif; text-anchor: middle" x="559.526136" y="591.318438" transform="rotate(-0 559.526136 591.318438)">200</text>
</g>
</g>
<g id="xtick_29">
<g id="line2d_35">
<g>
<use href="#mce7d612013" x="596.5200" y="577.0800" style="stroke: #000000; stroke-width: 0.8"/>
</g>
</g>
<g id="text_42">
<text style="font-size: 10px; font-family: 'DejaVu Sans', sans-serif; text-anchor: middle" x="596.054421" y="591.318438" transform="rotate(-0 596.054421 591.318438)">300</text>
</g>
</g>
<g id="xtick_30">
<g id="line2d_36">
<g>
<use href="#mce7d612013" x="633.2400" y="577.0800" style="stroke: #000000; stroke-width: 0.8"/>
</g>
</g>
<g id="text_43">
<text style="font-size: 10px; font-family: 'DejaVu Sans', sans-serif; text-anchor: middle" x="632.582707" y="591.318438" transform="rotate(-0 632.582707 591.318438)">400</text>
</g>
</g>
<g id="xtick_31">
<g id="line2d_37">
<g>
<use href="#mce7d612013" x="669.2400" y="577.0800" style="stroke: #000000; stroke-width: 0.8"/>
</g>
</g>
<g id="text_44">
<text style="font-size: 10px; font-family: 'DejaVu Sans', sans-serif; text-anchor: middle" x="669.110992" y="591.318438" transform="rotate(-0 669.110992 591.318438)">500</text>
</g>
</g>
<g id="xtick_32">
<g id="line2d_38">
<g>
<use href="#mce7d612013" x="705.9600" y="577.0800" style="stroke: #000000; stroke-width: 0.8"/>
</g>
</g>
<g id="text_45">
<text style="font-size: 10px; font-family: 'DejaVu Sans', sans-serif; text-anchor: middle" x="705.639278" y="591.318438" transform="rotate(-0 705.639278 591.318438)">600</text>
</g>
</g>
<g id="xtick_33">
<g id="line2d_39">
<g>
<use href="#mce7d612013" x="742.6800" y="577.0800" style="stroke: #000000; stroke-width: 0.8"/>
</g>
</g>
<g id="text_46">
<text style="font-size: 10px; font-family: 'DejaVu Sans', sans-serif; text-anchor: middle" x="742.167563" y="591.318438" transform="rotate(-0 742.167563 591.318438)">700</text>
</g>
</g>
</g>
<g id="matplotlib.axis_4">
<g id="ytick_4">
<g id="line2d_40">
<g>
<use href="#m246406a397" x="487.0800" y="577.0800" style="stroke: #000000; stroke-width: 0.8"/>
</g>
</g>
<g id="text_47">
<text style="font-size: 10px; font-family: 'DejaVu Sans', sans-serif; text-anchor: end" x="479.469565" y="580.519219" transform="rotate(-0 479.469565 580.519219)">0</text>
</g>
</g>
<g id="ytick_5">
<g id="line2d_41">
<g>
<use href="#m246406a397" x="487.0800" y="551.8800" style="stroke: #000000; stroke-width: 0.8"/>
</g>
</g>
<g id="text_48">
<text style="font-size: 10px; font-family: 'DejaVu Sans', sans-serif; text-anchor: end" x="479.469565" y="555.093858" transform="rotate(-0 479.469565 555.093858)">500</text>
</g>
</g>
<g id="ytick_6">
<g id="line2d_42">
<g>
<use href="#m246406a397" x="487.0800" y="525.9600" style="stroke: #000000; stroke-width: 0.8"/>
</g>
</g>
<g id="text_49">
<text style="font-size: 10px; font-family: 'DejaVu Sans', sans-serif; text-anchor: end" x="479.469565" y="529.668496" transform="rotate(-0 479.469565 529.668496)">1000</text>
</g>
</g>
<g id="ytick_7">
<g id="line2d_43">
<g>
<use href="#m246406a397" x="487.0800" y="500.7600" style="stroke: #000000; stroke-width: 0.8"/>
</g>
</g>
<g id="text_50">
<text style="font-size: 10px; font-family: 'DejaVu Sans', sans-serif; text-anchor: end" x="479.469565" y="504.243135" transform="rotate(-0 479.469565 504.243135)">1500</text>
</g>
</g>
</g>
<g id="patch_16">
<path d="M 487.0800 577.0800 
L 487.0800 482.0400 
" style="fill: none; stroke: #000000; stroke-width: 0.8; stroke-linejoin: miter; stroke-linecap: square"/>
</g>
<g id="patch_17">
<path d="M 777.9600 577.0800 
L 777.9600 482.0400 
" style="fill: none; stroke: #000000; stroke-width: 0.8; stroke-linejoin: miter; stroke-linecap: square"/>
</g>
<g id="patch_18">
<path d="M 487.0800 577.0800 
L 777.9600 577.0800 
" style="fill: none; stroke: #000000; stroke-width: 0.8; stroke-linejoin: miter; stroke-linecap: square"/>
</g>
<g id="patch_19">
<path d="M 487.0800 482.0400 
L 777.9600 482.0400 
" style="fill: none; stroke: #000000; stroke-width: 0.8; stroke-linejoin: miter; stroke-linecap: square"/>
</g>
<g id="text_51">
<text style="font-size: 12px; font-family: 'DejaVu Sans', sans-serif; text-anchor: middle" x="632.034783" y="475.68" transform="rotate(-0 632.034783 475.68)">Height Histogram</text>
</g>
<g id="legend_3" transform="translate(0,0.85)">
<g id="patch_20" transform="translate(0.5,-0.1)">
<path d="M 493.469565 504.358125 
L 558.527378 504.358125 
Q 560.527378 504.358125 560.527378 502.358125 
L 560.527378 488.68 
Q 560.527378 486.68 558.527378 486.68 
L 493.469565 486.68 
Q 491.469565 486.68 491.469565 488.68 
L 491.469565 502.358125 
Q 491.469565 504.358125 493.469565 504.358125 
z
" style="fill: #ffffff; opacity: 0.8; stroke: #cccccc; stroke-linejoin: miter"/>
</g>
<g id="patch_21">
<path d="M 495.3600 498.2400 
L 515.5200 498.2400 
L 515.5200 491.0400 
L 495.3600 491.0400 
z
" style="fill: #0000ff"/>
</g>
<g id="text_52">
<text style="font-size: 10px; font-family: 'DejaVu Sans', sans-serif; text-anchor: start" x="523.469565" y="498.278437" transform="rotate(-0 523.469565 498.278437)">Height</text>
</g>
</g>
</g>
</g>
<defs>
<clipPath id="p70e1b0653e">
<rect x="252.72" y="77.76" width="380.16" height="380.16"/>
</clipPath>
<clipPath id="p9150f11f40">
<rect x="205.9200" y="481.6800" width="95.0400" height="95.0400"/>
</clipPath>
<clipPath id="pe5ddb68075">
<rect x="486.469565" y="481.68" width="291.130435" height="95.04"/>
</clipPath>
</defs>
</svg>

</body></html>
